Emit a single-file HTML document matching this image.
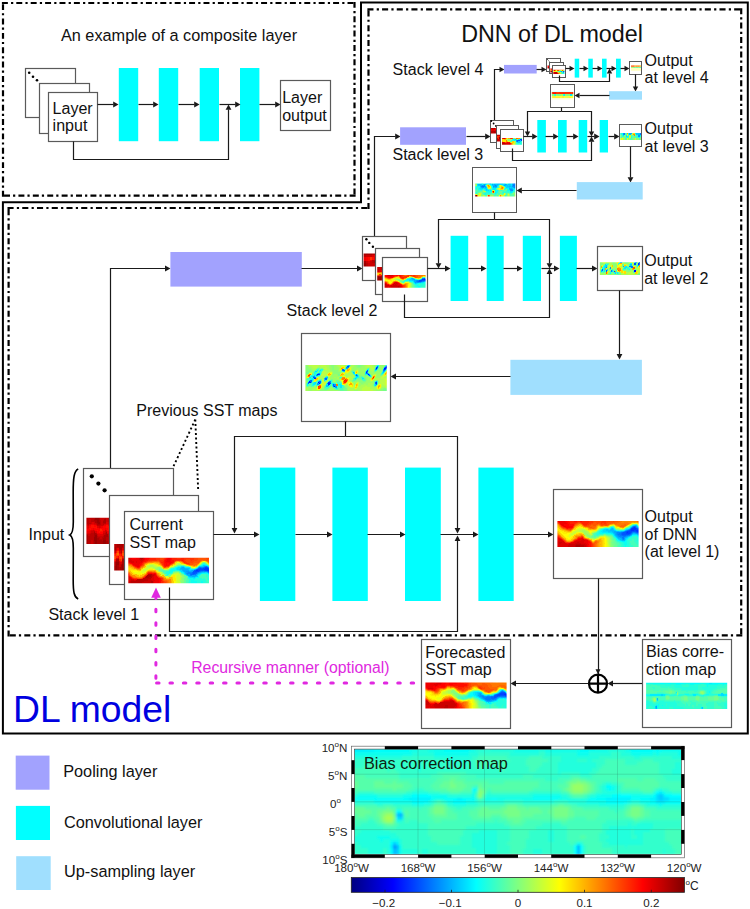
<!DOCTYPE html>
<html><head><meta charset="utf-8"><style>
html,body{margin:0;padding:0;background:#fff;width:750px;height:909px;overflow:hidden}
svg{display:block;font-family:"Liberation Sans",sans-serif}
</style></head><body>
<svg width="750" height="909" viewBox="0 0 750 909">
<defs><clipPath id="c1"><rect x="547.5" y="65.5" width="3.5" height="3"/></clipPath><clipPath id="c2"><rect x="550.3" y="68.5" width="3" height="4"/></clipPath><clipPath id="c3"><rect x="553.3" y="69.8" width="11.2" height="4.2"/></clipPath><clipPath id="c4"><rect x="631" y="65.2" width="10" height="5.5"/></clipPath><clipPath id="c5"><rect x="551.8" y="91.5" width="21.5" height="8"/></clipPath><clipPath id="c6"><rect x="490.9" y="127.9" width="5.5" height="5.7"/></clipPath><clipPath id="c7"><rect x="497" y="134.8" width="3.5" height="6.6"/></clipPath><clipPath id="c8"><rect x="502" y="138.1" width="20" height="6.6"/></clipPath><clipPath id="c9"><rect x="620.2" y="133.1" width="20.8" height="6.8"/></clipPath><clipPath id="c10"><rect x="475.2" y="183.6" width="40.1" height="13"/></clipPath><clipPath id="c11"><rect x="363.6" y="253.4" width="42" height="13.2"/></clipPath><clipPath id="c12"><rect x="377.2" y="267" width="41" height="13.4"/></clipPath><clipPath id="c13"><rect x="384.6" y="275.1" width="41" height="12.6"/></clipPath><clipPath id="c14"><rect x="599.8" y="262.2" width="40.2" height="12.9"/></clipPath><clipPath id="c15"><rect x="305.4" y="364.9" width="81.4" height="26.1"/></clipPath><clipPath id="c16"><rect x="86.4" y="517.7" width="23.5" height="26.2"/></clipPath><clipPath id="c17"><rect x="114.2" y="543.9" width="11" height="26.6"/></clipPath><clipPath id="c18"><rect x="128.3" y="557.7" width="80.7" height="25.6"/></clipPath><clipPath id="c19"><rect x="557.4" y="521" width="81.2" height="26"/></clipPath><clipPath id="c20"><rect x="425.4" y="682.6" width="81.2" height="25.8"/></clipPath><clipPath id="c21"><rect x="646.1" y="682.7" width="81.1" height="26.3"/></clipPath><clipPath id="c22"><rect x="354.6" y="749.2" width="326.6" height="105.4"/></clipPath><linearGradient id="jetg"><stop offset="0%" stop-color="#000080"/><stop offset="3.1%" stop-color="#00009f"/><stop offset="6.2%" stop-color="#0000bf"/><stop offset="9.4%" stop-color="#0000df"/><stop offset="12.5%" stop-color="#0000ff"/><stop offset="15.6%" stop-color="#0020ff"/><stop offset="18.8%" stop-color="#0040ff"/><stop offset="21.9%" stop-color="#0060ff"/><stop offset="25%" stop-color="#0080ff"/><stop offset="28.1%" stop-color="#009fff"/><stop offset="31.2%" stop-color="#00bfff"/><stop offset="34.4%" stop-color="#00dfff"/><stop offset="37.5%" stop-color="#00ffff"/><stop offset="40.6%" stop-color="#20ffdf"/><stop offset="43.8%" stop-color="#40ffbf"/><stop offset="46.9%" stop-color="#60ff9f"/><stop offset="50%" stop-color="#80ff80"/><stop offset="53.1%" stop-color="#9fff60"/><stop offset="56.2%" stop-color="#bfff40"/><stop offset="59.4%" stop-color="#dfff20"/><stop offset="62.5%" stop-color="#ffff00"/><stop offset="65.6%" stop-color="#ffdf00"/><stop offset="68.8%" stop-color="#ffbf00"/><stop offset="71.9%" stop-color="#ff9f00"/><stop offset="75%" stop-color="#ff8000"/><stop offset="78.1%" stop-color="#ff6000"/><stop offset="81.2%" stop-color="#ff4000"/><stop offset="84.4%" stop-color="#ff2000"/><stop offset="87.5%" stop-color="#ff0000"/><stop offset="90.6%" stop-color="#df0000"/><stop offset="93.8%" stop-color="#bf0000"/><stop offset="96.9%" stop-color="#9f0000"/><stop offset="100%" stop-color="#800000"/></linearGradient><filter id="bl0_3" x="-5%" y="-20%" width="110%" height="140%"><feGaussianBlur stdDeviation="0.3"/></filter><filter id="bl0_6" x="-5%" y="-20%" width="110%" height="140%"><feGaussianBlur stdDeviation="0.6"/></filter><filter id="bl0_55" x="-5%" y="-20%" width="110%" height="140%"><feGaussianBlur stdDeviation="0.55"/></filter><filter id="bl1_0" x="-5%" y="-20%" width="110%" height="140%"><feGaussianBlur stdDeviation="1.0"/></filter><filter id="bl0_4" x="-5%" y="-20%" width="110%" height="140%"><feGaussianBlur stdDeviation="0.4"/></filter><filter id="bl0_45" x="-5%" y="-20%" width="110%" height="140%"><feGaussianBlur stdDeviation="0.45"/></filter><filter id="bl0_35" x="-5%" y="-20%" width="110%" height="140%"><feGaussianBlur stdDeviation="0.35"/></filter><filter id="bl0_5" x="-5%" y="-20%" width="110%" height="140%"><feGaussianBlur stdDeviation="0.5"/></filter></defs>
<rect width="750" height="909" fill="#fff"/>
<path d="M3 3 L354.5 3" stroke="#000" stroke-width="2.2" stroke-dasharray="3.76 5.38 0.01 5.25" stroke-linecap="square" fill="none"/><path d="M354.5 3 L354.5 195.7" stroke="#000" stroke-width="2.2" stroke-dasharray="3.74 5.37 0.01 5.24" stroke-linecap="square" fill="none"/><path d="M354.5 195.7 L3 195.7" stroke="#000" stroke-width="2.2" stroke-dasharray="3.76 5.38 0.01 5.25" stroke-linecap="square" fill="none"/><path d="M3 195.7 L3 3" stroke="#000" stroke-width="2.2" stroke-dasharray="3.74 5.37 0.01 5.24" stroke-linecap="square" fill="none"/><path d="M2.9 202.2 H361 V2.6 H747.8 V733.6 H2.9 Z" fill="none" stroke="#000" stroke-width="2"/><path d="M8.6 208 L368.5 208" stroke="#000" stroke-width="2.2" stroke-dasharray="3.90 5.45 0.01 5.38" stroke-linecap="square" fill="none"/><path d="M368.5 208 L368.5 9.3" stroke="#000" stroke-width="2.2" stroke-dasharray="3.93 5.47 0.01 5.41" stroke-linecap="square" fill="none"/><path d="M368.5 9.3 L741.2 9.3" stroke="#000" stroke-width="2.2" stroke-dasharray="3.87 5.44 0.01 5.35" stroke-linecap="square" fill="none"/><path d="M741.2 9.3 L741.2 635.4" stroke="#000" stroke-width="2.2" stroke-dasharray="3.77 5.38 0.01 5.26" stroke-linecap="square" fill="none"/><path d="M741.2 635.4 L8.6 635.4" stroke="#000" stroke-width="2.2" stroke-dasharray="3.81 5.41 0.01 5.30" stroke-linecap="square" fill="none"/><path d="M8.6 635.4 L8.6 208" stroke="#000" stroke-width="2.2" stroke-dasharray="3.81 5.41 0.01 5.30" stroke-linecap="square" fill="none"/><rect x="25.5" y="68.5" width="50" height="49" fill="#fff" stroke="#5a5a5a" stroke-width="1.2"/><rect x="39.5" y="83.5" width="50" height="50" fill="#fff" stroke="#5a5a5a" stroke-width="1.2"/><rect x="48.5" y="92.5" width="49" height="49" fill="#fff" stroke="#5a5a5a" stroke-width="1.2"/><circle cx="29.2" cy="72.7" r="1.3" fill="#000"/><circle cx="33" cy="76.8" r="1.3" fill="#000"/><circle cx="37" cy="80.2" r="1.3" fill="#000"/><rect x="118.8" y="68" width="19.4" height="73.2" fill="#00ffff"/><rect x="158.8" y="68" width="19.4" height="73.2" fill="#00ffff"/><rect x="199.7" y="68" width="19.3" height="73.2" fill="#00ffff"/><rect x="240" y="68" width="19.4" height="73.2" fill="#00ffff"/><path d="M97.5 104.5 L113.5 104.5" fill="none" stroke="#1a1a1a" stroke-width="1.2"/><path d="M118.5 104.5 L113.2 101.6 L113.2 107.4 Z" fill="#1a1a1a"/><path d="M138.5 104.5 L153.5 104.5" fill="none" stroke="#1a1a1a" stroke-width="1.2"/><path d="M158.5 104.5 L153.2 101.6 L153.2 107.4 Z" fill="#1a1a1a"/><path d="M178.5 104.5 L194.5 104.5" fill="none" stroke="#1a1a1a" stroke-width="1.2"/><path d="M199.5 104.5 L194.2 101.6 L194.2 107.4 Z" fill="#1a1a1a"/><path d="M219.5 104.5 L235.5 104.5" fill="none" stroke="#1a1a1a" stroke-width="1.2"/><path d="M240.5 104.5 L235.2 101.6 L235.2 107.4 Z" fill="#1a1a1a"/><path d="M259.5 104.5 L275.5 104.5" fill="none" stroke="#1a1a1a" stroke-width="1.2"/><path d="M280.5 104.5 L275.2 101.6 L275.2 107.4 Z" fill="#1a1a1a"/><rect x="280.5" y="80.5" width="50" height="50" fill="#fff" stroke="#5a5a5a" stroke-width="1.2"/><path d="M73.5 141.5 L73.5 159.5 L228.5 159.5 L228.5 109.5" fill="none" stroke="#1a1a1a" stroke-width="1.2"/><path d="M228.5 104.5 L225.6 109.8 L231.4 109.8 Z" fill="#1a1a1a"/><path d="M494.5 120.5 L494.5 69.5 L500.5 69.5" fill="none" stroke="#1a1a1a" stroke-width="1.2"/><path d="M504.5 69.5 L499.5 66.8 L499.5 72.2 Z" fill="#1a1a1a"/><rect x="504" y="64.9" width="32.7" height="8.6" fill="#a2a2fe"/><path d="M536.5 69.5 L542.5 69.5" fill="none" stroke="#1a1a1a" stroke-width="1.2"/><path d="M546.5 69.5 L541.5 66.8 L541.5 72.2 Z" fill="#1a1a1a"/><rect x="546.5" y="58.5" width="14" height="13" fill="#fff" stroke="#5a5a5a" stroke-width="1"/><g clip-path="url(#c1)"><g filter="url(#bl0_3)"><g shape-rendering="crispEdges"><path fill="#a00" d="M546.6 63.5h2.1v1.4h-2.1zM550.1 63.5h2.1v1.4h-2.1zM546.6 64.5h2.1v1.4h-2.1zM550.1 64.5h2.1v1.4h-2.1z"/><path fill="#900" d="M548.4 63.5h1.3v1.4h-1.3zM548.4 64.5h1.3v1.4h-1.3zM546.6 66.5h2.1v1.4h-2.1zM549.2 66.5h1.3v1.4h-1.3zM546.6 67.5h2.1v1.4h-2.1zM549.2 67.5h1.3v1.4h-1.3z"/><path fill="#b00" d="M549.2 63.5h1.3v1.4h-1.3zM549.2 64.5h1.3v1.4h-1.3zM548.4 66.5h1.3v1.4h-1.3zM548.4 67.5h1.3v1.4h-1.3z"/><path fill="#f10" d="M546.6 65.5h2.1v1.4h-2.1zM549.2 65.5h3v1.4h-3z"/><path fill="#f00" d="M548.4 65.5h1.3v1.4h-1.3z"/><path fill="#c00" d="M550.1 66.5h2.1v1.4h-2.1zM550.1 67.5h2.1v1.4h-2.1z"/></g></g></g><path d="M547.3 59.3 L550 62.2" stroke="#000" stroke-width="1" stroke-dasharray="1 0.8"/><rect x="549.5" y="62.5" width="14" height="11" fill="#fff" stroke="#5a5a5a" stroke-width="1"/><g clip-path="url(#c2)"><g filter="url(#bl0_3)"><g shape-rendering="crispEdges"><path fill="#b00" d="M549.3 66.5h2.4v1.4h-2.4zM552.3 66.5h2.4v1.4h-2.4zM549.3 67.5h2.4v1.4h-2.4zM552.3 67.5h2.4v1.4h-2.4zM552.3 70.5h2.4v1.4h-2.4zM552.3 71.5h2.4v1.4h-2.4z"/><path fill="#c00" d="M551.3 66.5h1.4v1.4h-1.4zM551.3 67.5h1.4v1.4h-1.4z"/><path fill="#f50" d="M549.3 68.5h2.4v1.4h-2.4z"/><path fill="#f20" d="M551.3 68.5h1.4v1.4h-1.4z"/><path fill="#f90" d="M552.3 68.5h2.4v1.4h-2.4z"/><path fill="#f60" d="M549.3 69.5h2.4v1.4h-2.4z"/><path fill="#f70" d="M551.3 69.5h1.4v1.4h-1.4z"/><path fill="#e00" d="M552.3 69.5h2.4v1.4h-2.4z"/><path fill="#a00" d="M549.3 70.5h2.4v1.4h-2.4zM549.3 71.5h2.4v1.4h-2.4z"/><path fill="#900" d="M551.3 70.5h1.4v1.4h-1.4zM551.3 71.5h1.4v1.4h-1.4z"/></g></g></g><rect x="552.5" y="65.5" width="13" height="12" fill="#fff" stroke="#5a5a5a" stroke-width="1"/><g clip-path="url(#c3)"><g filter="url(#bl0_35)"><g shape-rendering="crispEdges"><path fill="#e00" d="M552.4 68.1h2.3v1.2h-2.3zM552.4 69h2.3v1.2h-2.3zM557 72.3h1.3v1.2h-1.3zM557 73.2h1.3v1.2h-1.3z"/><path fill="#f20" d="M554.2 68.1h2.3v1.2h-2.3zM554.2 69h2.3v1.2h-2.3z"/><path fill="#f30" d="M556.1 68.1h1.3v1.2h-1.3zM556.1 69h1.3v1.2h-1.3zM552.4 71.5h2.3v1.2h-2.3z"/><path fill="#f40" d="M557 68.1h2.3v1.2h-2.3zM557 69h2.3v1.2h-2.3zM558 69.8h1.3v1.2h-1.3zM554.2 71.5h1.3v1.2h-1.3z"/><path fill="#f50" d="M558.9 68.1h1.3v1.2h-1.3zM560.8 68.1h1.3v1.2h-1.3zM562.6 68.1h1.3v1.2h-1.3zM558.9 69h1.3v1.2h-1.3zM560.8 69h1.3v1.2h-1.3zM562.6 69h1.3v1.2h-1.3zM557 69.8h1.3v1.2h-1.3zM561.7 69.8h1.3v1.2h-1.3zM558 72.3h1.3v1.2h-1.3zM558 73.2h1.3v1.2h-1.3z"/><path fill="#f60" d="M559.8 68.1h1.3v1.2h-1.3zM561.7 68.1h1.3v1.2h-1.3zM563.6 68.1h2.3v1.2h-2.3zM559.8 69h1.3v1.2h-1.3zM561.7 69h1.3v1.2h-1.3zM563.6 69h2.3v1.2h-2.3zM552.4 69.8h2.3v1.2h-2.3zM555.2 71.5h1.3v1.2h-1.3zM557 71.5h1.3v1.2h-1.3z"/><path fill="#f00" d="M554.2 69.8h1.3v1.2h-1.3z"/><path fill="#f80" d="M555.2 69.8h1.3v1.2h-1.3z"/><path fill="#ff0" d="M556.1 69.8h1.3v1.2h-1.3zM560.8 69.8h1.3v1.2h-1.3z"/><path fill="#fd0" d="M558.9 69.8h1.3v1.2h-1.3zM554.2 70.6h1.3v1.2h-1.3z"/><path fill="#8f7" d="M559.8 69.8h1.3v1.2h-1.3zM563.6 69.8h2.3v1.2h-2.3zM557 70.6h1.3v1.2h-1.3z"/><path fill="#df2" d="M562.6 69.8h1.3v1.2h-1.3z"/><path fill="#fe0" d="M552.4 70.6h2.3v1.2h-2.3zM558.9 71.5h1.3v1.2h-1.3z"/><path fill="#ef1" d="M555.2 70.6h1.3v1.2h-1.3z"/><path fill="#cf3" d="M556.1 70.6h1.3v1.2h-1.3zM559.8 72.3h1.3v1.2h-1.3zM559.8 73.2h1.3v1.2h-1.3z"/><path fill="#7f8" d="M558 70.6h1.3v1.2h-1.3z"/><path fill="#0ff" d="M558.9 70.6h1.3v1.2h-1.3z"/><path fill="#0df" d="M559.8 70.6h1.3v1.2h-1.3z"/><path fill="#09f" d="M560.8 70.6h1.3v1.2h-1.3zM561.7 71.5h1.3v1.2h-1.3z"/><path fill="#4fb" d="M561.7 70.6h1.3v1.2h-1.3z"/><path fill="#05f" d="M562.6 70.6h1.3v1.2h-1.3z"/><path fill="#04f" d="M563.6 70.6h2.3v1.2h-2.3z"/><path fill="#d00" d="M556.1 71.5h1.3v1.2h-1.3zM552.4 72.3h2.3v1.2h-2.3zM552.4 73.2h2.3v1.2h-2.3z"/><path fill="#af5" d="M558 71.5h1.3v1.2h-1.3z"/><path fill="#bf4" d="M559.8 71.5h1.3v1.2h-1.3z"/><path fill="#2fd" d="M560.8 71.5h1.3v1.2h-1.3zM563.6 71.5h2.3v1.2h-2.3zM562.6 72.3h3.2v1.2h-3.2zM562.6 73.2h3.2v1.2h-3.2z"/><path fill="#0bf" d="M562.6 71.5h1.3v1.2h-1.3z"/><path fill="#c00" d="M554.2 72.3h1.3v1.2h-1.3zM556.1 72.3h1.3v1.2h-1.3zM554.2 73.2h1.3v1.2h-1.3zM556.1 73.2h1.3v1.2h-1.3z"/><path fill="#b00" d="M555.2 72.3h1.3v1.2h-1.3zM555.2 73.2h1.3v1.2h-1.3z"/><path fill="#fc0" d="M558.9 72.3h1.3v1.2h-1.3zM558.9 73.2h1.3v1.2h-1.3z"/><path fill="#6f9" d="M560.8 72.3h1.3v1.2h-1.3zM560.8 73.2h1.3v1.2h-1.3z"/><path fill="#3fc" d="M561.7 72.3h1.3v1.2h-1.3zM561.7 73.2h1.3v1.2h-1.3z"/></g></g></g><rect x="574.7" y="58.7" width="4.5" height="18.9" fill="#00ffff"/><rect x="588.3" y="58.7" width="4.5" height="18.9" fill="#00ffff"/><rect x="602" y="58.7" width="4.6" height="18.9" fill="#00ffff"/><rect x="616" y="58.7" width="4.8" height="18.9" fill="#00ffff"/><path d="M565.5 68.5 L570.5 68.5" fill="none" stroke="#1a1a1a" stroke-width="1.2"/><path d="M574.5 68.5 L569.5 65.8 L569.5 71.2 Z" fill="#1a1a1a"/><path d="M579.5 68.5 L584.5 68.5" fill="none" stroke="#1a1a1a" stroke-width="1.2"/><path d="M588.5 68.5 L583.5 65.8 L583.5 71.2 Z" fill="#1a1a1a"/><path d="M592.5 68.5 L598.5 68.5" fill="none" stroke="#1a1a1a" stroke-width="1.2"/><path d="M602.5 68.5 L597.5 65.8 L597.5 71.2 Z" fill="#1a1a1a"/><path d="M606.5 68.5 L612.5 68.5" fill="none" stroke="#1a1a1a" stroke-width="1.2"/><path d="M616.5 68.5 L611.5 65.8 L611.5 71.2 Z" fill="#1a1a1a"/><path d="M620.5 68.5 L625.5 68.5" fill="none" stroke="#1a1a1a" stroke-width="1.2"/><path d="M629.5 68.5 L624.5 65.8 L624.5 71.2 Z" fill="#1a1a1a"/><rect x="629.5" y="61.5" width="12" height="13" fill="#fff" stroke="#5a5a5a" stroke-width="1"/><g clip-path="url(#c4)"><g filter="url(#bl0_35)"><g shape-rendering="crispEdges"><path fill="#ffb" d="M630 63.4h12.4v1.3h-12.4zM630 64.3h12.4v1.3h-12.4zM630 68h12.4v1.3h-12.4zM630 68.9h12.4v1.3h-12.4zM630 69.8h12.4v1.3h-12.4z"/><path fill="#f84" d="M630 65.2h3.4v1.3h-3.4z"/><path fill="#f74" d="M633 65.2h1.4v1.3h-1.4zM630 66.1h4.4v1.3h-4.4z"/><path fill="#fa4" d="M634 65.2h1.4v1.3h-1.4zM636 65.2h3.4v1.3h-3.4zM634 66.1h2.4v1.3h-2.4zM637 66.1h1.4v1.3h-1.4zM639 66.1h1.4v1.3h-1.4z"/><path fill="#fb4" d="M635 65.2h1.4v1.3h-1.4zM639 65.2h1.4v1.3h-1.4z"/><path fill="#fc4" d="M640 65.2h2.4v1.3h-2.4zM640 66.1h2.4v1.3h-2.4z"/><path fill="#f94" d="M636 66.1h1.4v1.3h-1.4zM638 66.1h1.4v1.3h-1.4z"/><path fill="#af8" d="M630 67h2.4v1.3h-2.4z"/><path fill="#af7" d="M632 67h2.4v1.3h-2.4z"/><path fill="#7fa" d="M634 67h1.4v1.3h-1.4zM639 67h1.4v1.3h-1.4z"/><path fill="#8fa" d="M635 67h1.4v1.3h-1.4z"/><path fill="#8f9" d="M636 67h1.4v1.3h-1.4z"/><path fill="#6fb" d="M637 67h1.4v1.3h-1.4z"/><path fill="#9f9" d="M638 67h1.4v1.3h-1.4z"/><path fill="#5fc" d="M640 67h2.4v1.3h-2.4z"/></g></g></g><path d="M559.5 75.5 L559.5 81.5 L609.5 81.5 L609.5 73.5" fill="none" stroke="#1a1a1a" stroke-width="1.2"/><path d="M609.5 68.5 L606.8 73.5 L612.2 73.5 Z" fill="#1a1a1a"/><path d="M635.5 74.5 L635.5 87.5" fill="none" stroke="#1a1a1a" stroke-width="1.2"/><path d="M635.5 91.5 L632.8 86.5 L638.2 86.5 Z" fill="#1a1a1a"/><rect x="609" y="91.2" width="33" height="8.5" fill="#a0dffe"/><path d="M609.5 95.5 L579.5 95.5" fill="none" stroke="#1a1a1a" stroke-width="1.2"/><path d="M574.5 95.5 L579.5 92.8 L579.5 98.2 Z" fill="#1a1a1a"/><rect x="550.5" y="84.5" width="24" height="23" fill="#fff" stroke="#5a5a5a" stroke-width="1"/><g clip-path="url(#c5)"><g filter="url(#bl0_35)"><g shape-rendering="crispEdges"><path fill="#cff" d="M550.8 89.5h23.9v1.4h-23.9zM550.8 90.5h23.9v1.4h-23.9z"/><path fill="#f40" d="M550.8 91.5h2.4v1.4h-2.4zM556.7 91.5h2.4v1.4h-2.4zM570.4 91.5h2.4v1.4h-2.4zM550.8 92.5h2.4v1.4h-2.4zM571.3 92.5h1.4v1.4h-1.4z"/><path fill="#f20" d="M552.8 91.5h3.3v1.4h-3.3zM559.6 92.5h5.3v1.4h-5.3zM572.3 92.5h2.4v1.4h-2.4z"/><path fill="#f30" d="M555.7 91.5h1.4v1.4h-1.4zM558.6 91.5h12.1v1.4h-12.1zM572.3 91.5h2.4v1.4h-2.4zM555.7 92.5h4.3v1.4h-4.3zM564.5 92.5h7.2v1.4h-7.2z"/><path fill="#f10" d="M552.8 92.5h3.3v1.4h-3.3z"/><path fill="#7f8" d="M550.8 93.5h2.4v1.4h-2.4zM556.7 93.5h2.4v1.4h-2.4zM567.4 93.5h1.4v1.4h-1.4zM571.3 93.5h1.4v1.4h-1.4zM550.8 94.5h2.4v1.4h-2.4zM557.7 94.5h1.4v1.4h-1.4zM566.5 94.5h2.4v1.4h-2.4z"/><path fill="#af5" d="M552.8 93.5h1.4v1.4h-1.4zM560.6 93.5h2.4v1.4h-2.4zM552.8 94.5h1.4v1.4h-1.4zM560.6 94.5h2.4v1.4h-2.4z"/><path fill="#3fc" d="M553.8 93.5h1.4v1.4h-1.4zM553.8 94.5h1.4v1.4h-1.4z"/><path fill="#2fd" d="M554.7 93.5h1.4v1.4h-1.4zM554.7 94.5h1.4v1.4h-1.4z"/><path fill="#9f6" d="M555.7 93.5h1.4v1.4h-1.4zM564.5 93.5h1.4v1.4h-1.4zM555.7 94.5h1.4v1.4h-1.4zM564.5 94.5h1.4v1.4h-1.4z"/><path fill="#8f7" d="M558.6 93.5h2.4v1.4h-2.4zM565.5 93.5h2.4v1.4h-2.4zM568.4 93.5h2.4v1.4h-2.4zM572.3 93.5h2.4v1.4h-2.4zM556.7 94.5h1.4v1.4h-1.4zM558.6 94.5h2.4v1.4h-2.4zM565.5 94.5h1.4v1.4h-1.4zM568.4 94.5h2.4v1.4h-2.4zM571.3 94.5h3.3v1.4h-3.3z"/><path fill="#1fe" d="M562.5 93.5h1.4v1.4h-1.4zM562.5 94.5h1.4v1.4h-1.4z"/><path fill="#0ef" d="M563.5 93.5h1.4v1.4h-1.4zM563.5 94.5h1.4v1.4h-1.4zM570.4 94.5h1.4v1.4h-1.4z"/><path fill="#0df" d="M570.4 93.5h1.4v1.4h-1.4z"/><path fill="#ef4" d="M550.8 95.5h2.4v1.4h-2.4zM564.5 95.5h4.3v1.4h-4.3zM571.3 95.5h3.3v1.4h-3.3zM564.5 96.5h2.4v1.4h-2.4zM568.4 96.5h1.4v1.4h-1.4z"/><path fill="#fe3" d="M552.8 95.5h3.3v1.4h-3.3zM561.6 95.5h2.4v1.4h-2.4zM552.8 96.5h7.2v1.4h-7.2zM561.6 96.5h2.4v1.4h-2.4zM569.4 96.5h2.4v1.4h-2.4z"/><path fill="#ff3" d="M555.7 95.5h6.3v1.4h-6.3zM563.5 95.5h1.4v1.4h-1.4zM568.4 95.5h3.3v1.4h-3.3zM550.8 96.5h2.4v1.4h-2.4zM559.6 96.5h2.4v1.4h-2.4zM563.5 96.5h1.4v1.4h-1.4zM571.3 96.5h3.3v1.4h-3.3z"/><path fill="#df5" d="M566.5 96.5h2.4v1.4h-2.4z"/><path fill="#ffc" d="M550.8 97.5h23.9v1.4h-23.9zM550.8 98.5h23.9v1.4h-23.9z"/></g></g></g><path d="M561.5 107.5 L561.5 111.5" fill="none" stroke="#1a1a1a" stroke-width="1.2"/><path d="M561.5 111.5 L527.5 111.5 L527.5 132.5" fill="none" stroke="#1a1a1a" stroke-width="1.2"/><path d="M527.5 136.5 L524.8 131.5 L530.2 131.5 Z" fill="#1a1a1a"/><path d="M561.5 111.5 L591.5 111.5 L591.5 132.5" fill="none" stroke="#1a1a1a" stroke-width="1.2"/><path d="M591.5 136.5 L588.8 131.5 L594.2 131.5 Z" fill="#1a1a1a"/><path d="M374.5 236.5 L374.5 136.5 L395.5 136.5" fill="none" stroke="#1a1a1a" stroke-width="1.2"/><path d="M400.5 136.5 L395.2 133.6 L395.2 139.4 Z" fill="#1a1a1a"/><rect x="400.1" y="127.3" width="65.9" height="17.5" fill="#a2a2fe"/><path d="M466.5 136.5 L485.5 136.5" fill="none" stroke="#1a1a1a" stroke-width="1.2"/><path d="M490.5 136.5 L485.2 133.6 L485.2 139.4 Z" fill="#1a1a1a"/><rect x="490.5" y="120.5" width="23" height="22" fill="#fff" stroke="#5a5a5a" stroke-width="1"/><g clip-path="url(#c6)"><g filter="url(#bl0_3)"><g shape-rendering="crispEdges"><path fill="#c00" d="M489.5 125.1h4.5v1.8h-4.5zM489.5 126.5h4.5v1.8h-4.5zM489.5 127.9h3.1v1.8h-3.1zM495 129.3h3.1v1.8h-3.1z"/><path fill="#a00" d="M493.6 125.1h1.8v1.8h-1.8zM493.6 126.5h1.8v1.8h-1.8zM493.6 127.9h1.8v1.8h-1.8zM493.6 130.8h1.8v1.8h-1.8zM493.6 132.2h1.8v1.8h-1.8z"/><path fill="#b00" d="M495 125.1h3.1v1.8h-3.1zM495 126.5h3.1v1.8h-3.1zM492.3 127.9h1.8v1.8h-1.8zM489.5 130.8h4.5v1.8h-4.5zM495 130.8h3.1v1.8h-3.1zM489.5 132.2h4.5v1.8h-4.5zM495 132.2h3.1v1.8h-3.1z"/><path fill="#f00" d="M495 127.9h3.1v1.8h-3.1z"/><path fill="#e00" d="M489.5 129.3h3.1v1.8h-3.1zM493.6 129.3h1.8v1.8h-1.8z"/><path fill="#d00" d="M492.3 129.3h1.8v1.8h-1.8z"/></g></g></g><circle cx="491.3" cy="121" r="0.9" fill="#000"/><circle cx="493.6" cy="123.5" r="0.9" fill="#000"/><circle cx="495.9" cy="125.9" r="0.9" fill="#000"/><rect x="496.5" y="125.5" width="22" height="23" fill="#fff" stroke="#5a5a5a" stroke-width="1"/><g clip-path="url(#c7)"><g filter="url(#bl0_3)"><g shape-rendering="crispEdges"><path fill="#b00" d="M495.8 132.2h3.9v1.7h-3.9zM495.8 133.5h3.9v1.7h-3.9zM498.2 134.8h1.6v1.7h-1.6zM495.8 138.8h2.7v1.7h-2.7zM499.3 138.8h2.7v1.7h-2.7zM495.8 140.1h2.7v1.7h-2.7zM499.3 140.1h2.7v1.7h-2.7z"/><path fill="#a00" d="M499.3 132.2h2.7v1.7h-2.7zM499.3 133.5h2.7v1.7h-2.7z"/><path fill="#c00" d="M495.8 134.8h2.7v1.7h-2.7zM499.3 134.8h2.7v1.7h-2.7zM495.8 137.4h2.7v1.7h-2.7zM498.2 138.8h1.6v1.7h-1.6zM498.2 140.1h1.6v1.7h-1.6z"/><path fill="#f30" d="M495.8 136.1h3.9v1.7h-3.9z"/><path fill="#f10" d="M499.3 136.1h2.7v1.7h-2.7z"/><path fill="#f20" d="M498.2 137.4h1.6v1.7h-1.6z"/><path fill="#900" d="M499.3 137.4h2.7v1.7h-2.7z"/></g></g></g><rect x="500.5" y="129.5" width="23" height="22" fill="#fff" stroke="#5a5a5a" stroke-width="1"/><g clip-path="url(#c8)"><g filter="url(#bl0_3)"><g shape-rendering="crispEdges"><path fill="#c00" d="M500.8 135.9h2.9v1.5h-2.9zM500.8 137h2.9v1.5h-2.9zM504.5 142.5h1.6v1.5h-1.6zM508.2 142.5h1.6v1.5h-1.6zM504.5 143.6h1.6v1.5h-1.6zM508.2 143.6h1.6v1.5h-1.6z"/><path fill="#e00" d="M503.2 135.9h1.6v1.5h-1.6zM503.2 137h1.6v1.5h-1.6zM507 141.4h1.6v1.5h-1.6z"/><path fill="#f00" d="M504.5 135.9h4.2v1.5h-4.2zM504.5 137h4.2v1.5h-4.2zM503.2 141.4h1.6v1.5h-1.6zM508.2 141.4h1.6v1.5h-1.6z"/><path fill="#f10" d="M508.2 135.9h2.9v1.5h-2.9zM508.2 137h2.9v1.5h-2.9zM509.5 142.5h1.6v1.5h-1.6zM509.5 143.6h1.6v1.5h-1.6z"/><path fill="#f20" d="M510.8 135.9h5.4v1.5h-5.4zM510.8 137h5.4v1.5h-5.4zM500.8 138.1h2.9v1.5h-2.9zM510.8 138.1h1.6v1.5h-1.6zM505.8 141.4h1.6v1.5h-1.6z"/><path fill="#f40" d="M515.8 135.9h2.9v1.5h-2.9zM515.8 137h2.9v1.5h-2.9zM509.5 138.1h1.6v1.5h-1.6zM512 138.1h1.6v1.5h-1.6z"/><path fill="#f50" d="M518.2 135.9h1.6v1.5h-1.6zM520.8 135.9h2.9v1.5h-2.9zM518.2 137h1.6v1.5h-1.6zM520.8 137h2.9v1.5h-2.9zM504.5 141.4h1.6v1.5h-1.6z"/><path fill="#f60" d="M519.5 135.9h1.6v1.5h-1.6zM519.5 137h1.6v1.5h-1.6zM515.8 138.1h1.6v1.5h-1.6zM510.8 142.5h1.6v1.5h-1.6zM510.8 143.6h1.6v1.5h-1.6z"/><path fill="#d00" d="M503.2 138.1h1.6v1.5h-1.6zM500.8 141.4h2.9v1.5h-2.9zM505.8 142.5h2.9v1.5h-2.9zM505.8 143.6h2.9v1.5h-2.9z"/><path fill="#f30" d="M504.5 138.1h1.6v1.5h-1.6z"/><path fill="#fb0" d="M505.8 138.1h1.6v1.5h-1.6zM503.2 139.2h2.9v1.5h-2.9zM500.8 140.3h2.9v1.5h-2.9zM507 140.3h1.6v1.5h-1.6zM509.5 141.4h1.6v1.5h-1.6zM512 142.5h1.6v1.5h-1.6zM512 143.6h1.6v1.5h-1.6z"/><path fill="#ef1" d="M507 138.1h1.6v1.5h-1.6zM510.8 141.4h1.6v1.5h-1.6z"/><path fill="#fa0" d="M508.2 138.1h1.6v1.5h-1.6z"/><path fill="#7f8" d="M513.2 138.1h1.6v1.5h-1.6z"/><path fill="#df2" d="M514.5 138.1h1.6v1.5h-1.6zM508.2 140.3h1.6v1.5h-1.6zM513.2 141.4h1.6v1.5h-1.6zM513.2 142.5h1.6v1.5h-1.6zM513.2 143.6h1.6v1.5h-1.6z"/><path fill="#f70" d="M517 138.1h1.6v1.5h-1.6z"/><path fill="#f90" d="M518.2 138.1h1.6v1.5h-1.6z"/><path fill="#5fa" d="M519.5 138.1h1.6v1.5h-1.6zM509.5 140.3h1.6v1.5h-1.6z"/><path fill="#4fb" d="M520.8 138.1h2.9v1.5h-2.9zM515.8 142.5h1.6v1.5h-1.6zM515.8 143.6h1.6v1.5h-1.6z"/><path fill="#fd0" d="M500.8 139.2h2.9v1.5h-2.9z"/><path fill="#cf3" d="M505.8 139.2h1.6v1.5h-1.6zM510.8 139.2h1.6v1.5h-1.6z"/><path fill="#af5" d="M507 139.2h1.6v1.5h-1.6zM513.2 140.3h1.6v1.5h-1.6z"/><path fill="#8f7" d="M508.2 139.2h2.9v1.5h-2.9zM514.5 142.5h1.6v1.5h-1.6zM514.5 143.6h1.6v1.5h-1.6z"/><path fill="#1fe" d="M512 139.2h1.6v1.5h-1.6zM519.5 142.5h1.6v1.5h-1.6zM519.5 143.6h1.6v1.5h-1.6z"/><path fill="#0ef" d="M513.2 139.2h1.6v1.5h-1.6zM515.8 139.2h1.6v1.5h-1.6z"/><path fill="#0bf" d="M514.5 139.2h1.6v1.5h-1.6zM520.8 140.3h2.9v1.5h-2.9z"/><path fill="#bf4" d="M517 139.2h1.6v1.5h-1.6z"/><path fill="#0df" d="M518.2 139.2h1.6v1.5h-1.6zM517 141.4h1.6v1.5h-1.6z"/><path fill="#04f" d="M519.5 139.2h1.6v1.5h-1.6z"/><path fill="#03f" d="M520.8 139.2h2.9v1.5h-2.9z"/><path fill="#fe0" d="M503.2 140.3h2.9v1.5h-2.9z"/><path fill="#f80" d="M505.8 140.3h1.6v1.5h-1.6z"/><path fill="#3fc" d="M510.8 140.3h1.6v1.5h-1.6zM520.8 141.4h2.9v1.5h-2.9zM518.2 142.5h1.6v1.5h-1.6zM520.8 142.5h2.9v1.5h-2.9zM518.2 143.6h1.6v1.5h-1.6zM520.8 143.6h2.9v1.5h-2.9z"/><path fill="#2fd" d="M512 140.3h1.6v1.5h-1.6zM514.5 140.3h1.6v1.5h-1.6zM515.8 141.4h1.6v1.5h-1.6zM519.5 141.4h1.6v1.5h-1.6zM517 142.5h1.6v1.5h-1.6zM517 143.6h1.6v1.5h-1.6z"/><path fill="#09f" d="M515.8 140.3h1.6v1.5h-1.6z"/><path fill="#06f" d="M517 140.3h1.6v1.5h-1.6z"/><path fill="#05f" d="M518.2 140.3h1.6v1.5h-1.6z"/><path fill="#0cf" d="M519.5 140.3h1.6v1.5h-1.6zM518.2 141.4h1.6v1.5h-1.6z"/><path fill="#fc0" d="M512 141.4h1.6v1.5h-1.6z"/><path fill="#9f6" d="M514.5 141.4h1.6v1.5h-1.6z"/><path fill="#b00" d="M500.8 142.5h4.2v1.5h-4.2zM500.8 143.6h4.2v1.5h-4.2z"/></g></g></g><rect x="537.3" y="120" width="8.6" height="32.5" fill="#00ffff"/><rect x="558" y="120" width="8.7" height="32.5" fill="#00ffff"/><rect x="578.7" y="120" width="8.5" height="32.5" fill="#00ffff"/><rect x="599.7" y="120" width="8.3" height="32.5" fill="#00ffff"/><path d="M523.5 136.5 L532.5 136.5" fill="none" stroke="#1a1a1a" stroke-width="1.2"/><path d="M537.5 136.5 L532.2 133.6 L532.2 139.4 Z" fill="#1a1a1a"/><path d="M545.5 136.5 L553.5 136.5" fill="none" stroke="#1a1a1a" stroke-width="1.2"/><path d="M558.5 136.5 L553.2 133.6 L553.2 139.4 Z" fill="#1a1a1a"/><path d="M566.5 136.5 L573.5 136.5" fill="none" stroke="#1a1a1a" stroke-width="1.2"/><path d="M578.5 136.5 L573.2 133.6 L573.2 139.4 Z" fill="#1a1a1a"/><path d="M587.5 136.5 L594.5 136.5" fill="none" stroke="#1a1a1a" stroke-width="1.2"/><path d="M599.5 136.5 L594.2 133.6 L594.2 139.4 Z" fill="#1a1a1a"/><path d="M608.5 136.5 L614.5 136.5" fill="none" stroke="#1a1a1a" stroke-width="1.2"/><path d="M619.5 136.5 L614.2 133.6 L614.2 139.4 Z" fill="#1a1a1a"/><rect x="619.5" y="124.5" width="22" height="22" fill="#fff" stroke="#5a5a5a" stroke-width="1"/><g clip-path="url(#c9)"><g filter="url(#bl0_3)"><g shape-rendering="crispEdges"><path fill="#2fd" d="M618.9 130.8h3v1.5h-3zM618.9 132h3v1.5h-3zM618.9 133.1h3v1.5h-3zM622.8 135.4h1.7v1.5h-1.7zM630.6 135.4h1.7v1.5h-1.7zM637.1 135.4h1.7v1.5h-1.7zM639.7 135.4h3v1.5h-3z"/><path fill="#0df" d="M621.5 130.8h1.7v1.5h-1.7zM633.2 130.8h4.3v1.5h-4.3zM621.5 132h1.7v1.5h-1.7zM633.2 132h4.3v1.5h-4.3zM622.8 134.2h4.3v1.5h-4.3zM625.4 135.4h1.7v1.5h-1.7z"/><path fill="#0ff" d="M622.8 130.8h3v1.5h-3zM628 130.8h1.7v1.5h-1.7zM638.4 130.8h1.7v1.5h-1.7zM622.8 132h3v1.5h-3zM628 132h1.7v1.5h-1.7zM638.4 132h1.7v1.5h-1.7zM621.5 133.1h1.7v1.5h-1.7zM621.5 134.2h1.7v1.5h-1.7zM635.8 134.2h1.7v1.5h-1.7z"/><path fill="#0ef" d="M625.4 130.8h1.7v1.5h-1.7zM625.4 132h1.7v1.5h-1.7zM634.5 133.1h1.7v1.5h-1.7zM629.3 134.2h1.7v1.5h-1.7zM639.7 134.2h3v1.5h-3zM626.7 135.4h1.7v1.5h-1.7z"/><path fill="#0cf" d="M626.7 130.8h1.7v1.5h-1.7zM629.3 130.8h1.7v1.5h-1.7zM631.9 130.8h1.7v1.5h-1.7zM637.1 130.8h1.7v1.5h-1.7zM626.7 132h1.7v1.5h-1.7zM629.3 132h1.7v1.5h-1.7zM631.9 132h1.7v1.5h-1.7zM637.1 132h1.7v1.5h-1.7zM635.8 133.1h4.3v1.5h-4.3zM637.1 134.2h1.7v1.5h-1.7z"/><path fill="#0bf" d="M630.6 130.8h1.7v1.5h-1.7zM630.6 132h1.7v1.5h-1.7zM638.4 134.2h1.7v1.5h-1.7z"/><path fill="#08f" d="M639.7 130.8h3v1.5h-3zM639.7 132h3v1.5h-3z"/><path fill="#09f" d="M622.8 133.1h1.7v1.5h-1.7zM638.4 135.4h1.7v1.5h-1.7z"/><path fill="#07f" d="M624.1 133.1h1.7v1.5h-1.7zM639.7 133.1h3v1.5h-3z"/><path fill="#4fb" d="M625.4 133.1h1.7v1.5h-1.7zM628 134.2h1.7v1.5h-1.7zM633.2 135.4h1.7v1.5h-1.7zM618.9 136.5h3v1.5h-3zM635.8 136.5h3v1.5h-3zM625.4 137.6h1.7v1.5h-1.7zM625.4 138.8h1.7v1.5h-1.7z"/><path fill="#f90" d="M626.7 133.1h1.7v1.5h-1.7z"/><path fill="#1fe" d="M628 133.1h1.7v1.5h-1.7zM628 135.4h1.7v1.5h-1.7zM626.7 136.5h1.7v1.5h-1.7zM630.6 136.5h1.7v1.5h-1.7zM638.4 136.5h1.7v1.5h-1.7z"/><path fill="#0af" d="M629.3 133.1h3v1.5h-3z"/><path fill="#bf4" d="M631.9 133.1h1.7v1.5h-1.7z"/><path fill="#fd0" d="M633.2 133.1h1.7v1.5h-1.7z"/><path fill="#3fc" d="M618.9 134.2h3v1.5h-3zM621.5 135.4h1.7v1.5h-1.7zM635.8 135.4h1.7v1.5h-1.7zM625.4 136.5h1.7v1.5h-1.7zM628 136.5h1.7v1.5h-1.7z"/><path fill="#ef1" d="M626.7 134.2h1.7v1.5h-1.7zM631.9 134.2h1.7v1.5h-1.7zM621.5 137.6h1.7v1.5h-1.7zM621.5 138.8h1.7v1.5h-1.7z"/><path fill="#5fa" d="M630.6 134.2h1.7v1.5h-1.7zM634.5 135.4h1.7v1.5h-1.7zM624.1 136.5h1.7v1.5h-1.7zM633.2 136.5h3v1.5h-3zM624.1 137.6h1.7v1.5h-1.7zM629.3 137.6h3v1.5h-3zM638.4 137.6h1.7v1.5h-1.7zM624.1 138.8h1.7v1.5h-1.7zM629.3 138.8h3v1.5h-3zM638.4 138.8h1.7v1.5h-1.7z"/><path fill="#f80" d="M633.2 134.2h1.7v1.5h-1.7z"/><path fill="#7f8" d="M634.5 134.2h1.7v1.5h-1.7zM624.1 135.4h1.7v1.5h-1.7zM622.8 136.5h1.7v1.5h-1.7zM635.8 137.6h1.7v1.5h-1.7zM635.8 138.8h1.7v1.5h-1.7z"/><path fill="#6f9" d="M618.9 135.4h3v1.5h-3zM631.9 135.4h1.7v1.5h-1.7zM631.9 136.5h1.7v1.5h-1.7zM639.7 136.5h3v1.5h-3zM631.9 137.6h1.7v1.5h-1.7zM631.9 138.8h1.7v1.5h-1.7z"/><path fill="#cf3" d="M629.3 135.4h1.7v1.5h-1.7zM618.9 137.6h3v1.5h-3zM618.9 138.8h3v1.5h-3z"/><path fill="#9f6" d="M621.5 136.5h1.7v1.5h-1.7zM622.8 137.6h1.7v1.5h-1.7zM622.8 138.8h1.7v1.5h-1.7z"/><path fill="#df2" d="M629.3 136.5h1.7v1.5h-1.7zM634.5 137.6h1.7v1.5h-1.7zM634.5 138.8h1.7v1.5h-1.7z"/><path fill="#ff0" d="M626.7 137.6h1.7v1.5h-1.7zM626.7 138.8h1.7v1.5h-1.7z"/><path fill="#8f7" d="M628 137.6h1.7v1.5h-1.7zM633.2 137.6h1.7v1.5h-1.7zM637.1 137.6h1.7v1.5h-1.7zM639.7 137.6h3v1.5h-3zM628 138.8h1.7v1.5h-1.7zM633.2 138.8h1.7v1.5h-1.7zM637.1 138.8h1.7v1.5h-1.7zM639.7 138.8h3v1.5h-3z"/></g></g></g><path d="M512.5 148.5 L512.5 160.5 L591.5 160.5 L591.5 141.5" fill="none" stroke="#1a1a1a" stroke-width="1.2"/><path d="M591.5 136.5 L588.6 141.8 L594.4 141.8 Z" fill="#1a1a1a"/><path d="M630.5 146.5 L630.5 177.5" fill="none" stroke="#1a1a1a" stroke-width="1.2"/><path d="M630.5 182.5 L627.6 177.2 L633.4 177.2 Z" fill="#1a1a1a"/><rect x="576.8" y="182.1" width="65.9" height="17.4" fill="#a0dffe"/><path d="M576.5 190.5 L521.5 190.5" fill="none" stroke="#1a1a1a" stroke-width="1.2"/><path d="M516.5 190.5 L521.8 187.6 L521.8 193.4 Z" fill="#1a1a1a"/><rect x="472.5" y="167.5" width="44" height="45" fill="#fff" stroke="#5a5a5a" stroke-width="1"/><g clip-path="url(#c10)"><g filter="url(#bl0_4)"><g shape-rendering="crispEdges"><path fill="#7f8" d="M474.2 181.6h2.4v1.4h-2.4zM505.5 181.6h1.4v1.4h-1.4zM474.2 182.6h2.4v1.4h-2.4zM505.5 182.6h1.4v1.4h-1.4zM487.9 183.6h1.4v1.4h-1.4zM498.7 189.6h1.4v1.4h-1.4zM482 190.6h1.4v1.4h-1.4zM478.1 191.6h2.4v1.4h-2.4zM481.1 191.6h1.4v1.4h-1.4zM498.7 191.6h2.4v1.4h-2.4zM481.1 192.6h1.4v1.4h-1.4zM514.3 192.6h2.4v1.4h-2.4zM490.8 193.6h1.4v1.4h-1.4zM500.6 193.6h1.4v1.4h-1.4zM506.5 193.6h1.4v1.4h-1.4zM497.7 194.6h1.4v1.4h-1.4zM513.3 194.6h1.4v1.4h-1.4zM497.7 195.6h1.4v1.4h-1.4zM513.3 195.6h1.4v1.4h-1.4z"/><path fill="#4fb" d="M476.2 181.6h1.4v1.4h-1.4zM476.2 182.6h1.4v1.4h-1.4zM490.8 186.6h1.4v1.4h-1.4zM476.2 187.6h2.4v1.4h-2.4zM486.9 187.6h1.4v1.4h-1.4zM495.7 187.6h1.4v1.4h-1.4zM476.2 188.6h2.4v1.4h-2.4zM482 188.6h2.4v1.4h-2.4zM488.9 188.6h1.4v1.4h-1.4zM477.2 189.6h1.4v1.4h-1.4zM499.7 189.6h1.4v1.4h-1.4zM501.6 189.6h1.4v1.4h-1.4zM476.2 190.6h4.3v1.4h-4.3zM503.6 190.6h2.4v1.4h-2.4zM513.3 190.6h1.4v1.4h-1.4zM476.2 191.6h1.4v1.4h-1.4zM485 191.6h1.4v1.4h-1.4zM497.7 191.6h1.4v1.4h-1.4zM512.4 191.6h1.4v1.4h-1.4zM476.2 192.6h1.4v1.4h-1.4zM483 192.6h1.4v1.4h-1.4zM489.9 192.6h3.3v1.4h-3.3zM497.7 192.6h1.4v1.4h-1.4zM499.7 192.6h1.4v1.4h-1.4zM501.6 192.6h1.4v1.4h-1.4zM505.5 192.6h1.4v1.4h-1.4zM476.2 193.6h1.4v1.4h-1.4zM483 193.6h1.4v1.4h-1.4zM486.9 193.6h3.3v1.4h-3.3zM493.8 193.6h1.4v1.4h-1.4zM505.5 193.6h1.4v1.4h-1.4zM509.4 193.6h2.4v1.4h-2.4zM486 194.6h1.4v1.4h-1.4zM496.7 194.6h1.4v1.4h-1.4zM486 195.6h1.4v1.4h-1.4zM496.7 195.6h1.4v1.4h-1.4z"/><path fill="#2fd" d="M477.2 181.6h1.4v1.4h-1.4zM490.8 181.6h1.4v1.4h-1.4zM477.2 182.6h1.4v1.4h-1.4zM490.8 182.6h1.4v1.4h-1.4zM488.9 183.6h1.4v1.4h-1.4zM476.2 185.6h1.4v1.4h-1.4zM474.2 186.6h5.3v1.4h-5.3zM504.5 186.6h1.4v1.4h-1.4zM484 188.6h1.4v1.4h-1.4zM489.9 188.6h1.4v1.4h-1.4zM503.6 188.6h1.4v1.4h-1.4zM480.1 189.6h2.4v1.4h-2.4zM495.7 189.6h1.4v1.4h-1.4zM508.5 189.6h1.4v1.4h-1.4zM513.3 189.6h1.4v1.4h-1.4zM506.5 190.6h2.4v1.4h-2.4zM512.4 190.6h1.4v1.4h-1.4zM486 191.6h2.4v1.4h-2.4zM489.9 191.6h1.4v1.4h-1.4zM496.7 191.6h1.4v1.4h-1.4zM502.6 191.6h1.4v1.4h-1.4zM484 192.6h1.4v1.4h-1.4zM487.9 192.6h1.4v1.4h-1.4zM493.8 192.6h1.4v1.4h-1.4zM495.7 192.6h1.4v1.4h-1.4zM484 193.6h2.4v1.4h-2.4z"/><path fill="#1fe" d="M478.1 181.6h1.4v1.4h-1.4zM478.1 182.6h1.4v1.4h-1.4zM481.1 183.6h2.4v1.4h-2.4zM486 183.6h1.4v1.4h-1.4zM476.2 184.6h1.4v1.4h-1.4zM479.1 185.6h1.4v1.4h-1.4zM486 185.6h1.4v1.4h-1.4zM479.1 186.6h1.4v1.4h-1.4zM496.7 186.6h1.4v1.4h-1.4zM474.2 187.6h2.4v1.4h-2.4zM478.1 187.6h1.4v1.4h-1.4zM504.5 187.6h1.4v1.4h-1.4zM506.5 187.6h1.4v1.4h-1.4zM478.1 188.6h2.4v1.4h-2.4zM491.8 188.6h1.4v1.4h-1.4zM494.8 188.6h1.4v1.4h-1.4zM506.5 188.6h2.4v1.4h-2.4zM506.5 189.6h2.4v1.4h-2.4zM486 190.6h2.4v1.4h-2.4zM488.9 190.6h2.4v1.4h-2.4zM494.8 190.6h1.4v1.4h-1.4zM496.7 190.6h1.4v1.4h-1.4zM487.9 191.6h2.4v1.4h-2.4zM495.7 191.6h1.4v1.4h-1.4zM509.4 191.6h1.4v1.4h-1.4zM485 192.6h1.4v1.4h-1.4zM494.8 192.6h1.4v1.4h-1.4z"/><path fill="#0ff" d="M479.1 181.6h2.4v1.4h-2.4zM492.8 181.6h1.4v1.4h-1.4zM504.5 181.6h1.4v1.4h-1.4zM510.4 181.6h1.4v1.4h-1.4zM479.1 182.6h2.4v1.4h-2.4zM492.8 182.6h1.4v1.4h-1.4zM504.5 182.6h1.4v1.4h-1.4zM510.4 182.6h1.4v1.4h-1.4zM510.4 183.6h1.4v1.4h-1.4zM490.8 184.6h1.4v1.4h-1.4zM477.2 185.6h2.4v1.4h-2.4zM491.8 185.6h1.4v1.4h-1.4zM491.8 186.6h1.4v1.4h-1.4zM491.8 187.6h1.4v1.4h-1.4zM505.5 187.6h1.4v1.4h-1.4zM507.5 187.6h1.4v1.4h-1.4zM512.4 187.6h1.4v1.4h-1.4zM481.1 188.6h1.4v1.4h-1.4zM513.3 188.6h3.3v1.4h-3.3zM485 189.6h1.4v1.4h-1.4zM488.9 189.6h1.4v1.4h-1.4zM490.8 189.6h1.4v1.4h-1.4zM496.7 189.6h1.4v1.4h-1.4zM509.4 189.6h1.4v1.4h-1.4zM487.9 190.6h1.4v1.4h-1.4zM490.8 190.6h1.4v1.4h-1.4zM495.7 190.6h1.4v1.4h-1.4zM509.4 190.6h1.4v1.4h-1.4zM511.4 191.6h1.4v1.4h-1.4z"/><path fill="#0ef" d="M481.1 181.6h1.4v1.4h-1.4zM485 181.6h4.3v1.4h-4.3zM502.6 181.6h1.4v1.4h-1.4zM507.5 181.6h1.4v1.4h-1.4zM511.4 181.6h1.4v1.4h-1.4zM481.1 182.6h1.4v1.4h-1.4zM485 182.6h4.3v1.4h-4.3zM502.6 182.6h1.4v1.4h-1.4zM507.5 182.6h1.4v1.4h-1.4zM511.4 182.6h1.4v1.4h-1.4zM476.2 183.6h1.4v1.4h-1.4zM489.9 183.6h2.4v1.4h-2.4zM506.5 183.6h1.4v1.4h-1.4zM511.4 183.6h1.4v1.4h-1.4zM477.2 184.6h1.4v1.4h-1.4zM485 184.6h1.4v1.4h-1.4zM497.7 184.6h1.4v1.4h-1.4zM496.7 185.6h1.4v1.4h-1.4zM479.1 187.6h1.4v1.4h-1.4zM483 187.6h1.4v1.4h-1.4zM492.8 187.6h3.3v1.4h-3.3zM513.3 187.6h1.4v1.4h-1.4zM480.1 188.6h1.4v1.4h-1.4zM485 188.6h1.4v1.4h-1.4zM486.9 188.6h1.4v1.4h-1.4zM492.8 188.6h2.4v1.4h-2.4zM508.5 188.6h1.4v1.4h-1.4zM486.9 189.6h1.4v1.4h-1.4zM494.8 189.6h1.4v1.4h-1.4zM512.4 189.6h1.4v1.4h-1.4zM511.4 190.6h1.4v1.4h-1.4zM494.8 191.6h1.4v1.4h-1.4zM510.4 191.6h1.4v1.4h-1.4z"/><path fill="#0df" d="M482 181.6h1.4v1.4h-1.4zM491.8 181.6h1.4v1.4h-1.4zM493.8 181.6h2.4v1.4h-2.4zM503.6 181.6h1.4v1.4h-1.4zM509.4 181.6h1.4v1.4h-1.4zM482 182.6h1.4v1.4h-1.4zM491.8 182.6h1.4v1.4h-1.4zM493.8 182.6h2.4v1.4h-2.4zM503.6 182.6h1.4v1.4h-1.4zM509.4 182.6h1.4v1.4h-1.4zM477.2 183.6h1.4v1.4h-1.4zM498.7 183.6h5.3v1.4h-5.3zM502.6 184.6h1.4v1.4h-1.4zM507.5 184.6h1.4v1.4h-1.4zM510.4 184.6h2.4v1.4h-2.4zM504.5 185.6h2.4v1.4h-2.4zM480.1 186.6h1.4v1.4h-1.4zM505.5 186.6h3.3v1.4h-3.3zM509.4 186.6h2.4v1.4h-2.4zM480.1 187.6h2.4v1.4h-2.4zM484 187.6h1.4v1.4h-1.4zM486 187.6h1.4v1.4h-1.4zM512.4 188.6h1.4v1.4h-1.4zM486 189.6h1.4v1.4h-1.4zM487.9 189.6h1.4v1.4h-1.4zM489.9 189.6h1.4v1.4h-1.4zM510.4 190.6h1.4v1.4h-1.4z"/><path fill="#3fc" d="M483 181.6h1.4v1.4h-1.4zM483 182.6h1.4v1.4h-1.4zM474.2 185.6h2.4v1.4h-2.4zM490.8 185.6h1.4v1.4h-1.4zM497.7 185.6h1.4v1.4h-1.4zM503.6 185.6h1.4v1.4h-1.4zM497.7 186.6h1.4v1.4h-1.4zM474.2 188.6h2.4v1.4h-2.4zM487.9 188.6h1.4v1.4h-1.4zM495.7 188.6h1.4v1.4h-1.4zM504.5 188.6h1.4v1.4h-1.4zM478.1 189.6h2.4v1.4h-2.4zM497.7 189.6h1.4v1.4h-1.4zM500.6 189.6h1.4v1.4h-1.4zM514.3 189.6h2.4v1.4h-2.4zM502.6 190.6h1.4v1.4h-1.4zM505.5 190.6h1.4v1.4h-1.4zM508.5 190.6h1.4v1.4h-1.4zM514.3 190.6h2.4v1.4h-2.4zM474.2 191.6h2.4v1.4h-2.4zM490.8 191.6h1.4v1.4h-1.4zM501.6 191.6h1.4v1.4h-1.4zM503.6 191.6h6.3v1.4h-6.3zM474.2 192.6h2.4v1.4h-2.4zM486 192.6h2.4v1.4h-2.4zM488.9 192.6h1.4v1.4h-1.4zM502.6 192.6h1.4v1.4h-1.4zM509.4 192.6h3.3v1.4h-3.3zM486 193.6h1.4v1.4h-1.4zM494.8 193.6h1.4v1.4h-1.4zM504.5 194.6h1.4v1.4h-1.4zM504.5 195.6h1.4v1.4h-1.4z"/><path fill="#5fa" d="M484 181.6h1.4v1.4h-1.4zM506.5 181.6h1.4v1.4h-1.4zM484 182.6h1.4v1.4h-1.4zM506.5 182.6h1.4v1.4h-1.4zM489.9 184.6h1.4v1.4h-1.4zM501.6 184.6h1.4v1.4h-1.4zM474.2 189.6h3.3v1.4h-3.3zM484 189.6h1.4v1.4h-1.4zM502.6 189.6h2.4v1.4h-2.4zM505.5 189.6h1.4v1.4h-1.4zM474.2 190.6h2.4v1.4h-2.4zM480.1 190.6h1.4v1.4h-1.4zM497.7 190.6h2.4v1.4h-2.4zM501.6 190.6h1.4v1.4h-1.4zM477.2 191.6h1.4v1.4h-1.4zM484 191.6h1.4v1.4h-1.4zM482 192.6h1.4v1.4h-1.4zM496.7 192.6h1.4v1.4h-1.4zM498.7 192.6h1.4v1.4h-1.4zM508.5 192.6h1.4v1.4h-1.4zM482 193.6h1.4v1.4h-1.4zM492.8 193.6h1.4v1.4h-1.4zM495.7 193.6h1.4v1.4h-1.4zM497.7 193.6h2.4v1.4h-2.4zM501.6 193.6h1.4v1.4h-1.4zM511.4 193.6h1.4v1.4h-1.4zM485 194.6h1.4v1.4h-1.4zM493.8 194.6h2.4v1.4h-2.4zM505.5 194.6h1.4v1.4h-1.4zM509.4 194.6h4.3v1.4h-4.3zM485 195.6h1.4v1.4h-1.4zM493.8 195.6h2.4v1.4h-2.4zM505.5 195.6h1.4v1.4h-1.4zM509.4 195.6h4.3v1.4h-4.3z"/><path fill="#0cf" d="M488.9 181.6h1.4v1.4h-1.4zM495.7 181.6h2.4v1.4h-2.4zM499.7 181.6h3.3v1.4h-3.3zM508.5 181.6h1.4v1.4h-1.4zM488.9 182.6h1.4v1.4h-1.4zM495.7 182.6h2.4v1.4h-2.4zM499.7 182.6h3.3v1.4h-3.3zM508.5 182.6h1.4v1.4h-1.4zM480.1 183.6h1.4v1.4h-1.4zM483 183.6h1.4v1.4h-1.4zM485 183.6h1.4v1.4h-1.4zM492.8 183.6h1.4v1.4h-1.4zM495.7 183.6h1.4v1.4h-1.4zM497.7 183.6h1.4v1.4h-1.4zM503.6 183.6h1.4v1.4h-1.4zM507.5 183.6h3.3v1.4h-3.3zM478.1 184.6h2.4v1.4h-2.4zM491.8 184.6h1.4v1.4h-1.4zM496.7 184.6h1.4v1.4h-1.4zM505.5 184.6h2.4v1.4h-2.4zM508.5 184.6h2.4v1.4h-2.4zM506.5 185.6h3.3v1.4h-3.3zM510.4 185.6h2.4v1.4h-2.4zM484 186.6h1.4v1.4h-1.4zM486 186.6h1.4v1.4h-1.4zM493.8 186.6h1.4v1.4h-1.4zM495.7 186.6h1.4v1.4h-1.4zM508.5 186.6h1.4v1.4h-1.4zM511.4 186.6h2.4v1.4h-2.4zM482 187.6h1.4v1.4h-1.4zM485 187.6h1.4v1.4h-1.4zM508.5 187.6h1.4v1.4h-1.4zM511.4 187.6h1.4v1.4h-1.4zM514.3 187.6h2.4v1.4h-2.4zM486 188.6h1.4v1.4h-1.4zM509.4 188.6h1.4v1.4h-1.4z"/><path fill="#0af" d="M489.9 181.6h1.4v1.4h-1.4zM489.9 182.6h1.4v1.4h-1.4zM484 183.6h1.4v1.4h-1.4zM491.8 183.6h1.4v1.4h-1.4zM493.8 183.6h1.4v1.4h-1.4zM504.5 183.6h1.4v1.4h-1.4zM512.4 183.6h1.4v1.4h-1.4zM481.1 184.6h1.4v1.4h-1.4zM483 184.6h1.4v1.4h-1.4zM493.8 184.6h1.4v1.4h-1.4zM495.7 184.6h1.4v1.4h-1.4zM503.6 184.6h1.4v1.4h-1.4zM512.4 184.6h1.4v1.4h-1.4zM485 185.6h1.4v1.4h-1.4zM493.8 185.6h1.4v1.4h-1.4zM481.1 186.6h1.4v1.4h-1.4zM485 186.6h1.4v1.4h-1.4zM513.3 186.6h1.4v1.4h-1.4zM511.4 188.6h1.4v1.4h-1.4zM510.4 189.6h1.4v1.4h-1.4z"/><path fill="#0bf" d="M497.7 181.6h2.4v1.4h-2.4zM512.4 181.6h1.4v1.4h-1.4zM497.7 182.6h2.4v1.4h-2.4zM512.4 182.6h1.4v1.4h-1.4zM478.1 183.6h2.4v1.4h-2.4zM494.8 183.6h1.4v1.4h-1.4zM496.7 183.6h1.4v1.4h-1.4zM505.5 183.6h1.4v1.4h-1.4zM480.1 184.6h1.4v1.4h-1.4zM492.8 184.6h1.4v1.4h-1.4zM504.5 184.6h1.4v1.4h-1.4zM480.1 185.6h1.4v1.4h-1.4zM509.4 185.6h1.4v1.4h-1.4zM492.8 186.6h1.4v1.4h-1.4zM494.8 186.6h1.4v1.4h-1.4zM509.4 187.6h2.4v1.4h-2.4z"/><path fill="#08f" d="M513.3 181.6h1.4v1.4h-1.4zM513.3 182.6h1.4v1.4h-1.4zM513.3 183.6h3.3v1.4h-3.3zM484 184.6h1.4v1.4h-1.4zM494.8 184.6h1.4v1.4h-1.4zM514.3 184.6h2.4v1.4h-2.4zM481.1 185.6h1.4v1.4h-1.4zM484 185.6h1.4v1.4h-1.4zM513.3 185.6h3.3v1.4h-3.3zM514.3 186.6h2.4v1.4h-2.4z"/><path fill="#05f" d="M514.3 181.6h2.4v1.4h-2.4zM514.3 182.6h2.4v1.4h-2.4z"/><path fill="#9f6" d="M474.2 183.6h2.4v1.4h-2.4zM496.7 187.6h1.4v1.4h-1.4zM504.5 192.6h1.4v1.4h-1.4zM502.6 193.6h1.4v1.4h-1.4zM504.5 193.6h1.4v1.4h-1.4zM513.3 193.6h1.4v1.4h-1.4zM482 194.6h1.4v1.4h-1.4zM489.9 194.6h2.4v1.4h-2.4zM503.6 194.6h1.4v1.4h-1.4zM482 195.6h1.4v1.4h-1.4zM489.9 195.6h2.4v1.4h-2.4zM503.6 195.6h1.4v1.4h-1.4z"/><path fill="#6f9" d="M486.9 183.6h1.4v1.4h-1.4zM490.8 187.6h1.4v1.4h-1.4zM503.6 187.6h1.4v1.4h-1.4zM490.8 188.6h1.4v1.4h-1.4zM482 189.6h1.4v1.4h-1.4zM504.5 189.6h1.4v1.4h-1.4zM481.1 190.6h1.4v1.4h-1.4zM499.7 190.6h2.4v1.4h-2.4zM482 191.6h2.4v1.4h-2.4zM500.6 191.6h1.4v1.4h-1.4zM513.3 191.6h3.3v1.4h-3.3zM477.2 192.6h1.4v1.4h-1.4zM500.6 192.6h1.4v1.4h-1.4zM506.5 192.6h1.4v1.4h-1.4zM512.4 192.6h1.4v1.4h-1.4zM489.9 193.6h1.4v1.4h-1.4zM491.8 193.6h1.4v1.4h-1.4zM496.7 193.6h1.4v1.4h-1.4zM512.4 193.6h1.4v1.4h-1.4zM495.7 194.6h1.4v1.4h-1.4zM495.7 195.6h1.4v1.4h-1.4z"/><path fill="#af5" d="M474.2 184.6h2.4v1.4h-2.4zM486 184.6h1.4v1.4h-1.4zM500.6 184.6h1.4v1.4h-1.4zM498.7 185.6h1.4v1.4h-1.4zM502.6 185.6h1.4v1.4h-1.4zM486.9 186.6h1.4v1.4h-1.4zM489.9 187.6h1.4v1.4h-1.4zM483 190.6h1.4v1.4h-1.4zM485 190.6h1.4v1.4h-1.4zM493.8 191.6h1.4v1.4h-1.4zM480.1 192.6h1.4v1.4h-1.4zM484 194.6h1.4v1.4h-1.4zM491.8 194.6h1.4v1.4h-1.4zM507.5 194.6h1.4v1.4h-1.4zM514.3 194.6h2.4v1.4h-2.4zM484 195.6h1.4v1.4h-1.4zM491.8 195.6h1.4v1.4h-1.4zM507.5 195.6h1.4v1.4h-1.4zM514.3 195.6h2.4v1.4h-2.4z"/><path fill="#09f" d="M482 184.6h1.4v1.4h-1.4zM492.8 185.6h1.4v1.4h-1.4zM494.8 185.6h2.4v1.4h-2.4zM512.4 185.6h1.4v1.4h-1.4zM482 186.6h2.4v1.4h-2.4zM510.4 188.6h1.4v1.4h-1.4zM511.4 189.6h1.4v1.4h-1.4z"/><path fill="#fc0" d="M486.9 184.6h1.4v1.4h-1.4zM500.6 185.6h1.4v1.4h-1.4zM502.6 186.6h1.4v1.4h-1.4zM491.8 191.6h1.4v1.4h-1.4z"/><path fill="#f80" d="M487.9 184.6h1.4v1.4h-1.4zM501.6 187.6h1.4v1.4h-1.4zM499.7 194.6h1.4v1.4h-1.4zM499.7 195.6h1.4v1.4h-1.4z"/><path fill="#fe0" d="M488.9 184.6h1.4v1.4h-1.4zM500.6 194.6h1.4v1.4h-1.4zM500.6 195.6h1.4v1.4h-1.4z"/><path fill="#bf4" d="M498.7 184.6h1.4v1.4h-1.4zM503.6 186.6h1.4v1.4h-1.4zM497.7 188.6h1.4v1.4h-1.4zM502.6 188.6h1.4v1.4h-1.4zM484 190.6h1.4v1.4h-1.4zM478.1 192.6h1.4v1.4h-1.4zM480.1 193.6h1.4v1.4h-1.4zM499.7 193.6h1.4v1.4h-1.4zM477.2 194.6h1.4v1.4h-1.4zM480.1 194.6h1.4v1.4h-1.4zM483 194.6h1.4v1.4h-1.4zM477.2 195.6h1.4v1.4h-1.4zM480.1 195.6h1.4v1.4h-1.4zM483 195.6h1.4v1.4h-1.4z"/><path fill="#ff0" d="M499.7 184.6h1.4v1.4h-1.4zM489.9 186.6h1.4v1.4h-1.4zM498.7 187.6h1.4v1.4h-1.4zM492.8 189.6h1.4v1.4h-1.4zM503.6 193.6h1.4v1.4h-1.4z"/><path fill="#07f" d="M513.3 184.6h1.4v1.4h-1.4zM482 185.6h2.4v1.4h-2.4z"/><path fill="#df2" d="M486.9 185.6h1.4v1.4h-1.4zM499.7 186.6h1.4v1.4h-1.4zM488.9 187.6h1.4v1.4h-1.4zM503.6 192.6h1.4v1.4h-1.4zM478.1 193.6h1.4v1.4h-1.4zM507.5 193.6h1.4v1.4h-1.4z"/><path fill="#fa0" d="M487.9 185.6h2.4v1.4h-2.4zM500.6 186.6h1.4v1.4h-1.4z"/><path fill="#ef1" d="M489.9 185.6h1.4v1.4h-1.4zM499.7 185.6h1.4v1.4h-1.4zM487.9 187.6h1.4v1.4h-1.4zM498.7 188.6h1.4v1.4h-1.4zM474.2 193.6h2.4v1.4h-2.4zM479.1 193.6h1.4v1.4h-1.4zM478.1 194.6h2.4v1.4h-2.4zM498.7 194.6h1.4v1.4h-1.4zM478.1 195.6h2.4v1.4h-2.4zM498.7 195.6h1.4v1.4h-1.4z"/><path fill="#fd0" d="M501.6 185.6h1.4v1.4h-1.4zM487.9 186.6h2.4v1.4h-2.4zM499.7 187.6h1.4v1.4h-1.4zM502.6 187.6h1.4v1.4h-1.4zM499.7 188.6h3.3v1.4h-3.3z"/><path fill="#8f7" d="M498.7 186.6h1.4v1.4h-1.4zM496.7 188.6h1.4v1.4h-1.4zM505.5 188.6h1.4v1.4h-1.4zM483 189.6h1.4v1.4h-1.4zM493.8 189.6h1.4v1.4h-1.4zM480.1 191.6h1.4v1.4h-1.4zM492.8 192.6h1.4v1.4h-1.4zM507.5 192.6h1.4v1.4h-1.4zM513.3 192.6h1.4v1.4h-1.4zM477.2 193.6h1.4v1.4h-1.4zM481.1 193.6h1.4v1.4h-1.4zM508.5 193.6h1.4v1.4h-1.4zM514.3 193.6h2.4v1.4h-2.4zM481.1 194.6h1.4v1.4h-1.4zM492.8 194.6h1.4v1.4h-1.4zM506.5 194.6h1.4v1.4h-1.4zM508.5 194.6h1.4v1.4h-1.4zM481.1 195.6h1.4v1.4h-1.4zM492.8 195.6h1.4v1.4h-1.4zM506.5 195.6h1.4v1.4h-1.4zM508.5 195.6h1.4v1.4h-1.4z"/><path fill="#f70" d="M501.6 186.6h1.4v1.4h-1.4zM491.8 190.6h1.4v1.4h-1.4zM476.2 194.6h1.4v1.4h-1.4zM488.9 194.6h1.4v1.4h-1.4zM476.2 195.6h1.4v1.4h-1.4zM488.9 195.6h1.4v1.4h-1.4z"/><path fill="#cf3" d="M497.7 187.6h1.4v1.4h-1.4zM491.8 189.6h1.4v1.4h-1.4zM493.8 190.6h1.4v1.4h-1.4zM479.1 192.6h1.4v1.4h-1.4zM486.9 194.6h1.4v1.4h-1.4zM501.6 194.6h2.4v1.4h-2.4zM486.9 195.6h1.4v1.4h-1.4zM501.6 195.6h2.4v1.4h-2.4z"/><path fill="#f90" d="M500.6 187.6h1.4v1.4h-1.4z"/><path fill="#c00" d="M492.8 190.6h1.4v1.4h-1.4z"/><path fill="#f30" d="M492.8 191.6h1.4v1.4h-1.4zM487.9 194.6h1.4v1.4h-1.4zM487.9 195.6h1.4v1.4h-1.4z"/><path fill="#800" d="M474.2 194.6h2.4v1.4h-2.4zM474.2 195.6h2.4v1.4h-2.4z"/></g></g></g><path d="M494.5 212.5 L494.5 219.5" fill="none" stroke="#1a1a1a" stroke-width="1.2"/><path d="M494.5 219.5 L438.5 219.5 L438.5 263.5" fill="none" stroke="#1a1a1a" stroke-width="1.2"/><path d="M438.5 268.5 L435.6 263.2 L441.4 263.2 Z" fill="#1a1a1a"/><path d="M494.5 219.5 L549.5 219.5 L549.5 263.5" fill="none" stroke="#1a1a1a" stroke-width="1.2"/><path d="M549.5 268.5 L546.6 263.2 L552.4 263.2 Z" fill="#1a1a1a"/><path d="M110.5 468.5 L110.5 268.5 L165.5 268.5" fill="none" stroke="#1a1a1a" stroke-width="1.2"/><path d="M170.5 268.5 L165 265.6 L165 271.4 Z" fill="#1a1a1a"/><rect x="170.4" y="252" width="131.4" height="34.6" fill="#a2a2fe"/><path d="M301.5 268.5 L357.5 268.5" fill="none" stroke="#1a1a1a" stroke-width="1.2"/><path d="M362.5 268.5 L357 265.6 L357 271.4 Z" fill="#1a1a1a"/><rect x="362.5" y="236.5" width="44" height="44" fill="#fff" stroke="#5a5a5a" stroke-width="1.2"/><g clip-path="url(#c11)"><g filter="url(#bl0_5)"><g shape-rendering="crispEdges"><path fill="#a00" d="M361.6 249.6h4.4v2.3h-4.4zM367.6 249.6h8.4v2.3h-8.4zM397.6 249.6h4.4v2.3h-4.4zM361.6 251.5h4.4v2.3h-4.4zM367.6 251.5h8.4v2.3h-8.4zM397.6 251.5h4.4v2.3h-4.4zM361.6 253.4h10.4v2.3h-10.4zM393.6 253.4h4.4v2.3h-4.4zM401.6 253.4h6.4v2.3h-6.4zM361.6 260.9h4.4v2.3h-4.4zM373.6 260.9h2.4v2.3h-2.4zM383.6 260.9h10.4v2.3h-10.4zM399.6 260.9h8.4v2.3h-8.4zM381.6 262.8h6.4v2.3h-6.4zM389.6 262.8h4.4v2.3h-4.4zM395.6 262.8h6.4v2.3h-6.4zM381.6 264.7h6.4v2.3h-6.4zM389.6 264.7h4.4v2.3h-4.4zM395.6 264.7h6.4v2.3h-6.4z"/><path fill="#900" d="M365.6 249.6h2.4v2.3h-2.4zM365.6 251.5h2.4v2.3h-2.4zM361.6 262.8h4.4v2.3h-4.4zM387.6 262.8h2.4v2.3h-2.4zM361.6 264.7h4.4v2.3h-4.4zM387.6 264.7h2.4v2.3h-2.4z"/><path fill="#b00" d="M375.6 249.6h12.4v2.3h-12.4zM391.6 249.6h6.4v2.3h-6.4zM401.6 249.6h6.4v2.3h-6.4zM375.6 251.5h12.4v2.3h-12.4zM391.6 251.5h6.4v2.3h-6.4zM401.6 251.5h6.4v2.3h-6.4zM371.6 253.4h4.4v2.3h-4.4zM381.6 253.4h4.4v2.3h-4.4zM387.6 253.4h6.4v2.3h-6.4zM397.6 253.4h4.4v2.3h-4.4zM361.6 255.3h4.4v2.3h-4.4zM403.6 255.3h4.4v2.3h-4.4zM371.6 259.1h8.4v2.3h-8.4zM371.6 260.9h2.4v2.3h-2.4zM375.6 260.9h8.4v2.3h-8.4zM397.6 260.9h2.4v2.3h-2.4zM365.6 262.8h2.4v2.3h-2.4zM393.6 262.8h2.4v2.3h-2.4zM401.6 262.8h2.4v2.3h-2.4zM365.6 264.7h2.4v2.3h-2.4zM393.6 264.7h2.4v2.3h-2.4zM401.6 264.7h2.4v2.3h-2.4z"/><path fill="#c00" d="M387.6 249.6h4.4v2.3h-4.4zM387.6 251.5h4.4v2.3h-4.4zM375.6 253.4h6.4v2.3h-6.4zM385.6 253.4h2.4v2.3h-2.4zM365.6 255.3h6.4v2.3h-6.4zM385.6 255.3h2.4v2.3h-2.4zM401.6 255.3h2.4v2.3h-2.4zM389.6 259.1h8.4v2.3h-8.4zM401.6 259.1h2.4v2.3h-2.4zM365.6 260.9h2.4v2.3h-2.4zM369.6 260.9h2.4v2.3h-2.4zM393.6 260.9h4.4v2.3h-4.4zM367.6 262.8h8.4v2.3h-8.4zM377.6 262.8h4.4v2.3h-4.4zM403.6 262.8h4.4v2.3h-4.4zM367.6 264.7h8.4v2.3h-8.4zM377.6 264.7h4.4v2.3h-4.4zM403.6 264.7h4.4v2.3h-4.4z"/><path fill="#d00" d="M371.6 255.3h2.4v2.3h-2.4zM381.6 255.3h4.4v2.3h-4.4zM387.6 255.3h2.4v2.3h-2.4zM399.6 255.3h2.4v2.3h-2.4zM379.6 259.1h2.4v2.3h-2.4zM397.6 259.1h4.4v2.3h-4.4zM367.6 260.9h2.4v2.3h-2.4zM375.6 262.8h2.4v2.3h-2.4zM375.6 264.7h2.4v2.3h-2.4z"/><path fill="#e00" d="M373.6 255.3h2.4v2.3h-2.4zM379.6 255.3h2.4v2.3h-2.4zM389.6 255.3h8.4v2.3h-8.4zM361.6 257.2h4.4v2.3h-4.4zM373.6 257.2h2.4v2.3h-2.4zM403.6 257.2h4.4v2.3h-4.4zM361.6 259.1h4.4v2.3h-4.4zM369.6 259.1h2.4v2.3h-2.4zM381.6 259.1h8.4v2.3h-8.4zM403.6 259.1h4.4v2.3h-4.4z"/><path fill="#f10" d="M375.6 255.3h4.4v2.3h-4.4zM367.6 257.2h2.4v2.3h-2.4zM371.6 257.2h2.4v2.3h-2.4zM377.6 257.2h2.4v2.3h-2.4zM391.6 257.2h2.4v2.3h-2.4zM397.6 257.2h6.4v2.3h-6.4zM367.6 259.1h2.4v2.3h-2.4z"/><path fill="#f00" d="M397.6 255.3h2.4v2.3h-2.4zM365.6 257.2h2.4v2.3h-2.4zM375.6 257.2h2.4v2.3h-2.4zM381.6 257.2h6.4v2.3h-6.4zM393.6 257.2h4.4v2.3h-4.4zM365.6 259.1h2.4v2.3h-2.4z"/><path fill="#f30" d="M369.6 257.2h2.4v2.3h-2.4z"/><path fill="#f20" d="M379.6 257.2h2.4v2.3h-2.4zM387.6 257.2h4.4v2.3h-4.4z"/></g></g></g><rect x="375.5" y="248.5" width="44" height="46" fill="#fff" stroke="#5a5a5a" stroke-width="1.2"/><g clip-path="url(#c12)"><g filter="url(#bl0_5)"><g shape-rendering="crispEdges"><path fill="#b00" d="M375.7 264h6.3v1.9h-6.3zM386 264h3.3v1.9h-3.3zM394.8 264h4.8v1.9h-4.8zM405 264h6.3v1.9h-6.3zM375.7 265.5h6.3v1.9h-6.3zM386 265.5h3.3v1.9h-3.3zM394.8 265.5h4.8v1.9h-4.8zM405 265.5h6.3v1.9h-6.3zM380.1 267h1.9v1.9h-1.9zM384.5 267h1.9v1.9h-1.9zM390.4 267h1.9v1.9h-1.9zM393.3 267h1.9v1.9h-1.9zM396.2 267h3.3v1.9h-3.3zM403.6 267h1.9v1.9h-1.9zM410.9 267h1.9v1.9h-1.9zM375.7 268.5h3.3v1.9h-3.3zM380.1 268.5h1.9v1.9h-1.9zM397.7 268.5h1.9v1.9h-1.9zM402.1 268.5h1.9v1.9h-1.9zM415.3 268.5h1.9v1.9h-1.9zM386 274.4h3.3v1.9h-3.3zM390.4 274.4h1.9v1.9h-1.9zM409.4 274.4h1.9v1.9h-1.9zM415.3 274.4h1.9v1.9h-1.9zM378.7 275.9h12.1v1.9h-12.1zM391.8 275.9h4.8v1.9h-4.8zM403.6 275.9h3.3v1.9h-3.3zM410.9 275.9h1.9v1.9h-1.9zM381.6 277.4h1.9v1.9h-1.9zM394.8 277.4h3.3v1.9h-3.3zM402.1 277.4h4.8v1.9h-4.8zM409.4 277.4h1.9v1.9h-1.9zM381.6 278.9h1.9v1.9h-1.9zM394.8 278.9h3.3v1.9h-3.3zM402.1 278.9h4.8v1.9h-4.8zM409.4 278.9h1.9v1.9h-1.9z"/><path fill="#a00" d="M381.6 264h4.8v1.9h-4.8zM388.9 264h1.9v1.9h-1.9zM393.3 264h1.9v1.9h-1.9zM399.2 264h3.3v1.9h-3.3zM403.6 264h1.9v1.9h-1.9zM410.9 264h4.8v1.9h-4.8zM381.6 265.5h4.8v1.9h-4.8zM388.9 265.5h1.9v1.9h-1.9zM393.3 265.5h1.9v1.9h-1.9zM399.2 265.5h3.3v1.9h-3.3zM403.6 265.5h1.9v1.9h-1.9zM410.9 265.5h4.8v1.9h-4.8zM381.6 267h3.3v1.9h-3.3zM391.8 267h1.9v1.9h-1.9zM399.2 267h4.8v1.9h-4.8zM412.3 267h3.3v1.9h-3.3zM381.6 268.5h1.9v1.9h-1.9zM416.7 268.5h3.3v1.9h-3.3zM410.9 274.4h1.9v1.9h-1.9zM413.8 274.4h1.9v1.9h-1.9zM375.7 275.9h3.3v1.9h-3.3zM390.4 275.9h1.9v1.9h-1.9zM412.3 275.9h3.3v1.9h-3.3zM380.1 277.4h1.9v1.9h-1.9zM383.1 277.4h12.1v1.9h-12.1zM410.9 277.4h4.8v1.9h-4.8zM380.1 278.9h1.9v1.9h-1.9zM383.1 278.9h12.1v1.9h-12.1zM410.9 278.9h4.8v1.9h-4.8z"/><path fill="#900" d="M390.4 264h3.3v1.9h-3.3zM402.1 264h1.9v1.9h-1.9zM415.3 264h4.8v1.9h-4.8zM390.4 265.5h3.3v1.9h-3.3zM402.1 265.5h1.9v1.9h-1.9zM415.3 265.5h4.8v1.9h-4.8zM415.3 267h1.9v1.9h-1.9zM412.3 274.4h1.9v1.9h-1.9zM415.3 275.9h4.8v1.9h-4.8zM375.7 277.4h4.8v1.9h-4.8zM415.3 277.4h4.8v1.9h-4.8zM375.7 278.9h4.8v1.9h-4.8zM415.3 278.9h4.8v1.9h-4.8z"/><path fill="#c00" d="M375.7 267h4.8v1.9h-4.8zM386 267h4.8v1.9h-4.8zM394.8 267h1.9v1.9h-1.9zM405 267h6.3v1.9h-6.3zM378.7 268.5h1.9v1.9h-1.9zM383.1 268.5h1.9v1.9h-1.9zM394.8 268.5h3.3v1.9h-3.3zM399.2 268.5h3.3v1.9h-3.3zM375.7 270h3.3v1.9h-3.3zM416.7 270h3.3v1.9h-3.3zM409.4 273h4.8v1.9h-4.8zM383.1 274.4h3.3v1.9h-3.3zM388.9 274.4h1.9v1.9h-1.9zM391.8 274.4h1.9v1.9h-1.9zM405 274.4h4.8v1.9h-4.8zM400.6 275.9h3.3v1.9h-3.3zM406.5 275.9h4.8v1.9h-4.8zM397.7 277.4h4.8v1.9h-4.8zM406.5 277.4h3.3v1.9h-3.3zM397.7 278.9h4.8v1.9h-4.8zM406.5 278.9h3.3v1.9h-3.3z"/><path fill="#800" d="M416.7 267h3.3v1.9h-3.3z"/><path fill="#f00" d="M384.5 268.5h1.9v1.9h-1.9zM390.4 268.5h1.9v1.9h-1.9zM405 268.5h1.9v1.9h-1.9zM412.3 268.5h1.9v1.9h-1.9zM400.6 270h1.9v1.9h-1.9zM413.8 273h1.9v1.9h-1.9z"/><path fill="#f40" d="M386 268.5h1.9v1.9h-1.9zM407.9 268.5h1.9v1.9h-1.9zM394.8 270h1.9v1.9h-1.9zM403.6 270h1.9v1.9h-1.9zM407.9 271.5h3.3v1.9h-3.3zM393.3 273h1.9v1.9h-1.9zM375.7 274.4h3.3v1.9h-3.3z"/><path fill="#f50" d="M387.4 268.5h1.9v1.9h-1.9zM409.4 268.5h1.9v1.9h-1.9zM383.1 270h1.9v1.9h-1.9zM375.7 271.5h4.8v1.9h-4.8zM416.7 271.5h3.3v1.9h-3.3zM415.3 273h1.9v1.9h-1.9z"/><path fill="#f20" d="M388.9 268.5h1.9v1.9h-1.9zM406.5 268.5h1.9v1.9h-1.9zM410.9 268.5h1.9v1.9h-1.9zM396.2 270h1.9v1.9h-1.9zM405 273h1.9v1.9h-1.9zM397.7 274.4h1.9v1.9h-1.9z"/><path fill="#e00" d="M391.8 268.5h1.9v1.9h-1.9zM380.1 270h1.9v1.9h-1.9zM386 273h6.3v1.9h-6.3zM406.5 273h1.9v1.9h-1.9zM381.6 274.4h1.9v1.9h-1.9zM394.8 274.4h1.9v1.9h-1.9zM402.1 274.4h1.9v1.9h-1.9zM416.7 274.4h3.3v1.9h-3.3z"/><path fill="#d00" d="M393.3 268.5h1.9v1.9h-1.9zM403.6 268.5h1.9v1.9h-1.9zM413.8 268.5h1.9v1.9h-1.9zM378.7 270h1.9v1.9h-1.9zM407.9 273h1.9v1.9h-1.9zM393.3 274.4h1.9v1.9h-1.9zM403.6 274.4h1.9v1.9h-1.9zM396.2 275.9h4.8v1.9h-4.8z"/><path fill="#f10" d="M381.6 270h1.9v1.9h-1.9zM397.7 270h3.3v1.9h-3.3zM402.1 270h1.9v1.9h-1.9zM415.3 270h1.9v1.9h-1.9zM384.5 273h1.9v1.9h-1.9zM391.8 273h1.9v1.9h-1.9zM380.1 274.4h1.9v1.9h-1.9zM396.2 274.4h1.9v1.9h-1.9zM400.6 274.4h1.9v1.9h-1.9z"/><path fill="#f80" d="M384.5 270h1.9v1.9h-1.9zM391.8 270h1.9v1.9h-1.9zM405 270h1.9v1.9h-1.9zM412.3 270h1.9v1.9h-1.9zM386 271.5h1.9v1.9h-1.9zM388.9 271.5h1.9v1.9h-1.9zM406.5 271.5h1.9v1.9h-1.9zM412.3 271.5h1.9v1.9h-1.9zM396.2 273h1.9v1.9h-1.9zM400.6 273h1.9v1.9h-1.9z"/><path fill="#fa0" d="M386 270h1.9v1.9h-1.9zM388.9 270h1.9v1.9h-1.9zM409.4 270h1.9v1.9h-1.9zM381.6 271.5h3.3v1.9h-3.3zM391.8 271.5h1.9v1.9h-1.9zM403.6 271.5h3.3v1.9h-3.3zM413.8 271.5h1.9v1.9h-1.9zM399.2 273h1.9v1.9h-1.9z"/><path fill="#fb0" d="M387.4 270h1.9v1.9h-1.9zM406.5 270h1.9v1.9h-1.9zM393.3 271.5h3.3v1.9h-3.3zM397.7 271.5h1.9v1.9h-1.9zM380.1 273h1.9v1.9h-1.9z"/><path fill="#f90" d="M390.4 270h1.9v1.9h-1.9zM410.9 270h1.9v1.9h-1.9zM384.5 271.5h1.9v1.9h-1.9zM390.4 271.5h1.9v1.9h-1.9zM399.2 271.5h4.8v1.9h-4.8zM415.3 271.5h1.9v1.9h-1.9zM397.7 273h1.9v1.9h-1.9zM416.7 273h3.3v1.9h-3.3z"/><path fill="#f60" d="M393.3 270h1.9v1.9h-1.9zM413.8 270h1.9v1.9h-1.9zM410.9 271.5h1.9v1.9h-1.9zM394.8 273h1.9v1.9h-1.9zM403.6 273h1.9v1.9h-1.9z"/><path fill="#fc0" d="M407.9 270h1.9v1.9h-1.9zM396.2 271.5h1.9v1.9h-1.9zM375.7 273h4.8v1.9h-4.8z"/><path fill="#f70" d="M380.1 271.5h1.9v1.9h-1.9zM387.4 271.5h1.9v1.9h-1.9zM381.6 273h1.9v1.9h-1.9zM402.1 273h1.9v1.9h-1.9z"/><path fill="#f30" d="M383.1 273h1.9v1.9h-1.9zM378.7 274.4h1.9v1.9h-1.9zM399.2 274.4h1.9v1.9h-1.9z"/></g></g></g><rect x="382.5" y="257.5" width="45" height="44" fill="#fff" stroke="#5a5a5a" stroke-width="1.2"/><g clip-path="url(#c13)"><g filter="url(#bl0_45)"><g shape-rendering="crispEdges"><path fill="#f10" d="M383.6 273.2h2.4v1.4h-2.4zM393.6 273.2h2.4v1.4h-2.4zM399.6 273.2h1.4v1.4h-1.4zM408.6 273.2h1.4v1.4h-1.4zM383.6 274.1h2.4v1.4h-2.4zM393.6 274.1h2.4v1.4h-2.4zM399.6 274.1h1.4v1.4h-1.4zM408.6 274.1h1.4v1.4h-1.4zM383.6 275.1h2.4v1.4h-2.4zM393.6 275.1h4.4v1.4h-4.4zM398.6 275.1h2.4v1.4h-2.4zM383.6 276.1h3.4v1.4h-3.4zM399.6 276.1h1.4v1.4h-1.4zM387.6 277h2.4v1.4h-2.4zM391.6 277h1.4v1.4h-1.4zM398.6 282.9h1.4v1.4h-1.4zM401.6 285.8h1.4v1.4h-1.4zM401.6 286.7h1.4v1.4h-1.4z"/><path fill="#e00" d="M385.6 273.2h1.4v1.4h-1.4zM392.6 273.2h1.4v1.4h-1.4zM385.6 274.1h1.4v1.4h-1.4zM392.6 274.1h1.4v1.4h-1.4zM386.6 275.1h1.4v1.4h-1.4zM388.6 275.1h3.4v1.4h-3.4zM389.6 276.1h2.4v1.4h-2.4zM397.6 282.9h1.4v1.4h-1.4zM391.6 283.8h1.4v1.4h-1.4zM397.6 283.8h2.4v1.4h-2.4zM388.6 284.8h1.4v1.4h-1.4zM399.6 284.8h1.4v1.4h-1.4zM387.6 285.8h1.4v1.4h-1.4zM400.6 285.8h1.4v1.4h-1.4zM387.6 286.7h1.4v1.4h-1.4zM400.6 286.7h1.4v1.4h-1.4z"/><path fill="#d00" d="M386.6 273.2h1.4v1.4h-1.4zM389.6 273.2h3.4v1.4h-3.4zM386.6 274.1h1.4v1.4h-1.4zM389.6 274.1h3.4v1.4h-3.4zM387.6 275.1h1.4v1.4h-1.4zM391.6 275.1h1.4v1.4h-1.4zM394.6 281.9h2.4v1.4h-2.4zM383.6 282.9h2.4v1.4h-2.4zM394.6 282.9h1.4v1.4h-1.4zM396.6 282.9h1.4v1.4h-1.4zM385.6 283.8h1.4v1.4h-1.4zM393.6 283.8h1.4v1.4h-1.4zM395.6 283.8h2.4v1.4h-2.4zM389.6 284.8h1.4v1.4h-1.4zM391.6 284.8h1.4v1.4h-1.4zM396.6 284.8h3.4v1.4h-3.4zM386.6 285.8h1.4v1.4h-1.4zM388.6 285.8h2.4v1.4h-2.4zM399.6 285.8h1.4v1.4h-1.4zM386.6 286.7h1.4v1.4h-1.4zM388.6 286.7h2.4v1.4h-2.4zM399.6 286.7h1.4v1.4h-1.4z"/><path fill="#c00" d="M387.6 273.2h2.4v1.4h-2.4zM387.6 274.1h2.4v1.4h-2.4zM393.6 282.9h1.4v1.4h-1.4zM395.6 282.9h1.4v1.4h-1.4zM392.6 283.8h1.4v1.4h-1.4zM394.6 283.8h1.4v1.4h-1.4zM383.6 284.8h5.4v1.4h-5.4zM390.6 284.8h1.4v1.4h-1.4zM392.6 284.8h4.4v1.4h-4.4zM383.6 285.8h3.4v1.4h-3.4zM390.6 285.8h7.4v1.4h-7.4zM398.6 285.8h1.4v1.4h-1.4zM383.6 286.7h3.4v1.4h-3.4zM390.6 286.7h7.4v1.4h-7.4zM398.6 286.7h1.4v1.4h-1.4z"/><path fill="#f00" d="M395.6 273.2h4.4v1.4h-4.4zM395.6 274.1h4.4v1.4h-4.4zM385.6 275.1h1.4v1.4h-1.4zM392.6 275.1h1.4v1.4h-1.4zM386.6 276.1h3.4v1.4h-3.4zM391.6 276.1h2.4v1.4h-2.4zM389.6 277h2.4v1.4h-2.4zM393.6 281.9h1.4v1.4h-1.4zM396.6 281.9h1.4v1.4h-1.4zM385.6 282.9h1.4v1.4h-1.4zM392.6 282.9h1.4v1.4h-1.4zM386.6 283.8h2.4v1.4h-2.4zM399.6 283.8h1.4v1.4h-1.4zM400.6 284.8h1.4v1.4h-1.4z"/><path fill="#f20" d="M400.6 273.2h2.4v1.4h-2.4zM407.6 273.2h1.4v1.4h-1.4zM409.6 273.2h3.4v1.4h-3.4zM400.6 274.1h2.4v1.4h-2.4zM407.6 274.1h1.4v1.4h-1.4zM409.6 274.1h3.4v1.4h-3.4zM397.6 275.1h1.4v1.4h-1.4zM400.6 275.1h1.4v1.4h-1.4zM393.6 276.1h1.4v1.4h-1.4zM400.6 276.1h3.4v1.4h-3.4zM386.6 277h1.4v1.4h-1.4zM400.6 277h3.4v1.4h-3.4zM401.6 278h1.4v1.4h-1.4zM383.6 281.9h2.4v1.4h-2.4zM400.6 283.8h1.4v1.4h-1.4zM401.6 284.8h1.4v1.4h-1.4z"/><path fill="#f40" d="M402.6 273.2h1.4v1.4h-1.4zM406.6 273.2h1.4v1.4h-1.4zM414.6 273.2h1.4v1.4h-1.4zM402.6 274.1h1.4v1.4h-1.4zM406.6 274.1h1.4v1.4h-1.4zM414.6 274.1h1.4v1.4h-1.4zM402.6 275.1h5.4v1.4h-5.4zM408.6 275.1h1.4v1.4h-1.4zM411.6 275.1h1.4v1.4h-1.4zM414.6 275.1h1.4v1.4h-1.4zM394.6 276.1h1.4v1.4h-1.4zM398.6 276.1h1.4v1.4h-1.4zM412.6 276.1h3.4v1.4h-3.4zM385.6 277h1.4v1.4h-1.4zM388.6 278h1.4v1.4h-1.4zM400.6 278h1.4v1.4h-1.4zM385.6 281.9h1.4v1.4h-1.4zM392.6 281.9h1.4v1.4h-1.4zM403.6 284.8h1.4v1.4h-1.4zM403.6 285.8h1.4v1.4h-1.4zM403.6 286.7h1.4v1.4h-1.4z"/><path fill="#f60" d="M403.6 273.2h1.4v1.4h-1.4zM405.6 273.2h1.4v1.4h-1.4zM415.6 273.2h4.4v1.4h-4.4zM403.6 274.1h1.4v1.4h-1.4zM405.6 274.1h1.4v1.4h-1.4zM415.6 274.1h4.4v1.4h-4.4zM417.6 275.1h2.4v1.4h-2.4zM420.6 275.1h2.4v1.4h-2.4zM411.6 276.1h1.4v1.4h-1.4zM416.6 276.1h1.4v1.4h-1.4zM383.6 277h2.4v1.4h-2.4zM416.6 277h2.4v1.4h-2.4zM394.6 280.9h1.4v1.4h-1.4zM386.6 282.9h1.4v1.4h-1.4zM399.6 282.9h1.4v1.4h-1.4zM404.6 284.8h1.4v1.4h-1.4zM404.6 285.8h1.4v1.4h-1.4zM404.6 286.7h1.4v1.4h-1.4z"/><path fill="#f70" d="M404.6 273.2h1.4v1.4h-1.4zM419.6 273.2h5.4v1.4h-5.4zM404.6 274.1h1.4v1.4h-1.4zM419.6 274.1h5.4v1.4h-5.4zM419.6 275.1h1.4v1.4h-1.4zM396.6 276.1h1.4v1.4h-1.4zM407.6 276.1h1.4v1.4h-1.4zM417.6 276.1h3.4v1.4h-3.4zM405.6 277h1.4v1.4h-1.4zM418.6 277h1.4v1.4h-1.4zM386.6 278h1.4v1.4h-1.4zM403.6 278h1.4v1.4h-1.4zM393.6 280.9h1.4v1.4h-1.4zM395.6 280.9h1.4v1.4h-1.4zM389.6 283.8h1.4v1.4h-1.4zM403.6 283.8h2.4v1.4h-2.4z"/><path fill="#f30" d="M412.6 273.2h2.4v1.4h-2.4zM412.6 274.1h2.4v1.4h-2.4zM401.6 275.1h1.4v1.4h-1.4zM407.6 275.1h1.4v1.4h-1.4zM409.6 275.1h2.4v1.4h-2.4zM412.6 275.1h2.4v1.4h-2.4zM403.6 276.1h4.4v1.4h-4.4zM399.6 277h1.4v1.4h-1.4zM403.6 277h2.4v1.4h-2.4zM402.6 278h1.4v1.4h-1.4zM397.6 281.9h1.4v1.4h-1.4zM390.6 283.8h1.4v1.4h-1.4zM402.6 284.8h1.4v1.4h-1.4zM402.6 285.8h1.4v1.4h-1.4zM402.6 286.7h1.4v1.4h-1.4z"/><path fill="#f80" d="M424.6 273.2h2.4v1.4h-2.4zM424.6 274.1h2.4v1.4h-2.4zM422.6 275.1h4.4v1.4h-4.4zM420.6 276.1h1.4v1.4h-1.4zM419.6 277h1.4v1.4h-1.4zM390.6 278h1.4v1.4h-1.4zM383.6 280.9h2.4v1.4h-2.4zM386.6 281.9h1.4v1.4h-1.4zM401.6 283.8h1.4v1.4h-1.4zM405.6 285.8h1.4v1.4h-1.4zM405.6 286.7h1.4v1.4h-1.4z"/><path fill="#f50" d="M415.6 275.1h2.4v1.4h-2.4zM395.6 276.1h1.4v1.4h-1.4zM415.6 276.1h1.4v1.4h-1.4zM392.6 277h1.4v1.4h-1.4zM414.6 277h2.4v1.4h-2.4zM387.6 278h1.4v1.4h-1.4zM389.6 278h1.4v1.4h-1.4zM391.6 282.9h1.4v1.4h-1.4zM388.6 283.8h1.4v1.4h-1.4z"/><path fill="#fa0" d="M397.6 276.1h1.4v1.4h-1.4zM398.6 277h1.4v1.4h-1.4zM413.6 277h1.4v1.4h-1.4zM385.6 278h1.4v1.4h-1.4zM401.6 279h2.4v1.4h-2.4zM385.6 280.9h1.4v1.4h-1.4zM392.6 280.9h1.4v1.4h-1.4zM396.6 280.9h1.4v1.4h-1.4zM391.6 281.9h1.4v1.4h-1.4zM390.6 282.9h1.4v1.4h-1.4zM404.6 282.9h2.4v1.4h-2.4z"/><path fill="#fd0" d="M408.6 276.1h1.4v1.4h-1.4zM397.6 277h1.4v1.4h-1.4zM406.6 277h1.4v1.4h-1.4zM386.6 279h1.4v1.4h-1.4zM400.6 279h1.4v1.4h-1.4zM394.6 279.9h1.4v1.4h-1.4zM388.6 282.9h1.4v1.4h-1.4zM403.6 282.9h1.4v1.4h-1.4zM407.6 282.9h1.4v1.4h-1.4z"/><path fill="#fc0" d="M409.6 276.1h1.4v1.4h-1.4zM394.6 277h1.4v1.4h-1.4zM383.6 278h2.4v1.4h-2.4zM417.6 278h1.4v1.4h-1.4zM389.6 279h1.4v1.4h-1.4zM386.6 280.9h1.4v1.4h-1.4zM387.6 281.9h1.4v1.4h-1.4zM400.6 282.9h1.4v1.4h-1.4z"/><path fill="#f90" d="M410.6 276.1h1.4v1.4h-1.4zM393.6 277h1.4v1.4h-1.4zM399.6 278h1.4v1.4h-1.4zM404.6 278h1.4v1.4h-1.4zM398.6 281.9h1.4v1.4h-1.4zM387.6 282.9h1.4v1.4h-1.4zM402.6 283.8h1.4v1.4h-1.4zM405.6 283.8h1.4v1.4h-1.4zM405.6 284.8h1.4v1.4h-1.4z"/><path fill="#fb0" d="M421.6 276.1h1.4v1.4h-1.4zM424.6 276.1h2.4v1.4h-2.4zM391.6 278h1.4v1.4h-1.4zM387.6 279h2.4v1.4h-2.4zM406.6 282.9h1.4v1.4h-1.4zM406.6 283.8h1.4v1.4h-1.4zM406.6 284.8h1.4v1.4h-1.4zM406.6 285.8h1.4v1.4h-1.4zM406.6 286.7h1.4v1.4h-1.4z"/><path fill="#ff0" d="M422.6 276.1h2.4v1.4h-2.4zM412.6 277h1.4v1.4h-1.4zM383.6 279h2.4v1.4h-2.4zM385.6 279.9h1.4v1.4h-1.4zM387.6 279.9h2.4v1.4h-2.4zM391.6 279.9h1.4v1.4h-1.4zM393.6 279.9h1.4v1.4h-1.4zM388.6 280.9h2.4v1.4h-2.4zM397.6 280.9h1.4v1.4h-1.4zM388.6 281.9h1.4v1.4h-1.4zM390.6 281.9h1.4v1.4h-1.4zM405.6 281.9h1.4v1.4h-1.4zM407.6 285.8h1.4v1.4h-1.4zM407.6 286.7h1.4v1.4h-1.4z"/><path fill="#fe0" d="M395.6 277h2.4v1.4h-2.4zM420.6 277h1.4v1.4h-1.4zM392.6 278h1.4v1.4h-1.4zM416.6 278h1.4v1.4h-1.4zM418.6 278h1.4v1.4h-1.4zM385.6 279h1.4v1.4h-1.4zM390.6 279h1.4v1.4h-1.4zM383.6 279.9h2.4v1.4h-2.4zM389.6 279.9h2.4v1.4h-2.4zM387.6 280.9h1.4v1.4h-1.4zM390.6 280.9h2.4v1.4h-2.4zM389.6 282.9h1.4v1.4h-1.4zM407.6 283.8h1.4v1.4h-1.4zM407.6 284.8h1.4v1.4h-1.4z"/><path fill="#ef1" d="M407.6 277h1.4v1.4h-1.4zM398.6 278h1.4v1.4h-1.4zM391.6 279h1.4v1.4h-1.4zM386.6 279.9h1.4v1.4h-1.4zM392.6 279.9h1.4v1.4h-1.4zM389.6 281.9h1.4v1.4h-1.4zM404.6 281.9h1.4v1.4h-1.4zM406.6 281.9h1.4v1.4h-1.4zM408.6 282.9h1.4v1.4h-1.4zM408.6 283.8h1.4v1.4h-1.4zM408.6 284.8h1.4v1.4h-1.4z"/><path fill="#af5" d="M408.6 277h1.4v1.4h-1.4zM424.6 277h2.4v1.4h-2.4zM414.6 278h1.4v1.4h-1.4zM395.6 279h1.4v1.4h-1.4z"/><path fill="#8f7" d="M409.6 277h1.4v1.4h-1.4zM397.6 279h1.4v1.4h-1.4zM398.6 279.9h1.4v1.4h-1.4zM402.6 279.9h1.4v1.4h-1.4zM400.6 281.9h1.4v1.4h-1.4zM403.6 281.9h1.4v1.4h-1.4z"/><path fill="#6f9" d="M410.6 277h1.4v1.4h-1.4zM420.6 278h1.4v1.4h-1.4zM417.6 279h1.4v1.4h-1.4zM400.6 280.9h1.4v1.4h-1.4zM404.6 280.9h1.4v1.4h-1.4zM406.6 280.9h1.4v1.4h-1.4zM411.6 282.9h1.4v1.4h-1.4zM412.6 284.8h1.4v1.4h-1.4zM412.6 285.8h1.4v1.4h-1.4zM412.6 286.7h1.4v1.4h-1.4z"/><path fill="#7f8" d="M411.6 277h1.4v1.4h-1.4zM399.6 279.9h2.4v1.4h-2.4zM399.6 280.9h1.4v1.4h-1.4zM407.6 280.9h1.4v1.4h-1.4zM409.6 281.9h1.4v1.4h-1.4zM411.6 283.8h1.4v1.4h-1.4zM411.6 284.8h1.4v1.4h-1.4zM411.6 285.8h1.4v1.4h-1.4zM411.6 286.7h1.4v1.4h-1.4z"/><path fill="#3fc" d="M421.6 277h1.4v1.4h-1.4zM406.6 278h1.4v1.4h-1.4zM413.6 278h1.4v1.4h-1.4zM403.6 279.9h1.4v1.4h-1.4zM402.6 280.9h1.4v1.4h-1.4zM408.6 280.9h1.4v1.4h-1.4zM402.6 281.9h1.4v1.4h-1.4zM412.6 282.9h1.4v1.4h-1.4zM413.6 283.8h1.4v1.4h-1.4zM419.6 283.8h1.4v1.4h-1.4zM414.6 284.8h1.4v1.4h-1.4zM418.6 284.8h1.4v1.4h-1.4zM422.6 284.8h4.4v1.4h-4.4zM414.6 285.8h1.4v1.4h-1.4zM420.6 285.8h4.4v1.4h-4.4zM414.6 286.7h1.4v1.4h-1.4zM420.6 286.7h4.4v1.4h-4.4z"/><path fill="#4fb" d="M422.6 277h1.4v1.4h-1.4zM416.6 279h1.4v1.4h-1.4zM418.6 279h1.4v1.4h-1.4zM410.6 281.9h2.4v1.4h-2.4zM418.6 283.8h1.4v1.4h-1.4zM413.6 284.8h1.4v1.4h-1.4zM413.6 285.8h1.4v1.4h-1.4zM424.6 285.8h2.4v1.4h-2.4zM413.6 286.7h1.4v1.4h-1.4zM424.6 286.7h2.4v1.4h-2.4z"/><path fill="#1fe" d="M423.6 277h1.4v1.4h-1.4zM408.6 278h1.4v1.4h-1.4zM404.6 279.9h1.4v1.4h-1.4zM411.6 280.9h1.4v1.4h-1.4zM412.6 281.9h1.4v1.4h-1.4zM423.6 281.9h3.4v1.4h-3.4zM418.6 282.9h2.4v1.4h-2.4zM421.6 282.9h1.4v1.4h-1.4zM414.6 283.8h2.4v1.4h-2.4zM416.6 284.8h1.4v1.4h-1.4zM417.6 285.8h2.4v1.4h-2.4zM417.6 286.7h2.4v1.4h-2.4z"/><path fill="#df2" d="M393.6 278h1.4v1.4h-1.4zM397.6 278h1.4v1.4h-1.4zM419.6 278h1.4v1.4h-1.4zM392.6 279h1.4v1.4h-1.4zM399.6 279h1.4v1.4h-1.4zM403.6 279h1.4v1.4h-1.4zM395.6 279.9h1.4v1.4h-1.4zM407.6 281.9h1.4v1.4h-1.4zM401.6 282.9h1.4v1.4h-1.4zM408.6 285.8h1.4v1.4h-1.4zM408.6 286.7h1.4v1.4h-1.4z"/><path fill="#cf3" d="M394.6 278h1.4v1.4h-1.4zM396.6 278h1.4v1.4h-1.4zM415.6 278h1.4v1.4h-1.4zM393.6 279h1.4v1.4h-1.4zM396.6 279.9h1.4v1.4h-1.4zM399.6 281.9h1.4v1.4h-1.4zM409.6 282.9h1.4v1.4h-1.4zM409.6 283.8h1.4v1.4h-1.4z"/><path fill="#bf4" d="M395.6 278h1.4v1.4h-1.4zM405.6 278h1.4v1.4h-1.4zM394.6 279h1.4v1.4h-1.4zM398.6 280.9h1.4v1.4h-1.4zM402.6 282.9h1.4v1.4h-1.4zM409.6 284.8h1.4v1.4h-1.4zM409.6 285.8h1.4v1.4h-1.4zM409.6 286.7h1.4v1.4h-1.4z"/><path fill="#2fd" d="M407.6 278h1.4v1.4h-1.4zM405.6 279h1.4v1.4h-1.4zM403.6 280.9h1.4v1.4h-1.4zM420.6 282.9h1.4v1.4h-1.4zM422.6 282.9h4.4v1.4h-4.4zM416.6 283.8h2.4v1.4h-2.4zM420.6 283.8h6.4v1.4h-6.4zM415.6 284.8h1.4v1.4h-1.4zM417.6 284.8h1.4v1.4h-1.4zM419.6 284.8h3.4v1.4h-3.4zM415.6 285.8h2.4v1.4h-2.4zM419.6 285.8h1.4v1.4h-1.4zM415.6 286.7h2.4v1.4h-2.4zM419.6 286.7h1.4v1.4h-1.4z"/><path fill="#0ef" d="M409.6 278h1.4v1.4h-1.4zM406.6 279h2.4v1.4h-2.4zM414.6 279h1.4v1.4h-1.4zM422.6 281.9h1.4v1.4h-1.4zM416.6 282.9h1.4v1.4h-1.4z"/><path fill="#0bf" d="M410.6 278h1.4v1.4h-1.4zM411.6 279h1.4v1.4h-1.4z"/><path fill="#0af" d="M411.6 278h1.4v1.4h-1.4zM412.6 279h2.4v1.4h-2.4zM413.6 279.9h2.4v1.4h-2.4zM413.6 280.9h2.4v1.4h-2.4zM423.6 280.9h3.4v1.4h-3.4zM415.6 281.9h1.4v1.4h-1.4zM418.6 281.9h2.4v1.4h-2.4z"/><path fill="#0cf" d="M412.6 278h1.4v1.4h-1.4zM424.6 278h2.4v1.4h-2.4zM409.6 279h2.4v1.4h-2.4zM411.6 279.9h2.4v1.4h-2.4zM413.6 281.9h1.4v1.4h-1.4zM420.6 281.9h1.4v1.4h-1.4zM414.6 282.9h1.4v1.4h-1.4z"/><path fill="#08f" d="M421.6 278h1.4v1.4h-1.4zM420.6 279h1.4v1.4h-1.4zM416.6 279.9h2.4v1.4h-2.4zM415.6 280.9h1.4v1.4h-1.4zM421.6 280.9h2.4v1.4h-2.4z"/><path fill="#07f" d="M422.6 278h1.4v1.4h-1.4zM416.6 280.9h1.4v1.4h-1.4z"/><path fill="#05f" d="M423.6 278h1.4v1.4h-1.4zM418.6 279.9h1.4v1.4h-1.4zM421.6 279.9h3.4v1.4h-3.4zM418.6 280.9h2.4v1.4h-2.4z"/><path fill="#9f6" d="M396.6 279h1.4v1.4h-1.4zM398.6 279h1.4v1.4h-1.4zM404.6 279h1.4v1.4h-1.4zM397.6 279.9h1.4v1.4h-1.4zM401.6 279.9h1.4v1.4h-1.4zM408.6 281.9h1.4v1.4h-1.4zM410.6 282.9h1.4v1.4h-1.4zM410.6 283.8h1.4v1.4h-1.4zM410.6 284.8h1.4v1.4h-1.4zM410.6 285.8h1.4v1.4h-1.4zM410.6 286.7h1.4v1.4h-1.4z"/><path fill="#0df" d="M408.6 279h1.4v1.4h-1.4zM419.6 279h1.4v1.4h-1.4zM408.6 279.9h3.4v1.4h-3.4zM412.6 280.9h1.4v1.4h-1.4zM421.6 281.9h1.4v1.4h-1.4zM415.6 282.9h1.4v1.4h-1.4z"/><path fill="#0ff" d="M415.6 279h1.4v1.4h-1.4zM405.6 279.9h3.4v1.4h-3.4zM409.6 280.9h2.4v1.4h-2.4zM413.6 282.9h1.4v1.4h-1.4zM417.6 282.9h1.4v1.4h-1.4z"/><path fill="#03f" d="M421.6 279h2.4v1.4h-2.4zM424.6 279h2.4v1.4h-2.4z"/><path fill="#02f" d="M423.6 279h1.4v1.4h-1.4z"/><path fill="#09f" d="M415.6 279.9h1.4v1.4h-1.4zM414.6 281.9h1.4v1.4h-1.4zM416.6 281.9h2.4v1.4h-2.4z"/><path fill="#04f" d="M419.6 279.9h2.4v1.4h-2.4zM424.6 279.9h2.4v1.4h-2.4z"/><path fill="#5fa" d="M401.6 280.9h1.4v1.4h-1.4zM405.6 280.9h1.4v1.4h-1.4zM401.6 281.9h1.4v1.4h-1.4zM412.6 283.8h1.4v1.4h-1.4z"/><path fill="#06f" d="M417.6 280.9h1.4v1.4h-1.4zM420.6 280.9h1.4v1.4h-1.4z"/><path fill="#b00" d="M383.6 283.8h2.4v1.4h-2.4zM397.6 285.8h1.4v1.4h-1.4zM397.6 286.7h1.4v1.4h-1.4z"/></g></g></g><circle cx="366.4" cy="239.3" r="1.2" fill="#000"/><circle cx="369.3" cy="242.9" r="1.2" fill="#000"/><circle cx="372.9" cy="246.7" r="1.2" fill="#000"/><rect x="450.6" y="235.8" width="17.6" height="65.2" fill="#00ffff"/><rect x="486.7" y="235.8" width="17" height="65.2" fill="#00ffff"/><rect x="522.8" y="235.8" width="18.2" height="65.2" fill="#00ffff"/><rect x="559.9" y="235.8" width="17" height="65.2" fill="#00ffff"/><path d="M427.5 268.5 L445.5 268.5" fill="none" stroke="#1a1a1a" stroke-width="1.2"/><path d="M450.5 268.5 L445 265.6 L445 271.4 Z" fill="#1a1a1a"/><path d="M468.5 268.5 L481.5 268.5" fill="none" stroke="#1a1a1a" stroke-width="1.2"/><path d="M486.5 268.5 L481 265.6 L481 271.4 Z" fill="#1a1a1a"/><path d="M503.5 268.5 L517.5 268.5" fill="none" stroke="#1a1a1a" stroke-width="1.2"/><path d="M522.5 268.5 L517 265.6 L517 271.4 Z" fill="#1a1a1a"/><path d="M541.5 268.5 L554.5 268.5" fill="none" stroke="#1a1a1a" stroke-width="1.2"/><path d="M559.5 268.5 L554 265.6 L554 271.4 Z" fill="#1a1a1a"/><path d="M576.5 268.5 L592.5 268.5" fill="none" stroke="#1a1a1a" stroke-width="1.2"/><path d="M597.5 268.5 L592 265.6 L592 271.4 Z" fill="#1a1a1a"/><rect x="597.5" y="246.5" width="45" height="44" fill="#fff" stroke="#5a5a5a" stroke-width="1.2"/><g clip-path="url(#c14)"><g filter="url(#bl0_4)"><g shape-rendering="crispEdges"><path fill="#9f6" d="M598.8 260.2h2.4v1.4h-2.4zM623.3 260.2h1.4v1.4h-1.4zM628.2 260.2h1.4v1.4h-1.4zM633.1 260.2h2.4v1.4h-2.4zM638 260.2h1.4v1.4h-1.4zM598.8 261.2h2.4v1.4h-2.4zM623.3 261.2h1.4v1.4h-1.4zM628.2 261.2h1.4v1.4h-1.4zM633.1 261.2h2.4v1.4h-2.4zM638 261.2h1.4v1.4h-1.4zM605.7 262.2h1.4v1.4h-1.4zM611.6 262.2h1.4v1.4h-1.4zM614.5 262.2h1.4v1.4h-1.4zM623.3 262.2h2.4v1.4h-2.4zM627.3 262.2h2.4v1.4h-2.4zM636.1 262.2h2.4v1.4h-2.4zM602.7 263.2h1.4v1.4h-1.4zM611.6 263.2h1.4v1.4h-1.4zM613.5 263.2h3.3v1.4h-3.3zM622.4 263.2h8.2v1.4h-8.2zM636.1 263.2h2.4v1.4h-2.4zM602.7 264.2h1.4v1.4h-1.4zM607.6 264.2h1.4v1.4h-1.4zM611.6 264.2h1.4v1.4h-1.4zM616.5 264.2h1.4v1.4h-1.4zM621.4 264.2h1.4v1.4h-1.4zM626.3 264.2h3.3v1.4h-3.3zM631.2 264.2h1.4v1.4h-1.4zM639 264.2h2.4v1.4h-2.4zM612.5 265.2h1.4v1.4h-1.4zM625.3 265.2h4.3v1.4h-4.3zM631.2 265.2h6.3v1.4h-6.3zM606.7 266.2h1.4v1.4h-1.4zM612.5 266.2h3.3v1.4h-3.3zM619.4 266.2h1.4v1.4h-1.4zM627.3 266.2h1.4v1.4h-1.4zM632.2 266.2h1.4v1.4h-1.4zM635.1 266.2h1.4v1.4h-1.4zM598.8 267.2h2.4v1.4h-2.4zM611.6 267.2h4.3v1.4h-4.3zM619.4 267.2h1.4v1.4h-1.4zM629.2 267.2h2.4v1.4h-2.4zM634.1 267.2h2.4v1.4h-2.4zM598.8 268.2h2.4v1.4h-2.4zM605.7 268.2h2.4v1.4h-2.4zM611.6 268.2h6.3v1.4h-6.3zM622.4 268.2h1.4v1.4h-1.4zM630.2 268.2h2.4v1.4h-2.4zM613.5 269.1h1.4v1.4h-1.4zM616.5 269.1h1.4v1.4h-1.4zM621.4 269.1h1.4v1.4h-1.4zM630.2 269.1h4.3v1.4h-4.3zM598.8 270.1h2.4v1.4h-2.4zM614.5 270.1h1.4v1.4h-1.4zM624.3 270.1h1.4v1.4h-1.4zM629.2 270.1h4.3v1.4h-4.3zM619.4 271.1h1.4v1.4h-1.4zM626.3 271.1h2.4v1.4h-2.4zM630.2 271.1h1.4v1.4h-1.4zM598.8 272.1h3.3v1.4h-3.3zM602.7 272.1h2.4v1.4h-2.4zM607.6 272.1h1.4v1.4h-1.4zM611.6 272.1h2.4v1.4h-2.4zM620.4 272.1h1.4v1.4h-1.4zM633.1 272.1h1.4v1.4h-1.4zM637.1 272.1h4.3v1.4h-4.3zM600.8 273.1h3.3v1.4h-3.3zM606.7 273.1h1.4v1.4h-1.4zM610.6 273.1h2.4v1.4h-2.4zM613.5 273.1h1.4v1.4h-1.4zM620.4 273.1h1.4v1.4h-1.4zM636.1 273.1h1.4v1.4h-1.4zM600.8 274.1h3.3v1.4h-3.3zM606.7 274.1h1.4v1.4h-1.4zM610.6 274.1h2.4v1.4h-2.4zM613.5 274.1h1.4v1.4h-1.4zM620.4 274.1h1.4v1.4h-1.4zM636.1 274.1h1.4v1.4h-1.4z"/><path fill="#af5" d="M600.8 260.2h1.4v1.4h-1.4zM605.7 260.2h1.4v1.4h-1.4zM609.6 260.2h2.4v1.4h-2.4zM614.5 260.2h1.4v1.4h-1.4zM618.4 260.2h2.4v1.4h-2.4zM622.4 260.2h1.4v1.4h-1.4zM629.2 260.2h1.4v1.4h-1.4zM632.2 260.2h1.4v1.4h-1.4zM600.8 261.2h1.4v1.4h-1.4zM605.7 261.2h1.4v1.4h-1.4zM609.6 261.2h2.4v1.4h-2.4zM614.5 261.2h1.4v1.4h-1.4zM618.4 261.2h2.4v1.4h-2.4zM622.4 261.2h1.4v1.4h-1.4zM629.2 261.2h1.4v1.4h-1.4zM632.2 261.2h1.4v1.4h-1.4zM601.8 262.2h2.4v1.4h-2.4zM606.7 262.2h5.3v1.4h-5.3zM615.5 262.2h2.4v1.4h-2.4zM622.4 262.2h1.4v1.4h-1.4zM629.2 262.2h3.3v1.4h-3.3zM633.1 262.2h1.4v1.4h-1.4zM603.7 263.2h1.4v1.4h-1.4zM608.6 263.2h1.4v1.4h-1.4zM610.6 263.2h1.4v1.4h-1.4zM631.2 263.2h1.4v1.4h-1.4zM633.1 263.2h1.4v1.4h-1.4zM609.6 264.2h2.4v1.4h-2.4zM632.2 264.2h1.4v1.4h-1.4zM620.4 265.2h2.4v1.4h-2.4zM609.6 266.2h1.4v1.4h-1.4zM618.4 266.2h1.4v1.4h-1.4zM620.4 266.2h3.3v1.4h-3.3zM606.7 267.2h3.3v1.4h-3.3zM610.6 267.2h1.4v1.4h-1.4zM615.5 267.2h1.4v1.4h-1.4zM622.4 267.2h1.4v1.4h-1.4zM636.1 267.2h1.4v1.4h-1.4zM639 267.2h2.4v1.4h-2.4zM607.6 268.2h1.4v1.4h-1.4zM610.6 268.2h1.4v1.4h-1.4zM621.4 268.2h1.4v1.4h-1.4zM633.1 268.2h5.3v1.4h-5.3zM610.6 269.1h1.4v1.4h-1.4zM617.4 269.1h1.4v1.4h-1.4zM620.4 269.1h1.4v1.4h-1.4zM609.6 270.1h1.4v1.4h-1.4zM619.4 270.1h1.4v1.4h-1.4zM622.4 270.1h1.4v1.4h-1.4zM637.1 270.1h1.4v1.4h-1.4zM618.4 271.1h1.4v1.4h-1.4zM620.4 271.1h1.4v1.4h-1.4zM628.2 271.1h2.4v1.4h-2.4zM631.2 271.1h2.4v1.4h-2.4zM637.1 271.1h2.4v1.4h-2.4zM621.4 272.1h1.4v1.4h-1.4zM623.3 272.1h1.4v1.4h-1.4zM625.3 272.1h4.3v1.4h-4.3zM631.2 272.1h2.4v1.4h-2.4zM634.1 272.1h1.4v1.4h-1.4zM598.8 273.1h2.4v1.4h-2.4zM603.7 273.1h2.4v1.4h-2.4zM621.4 273.1h7.3v1.4h-7.3zM632.2 273.1h4.3v1.4h-4.3zM598.8 274.1h2.4v1.4h-2.4zM603.7 274.1h2.4v1.4h-2.4zM621.4 274.1h7.3v1.4h-7.3zM632.2 274.1h4.3v1.4h-4.3z"/><path fill="#bf4" d="M601.8 260.2h2.4v1.4h-2.4zM604.7 260.2h1.4v1.4h-1.4zM606.7 260.2h3.3v1.4h-3.3zM615.5 260.2h3.3v1.4h-3.3zM630.2 260.2h2.4v1.4h-2.4zM601.8 261.2h2.4v1.4h-2.4zM604.7 261.2h1.4v1.4h-1.4zM606.7 261.2h3.3v1.4h-3.3zM615.5 261.2h3.3v1.4h-3.3zM630.2 261.2h2.4v1.4h-2.4zM603.7 262.2h2.4v1.4h-2.4zM618.4 262.2h1.4v1.4h-1.4zM621.4 262.2h1.4v1.4h-1.4zM632.2 262.2h1.4v1.4h-1.4zM609.6 263.2h1.4v1.4h-1.4zM621.4 263.2h1.4v1.4h-1.4zM632.2 263.2h1.4v1.4h-1.4zM608.6 264.2h1.4v1.4h-1.4zM607.6 265.2h3.3v1.4h-3.3zM607.6 266.2h2.4v1.4h-2.4zM611.6 266.2h1.4v1.4h-1.4zM634.1 266.2h1.4v1.4h-1.4zM639 266.2h2.4v1.4h-2.4zM605.7 267.2h1.4v1.4h-1.4zM621.4 267.2h1.4v1.4h-1.4zM632.2 267.2h1.4v1.4h-1.4zM637.1 267.2h2.4v1.4h-2.4zM638 268.2h3.3v1.4h-3.3zM607.6 269.1h1.4v1.4h-1.4zM609.6 269.1h1.4v1.4h-1.4zM636.1 269.1h3.3v1.4h-3.3zM607.6 270.1h1.4v1.4h-1.4zM636.1 270.1h1.4v1.4h-1.4zM638 270.1h1.4v1.4h-1.4zM607.6 271.1h2.4v1.4h-2.4zM639 271.1h2.4v1.4h-2.4zM622.4 272.1h1.4v1.4h-1.4zM629.2 272.1h2.4v1.4h-2.4zM628.2 273.1h4.3v1.4h-4.3zM628.2 274.1h4.3v1.4h-4.3z"/><path fill="#cf3" d="M603.7 260.2h1.4v1.4h-1.4zM603.7 261.2h1.4v1.4h-1.4zM618.4 263.2h1.4v1.4h-1.4zM625.3 264.2h1.4v1.4h-1.4zM619.4 265.2h1.4v1.4h-1.4zM601.8 266.2h1.4v1.4h-1.4zM620.4 267.2h1.4v1.4h-1.4zM603.7 269.1h1.4v1.4h-1.4zM639 269.1h2.4v1.4h-2.4zM608.6 270.1h1.4v1.4h-1.4zM625.3 270.1h1.4v1.4h-1.4zM639 270.1h2.4v1.4h-2.4zM625.3 271.1h1.4v1.4h-1.4zM635.1 271.1h1.4v1.4h-1.4zM605.7 273.1h1.4v1.4h-1.4zM605.7 274.1h1.4v1.4h-1.4z"/><path fill="#8f7" d="M611.6 260.2h1.4v1.4h-1.4zM613.5 260.2h1.4v1.4h-1.4zM621.4 260.2h1.4v1.4h-1.4zM624.3 260.2h1.4v1.4h-1.4zM627.3 260.2h1.4v1.4h-1.4zM636.1 260.2h2.4v1.4h-2.4zM611.6 261.2h1.4v1.4h-1.4zM613.5 261.2h1.4v1.4h-1.4zM621.4 261.2h1.4v1.4h-1.4zM624.3 261.2h1.4v1.4h-1.4zM627.3 261.2h1.4v1.4h-1.4zM636.1 261.2h2.4v1.4h-2.4zM598.8 262.2h3.3v1.4h-3.3zM612.5 262.2h2.4v1.4h-2.4zM625.3 262.2h2.4v1.4h-2.4zM598.8 263.2h4.3v1.4h-4.3zM604.7 263.2h1.4v1.4h-1.4zM612.5 263.2h1.4v1.4h-1.4zM598.8 264.2h4.3v1.4h-4.3zM603.7 264.2h1.4v1.4h-1.4zM605.7 264.2h1.4v1.4h-1.4zM612.5 264.2h4.3v1.4h-4.3zM633.1 264.2h1.4v1.4h-1.4zM635.1 264.2h2.4v1.4h-2.4zM598.8 265.2h3.3v1.4h-3.3zM613.5 265.2h4.3v1.4h-4.3zM622.4 265.2h1.4v1.4h-1.4zM598.8 266.2h2.4v1.4h-2.4zM615.5 266.2h1.4v1.4h-1.4zM623.3 266.2h1.4v1.4h-1.4zM626.3 266.2h1.4v1.4h-1.4zM628.2 266.2h1.4v1.4h-1.4zM636.1 266.2h2.4v1.4h-2.4zM604.7 267.2h1.4v1.4h-1.4zM623.3 267.2h1.4v1.4h-1.4zM631.2 267.2h1.4v1.4h-1.4zM625.3 268.2h1.4v1.4h-1.4zM598.8 269.1h3.3v1.4h-3.3zM608.6 269.1h1.4v1.4h-1.4zM612.5 269.1h1.4v1.4h-1.4zM622.4 269.1h1.4v1.4h-1.4zM624.3 269.1h4.3v1.4h-4.3zM629.2 269.1h1.4v1.4h-1.4zM635.1 269.1h1.4v1.4h-1.4zM602.7 270.1h1.4v1.4h-1.4zM623.3 270.1h1.4v1.4h-1.4zM626.3 270.1h3.3v1.4h-3.3zM598.8 271.1h2.4v1.4h-2.4zM601.8 271.1h1.4v1.4h-1.4zM603.7 271.1h1.4v1.4h-1.4zM623.3 271.1h1.4v1.4h-1.4zM601.8 272.1h1.4v1.4h-1.4zM604.7 272.1h1.4v1.4h-1.4zM608.6 272.1h1.4v1.4h-1.4zM619.4 272.1h1.4v1.4h-1.4zM607.6 273.1h1.4v1.4h-1.4zM609.6 273.1h1.4v1.4h-1.4zM612.5 273.1h1.4v1.4h-1.4zM615.5 273.1h1.4v1.4h-1.4zM637.1 273.1h1.4v1.4h-1.4zM607.6 274.1h1.4v1.4h-1.4zM609.6 274.1h1.4v1.4h-1.4zM612.5 274.1h1.4v1.4h-1.4zM615.5 274.1h1.4v1.4h-1.4zM637.1 274.1h1.4v1.4h-1.4z"/><path fill="#7f8" d="M612.5 260.2h1.4v1.4h-1.4zM625.3 260.2h2.4v1.4h-2.4zM612.5 261.2h1.4v1.4h-1.4zM625.3 261.2h2.4v1.4h-2.4zM606.7 263.2h1.4v1.4h-1.4zM637.1 264.2h1.4v1.4h-1.4zM602.7 265.2h1.4v1.4h-1.4zM604.7 265.2h1.4v1.4h-1.4zM638 265.2h1.4v1.4h-1.4zM629.2 266.2h1.4v1.4h-1.4zM601.8 268.2h1.4v1.4h-1.4zM626.3 268.2h1.4v1.4h-1.4zM629.2 268.2h1.4v1.4h-1.4zM605.7 269.1h1.4v1.4h-1.4zM614.5 269.1h2.4v1.4h-2.4zM623.3 269.1h1.4v1.4h-1.4zM628.2 269.1h1.4v1.4h-1.4zM604.7 270.1h1.4v1.4h-1.4zM633.1 270.1h1.4v1.4h-1.4zM635.1 270.1h1.4v1.4h-1.4zM604.7 271.1h1.4v1.4h-1.4zM611.6 271.1h1.4v1.4h-1.4zM615.5 272.1h1.4v1.4h-1.4zM618.4 272.1h1.4v1.4h-1.4zM608.6 273.1h1.4v1.4h-1.4zM614.5 273.1h1.4v1.4h-1.4zM618.4 273.1h2.4v1.4h-2.4zM638 273.1h3.3v1.4h-3.3zM608.6 274.1h1.4v1.4h-1.4zM614.5 274.1h1.4v1.4h-1.4zM618.4 274.1h2.4v1.4h-2.4zM638 274.1h3.3v1.4h-3.3z"/><path fill="#0ff" d="M620.4 260.2h1.4v1.4h-1.4zM620.4 261.2h1.4v1.4h-1.4zM630.2 263.2h1.4v1.4h-1.4zM606.7 264.2h1.4v1.4h-1.4zM618.4 264.2h1.4v1.4h-1.4zM637.1 265.2h1.4v1.4h-1.4zM601.8 267.2h2.4v1.4h-2.4zM628.2 268.2h1.4v1.4h-1.4z"/><path fill="#3fc" d="M635.1 260.2h1.4v1.4h-1.4zM635.1 261.2h1.4v1.4h-1.4zM602.7 266.2h1.4v1.4h-1.4zM630.2 266.2h1.4v1.4h-1.4zM600.8 268.2h1.4v1.4h-1.4zM623.3 268.2h1.4v1.4h-1.4zM602.7 271.1h1.4v1.4h-1.4zM605.7 271.1h1.4v1.4h-1.4z"/><path fill="#5fa" d="M639 260.2h2.4v1.4h-2.4zM639 261.2h2.4v1.4h-2.4zM605.7 263.2h1.4v1.4h-1.4zM607.6 263.2h1.4v1.4h-1.4zM617.4 264.2h1.4v1.4h-1.4zM623.3 264.2h1.4v1.4h-1.4zM608.6 268.2h1.4v1.4h-1.4zM604.7 269.1h1.4v1.4h-1.4zM606.7 270.1h1.4v1.4h-1.4zM612.5 270.1h1.4v1.4h-1.4zM615.5 271.1h1.4v1.4h-1.4zM617.4 271.1h1.4v1.4h-1.4zM633.1 271.1h1.4v1.4h-1.4zM617.4 273.1h1.4v1.4h-1.4zM617.4 274.1h1.4v1.4h-1.4z"/><path fill="#fe0" d="M617.4 262.2h1.4v1.4h-1.4zM617.4 265.2h1.4v1.4h-1.4zM610.6 266.2h1.4v1.4h-1.4zM606.7 271.1h1.4v1.4h-1.4zM636.1 271.1h1.4v1.4h-1.4zM636.1 272.1h1.4v1.4h-1.4z"/><path fill="#4fb" d="M619.4 262.2h1.4v1.4h-1.4zM617.4 263.2h1.4v1.4h-1.4zM606.7 265.2h1.4v1.4h-1.4zM616.5 267.2h1.4v1.4h-1.4zM624.3 268.2h1.4v1.4h-1.4zM627.3 268.2h1.4v1.4h-1.4zM616.5 270.1h1.4v1.4h-1.4zM600.8 271.1h1.4v1.4h-1.4zM612.5 271.1h1.4v1.4h-1.4zM617.4 272.1h1.4v1.4h-1.4z"/><path fill="#0af" d="M620.4 262.2h1.4v1.4h-1.4zM623.3 265.2h1.4v1.4h-1.4zM610.6 271.1h1.4v1.4h-1.4z"/><path fill="#1fe" d="M634.1 262.2h1.4v1.4h-1.4zM619.4 263.2h1.4v1.4h-1.4zM625.3 267.2h1.4v1.4h-1.4zM609.6 268.2h1.4v1.4h-1.4zM611.6 269.1h1.4v1.4h-1.4zM601.8 270.1h1.4v1.4h-1.4zM609.6 272.1h1.4v1.4h-1.4z"/><path fill="#09f" d="M635.1 262.2h1.4v1.4h-1.4zM638 264.2h1.4v1.4h-1.4zM630.2 265.2h1.4v1.4h-1.4z"/><path fill="#6f9" d="M638 262.2h1.4v1.4h-1.4zM635.1 263.2h1.4v1.4h-1.4zM622.4 264.2h1.4v1.4h-1.4zM634.1 264.2h1.4v1.4h-1.4zM626.3 267.2h1.4v1.4h-1.4zM628.2 267.2h1.4v1.4h-1.4zM602.7 269.1h1.4v1.4h-1.4zM634.1 269.1h1.4v1.4h-1.4zM613.5 270.1h1.4v1.4h-1.4zM610.6 272.1h1.4v1.4h-1.4zM616.5 273.1h1.4v1.4h-1.4zM616.5 274.1h1.4v1.4h-1.4z"/><path fill="#03f" d="M639 262.2h2.4v1.4h-2.4zM613.5 271.1h1.4v1.4h-1.4z"/><path fill="#df2" d="M616.5 263.2h1.4v1.4h-1.4zM624.3 264.2h1.4v1.4h-1.4zM610.6 265.2h1.4v1.4h-1.4zM618.4 265.2h1.4v1.4h-1.4zM600.8 267.2h1.4v1.4h-1.4zM620.4 268.2h1.4v1.4h-1.4zM620.4 270.1h1.4v1.4h-1.4z"/><path fill="#fa0" d="M620.4 263.2h1.4v1.4h-1.4zM600.8 266.2h1.4v1.4h-1.4zM604.7 268.2h1.4v1.4h-1.4zM632.2 268.2h1.4v1.4h-1.4zM618.4 270.1h1.4v1.4h-1.4zM614.5 271.1h1.4v1.4h-1.4z"/><path fill="#04f" d="M634.1 263.2h1.4v1.4h-1.4zM603.7 267.2h1.4v1.4h-1.4z"/><path fill="#02f" d="M638 263.2h1.4v1.4h-1.4z"/><path fill="#07f" d="M639 263.2h2.4v1.4h-2.4zM629.2 265.2h1.4v1.4h-1.4zM605.7 266.2h1.4v1.4h-1.4zM624.3 266.2h1.4v1.4h-1.4zM631.2 266.2h1.4v1.4h-1.4zM610.6 270.1h1.4v1.4h-1.4z"/><path fill="#0df" d="M604.7 264.2h1.4v1.4h-1.4zM604.7 266.2h1.4v1.4h-1.4zM606.7 269.1h1.4v1.4h-1.4zM611.6 270.1h1.4v1.4h-1.4zM616.5 271.1h1.4v1.4h-1.4zM614.5 272.1h1.4v1.4h-1.4z"/><path fill="#ff0" d="M619.4 264.2h2.4v1.4h-2.4zM617.4 266.2h1.4v1.4h-1.4zM633.1 266.2h1.4v1.4h-1.4zM617.4 267.2h1.4v1.4h-1.4zM622.4 271.1h1.4v1.4h-1.4z"/><path fill="#2fd" d="M629.2 264.2h1.4v1.4h-1.4zM603.7 265.2h1.4v1.4h-1.4zM627.3 267.2h1.4v1.4h-1.4zM602.7 268.2h1.4v1.4h-1.4zM615.5 270.1h1.4v1.4h-1.4zM609.6 271.1h1.4v1.4h-1.4zM634.1 271.1h1.4v1.4h-1.4zM613.5 272.1h1.4v1.4h-1.4z"/><path fill="#0cf" d="M630.2 264.2h1.4v1.4h-1.4zM605.7 265.2h1.4v1.4h-1.4z"/><path fill="#ef1" d="M601.8 265.2h1.4v1.4h-1.4zM616.5 266.2h1.4v1.4h-1.4zM638 266.2h1.4v1.4h-1.4zM618.4 268.2h1.4v1.4h-1.4zM617.4 270.1h1.4v1.4h-1.4z"/><path fill="#fc0" d="M611.6 265.2h1.4v1.4h-1.4zM624.3 265.2h1.4v1.4h-1.4zM618.4 267.2h1.4v1.4h-1.4zM635.1 272.1h1.4v1.4h-1.4z"/><path fill="#f90" d="M639 265.2h2.4v1.4h-2.4zM619.4 268.2h1.4v1.4h-1.4z"/><path fill="#0ef" d="M603.7 266.2h1.4v1.4h-1.4zM625.3 266.2h1.4v1.4h-1.4zM624.3 267.2h1.4v1.4h-1.4zM603.7 268.2h1.4v1.4h-1.4zM603.7 270.1h1.4v1.4h-1.4zM616.5 272.1h1.4v1.4h-1.4z"/><path fill="#08f" d="M609.6 267.2h1.4v1.4h-1.4z"/><path fill="#f50" d="M633.1 267.2h1.4v1.4h-1.4zM618.4 269.1h1.4v1.4h-1.4z"/><path fill="#f80" d="M617.4 268.2h1.4v1.4h-1.4zM619.4 269.1h1.4v1.4h-1.4z"/><path fill="#05f" d="M601.8 269.1h1.4v1.4h-1.4zM605.7 270.1h1.4v1.4h-1.4z"/><path fill="#0bf" d="M600.8 270.1h1.4v1.4h-1.4z"/><path fill="#fd0" d="M621.4 270.1h1.4v1.4h-1.4zM621.4 271.1h1.4v1.4h-1.4zM624.3 271.1h1.4v1.4h-1.4zM606.7 272.1h1.4v1.4h-1.4zM624.3 272.1h1.4v1.4h-1.4z"/><path fill="#00f" d="M634.1 270.1h1.4v1.4h-1.4z"/><path fill="#f60" d="M605.7 272.1h1.4v1.4h-1.4z"/></g></g></g><path d="M404.5 294.5 L404.5 317.5 L549.5 317.5 L549.5 273.5" fill="none" stroke="#1a1a1a" stroke-width="1.2"/><path d="M549.5 268.5 L546.6 274 L552.4 274 Z" fill="#1a1a1a"/><path d="M619.5 290.5 L619.5 354.5" fill="none" stroke="#1a1a1a" stroke-width="1.2"/><path d="M619.5 359.5 L616.6 354 L622.4 354 Z" fill="#1a1a1a"/><rect x="510.4" y="359.8" width="131.5" height="35.1" fill="#a0dffe"/><path d="M510.5 376.5 L395.5 376.5" fill="none" stroke="#1a1a1a" stroke-width="1.2"/><path d="M390.5 376.5 L396 373.6 L396 379.4 Z" fill="#1a1a1a"/><rect x="301.5" y="333.5" width="89" height="88" fill="#fff" stroke="#5a5a5a" stroke-width="1.2"/><g clip-path="url(#c15)"><g filter="url(#bl0_5)"><g shape-rendering="crispEdges"><path fill="#8f7" d="M304.4 363h2.4v1.4h-2.4zM330.2 363h1.4v1.4h-1.4zM333.2 363h1.4v1.4h-1.4zM355 363h3.4v1.4h-3.4zM362 363h1.4v1.4h-1.4zM375.9 363h1.4v1.4h-1.4zM379.9 363h3.4v1.4h-3.4zM304.4 363.9h2.4v1.4h-2.4zM330.2 363.9h1.4v1.4h-1.4zM333.2 363.9h1.4v1.4h-1.4zM355 363.9h3.4v1.4h-3.4zM362 363.9h1.4v1.4h-1.4zM375.9 363.9h1.4v1.4h-1.4zM379.9 363.9h3.4v1.4h-3.4zM304.4 364.9h2.4v1.4h-2.4zM330.2 364.9h4.4v1.4h-4.4zM346.1 364.9h1.4v1.4h-1.4zM356 364.9h2.4v1.4h-2.4zM361 364.9h2.4v1.4h-2.4zM381.8 364.9h1.4v1.4h-1.4zM304.4 365.9h4.4v1.4h-4.4zM330.2 365.9h4.4v1.4h-4.4zM356 365.9h2.4v1.4h-2.4zM360 365.9h2.4v1.4h-2.4zM374.9 365.9h1.4v1.4h-1.4zM304.4 366.8h4.4v1.4h-4.4zM318.3 366.8h1.4v1.4h-1.4zM331.2 366.8h3.4v1.4h-3.4zM348.1 366.8h1.4v1.4h-1.4zM356 366.8h5.4v1.4h-5.4zM378.9 366.8h1.4v1.4h-1.4zM304.4 367.8h5.4v1.4h-5.4zM322.3 367.8h1.4v1.4h-1.4zM331.2 367.8h3.4v1.4h-3.4zM368.9 367.8h1.4v1.4h-1.4zM378.9 367.8h1.4v1.4h-1.4zM304.4 368.8h7.3v1.4h-7.3zM318.3 368.8h2.4v1.4h-2.4zM331.2 368.8h3.4v1.4h-3.4zM346.1 368.8h1.4v1.4h-1.4zM366 368.8h1.4v1.4h-1.4zM377.9 368.8h2.4v1.4h-2.4zM381.8 368.8h1.4v1.4h-1.4zM304.4 369.7h5.4v1.4h-5.4zM310.4 369.7h2.4v1.4h-2.4zM314.3 369.7h1.4v1.4h-1.4zM318.3 369.7h1.4v1.4h-1.4zM322.3 369.7h1.4v1.4h-1.4zM331.2 369.7h7.3v1.4h-7.3zM351.1 369.7h1.4v1.4h-1.4zM353 369.7h1.4v1.4h-1.4zM376.9 369.7h4.4v1.4h-4.4zM385.8 369.7h2.4v1.4h-2.4zM304.4 370.7h4.4v1.4h-4.4zM309.4 370.7h5.4v1.4h-5.4zM317.3 370.7h1.4v1.4h-1.4zM321.3 370.7h1.4v1.4h-1.4zM332.2 370.7h6.4v1.4h-6.4zM340.1 370.7h1.4v1.4h-1.4zM375.9 370.7h1.4v1.4h-1.4zM378.9 370.7h3.4v1.4h-3.4zM304.4 371.7h2.4v1.4h-2.4zM308.4 371.7h1.4v1.4h-1.4zM312.3 371.7h1.4v1.4h-1.4zM332.2 371.7h9.3v1.4h-9.3zM351.1 371.7h1.4v1.4h-1.4zM373.9 371.7h2.4v1.4h-2.4zM304.4 372.6h2.4v1.4h-2.4zM311.4 372.6h1.4v1.4h-1.4zM332.2 372.6h8.3v1.4h-8.3zM364 372.6h1.4v1.4h-1.4zM379.9 372.6h1.4v1.4h-1.4zM304.4 373.6h3.4v1.4h-3.4zM332.2 373.6h2.4v1.4h-2.4zM336.2 373.6h2.4v1.4h-2.4zM339.2 373.6h1.4v1.4h-1.4zM359 373.6h1.4v1.4h-1.4zM304.4 374.6h2.4v1.4h-2.4zM337.2 374.6h1.4v1.4h-1.4zM360 374.6h2.4v1.4h-2.4zM366 374.6h1.4v1.4h-1.4zM318.3 375.5h1.4v1.4h-1.4zM325.3 375.5h1.4v1.4h-1.4zM341.1 375.5h1.4v1.4h-1.4zM354 375.5h1.4v1.4h-1.4zM363 375.5h3.4v1.4h-3.4zM367.9 375.5h1.4v1.4h-1.4zM341.1 376.5h1.4v1.4h-1.4zM365 376.5h1.4v1.4h-1.4zM307.4 377.5h1.4v1.4h-1.4zM315.3 377.5h1.4v1.4h-1.4zM353 377.5h1.4v1.4h-1.4zM365 377.5h2.4v1.4h-2.4zM306.4 378.4h1.4v1.4h-1.4zM352.1 378.4h1.4v1.4h-1.4zM357 378.4h1.4v1.4h-1.4zM366 378.4h2.4v1.4h-2.4zM313.3 379.4h1.4v1.4h-1.4zM317.3 379.4h1.4v1.4h-1.4zM323.3 379.4h1.4v1.4h-1.4zM330.2 379.4h1.4v1.4h-1.4zM336.2 379.4h2.4v1.4h-2.4zM352.1 379.4h1.4v1.4h-1.4zM356 379.4h6.4v1.4h-6.4zM366 379.4h1.4v1.4h-1.4zM304.4 380.4h4.4v1.4h-4.4zM312.3 380.4h1.4v1.4h-1.4zM315.3 380.4h1.4v1.4h-1.4zM335.2 380.4h1.4v1.4h-1.4zM338.2 380.4h1.4v1.4h-1.4zM350.1 380.4h2.4v1.4h-2.4zM354 380.4h9.3v1.4h-9.3zM366 380.4h1.4v1.4h-1.4zM374.9 380.4h1.4v1.4h-1.4zM306.4 381.3h2.4v1.4h-2.4zM332.2 381.3h1.4v1.4h-1.4zM335.2 381.3h1.4v1.4h-1.4zM351.1 381.3h3.4v1.4h-3.4zM356 381.3h1.4v1.4h-1.4zM359 381.3h7.3v1.4h-7.3zM306.4 382.3h1.4v1.4h-1.4zM311.4 382.3h2.4v1.4h-2.4zM320.3 382.3h1.4v1.4h-1.4zM334.2 382.3h1.4v1.4h-1.4zM353 382.3h3.4v1.4h-3.4zM360 382.3h5.4v1.4h-5.4zM310.4 383.3h2.4v1.4h-2.4zM315.3 383.3h1.4v1.4h-1.4zM353 383.3h2.4v1.4h-2.4zM361 383.3h2.4v1.4h-2.4zM372.9 383.3h1.4v1.4h-1.4zM309.4 384.2h2.4v1.4h-2.4zM314.3 384.2h2.4v1.4h-2.4zM325.3 384.2h1.4v1.4h-1.4zM354 384.2h1.4v1.4h-1.4zM372.9 384.2h1.4v1.4h-1.4zM308.4 385.2h1.4v1.4h-1.4zM313.3 385.2h1.4v1.4h-1.4zM315.3 385.2h1.4v1.4h-1.4zM330.2 385.2h2.4v1.4h-2.4zM343.1 385.2h1.4v1.4h-1.4zM372.9 385.2h1.4v1.4h-1.4zM306.4 386.2h1.4v1.4h-1.4zM310.4 386.2h2.4v1.4h-2.4zM315.3 386.2h2.4v1.4h-2.4zM329.2 386.2h1.4v1.4h-1.4zM344.1 386.2h1.4v1.4h-1.4zM323.3 387.1h1.4v1.4h-1.4zM328.2 387.1h1.4v1.4h-1.4zM333.2 387.1h1.4v1.4h-1.4zM345.1 387.1h2.4v1.4h-2.4zM382.8 387.1h5.4v1.4h-5.4zM321.3 388.1h3.4v1.4h-3.4zM327.2 388.1h1.4v1.4h-1.4zM334.2 388.1h1.4v1.4h-1.4zM338.2 388.1h1.4v1.4h-1.4zM346.1 388.1h1.4v1.4h-1.4zM380.8 388.1h3.4v1.4h-3.4zM384.8 388.1h3.4v1.4h-3.4zM319.3 389.1h8.3v1.4h-8.3zM332.2 389.1h1.4v1.4h-1.4zM337.2 389.1h3.4v1.4h-3.4zM346.1 389.1h1.4v1.4h-1.4zM379.9 389.1h3.4v1.4h-3.4zM319.3 390h8.3v1.4h-8.3zM332.2 390h1.4v1.4h-1.4zM337.2 390h3.4v1.4h-3.4zM346.1 390h1.4v1.4h-1.4zM379.9 390h3.4v1.4h-3.4z"/><path fill="#9f6" d="M306.4 363h1.4v1.4h-1.4zM328.2 363h2.4v1.4h-2.4zM334.2 363h1.4v1.4h-1.4zM350.1 363h1.4v1.4h-1.4zM353 363h2.4v1.4h-2.4zM363 363h1.4v1.4h-1.4zM373.9 363h2.4v1.4h-2.4zM382.8 363h3.4v1.4h-3.4zM306.4 363.9h1.4v1.4h-1.4zM328.2 363.9h2.4v1.4h-2.4zM334.2 363.9h1.4v1.4h-1.4zM350.1 363.9h1.4v1.4h-1.4zM353 363.9h2.4v1.4h-2.4zM363 363.9h1.4v1.4h-1.4zM373.9 363.9h2.4v1.4h-2.4zM382.8 363.9h3.4v1.4h-3.4zM306.4 364.9h2.4v1.4h-2.4zM328.2 364.9h2.4v1.4h-2.4zM334.2 364.9h2.4v1.4h-2.4zM353 364.9h3.4v1.4h-3.4zM363 364.9h1.4v1.4h-1.4zM373.9 364.9h2.4v1.4h-2.4zM379.9 364.9h2.4v1.4h-2.4zM382.8 364.9h2.4v1.4h-2.4zM308.4 365.9h1.4v1.4h-1.4zM328.2 365.9h2.4v1.4h-2.4zM334.2 365.9h3.4v1.4h-3.4zM345.1 365.9h1.4v1.4h-1.4zM349.1 365.9h1.4v1.4h-1.4zM353 365.9h3.4v1.4h-3.4zM362 365.9h3.4v1.4h-3.4zM373.9 365.9h1.4v1.4h-1.4zM379.9 365.9h4.4v1.4h-4.4zM308.4 366.8h3.4v1.4h-3.4zM317.3 366.8h1.4v1.4h-1.4zM319.3 366.8h1.4v1.4h-1.4zM328.2 366.8h3.4v1.4h-3.4zM334.2 366.8h4.4v1.4h-4.4zM352.1 366.8h4.4v1.4h-4.4zM361 366.8h4.4v1.4h-4.4zM367.9 366.8h2.4v1.4h-2.4zM379.9 366.8h3.4v1.4h-3.4zM309.4 367.8h3.4v1.4h-3.4zM316.3 367.8h1.4v1.4h-1.4zM319.3 367.8h2.4v1.4h-2.4zM328.2 367.8h3.4v1.4h-3.4zM334.2 367.8h5.4v1.4h-5.4zM342.1 367.8h1.4v1.4h-1.4zM347.1 367.8h1.4v1.4h-1.4zM351.1 367.8h16.3v1.4h-16.3zM373.9 367.8h1.4v1.4h-1.4zM379.9 367.8h3.4v1.4h-3.4zM311.4 368.8h2.4v1.4h-2.4zM315.3 368.8h1.4v1.4h-1.4zM329.2 368.8h2.4v1.4h-2.4zM334.2 368.8h5.4v1.4h-5.4zM351.1 368.8h6.4v1.4h-6.4zM358 368.8h7.3v1.4h-7.3zM368.9 368.8h1.4v1.4h-1.4zM379.9 368.8h2.4v1.4h-2.4zM312.3 369.7h2.4v1.4h-2.4zM329.2 369.7h2.4v1.4h-2.4zM338.2 369.7h1.4v1.4h-1.4zM344.1 369.7h1.4v1.4h-1.4zM350.1 369.7h1.4v1.4h-1.4zM354 369.7h2.4v1.4h-2.4zM359 369.7h7.3v1.4h-7.3zM368.9 369.7h1.4v1.4h-1.4zM380.8 369.7h1.4v1.4h-1.4zM331.2 370.7h1.4v1.4h-1.4zM338.2 370.7h2.4v1.4h-2.4zM350.1 370.7h1.4v1.4h-1.4zM359 370.7h6.4v1.4h-6.4zM368.9 370.7h3.4v1.4h-3.4zM372.9 370.7h1.4v1.4h-1.4zM376.9 370.7h2.4v1.4h-2.4zM309.4 371.7h1.4v1.4h-1.4zM311.4 371.7h1.4v1.4h-1.4zM341.1 371.7h1.4v1.4h-1.4zM350.1 371.7h1.4v1.4h-1.4zM359 371.7h6.4v1.4h-6.4zM368.9 371.7h5.4v1.4h-5.4zM375.9 371.7h5.4v1.4h-5.4zM340.1 372.6h1.4v1.4h-1.4zM349.1 372.6h1.4v1.4h-1.4zM351.1 372.6h1.4v1.4h-1.4zM357 372.6h7.3v1.4h-7.3zM369.9 372.6h10.3v1.4h-10.3zM307.4 373.6h1.4v1.4h-1.4zM320.3 373.6h1.4v1.4h-1.4zM331.2 373.6h1.4v1.4h-1.4zM334.2 373.6h2.4v1.4h-2.4zM352.1 373.6h1.4v1.4h-1.4zM360 373.6h4.4v1.4h-4.4zM370.9 373.6h2.4v1.4h-2.4zM376.9 373.6h3.4v1.4h-3.4zM382.8 373.6h1.4v1.4h-1.4zM306.4 374.6h1.4v1.4h-1.4zM330.2 374.6h7.3v1.4h-7.3zM345.1 374.6h3.4v1.4h-3.4zM353 374.6h1.4v1.4h-1.4zM362 374.6h2.4v1.4h-2.4zM375.9 374.6h4.4v1.4h-4.4zM381.8 374.6h1.4v1.4h-1.4zM304.4 375.5h2.4v1.4h-2.4zM330.2 375.5h9.3v1.4h-9.3zM345.1 375.5h2.4v1.4h-2.4zM353 375.5h1.4v1.4h-1.4zM366 375.5h2.4v1.4h-2.4zM375.9 375.5h5.4v1.4h-5.4zM304.4 376.5h2.4v1.4h-2.4zM324.3 376.5h1.4v1.4h-1.4zM327.2 376.5h1.4v1.4h-1.4zM329.2 376.5h5.4v1.4h-5.4zM335.2 376.5h2.4v1.4h-2.4zM345.1 376.5h1.4v1.4h-1.4zM353 376.5h1.4v1.4h-1.4zM366 376.5h4.4v1.4h-4.4zM375.9 376.5h4.4v1.4h-4.4zM304.4 377.5h2.4v1.4h-2.4zM327.2 377.5h1.4v1.4h-1.4zM329.2 377.5h8.3v1.4h-8.3zM352.1 377.5h1.4v1.4h-1.4zM366.9 377.5h3.4v1.4h-3.4zM374.9 377.5h4.4v1.4h-4.4zM304.4 378.4h2.4v1.4h-2.4zM318.3 378.4h4.4v1.4h-4.4zM323.3 378.4h1.4v1.4h-1.4zM328.2 378.4h12.3v1.4h-12.3zM367.9 378.4h2.4v1.4h-2.4zM378.9 378.4h1.4v1.4h-1.4zM304.4 379.4h2.4v1.4h-2.4zM316.3 379.4h1.4v1.4h-1.4zM318.3 379.4h1.4v1.4h-1.4zM321.3 379.4h1.4v1.4h-1.4zM329.2 379.4h1.4v1.4h-1.4zM332.2 379.4h4.4v1.4h-4.4zM338.2 379.4h2.4v1.4h-2.4zM349.1 379.4h3.4v1.4h-3.4zM366.9 379.4h3.4v1.4h-3.4zM372.9 379.4h5.4v1.4h-5.4zM323.3 380.4h1.4v1.4h-1.4zM328.2 380.4h1.4v1.4h-1.4zM332.2 380.4h3.4v1.4h-3.4zM339.2 380.4h2.4v1.4h-2.4zM349.1 380.4h1.4v1.4h-1.4zM366.9 380.4h3.4v1.4h-3.4zM371.9 380.4h3.4v1.4h-3.4zM377.9 380.4h1.4v1.4h-1.4zM304.4 381.3h2.4v1.4h-2.4zM312.3 381.3h1.4v1.4h-1.4zM333.2 381.3h2.4v1.4h-2.4zM340.1 381.3h1.4v1.4h-1.4zM354 381.3h2.4v1.4h-2.4zM357 381.3h2.4v1.4h-2.4zM366 381.3h8.3v1.4h-8.3zM377.9 381.3h1.4v1.4h-1.4zM304.4 382.3h2.4v1.4h-2.4zM335.2 382.3h1.4v1.4h-1.4zM352.1 382.3h1.4v1.4h-1.4zM359 382.3h1.4v1.4h-1.4zM365 382.3h9.3v1.4h-9.3zM377.9 382.3h1.4v1.4h-1.4zM304.4 383.3h2.4v1.4h-2.4zM341.1 383.3h1.4v1.4h-1.4zM355 383.3h1.4v1.4h-1.4zM359 383.3h2.4v1.4h-2.4zM363 383.3h5.4v1.4h-5.4zM371.9 383.3h1.4v1.4h-1.4zM304.4 384.2h2.4v1.4h-2.4zM342.1 384.2h1.4v1.4h-1.4zM345.1 384.2h2.4v1.4h-2.4zM353 384.2h1.4v1.4h-1.4zM359 384.2h5.4v1.4h-5.4zM366 384.2h2.4v1.4h-2.4zM371.9 384.2h1.4v1.4h-1.4zM304.4 385.2h2.4v1.4h-2.4zM309.4 385.2h1.4v1.4h-1.4zM314.3 385.2h1.4v1.4h-1.4zM324.3 385.2h1.4v1.4h-1.4zM344.1 385.2h3.4v1.4h-3.4zM353 385.2h2.4v1.4h-2.4zM358 385.2h3.4v1.4h-3.4zM371.9 385.2h1.4v1.4h-1.4zM375.9 385.2h1.4v1.4h-1.4zM304.4 386.2h2.4v1.4h-2.4zM307.4 386.2h3.4v1.4h-3.4zM312.3 386.2h3.4v1.4h-3.4zM323.3 386.2h1.4v1.4h-1.4zM330.2 386.2h2.4v1.4h-2.4zM345.1 386.2h3.4v1.4h-3.4zM359 386.2h1.4v1.4h-1.4zM372.9 386.2h3.4v1.4h-3.4zM381.8 386.2h3.4v1.4h-3.4zM304.4 387.1h12.3v1.4h-12.3zM321.3 387.1h2.4v1.4h-2.4zM329.2 387.1h4.4v1.4h-4.4zM347.1 387.1h1.4v1.4h-1.4zM353 387.1h1.4v1.4h-1.4zM373.9 387.1h1.4v1.4h-1.4zM380.8 387.1h2.4v1.4h-2.4zM307.4 388.1h6.4v1.4h-6.4zM320.3 388.1h1.4v1.4h-1.4zM328.2 388.1h6.4v1.4h-6.4zM347.1 388.1h1.4v1.4h-1.4zM353 388.1h1.4v1.4h-1.4zM379.9 388.1h1.4v1.4h-1.4zM307.4 389.1h5.4v1.4h-5.4zM318.3 389.1h1.4v1.4h-1.4zM327.2 389.1h5.4v1.4h-5.4zM333.2 389.1h4.4v1.4h-4.4zM347.1 389.1h2.4v1.4h-2.4zM353 389.1h5.4v1.4h-5.4zM375.9 389.1h4.4v1.4h-4.4zM307.4 390h5.4v1.4h-5.4zM318.3 390h1.4v1.4h-1.4zM327.2 390h5.4v1.4h-5.4zM333.2 390h4.4v1.4h-4.4zM347.1 390h2.4v1.4h-2.4zM353 390h5.4v1.4h-5.4zM375.9 390h4.4v1.4h-4.4z"/><path fill="#af5" d="M307.4 363h1.4v1.4h-1.4zM317.3 363h3.4v1.4h-3.4zM326.2 363h2.4v1.4h-2.4zM335.2 363h2.4v1.4h-2.4zM343.1 363h4.4v1.4h-4.4zM351.1 363h2.4v1.4h-2.4zM364 363h2.4v1.4h-2.4zM371.9 363h2.4v1.4h-2.4zM307.4 363.9h1.4v1.4h-1.4zM317.3 363.9h3.4v1.4h-3.4zM326.2 363.9h2.4v1.4h-2.4zM335.2 363.9h2.4v1.4h-2.4zM343.1 363.9h4.4v1.4h-4.4zM351.1 363.9h2.4v1.4h-2.4zM364 363.9h2.4v1.4h-2.4zM371.9 363.9h2.4v1.4h-2.4zM308.4 364.9h1.4v1.4h-1.4zM318.3 364.9h2.4v1.4h-2.4zM325.3 364.9h3.4v1.4h-3.4zM336.2 364.9h2.4v1.4h-2.4zM344.1 364.9h2.4v1.4h-2.4zM350.1 364.9h3.4v1.4h-3.4zM364 364.9h2.4v1.4h-2.4zM371.9 364.9h2.4v1.4h-2.4zM309.4 365.9h3.4v1.4h-3.4zM317.3 365.9h4.4v1.4h-4.4zM325.3 365.9h3.4v1.4h-3.4zM337.2 365.9h2.4v1.4h-2.4zM340.1 365.9h1.4v1.4h-1.4zM344.1 365.9h1.4v1.4h-1.4zM350.1 365.9h3.4v1.4h-3.4zM365 365.9h2.4v1.4h-2.4zM371.9 365.9h2.4v1.4h-2.4zM311.4 366.8h2.4v1.4h-2.4zM316.3 366.8h1.4v1.4h-1.4zM320.3 366.8h5.4v1.4h-5.4zM326.2 366.8h2.4v1.4h-2.4zM338.2 366.8h3.4v1.4h-3.4zM344.1 366.8h1.4v1.4h-1.4zM351.1 366.8h1.4v1.4h-1.4zM365 366.8h3.4v1.4h-3.4zM372.9 366.8h2.4v1.4h-2.4zM312.3 367.8h4.4v1.4h-4.4zM323.3 367.8h1.4v1.4h-1.4zM326.2 367.8h2.4v1.4h-2.4zM339.2 367.8h1.4v1.4h-1.4zM350.1 367.8h1.4v1.4h-1.4zM369.9 367.8h1.4v1.4h-1.4zM313.3 368.8h2.4v1.4h-2.4zM323.3 368.8h2.4v1.4h-2.4zM326.2 368.8h3.4v1.4h-3.4zM341.1 368.8h1.4v1.4h-1.4zM350.1 368.8h1.4v1.4h-1.4zM357 368.8h1.4v1.4h-1.4zM365 368.8h1.4v1.4h-1.4zM369.9 368.8h2.4v1.4h-2.4zM372.9 368.8h1.4v1.4h-1.4zM323.3 369.7h6.4v1.4h-6.4zM339.2 369.7h1.4v1.4h-1.4zM345.1 369.7h1.4v1.4h-1.4zM358 369.7h1.4v1.4h-1.4zM369.9 369.7h4.4v1.4h-4.4zM322.3 370.7h1.4v1.4h-1.4zM325.3 370.7h6.4v1.4h-6.4zM349.1 370.7h1.4v1.4h-1.4zM358 370.7h1.4v1.4h-1.4zM371.9 370.7h1.4v1.4h-1.4zM310.4 371.7h1.4v1.4h-1.4zM321.3 371.7h1.4v1.4h-1.4zM326.2 371.7h2.4v1.4h-2.4zM331.2 371.7h1.4v1.4h-1.4zM343.1 371.7h2.4v1.4h-2.4zM348.1 371.7h2.4v1.4h-2.4zM358 371.7h1.4v1.4h-1.4zM308.4 372.6h1.4v1.4h-1.4zM321.3 372.6h1.4v1.4h-1.4zM326.2 372.6h1.4v1.4h-1.4zM331.2 372.6h1.4v1.4h-1.4zM347.1 372.6h2.4v1.4h-2.4zM350.1 372.6h1.4v1.4h-1.4zM344.1 373.6h8.3v1.4h-8.3zM372.9 373.6h1.4v1.4h-1.4zM375.9 373.6h1.4v1.4h-1.4zM320.3 374.6h1.4v1.4h-1.4zM325.3 374.6h2.4v1.4h-2.4zM339.2 374.6h1.4v1.4h-1.4zM343.1 374.6h2.4v1.4h-2.4zM348.1 374.6h5.4v1.4h-5.4zM371.9 374.6h1.4v1.4h-1.4zM385.8 374.6h2.4v1.4h-2.4zM306.4 375.5h1.4v1.4h-1.4zM319.3 375.5h6.4v1.4h-6.4zM327.2 375.5h1.4v1.4h-1.4zM329.2 375.5h1.4v1.4h-1.4zM339.2 375.5h2.4v1.4h-2.4zM347.1 375.5h2.4v1.4h-2.4zM350.1 375.5h3.4v1.4h-3.4zM380.8 375.5h1.4v1.4h-1.4zM384.8 375.5h3.4v1.4h-3.4zM318.3 376.5h6.4v1.4h-6.4zM328.2 376.5h1.4v1.4h-1.4zM334.2 376.5h1.4v1.4h-1.4zM337.2 376.5h2.4v1.4h-2.4zM346.1 376.5h1.4v1.4h-1.4zM351.1 376.5h2.4v1.4h-2.4zM374.9 376.5h1.4v1.4h-1.4zM379.9 376.5h1.4v1.4h-1.4zM383.8 376.5h4.4v1.4h-4.4zM306.4 377.5h1.4v1.4h-1.4zM318.3 377.5h6.4v1.4h-6.4zM328.2 377.5h1.4v1.4h-1.4zM337.2 377.5h2.4v1.4h-2.4zM350.1 377.5h2.4v1.4h-2.4zM369.9 377.5h1.4v1.4h-1.4zM378.9 377.5h2.4v1.4h-2.4zM383.8 377.5h2.4v1.4h-2.4zM317.3 378.4h1.4v1.4h-1.4zM322.3 378.4h1.4v1.4h-1.4zM327.2 378.4h1.4v1.4h-1.4zM349.1 378.4h3.4v1.4h-3.4zM369.9 378.4h1.4v1.4h-1.4zM373.9 378.4h5.4v1.4h-5.4zM379.9 378.4h3.4v1.4h-3.4zM326.2 379.4h3.4v1.4h-3.4zM348.1 379.4h1.4v1.4h-1.4zM377.9 379.4h5.4v1.4h-5.4zM321.3 380.4h1.4v1.4h-1.4zM325.3 380.4h1.4v1.4h-1.4zM341.1 380.4h1.4v1.4h-1.4zM348.1 380.4h1.4v1.4h-1.4zM369.9 380.4h2.4v1.4h-2.4zM378.9 380.4h1.4v1.4h-1.4zM313.3 381.3h1.4v1.4h-1.4zM327.2 381.3h1.4v1.4h-1.4zM341.1 381.3h1.4v1.4h-1.4zM350.1 381.3h1.4v1.4h-1.4zM378.9 381.3h1.4v1.4h-1.4zM326.2 382.3h1.4v1.4h-1.4zM346.1 382.3h1.4v1.4h-1.4zM351.1 382.3h1.4v1.4h-1.4zM356 382.3h1.4v1.4h-1.4zM378.9 382.3h1.4v1.4h-1.4zM325.3 383.3h1.4v1.4h-1.4zM345.1 383.3h2.4v1.4h-2.4zM352.1 383.3h1.4v1.4h-1.4zM367.9 383.3h4.4v1.4h-4.4zM377.9 383.3h1.4v1.4h-1.4zM381.8 383.3h1.4v1.4h-1.4zM324.3 384.2h1.4v1.4h-1.4zM344.1 384.2h1.4v1.4h-1.4zM347.1 384.2h1.4v1.4h-1.4zM358 384.2h1.4v1.4h-1.4zM364 384.2h2.4v1.4h-2.4zM367.9 384.2h4.4v1.4h-4.4zM376.9 384.2h1.4v1.4h-1.4zM381.8 384.2h2.4v1.4h-2.4zM322.3 385.2h2.4v1.4h-2.4zM347.1 385.2h2.4v1.4h-2.4zM361 385.2h11.3v1.4h-11.3zM381.8 385.2h3.4v1.4h-3.4zM385.8 385.2h2.4v1.4h-2.4zM321.3 386.2h2.4v1.4h-2.4zM348.1 386.2h2.4v1.4h-2.4zM353 386.2h2.4v1.4h-2.4zM358 386.2h1.4v1.4h-1.4zM360 386.2h5.4v1.4h-5.4zM366.9 386.2h6.4v1.4h-6.4zM380.8 386.2h1.4v1.4h-1.4zM384.8 386.2h3.4v1.4h-3.4zM316.3 387.1h1.4v1.4h-1.4zM320.3 387.1h1.4v1.4h-1.4zM348.1 387.1h5.4v1.4h-5.4zM357 387.1h6.4v1.4h-6.4zM369.9 387.1h4.4v1.4h-4.4zM374.9 387.1h1.4v1.4h-1.4zM304.4 388.1h3.4v1.4h-3.4zM313.3 388.1h3.4v1.4h-3.4zM319.3 388.1h1.4v1.4h-1.4zM348.1 388.1h5.4v1.4h-5.4zM354 388.1h1.4v1.4h-1.4zM356 388.1h6.4v1.4h-6.4zM369.9 388.1h7.3v1.4h-7.3zM378.9 388.1h1.4v1.4h-1.4zM304.4 389.1h3.4v1.4h-3.4zM312.3 389.1h6.4v1.4h-6.4zM349.1 389.1h4.4v1.4h-4.4zM358 389.1h4.4v1.4h-4.4zM372.9 389.1h3.4v1.4h-3.4zM304.4 390h3.4v1.4h-3.4zM312.3 390h6.4v1.4h-6.4zM349.1 390h4.4v1.4h-4.4zM358 390h4.4v1.4h-4.4zM372.9 390h3.4v1.4h-3.4z"/><path fill="#bf4" d="M308.4 363h5.4v1.4h-5.4zM316.3 363h1.4v1.4h-1.4zM320.3 363h6.4v1.4h-6.4zM337.2 363h6.4v1.4h-6.4zM366 363h2.4v1.4h-2.4zM368.9 363h3.4v1.4h-3.4zM308.4 363.9h5.4v1.4h-5.4zM316.3 363.9h1.4v1.4h-1.4zM320.3 363.9h6.4v1.4h-6.4zM337.2 363.9h6.4v1.4h-6.4zM366 363.9h2.4v1.4h-2.4zM368.9 363.9h3.4v1.4h-3.4zM309.4 364.9h9.3v1.4h-9.3zM320.3 364.9h5.4v1.4h-5.4zM338.2 364.9h6.4v1.4h-6.4zM366 364.9h2.4v1.4h-2.4zM368.9 364.9h3.4v1.4h-3.4zM312.3 365.9h5.4v1.4h-5.4zM321.3 365.9h4.4v1.4h-4.4zM339.2 365.9h1.4v1.4h-1.4zM366.9 365.9h5.4v1.4h-5.4zM313.3 366.8h3.4v1.4h-3.4zM325.3 366.8h1.4v1.4h-1.4zM350.1 366.8h1.4v1.4h-1.4zM369.9 366.8h3.4v1.4h-3.4zM324.3 367.8h2.4v1.4h-2.4zM344.1 367.8h1.4v1.4h-1.4zM370.9 367.8h3.4v1.4h-3.4zM325.3 368.8h1.4v1.4h-1.4zM339.2 368.8h1.4v1.4h-1.4zM371.9 368.8h1.4v1.4h-1.4zM340.1 369.7h1.4v1.4h-1.4zM349.1 369.7h1.4v1.4h-1.4zM356 369.7h1.4v1.4h-1.4zM323.3 370.7h2.4v1.4h-2.4zM355 370.7h1.4v1.4h-1.4zM322.3 371.7h4.4v1.4h-4.4zM328.2 371.7h1.4v1.4h-1.4zM342.1 371.7h1.4v1.4h-1.4zM322.3 372.6h4.4v1.4h-4.4zM327.2 372.6h1.4v1.4h-1.4zM344.1 372.6h3.4v1.4h-3.4zM383.8 372.6h1.4v1.4h-1.4zM321.3 373.6h6.4v1.4h-6.4zM373.9 373.6h1.4v1.4h-1.4zM321.3 374.6h4.4v1.4h-4.4zM349.1 375.5h1.4v1.4h-1.4zM381.8 375.5h1.4v1.4h-1.4zM306.4 376.5h1.4v1.4h-1.4zM316.3 376.5h1.4v1.4h-1.4zM347.1 376.5h1.4v1.4h-1.4zM349.1 376.5h2.4v1.4h-2.4zM380.8 376.5h3.4v1.4h-3.4zM345.1 377.5h1.4v1.4h-1.4zM349.1 377.5h1.4v1.4h-1.4zM380.8 377.5h3.4v1.4h-3.4zM385.8 377.5h2.4v1.4h-2.4zM340.1 378.4h1.4v1.4h-1.4zM348.1 378.4h1.4v1.4h-1.4zM382.8 378.4h5.4v1.4h-5.4zM322.3 379.4h1.4v1.4h-1.4zM340.1 379.4h1.4v1.4h-1.4zM369.9 379.4h1.4v1.4h-1.4zM382.8 379.4h2.4v1.4h-2.4zM313.3 380.4h1.4v1.4h-1.4zM326.2 380.4h2.4v1.4h-2.4zM379.9 380.4h6.4v1.4h-6.4zM321.3 381.3h1.4v1.4h-1.4zM323.3 381.3h4.4v1.4h-4.4zM347.1 381.3h1.4v1.4h-1.4zM349.1 381.3h1.4v1.4h-1.4zM379.9 381.3h5.4v1.4h-5.4zM321.3 382.3h1.4v1.4h-1.4zM324.3 382.3h2.4v1.4h-2.4zM341.1 382.3h1.4v1.4h-1.4zM347.1 382.3h1.4v1.4h-1.4zM358 382.3h1.4v1.4h-1.4zM379.9 382.3h5.4v1.4h-5.4zM320.3 383.3h3.4v1.4h-3.4zM324.3 383.3h1.4v1.4h-1.4zM335.2 383.3h1.4v1.4h-1.4zM347.1 383.3h1.4v1.4h-1.4zM358 383.3h1.4v1.4h-1.4zM378.9 383.3h3.4v1.4h-3.4zM382.8 383.3h2.4v1.4h-2.4zM321.3 384.2h3.4v1.4h-3.4zM337.2 384.2h1.4v1.4h-1.4zM343.1 384.2h1.4v1.4h-1.4zM355 384.2h1.4v1.4h-1.4zM380.8 384.2h1.4v1.4h-1.4zM383.8 384.2h4.4v1.4h-4.4zM321.3 385.2h1.4v1.4h-1.4zM337.2 385.2h1.4v1.4h-1.4zM380.8 385.2h1.4v1.4h-1.4zM384.8 385.2h1.4v1.4h-1.4zM350.1 386.2h1.4v1.4h-1.4zM352.1 386.2h1.4v1.4h-1.4zM357 386.2h1.4v1.4h-1.4zM365 386.2h2.4v1.4h-2.4zM375.9 386.2h1.4v1.4h-1.4zM354 387.1h1.4v1.4h-1.4zM363 387.1h7.3v1.4h-7.3zM375.9 387.1h1.4v1.4h-1.4zM379.9 387.1h1.4v1.4h-1.4zM316.3 388.1h1.4v1.4h-1.4zM355 388.1h1.4v1.4h-1.4zM362 388.1h8.3v1.4h-8.3zM376.9 388.1h1.4v1.4h-1.4zM362 389.1h11.3v1.4h-11.3zM362 390h11.3v1.4h-11.3z"/><path fill="#cf3" d="M313.3 363h3.4v1.4h-3.4zM367.9 363h1.4v1.4h-1.4zM313.3 363.9h3.4v1.4h-3.4zM367.9 363.9h1.4v1.4h-1.4zM367.9 364.9h1.4v1.4h-1.4zM341.1 365.9h1.4v1.4h-1.4zM349.1 366.8h1.4v1.4h-1.4zM343.1 367.8h1.4v1.4h-1.4zM344.1 368.8h1.4v1.4h-1.4zM357 369.7h1.4v1.4h-1.4zM348.1 370.7h1.4v1.4h-1.4zM347.1 371.7h1.4v1.4h-1.4zM330.2 373.6h1.4v1.4h-1.4zM343.1 373.6h1.4v1.4h-1.4zM374.9 373.6h1.4v1.4h-1.4zM385.8 373.6h2.4v1.4h-2.4zM342.1 374.6h1.4v1.4h-1.4zM382.8 374.6h1.4v1.4h-1.4zM328.2 375.5h1.4v1.4h-1.4zM342.1 375.5h1.4v1.4h-1.4zM344.1 375.5h1.4v1.4h-1.4zM371.9 375.5h1.4v1.4h-1.4zM374.9 375.5h1.4v1.4h-1.4zM382.8 375.5h2.4v1.4h-2.4zM348.1 376.5h1.4v1.4h-1.4zM348.1 377.5h1.4v1.4h-1.4zM373.9 377.5h1.4v1.4h-1.4zM372.9 378.4h1.4v1.4h-1.4zM371.9 379.4h1.4v1.4h-1.4zM384.8 379.4h3.4v1.4h-3.4zM322.3 380.4h1.4v1.4h-1.4zM342.1 380.4h1.4v1.4h-1.4zM347.1 380.4h1.4v1.4h-1.4zM385.8 380.4h2.4v1.4h-2.4zM322.3 381.3h1.4v1.4h-1.4zM346.1 381.3h1.4v1.4h-1.4zM348.1 381.3h1.4v1.4h-1.4zM384.8 381.3h3.4v1.4h-3.4zM322.3 382.3h2.4v1.4h-2.4zM357 382.3h1.4v1.4h-1.4zM384.8 382.3h3.4v1.4h-3.4zM323.3 383.3h1.4v1.4h-1.4zM344.1 383.3h1.4v1.4h-1.4zM384.8 383.3h3.4v1.4h-3.4zM335.2 384.2h1.4v1.4h-1.4zM348.1 384.2h1.4v1.4h-1.4zM352.1 384.2h1.4v1.4h-1.4zM349.1 385.2h1.4v1.4h-1.4zM352.1 385.2h1.4v1.4h-1.4zM351.1 386.2h1.4v1.4h-1.4zM356 387.1h1.4v1.4h-1.4zM377.9 388.1h1.4v1.4h-1.4z"/><path fill="#7f8" d="M331.2 363h2.4v1.4h-2.4zM347.1 363h1.4v1.4h-1.4zM358 363h4.4v1.4h-4.4zM376.9 363h1.4v1.4h-1.4zM378.9 363h1.4v1.4h-1.4zM331.2 363.9h2.4v1.4h-2.4zM347.1 363.9h1.4v1.4h-1.4zM358 363.9h4.4v1.4h-4.4zM376.9 363.9h1.4v1.4h-1.4zM378.9 363.9h1.4v1.4h-1.4zM358 364.9h3.4v1.4h-3.4zM375.9 364.9h1.4v1.4h-1.4zM378.9 364.9h1.4v1.4h-1.4zM358 365.9h2.4v1.4h-2.4zM378.9 365.9h1.4v1.4h-1.4zM345.1 366.8h1.4v1.4h-1.4zM382.8 366.8h1.4v1.4h-1.4zM321.3 367.8h1.4v1.4h-1.4zM366.9 367.8h1.4v1.4h-1.4zM322.3 368.8h1.4v1.4h-1.4zM373.9 368.8h1.4v1.4h-1.4zM309.4 369.7h1.4v1.4h-1.4zM352.1 369.7h1.4v1.4h-1.4zM308.4 370.7h1.4v1.4h-1.4zM341.1 370.7h1.4v1.4h-1.4zM344.1 370.7h1.4v1.4h-1.4zM351.1 370.7h1.4v1.4h-1.4zM384.8 370.7h1.4v1.4h-1.4zM306.4 371.7h2.4v1.4h-2.4zM316.3 371.7h1.4v1.4h-1.4zM367.9 371.7h1.4v1.4h-1.4zM380.8 371.7h1.4v1.4h-1.4zM306.4 372.6h2.4v1.4h-2.4zM320.3 372.6h1.4v1.4h-1.4zM352.1 372.6h1.4v1.4h-1.4zM338.2 373.6h1.4v1.4h-1.4zM358 373.6h1.4v1.4h-1.4zM364 373.6h1.4v1.4h-1.4zM379.9 373.6h1.4v1.4h-1.4zM319.3 374.6h1.4v1.4h-1.4zM338.2 374.6h1.4v1.4h-1.4zM354 374.6h1.4v1.4h-1.4zM359 374.6h1.4v1.4h-1.4zM364 374.6h1.4v1.4h-1.4zM366.9 374.6h1.4v1.4h-1.4zM370.9 374.6h1.4v1.4h-1.4zM379.9 374.6h2.4v1.4h-2.4zM360 375.5h1.4v1.4h-1.4zM308.4 376.5h1.4v1.4h-1.4zM339.2 376.5h1.4v1.4h-1.4zM354 376.5h1.4v1.4h-1.4zM364 376.5h1.4v1.4h-1.4zM369.9 376.5h2.4v1.4h-2.4zM339.2 377.5h1.4v1.4h-1.4zM309.4 378.4h1.4v1.4h-1.4zM326.2 378.4h1.4v1.4h-1.4zM358 378.4h3.4v1.4h-3.4zM365 378.4h1.4v1.4h-1.4zM306.4 379.4h1.4v1.4h-1.4zM308.4 379.4h1.4v1.4h-1.4zM319.3 379.4h1.4v1.4h-1.4zM331.2 379.4h1.4v1.4h-1.4zM308.4 380.4h1.4v1.4h-1.4zM317.3 380.4h1.4v1.4h-1.4zM324.3 380.4h1.4v1.4h-1.4zM336.2 380.4h2.4v1.4h-2.4zM352.1 380.4h2.4v1.4h-2.4zM363 380.4h3.4v1.4h-3.4zM376.9 380.4h1.4v1.4h-1.4zM339.2 381.3h1.4v1.4h-1.4zM373.9 381.3h1.4v1.4h-1.4zM316.3 382.3h1.4v1.4h-1.4zM336.2 382.3h1.4v1.4h-1.4zM340.1 382.3h1.4v1.4h-1.4zM306.4 383.3h1.4v1.4h-1.4zM337.2 383.3h1.4v1.4h-1.4zM330.2 384.2h1.4v1.4h-1.4zM310.4 385.2h1.4v1.4h-1.4zM324.3 386.2h1.4v1.4h-1.4zM332.2 386.2h1.4v1.4h-1.4zM337.2 386.2h1.4v1.4h-1.4zM344.1 387.1h1.4v1.4h-1.4zM324.3 388.1h1.4v1.4h-1.4zM326.2 388.1h1.4v1.4h-1.4zM337.2 388.1h1.4v1.4h-1.4zM343.1 388.1h3.4v1.4h-3.4zM383.8 388.1h1.4v1.4h-1.4zM343.1 389.1h3.4v1.4h-3.4zM382.8 389.1h5.4v1.4h-5.4zM343.1 390h3.4v1.4h-3.4zM382.8 390h5.4v1.4h-5.4z"/><path fill="#3fc" d="M348.1 363h1.4v1.4h-1.4zM348.1 363.9h1.4v1.4h-1.4zM377.9 366.8h1.4v1.4h-1.4zM345.1 367.8h1.4v1.4h-1.4zM320.3 368.8h1.4v1.4h-1.4zM319.3 369.7h1.4v1.4h-1.4zM375.9 369.7h1.4v1.4h-1.4zM316.3 370.7h1.4v1.4h-1.4zM353 370.7h1.4v1.4h-1.4zM381.8 370.7h1.4v1.4h-1.4zM318.3 371.7h1.4v1.4h-1.4zM313.3 372.6h1.4v1.4h-1.4zM380.8 372.6h1.4v1.4h-1.4zM366 373.6h1.4v1.4h-1.4zM380.8 373.6h1.4v1.4h-1.4zM314.3 374.6h1.4v1.4h-1.4zM311.4 375.5h1.4v1.4h-1.4zM326.2 375.5h1.4v1.4h-1.4zM310.4 376.5h1.4v1.4h-1.4zM315.3 376.5h1.4v1.4h-1.4zM361 376.5h1.4v1.4h-1.4zM311.4 377.5h1.4v1.4h-1.4zM324.3 377.5h1.4v1.4h-1.4zM354 377.5h1.4v1.4h-1.4zM361 377.5h1.4v1.4h-1.4zM308.4 378.4h1.4v1.4h-1.4zM312.3 378.4h1.4v1.4h-1.4zM364 378.4h1.4v1.4h-1.4zM320.3 380.4h1.4v1.4h-1.4zM313.3 382.3h1.4v1.4h-1.4zM315.3 382.3h1.4v1.4h-1.4zM327.2 382.3h1.4v1.4h-1.4zM312.3 383.3h1.4v1.4h-1.4zM314.3 383.3h1.4v1.4h-1.4zM341.1 384.2h1.4v1.4h-1.4zM375.9 384.2h1.4v1.4h-1.4zM332.2 385.2h1.4v1.4h-1.4zM325.3 387.1h1.4v1.4h-1.4zM339.2 387.1h1.4v1.4h-1.4zM341.1 387.1h1.4v1.4h-1.4z"/><path fill="#5fa" d="M349.1 363h1.4v1.4h-1.4zM377.9 363h1.4v1.4h-1.4zM349.1 363.9h1.4v1.4h-1.4zM377.9 363.9h1.4v1.4h-1.4zM384.8 364.9h1.4v1.4h-1.4zM383.8 365.9h1.4v1.4h-1.4zM374.9 366.8h1.4v1.4h-1.4zM317.3 369.7h1.4v1.4h-1.4zM373.9 369.7h1.4v1.4h-1.4zM314.3 370.7h1.4v1.4h-1.4zM365 370.7h1.4v1.4h-1.4zM374.9 370.7h1.4v1.4h-1.4zM383.8 371.7h1.4v1.4h-1.4zM311.4 373.6h1.4v1.4h-1.4zM315.3 373.6h1.4v1.4h-1.4zM381.8 373.6h1.4v1.4h-1.4zM359 376.5h1.4v1.4h-1.4zM363 376.5h1.4v1.4h-1.4zM357 377.5h1.4v1.4h-1.4zM364 377.5h1.4v1.4h-1.4zM353 378.4h1.4v1.4h-1.4zM353 379.4h1.4v1.4h-1.4zM316.3 380.4h1.4v1.4h-1.4zM329.2 380.4h1.4v1.4h-1.4zM337.2 381.3h1.4v1.4h-1.4zM307.4 382.3h1.4v1.4h-1.4zM310.4 382.3h1.4v1.4h-1.4zM332.2 382.3h1.4v1.4h-1.4zM319.3 383.3h1.4v1.4h-1.4zM326.2 383.3h1.4v1.4h-1.4zM331.2 383.3h1.4v1.4h-1.4zM376.9 383.3h1.4v1.4h-1.4zM311.4 384.2h1.4v1.4h-1.4zM313.3 384.2h1.4v1.4h-1.4zM311.4 385.2h1.4v1.4h-1.4zM342.1 385.2h1.4v1.4h-1.4zM342.1 387.1h1.4v1.4h-1.4zM335.2 388.1h2.4v1.4h-2.4zM341.1 389.1h1.4v1.4h-1.4zM341.1 390h1.4v1.4h-1.4z"/><path fill="#6f9" d="M385.8 363h2.4v1.4h-2.4zM385.8 363.9h2.4v1.4h-2.4zM349.1 364.9h1.4v1.4h-1.4zM317.3 367.8h2.4v1.4h-2.4zM377.9 367.8h1.4v1.4h-1.4zM341.1 369.7h1.4v1.4h-1.4zM381.8 369.7h1.4v1.4h-1.4zM318.3 370.7h1.4v1.4h-1.4zM354 370.7h1.4v1.4h-1.4zM367.9 370.7h1.4v1.4h-1.4zM373.9 370.7h1.4v1.4h-1.4zM313.3 371.7h1.4v1.4h-1.4zM317.3 371.7h1.4v1.4h-1.4zM320.3 371.7h1.4v1.4h-1.4zM312.3 372.6h1.4v1.4h-1.4zM315.3 372.6h2.4v1.4h-2.4zM368.9 372.6h1.4v1.4h-1.4zM353 373.6h1.4v1.4h-1.4zM369.9 373.6h1.4v1.4h-1.4zM365 374.6h1.4v1.4h-1.4zM359 375.5h1.4v1.4h-1.4zM361 375.5h2.4v1.4h-2.4zM360 376.5h1.4v1.4h-1.4zM310.4 377.5h1.4v1.4h-1.4zM340.1 377.5h1.4v1.4h-1.4zM358 377.5h3.4v1.4h-3.4zM310.4 378.4h1.4v1.4h-1.4zM356 378.4h1.4v1.4h-1.4zM361 378.4h1.4v1.4h-1.4zM307.4 379.4h1.4v1.4h-1.4zM309.4 379.4h1.4v1.4h-1.4zM312.3 379.4h1.4v1.4h-1.4zM320.3 379.4h1.4v1.4h-1.4zM355 379.4h1.4v1.4h-1.4zM362 379.4h1.4v1.4h-1.4zM365 379.4h1.4v1.4h-1.4zM318.3 380.4h1.4v1.4h-1.4zM331.2 380.4h1.4v1.4h-1.4zM375.9 380.4h1.4v1.4h-1.4zM311.4 381.3h1.4v1.4h-1.4zM314.3 381.3h1.4v1.4h-1.4zM317.3 381.3h1.4v1.4h-1.4zM331.2 381.3h1.4v1.4h-1.4zM336.2 381.3h1.4v1.4h-1.4zM338.2 381.3h1.4v1.4h-1.4zM331.2 382.3h1.4v1.4h-1.4zM333.2 382.3h1.4v1.4h-1.4zM316.3 383.3h1.4v1.4h-1.4zM330.2 383.3h1.4v1.4h-1.4zM306.4 384.2h1.4v1.4h-1.4zM331.2 384.2h1.4v1.4h-1.4zM306.4 385.2h2.4v1.4h-2.4zM312.3 385.2h1.4v1.4h-1.4zM317.3 385.2h1.4v1.4h-1.4zM329.2 385.2h1.4v1.4h-1.4zM373.9 385.2h2.4v1.4h-2.4zM328.2 386.2h1.4v1.4h-1.4zM343.1 386.2h1.4v1.4h-1.4zM324.3 387.1h1.4v1.4h-1.4zM327.2 387.1h1.4v1.4h-1.4zM337.2 387.1h2.4v1.4h-2.4zM343.1 387.1h1.4v1.4h-1.4zM325.3 388.1h1.4v1.4h-1.4zM339.2 388.1h1.4v1.4h-1.4zM342.1 388.1h1.4v1.4h-1.4zM340.1 389.1h1.4v1.4h-1.4zM342.1 389.1h1.4v1.4h-1.4zM340.1 390h1.4v1.4h-1.4zM342.1 390h1.4v1.4h-1.4z"/><path fill="#0ff" d="M347.1 364.9h1.4v1.4h-1.4zM375.9 365.9h1.4v1.4h-1.4zM343.1 368.8h1.4v1.4h-1.4zM366.9 368.8h2.4v1.4h-2.4zM365 371.7h1.4v1.4h-1.4zM319.3 372.6h1.4v1.4h-1.4zM355 373.6h1.4v1.4h-1.4zM314.3 375.5h1.4v1.4h-1.4zM316.3 375.5h1.4v1.4h-1.4zM358 375.5h1.4v1.4h-1.4zM363 377.5h1.4v1.4h-1.4zM310.4 379.4h1.4v1.4h-1.4zM308.4 381.3h1.4v1.4h-1.4zM332.2 383.3h1.4v1.4h-1.4zM338.2 383.3h1.4v1.4h-1.4zM373.9 383.3h1.4v1.4h-1.4zM307.4 384.2h1.4v1.4h-1.4zM340.1 387.1h1.4v1.4h-1.4z"/><path fill="#0bf" d="M348.1 364.9h1.4v1.4h-1.4zM384.8 365.9h1.4v1.4h-1.4zM376.9 367.8h1.4v1.4h-1.4zM312.3 376.5h1.4v1.4h-1.4zM326.2 376.5h1.4v1.4h-1.4zM324.3 378.4h1.4v1.4h-1.4zM318.3 381.3h1.4v1.4h-1.4zM375.9 381.3h1.4v1.4h-1.4zM317.3 384.2h1.4v1.4h-1.4zM328.2 384.2h1.4v1.4h-1.4zM327.2 385.2h1.4v1.4h-1.4z"/><path fill="#1fe" d="M376.9 364.9h2.4v1.4h-2.4zM367.9 369.7h1.4v1.4h-1.4zM319.3 370.7h1.4v1.4h-1.4zM314.3 371.7h1.4v1.4h-1.4zM314.3 372.6h1.4v1.4h-1.4zM313.3 373.6h1.4v1.4h-1.4zM357 373.6h1.4v1.4h-1.4zM365 373.6h1.4v1.4h-1.4zM357 376.5h1.4v1.4h-1.4zM308.4 377.5h1.4v1.4h-1.4zM356 377.5h1.4v1.4h-1.4zM311.4 378.4h1.4v1.4h-1.4zM313.3 378.4h2.4v1.4h-2.4zM354 378.4h2.4v1.4h-2.4zM315.3 381.3h1.4v1.4h-1.4zM374.9 381.3h1.4v1.4h-1.4zM317.3 382.3h1.4v1.4h-1.4zM376.9 382.3h1.4v1.4h-1.4zM338.2 384.2h1.4v1.4h-1.4zM373.9 384.2h1.4v1.4h-1.4zM335.2 385.2h1.4v1.4h-1.4zM341.1 385.2h1.4v1.4h-1.4zM336.2 387.1h1.4v1.4h-1.4z"/><path fill="#0df" d="M385.8 364.9h2.4v1.4h-2.4zM348.1 365.9h1.4v1.4h-1.4zM374.9 367.8h1.4v1.4h-1.4zM320.3 369.7h1.4v1.4h-1.4zM315.3 370.7h1.4v1.4h-1.4zM354 372.6h1.4v1.4h-1.4zM365 372.6h1.4v1.4h-1.4zM316.3 373.6h1.4v1.4h-1.4zM313.3 374.6h1.4v1.4h-1.4zM355 374.6h1.4v1.4h-1.4zM367.9 374.6h1.4v1.4h-1.4zM369.9 374.6h1.4v1.4h-1.4zM312.3 375.5h1.4v1.4h-1.4zM356 375.5h1.4v1.4h-1.4zM369.9 375.5h1.4v1.4h-1.4zM309.4 376.5h1.4v1.4h-1.4zM355 377.5h1.4v1.4h-1.4zM324.3 379.4h1.4v1.4h-1.4zM309.4 380.4h1.4v1.4h-1.4zM330.2 381.3h1.4v1.4h-1.4zM314.3 382.3h1.4v1.4h-1.4zM329.2 383.3h1.4v1.4h-1.4zM339.2 384.2h2.4v1.4h-2.4zM339.2 385.2h1.4v1.4h-1.4z"/><path fill="#ef1" d="M342.1 365.9h1.4v1.4h-1.4zM343.1 366.8h1.4v1.4h-1.4zM340.1 367.8h1.4v1.4h-1.4zM349.1 367.8h1.4v1.4h-1.4zM345.1 370.7h1.4v1.4h-1.4zM357 370.7h1.4v1.4h-1.4zM346.1 371.7h1.4v1.4h-1.4zM310.4 372.6h1.4v1.4h-1.4zM341.1 372.6h1.4v1.4h-1.4zM327.2 373.6h1.4v1.4h-1.4zM340.1 373.6h1.4v1.4h-1.4zM307.4 374.6h1.4v1.4h-1.4zM343.1 375.5h1.4v1.4h-1.4zM344.1 376.5h1.4v1.4h-1.4zM346.1 377.5h1.4v1.4h-1.4zM370.9 377.5h1.4v1.4h-1.4zM341.1 379.4h1.4v1.4h-1.4zM347.1 379.4h1.4v1.4h-1.4zM370.9 379.4h1.4v1.4h-1.4zM350.1 382.3h1.4v1.4h-1.4zM336.2 383.3h1.4v1.4h-1.4zM348.1 383.3h1.4v1.4h-1.4zM351.1 383.3h1.4v1.4h-1.4zM320.3 384.2h1.4v1.4h-1.4zM378.9 384.2h2.4v1.4h-2.4zM357 385.2h1.4v1.4h-1.4zM320.3 386.2h1.4v1.4h-1.4zM379.9 386.2h1.4v1.4h-1.4zM355 387.1h1.4v1.4h-1.4z"/><path fill="#df2" d="M343.1 365.9h1.4v1.4h-1.4zM349.1 368.8h1.4v1.4h-1.4zM385.8 370.7h2.4v1.4h-2.4zM329.2 371.7h2.4v1.4h-2.4zM345.1 371.7h1.4v1.4h-1.4zM357 371.7h1.4v1.4h-1.4zM384.8 371.7h1.4v1.4h-1.4zM356 372.6h1.4v1.4h-1.4zM310.4 373.6h1.4v1.4h-1.4zM327.2 374.6h1.4v1.4h-1.4zM329.2 374.6h1.4v1.4h-1.4zM372.9 374.6h1.4v1.4h-1.4zM374.9 374.6h1.4v1.4h-1.4zM384.8 374.6h1.4v1.4h-1.4zM317.3 376.5h1.4v1.4h-1.4zM317.3 377.5h1.4v1.4h-1.4zM344.1 377.5h1.4v1.4h-1.4zM344.1 378.4h1.4v1.4h-1.4zM314.3 379.4h1.4v1.4h-1.4zM342.1 379.4h2.4v1.4h-2.4zM314.3 380.4h1.4v1.4h-1.4zM345.1 382.3h1.4v1.4h-1.4zM356 383.3h1.4v1.4h-1.4zM319.3 384.2h1.4v1.4h-1.4zM377.9 384.2h1.4v1.4h-1.4zM376.9 385.2h1.4v1.4h-1.4z"/><path fill="#2fd" d="M346.1 365.9h1.4v1.4h-1.4zM382.8 367.8h1.4v1.4h-1.4zM317.3 368.8h1.4v1.4h-1.4zM321.3 368.8h1.4v1.4h-1.4zM385.8 368.8h2.4v1.4h-2.4zM321.3 369.7h1.4v1.4h-1.4zM366 369.7h1.4v1.4h-1.4zM320.3 370.7h1.4v1.4h-1.4zM342.1 370.7h1.4v1.4h-1.4zM315.3 371.7h1.4v1.4h-1.4zM319.3 371.7h1.4v1.4h-1.4zM314.3 373.6h1.4v1.4h-1.4zM319.3 373.6h1.4v1.4h-1.4zM354 373.6h1.4v1.4h-1.4zM311.4 374.6h2.4v1.4h-2.4zM315.3 374.6h1.4v1.4h-1.4zM358 374.6h1.4v1.4h-1.4zM315.3 375.5h1.4v1.4h-1.4zM368.9 375.5h1.4v1.4h-1.4zM340.1 376.5h1.4v1.4h-1.4zM355 376.5h1.4v1.4h-1.4zM358 376.5h1.4v1.4h-1.4zM362 376.5h1.4v1.4h-1.4zM309.4 377.5h1.4v1.4h-1.4zM362 378.4h1.4v1.4h-1.4zM311.4 380.4h1.4v1.4h-1.4zM330.2 380.4h1.4v1.4h-1.4zM328.2 381.3h1.4v1.4h-1.4zM376.9 381.3h1.4v1.4h-1.4zM330.2 382.3h1.4v1.4h-1.4zM338.2 382.3h1.4v1.4h-1.4zM340.1 383.3h1.4v1.4h-1.4zM312.3 384.2h1.4v1.4h-1.4zM328.2 385.2h1.4v1.4h-1.4zM338.2 385.2h1.4v1.4h-1.4zM325.3 386.2h1.4v1.4h-1.4zM327.2 386.2h1.4v1.4h-1.4zM333.2 386.2h1.4v1.4h-1.4zM341.1 386.2h1.4v1.4h-1.4z"/><path fill="#04f" d="M347.1 365.9h1.4v1.4h-1.4zM385.8 365.9h2.4v1.4h-2.4zM376.9 366.8h1.4v1.4h-1.4zM366.9 370.7h1.4v1.4h-1.4zM318.3 373.6h1.4v1.4h-1.4zM317.3 374.6h1.4v1.4h-1.4zM368.9 374.6h1.4v1.4h-1.4zM329.2 382.3h1.4v1.4h-1.4z"/><path fill="#07f" d="M376.9 365.9h1.4v1.4h-1.4zM347.1 366.8h1.4v1.4h-1.4zM385.8 367.8h2.4v1.4h-2.4zM342.1 369.7h1.4v1.4h-1.4zM383.8 369.7h1.4v1.4h-1.4zM366 372.6h1.4v1.4h-1.4zM314.3 376.5h1.4v1.4h-1.4zM313.3 377.5h1.4v1.4h-1.4zM327.2 383.3h1.4v1.4h-1.4zM375.9 383.3h1.4v1.4h-1.4zM327.2 384.2h1.4v1.4h-1.4zM333.2 385.2h1.4v1.4h-1.4z"/><path fill="#0ef" d="M377.9 365.9h1.4v1.4h-1.4zM316.3 369.7h1.4v1.4h-1.4zM374.9 369.7h1.4v1.4h-1.4zM384.8 369.7h1.4v1.4h-1.4zM354 371.7h1.4v1.4h-1.4zM381.8 371.7h1.4v1.4h-1.4zM317.3 372.6h1.4v1.4h-1.4zM353 372.6h1.4v1.4h-1.4zM381.8 372.6h1.4v1.4h-1.4zM318.3 374.6h1.4v1.4h-1.4zM310.4 375.5h1.4v1.4h-1.4zM356 376.5h1.4v1.4h-1.4zM312.3 377.5h1.4v1.4h-1.4zM326.2 377.5h1.4v1.4h-1.4zM362 377.5h1.4v1.4h-1.4zM363 378.4h1.4v1.4h-1.4zM311.4 379.4h1.4v1.4h-1.4zM319.3 380.4h1.4v1.4h-1.4zM307.4 383.3h1.4v1.4h-1.4zM313.3 383.3h1.4v1.4h-1.4zM333.2 383.3h1.4v1.4h-1.4zM339.2 383.3h1.4v1.4h-1.4zM326.2 384.2h1.4v1.4h-1.4zM332.2 384.2h1.4v1.4h-1.4zM340.1 385.2h1.4v1.4h-1.4zM326.2 386.2h1.4v1.4h-1.4zM339.2 386.2h2.4v1.4h-2.4zM335.2 387.1h1.4v1.4h-1.4z"/><path fill="#fe0" d="M341.1 366.8h1.4v1.4h-1.4zM340.1 368.8h1.4v1.4h-1.4zM346.1 369.7h1.4v1.4h-1.4zM348.1 369.7h1.4v1.4h-1.4zM346.1 370.7h2.4v1.4h-2.4zM328.2 372.6h1.4v1.4h-1.4zM383.8 373.6h1.4v1.4h-1.4zM383.8 374.6h1.4v1.4h-1.4zM343.1 378.4h1.4v1.4h-1.4zM347.1 378.4h1.4v1.4h-1.4zM315.3 379.4h1.4v1.4h-1.4zM343.1 383.3h1.4v1.4h-1.4zM357 383.3h1.4v1.4h-1.4zM320.3 385.2h1.4v1.4h-1.4zM351.1 385.2h1.4v1.4h-1.4zM379.9 385.2h1.4v1.4h-1.4z"/><path fill="#fc0" d="M342.1 366.8h1.4v1.4h-1.4zM385.8 372.6h2.4v1.4h-2.4zM340.1 374.6h1.4v1.4h-1.4zM307.4 375.5h1.4v1.4h-1.4zM371.9 376.5h1.4v1.4h-1.4zM345.1 378.4h1.4v1.4h-1.4zM343.1 380.4h1.4v1.4h-1.4zM346.1 380.4h1.4v1.4h-1.4zM318.3 385.2h1.4v1.4h-1.4zM319.3 387.1h1.4v1.4h-1.4z"/><path fill="#08f" d="M346.1 366.8h1.4v1.4h-1.4zM375.9 368.8h1.4v1.4h-1.4zM382.8 369.7h1.4v1.4h-1.4zM316.3 374.6h1.4v1.4h-1.4zM329.2 381.3h1.4v1.4h-1.4zM308.4 383.3h1.4v1.4h-1.4zM334.2 386.2h1.4v1.4h-1.4z"/><path fill="#05f" d="M375.9 366.8h1.4v1.4h-1.4zM384.8 368.8h1.4v1.4h-1.4zM343.1 369.7h1.4v1.4h-1.4zM366.9 369.7h1.4v1.4h-1.4zM356 374.6h1.4v1.4h-1.4zM313.3 376.5h1.4v1.4h-1.4zM308.4 382.3h2.4v1.4h-2.4zM318.3 383.3h1.4v1.4h-1.4zM333.2 384.2h1.4v1.4h-1.4z"/><path fill="#0af" d="M383.8 366.8h1.4v1.4h-1.4zM346.1 367.8h1.4v1.4h-1.4zM374.9 368.8h1.4v1.4h-1.4zM382.8 370.7h1.4v1.4h-1.4zM366.9 371.7h1.4v1.4h-1.4zM357 374.6h1.4v1.4h-1.4zM310.4 381.3h1.4v1.4h-1.4zM319.3 382.3h1.4v1.4h-1.4z"/><path fill="#03f" d="M384.8 366.8h1.4v1.4h-1.4zM328.2 382.3h1.4v1.4h-1.4zM375.9 382.3h1.4v1.4h-1.4zM374.9 383.3h1.4v1.4h-1.4z"/><path fill="#00f" d="M385.8 366.8h2.4v1.4h-2.4zM375.9 367.8h1.4v1.4h-1.4zM383.8 367.8h1.4v1.4h-1.4zM367.9 373.6h1.4v1.4h-1.4zM325.3 377.5h1.4v1.4h-1.4zM318.3 382.3h1.4v1.4h-1.4zM334.2 385.2h1.4v1.4h-1.4z"/><path fill="#f90" d="M341.1 367.8h1.4v1.4h-1.4zM341.1 373.6h1.4v1.4h-1.4zM309.4 374.6h1.4v1.4h-1.4zM342.1 376.5h1.4v1.4h-1.4zM346.1 378.4h1.4v1.4h-1.4zM356 385.2h1.4v1.4h-1.4z"/><path fill="#fd0" d="M348.1 367.8h1.4v1.4h-1.4zM356 370.7h1.4v1.4h-1.4zM308.4 373.6h1.4v1.4h-1.4zM328.2 374.6h1.4v1.4h-1.4zM341.1 374.6h1.4v1.4h-1.4zM373.9 374.6h1.4v1.4h-1.4zM373.9 376.5h1.4v1.4h-1.4zM341.1 377.5h1.4v1.4h-1.4zM316.3 378.4h1.4v1.4h-1.4zM370.9 378.4h1.4v1.4h-1.4zM342.1 382.3h1.4v1.4h-1.4zM349.1 382.3h1.4v1.4h-1.4zM349.1 384.2h1.4v1.4h-1.4zM351.1 384.2h1.4v1.4h-1.4zM357 384.2h1.4v1.4h-1.4zM336.2 385.2h1.4v1.4h-1.4zM377.9 385.2h1.4v1.4h-1.4zM355 386.2h2.4v1.4h-2.4zM377.9 387.1h1.4v1.4h-1.4z"/><path fill="#4fb" d="M367.9 367.8h1.4v1.4h-1.4zM316.3 368.8h1.4v1.4h-1.4zM345.1 368.8h1.4v1.4h-1.4zM376.9 368.8h1.4v1.4h-1.4zM315.3 369.7h1.4v1.4h-1.4zM352.1 370.7h1.4v1.4h-1.4zM352.1 371.7h1.4v1.4h-1.4zM382.8 372.6h1.4v1.4h-1.4zM312.3 373.6h1.4v1.4h-1.4zM310.4 374.6h1.4v1.4h-1.4zM309.4 375.5h1.4v1.4h-1.4zM317.3 375.5h1.4v1.4h-1.4zM355 375.5h1.4v1.4h-1.4zM370.9 375.5h1.4v1.4h-1.4zM311.4 376.5h1.4v1.4h-1.4zM307.4 378.4h1.4v1.4h-1.4zM325.3 379.4h1.4v1.4h-1.4zM354 379.4h1.4v1.4h-1.4zM363 379.4h2.4v1.4h-2.4zM316.3 381.3h1.4v1.4h-1.4zM320.3 381.3h1.4v1.4h-1.4zM337.2 382.3h1.4v1.4h-1.4zM339.2 382.3h1.4v1.4h-1.4zM373.9 382.3h1.4v1.4h-1.4zM309.4 383.3h1.4v1.4h-1.4zM334.2 383.3h1.4v1.4h-1.4zM308.4 384.2h1.4v1.4h-1.4zM316.3 384.2h1.4v1.4h-1.4zM318.3 384.2h1.4v1.4h-1.4zM329.2 384.2h1.4v1.4h-1.4zM316.3 385.2h1.4v1.4h-1.4zM325.3 385.2h1.4v1.4h-1.4zM336.2 386.2h1.4v1.4h-1.4zM338.2 386.2h1.4v1.4h-1.4zM342.1 386.2h1.4v1.4h-1.4zM326.2 387.1h1.4v1.4h-1.4zM334.2 387.1h1.4v1.4h-1.4zM340.1 388.1h2.4v1.4h-2.4z"/><path fill="#01f" d="M384.8 367.8h1.4v1.4h-1.4zM366 371.7h1.4v1.4h-1.4zM309.4 381.3h1.4v1.4h-1.4z"/><path fill="#06f" d="M342.1 368.8h1.4v1.4h-1.4zM366 370.7h1.4v1.4h-1.4zM366.9 372.6h1.4v1.4h-1.4zM325.3 378.4h1.4v1.4h-1.4zM310.4 380.4h1.4v1.4h-1.4zM319.3 381.3h1.4v1.4h-1.4zM374.9 382.3h1.4v1.4h-1.4z"/><path fill="#fa0" d="M347.1 368.8h1.4v1.4h-1.4zM347.1 369.7h1.4v1.4h-1.4zM356 371.7h1.4v1.4h-1.4zM384.8 372.6h1.4v1.4h-1.4zM328.2 373.6h1.4v1.4h-1.4zM371.9 378.4h1.4v1.4h-1.4zM344.1 379.4h1.4v1.4h-1.4zM345.1 381.3h1.4v1.4h-1.4zM349.1 383.3h2.4v1.4h-2.4zM350.1 384.2h1.4v1.4h-1.4zM377.9 386.2h2.4v1.4h-2.4z"/><path fill="#fb0" d="M348.1 368.8h1.4v1.4h-1.4zM385.8 371.7h2.4v1.4h-2.4zM329.2 372.6h1.4v1.4h-1.4zM342.1 372.6h1.4v1.4h-1.4zM329.2 373.6h1.4v1.4h-1.4zM342.1 373.6h1.4v1.4h-1.4zM384.8 373.6h1.4v1.4h-1.4zM316.3 377.5h1.4v1.4h-1.4zM315.3 378.4h1.4v1.4h-1.4zM341.1 378.4h1.4v1.4h-1.4zM344.1 382.3h1.4v1.4h-1.4zM356 384.2h1.4v1.4h-1.4zM378.9 385.2h1.4v1.4h-1.4zM317.3 387.1h1.4v1.4h-1.4z"/><path fill="#09f" d="M382.8 368.8h1.4v1.4h-1.4zM318.3 372.6h1.4v1.4h-1.4zM356 373.6h1.4v1.4h-1.4zM368.9 373.6h1.4v1.4h-1.4zM313.3 375.5h1.4v1.4h-1.4zM317.3 383.3h1.4v1.4h-1.4zM334.2 384.2h1.4v1.4h-1.4zM335.2 386.2h1.4v1.4h-1.4z"/><path fill="#02f" d="M383.8 368.8h1.4v1.4h-1.4zM317.3 373.6h1.4v1.4h-1.4zM314.3 377.5h1.4v1.4h-1.4zM328.2 383.3h1.4v1.4h-1.4z"/><path fill="#0cf" d="M343.1 370.7h1.4v1.4h-1.4zM383.8 370.7h1.4v1.4h-1.4zM353 371.7h1.4v1.4h-1.4zM382.8 371.7h1.4v1.4h-1.4zM367.9 372.6h1.4v1.4h-1.4zM366.9 373.6h1.4v1.4h-1.4zM357 375.5h1.4v1.4h-1.4zM325.3 376.5h1.4v1.4h-1.4zM374.9 384.2h1.4v1.4h-1.4zM326.2 385.2h1.4v1.4h-1.4z"/><path fill="#ff0" d="M355 371.7h1.4v1.4h-1.4zM309.4 372.6h1.4v1.4h-1.4zM330.2 372.6h1.4v1.4h-1.4zM343.1 372.6h1.4v1.4h-1.4zM355 372.6h1.4v1.4h-1.4zM307.4 376.5h1.4v1.4h-1.4zM347.1 377.5h1.4v1.4h-1.4zM342.1 381.3h1.4v1.4h-1.4zM348.1 382.3h1.4v1.4h-1.4zM342.1 383.3h1.4v1.4h-1.4zM350.1 385.2h1.4v1.4h-1.4zM355 385.2h1.4v1.4h-1.4zM317.3 386.2h1.4v1.4h-1.4zM376.9 386.2h1.4v1.4h-1.4zM376.9 387.1h1.4v1.4h-1.4zM378.9 387.1h1.4v1.4h-1.4zM317.3 388.1h2.4v1.4h-2.4z"/><path fill="#f60" d="M309.4 373.6h1.4v1.4h-1.4zM343.1 377.5h1.4v1.4h-1.4zM343.1 381.3h1.4v1.4h-1.4z"/><path fill="#f30" d="M308.4 374.6h1.4v1.4h-1.4zM345.1 379.4h1.4v1.4h-1.4z"/><path fill="#f80" d="M308.4 375.5h1.4v1.4h-1.4zM372.9 375.5h2.4v1.4h-2.4zM343.1 376.5h1.4v1.4h-1.4zM372.9 377.5h1.4v1.4h-1.4zM343.1 382.3h1.4v1.4h-1.4z"/><path fill="#f00" d="M372.9 376.5h1.4v1.4h-1.4zM342.1 377.5h1.4v1.4h-1.4z"/><path fill="#f50" d="M371.9 377.5h1.4v1.4h-1.4z"/><path fill="#f70" d="M342.1 378.4h1.4v1.4h-1.4zM346.1 379.4h1.4v1.4h-1.4zM336.2 384.2h1.4v1.4h-1.4zM319.3 385.2h1.4v1.4h-1.4z"/><path fill="#f10" d="M344.1 380.4h1.4v1.4h-1.4z"/><path fill="#f20" d="M345.1 380.4h1.4v1.4h-1.4zM344.1 381.3h1.4v1.4h-1.4zM318.3 386.2h1.4v1.4h-1.4z"/><path fill="#f40" d="M319.3 386.2h1.4v1.4h-1.4zM318.3 387.1h1.4v1.4h-1.4z"/></g></g></g><path d="M345.5 421.5 L345.5 436.5" fill="none" stroke="#1a1a1a" stroke-width="1.2"/><path d="M345.5 436.5 L234.5 436.5 L234.5 528.5" fill="none" stroke="#1a1a1a" stroke-width="1.2"/><path d="M234.5 533.5 L231.6 528 L237.4 528 Z" fill="#1a1a1a"/><path d="M345.5 436.5 L457.5 436.5 L457.5 528.5" fill="none" stroke="#1a1a1a" stroke-width="1.2"/><path d="M457.5 533.5 L454.6 528 L460.4 528 Z" fill="#1a1a1a"/><rect x="83.5" y="468.5" width="90" height="88" fill="#fff" stroke="#5a5a5a" stroke-width="1.2"/><g clip-path="url(#c16)"><g filter="url(#bl0_6)"><g shape-rendering="crispEdges"><path fill="#b00" d="M84.9 514.8h3.4v1.9h-3.4zM84.9 516.2h3.4v1.9h-3.4zM84.9 517.7h10.9v1.9h-10.9zM104.4 517.7h1.9v1.9h-1.9zM107.4 517.7h1.9v1.9h-1.9zM84.9 519.2h4.9v1.9h-4.9zM90.9 519.2h3.4v1.9h-3.4zM99.9 519.2h1.9v1.9h-1.9zM102.9 519.2h1.9v1.9h-1.9zM107.4 519.2h1.9v1.9h-1.9zM84.9 520.6h4.9v1.9h-4.9zM90.9 520.6h4.9v1.9h-4.9zM99.9 520.6h1.9v1.9h-1.9zM107.4 520.6h1.9v1.9h-1.9zM84.9 522.1h6.4v1.9h-6.4zM95.4 522.1h1.9v1.9h-1.9zM99.9 522.1h1.9v1.9h-1.9zM102.9 522.1h3.4v1.9h-3.4zM87.9 523.5h1.9v1.9h-1.9zM99.9 523.5h1.9v1.9h-1.9zM102.9 523.5h1.9v1.9h-1.9zM96.9 525h3.4v1.9h-3.4zM93.9 530.8h1.9v1.9h-1.9zM90.9 532.3h3.4v1.9h-3.4zM95.4 532.3h1.9v1.9h-1.9zM104.4 532.3h1.9v1.9h-1.9zM84.9 533.7h3.4v1.9h-3.4zM89.4 533.7h4.9v1.9h-4.9zM104.4 533.7h1.9v1.9h-1.9zM87.9 535.2h6.4v1.9h-6.4zM96.9 535.2h1.9v1.9h-1.9zM102.9 535.2h1.9v1.9h-1.9zM107.4 535.2h1.9v1.9h-1.9zM87.9 536.6h6.4v1.9h-6.4zM96.9 536.6h3.4v1.9h-3.4zM101.4 536.6h3.4v1.9h-3.4zM105.9 536.6h3.4v1.9h-3.4zM87.9 538.1h6.4v1.9h-6.4zM98.4 538.1h4.9v1.9h-4.9zM105.9 538.1h6.4v1.9h-6.4zM87.9 539.5h3.4v1.9h-3.4zM92.4 539.5h1.9v1.9h-1.9zM101.4 539.5h1.9v1.9h-1.9zM105.9 539.5h3.4v1.9h-3.4zM87.9 541h3.4v1.9h-3.4zM92.4 541h1.9v1.9h-1.9zM107.4 541h1.9v1.9h-1.9zM87.9 542.4h3.4v1.9h-3.4zM92.4 542.4h1.9v1.9h-1.9zM107.4 542.4h1.9v1.9h-1.9z"/><path fill="#c00" d="M87.9 514.8h3.4v1.9h-3.4zM99.9 514.8h1.9v1.9h-1.9zM102.9 514.8h3.4v1.9h-3.4zM107.4 514.8h1.9v1.9h-1.9zM87.9 516.2h3.4v1.9h-3.4zM99.9 516.2h1.9v1.9h-1.9zM102.9 516.2h3.4v1.9h-3.4zM107.4 516.2h1.9v1.9h-1.9zM99.9 517.7h4.9v1.9h-4.9zM105.9 517.7h1.9v1.9h-1.9zM89.4 519.2h1.9v1.9h-1.9zM101.4 519.2h1.9v1.9h-1.9zM105.9 519.2h1.9v1.9h-1.9zM89.4 520.6h1.9v1.9h-1.9zM101.4 520.6h1.9v1.9h-1.9zM105.9 520.6h1.9v1.9h-1.9zM90.9 522.1h1.9v1.9h-1.9zM93.9 522.1h1.9v1.9h-1.9zM101.4 522.1h1.9v1.9h-1.9zM107.4 522.1h4.9v1.9h-4.9zM84.9 523.5h3.4v1.9h-3.4zM95.4 523.5h1.9v1.9h-1.9zM101.4 523.5h1.9v1.9h-1.9zM108.9 523.5h3.4v1.9h-3.4zM87.9 525h1.9v1.9h-1.9zM99.9 525h3.4v1.9h-3.4zM108.9 525h3.4v1.9h-3.4zM98.4 526.4h1.9v1.9h-1.9zM92.4 529.3h1.9v1.9h-1.9zM104.4 529.3h1.9v1.9h-1.9zM90.9 530.8h3.4v1.9h-3.4zM104.4 530.8h3.4v1.9h-3.4zM89.4 532.3h1.9v1.9h-1.9zM102.9 532.3h1.9v1.9h-1.9zM87.9 533.7h1.9v1.9h-1.9zM96.9 533.7h1.9v1.9h-1.9zM102.9 533.7h1.9v1.9h-1.9zM107.4 533.7h1.9v1.9h-1.9zM98.4 535.2h4.9v1.9h-4.9zM108.9 535.2h3.4v1.9h-3.4zM99.9 536.6h1.9v1.9h-1.9zM108.9 536.6h3.4v1.9h-3.4zM90.9 539.5h1.9v1.9h-1.9zM108.9 539.5h3.4v1.9h-3.4zM90.9 541h1.9v1.9h-1.9zM108.9 541h3.4v1.9h-3.4zM90.9 542.4h1.9v1.9h-1.9zM108.9 542.4h3.4v1.9h-3.4z"/><path fill="#a00" d="M90.9 514.8h4.9v1.9h-4.9zM108.9 514.8h3.4v1.9h-3.4zM90.9 516.2h4.9v1.9h-4.9zM108.9 516.2h3.4v1.9h-3.4zM98.4 517.7h1.9v1.9h-1.9zM108.9 517.7h3.4v1.9h-3.4zM93.9 519.2h3.4v1.9h-3.4zM98.4 519.2h1.9v1.9h-1.9zM104.4 519.2h1.9v1.9h-1.9zM108.9 519.2h3.4v1.9h-3.4zM95.4 520.6h1.9v1.9h-1.9zM98.4 520.6h1.9v1.9h-1.9zM102.9 520.6h3.4v1.9h-3.4zM108.9 520.6h3.4v1.9h-3.4zM96.9 522.1h1.9v1.9h-1.9zM96.9 523.5h3.4v1.9h-3.4zM93.9 532.3h1.9v1.9h-1.9zM105.9 532.3h1.9v1.9h-1.9zM93.9 533.7h3.4v1.9h-3.4zM105.9 533.7h1.9v1.9h-1.9zM84.9 535.2h3.4v1.9h-3.4zM93.9 535.2h1.9v1.9h-1.9zM104.4 535.2h3.4v1.9h-3.4zM84.9 536.6h3.4v1.9h-3.4zM104.4 536.6h1.9v1.9h-1.9zM84.9 538.1h3.4v1.9h-3.4zM96.9 538.1h1.9v1.9h-1.9zM102.9 538.1h3.4v1.9h-3.4zM84.9 539.5h3.4v1.9h-3.4zM96.9 539.5h4.9v1.9h-4.9zM84.9 541h3.4v1.9h-3.4zM93.9 541h1.9v1.9h-1.9zM96.9 541h6.4v1.9h-6.4zM105.9 541h1.9v1.9h-1.9zM84.9 542.4h3.4v1.9h-3.4zM93.9 542.4h1.9v1.9h-1.9zM96.9 542.4h6.4v1.9h-6.4zM105.9 542.4h1.9v1.9h-1.9z"/><path fill="#900" d="M95.4 514.8h4.9v1.9h-4.9zM95.4 516.2h4.9v1.9h-4.9zM95.4 517.7h3.4v1.9h-3.4zM96.9 519.2h1.9v1.9h-1.9zM96.9 520.6h1.9v1.9h-1.9zM98.4 522.1h1.9v1.9h-1.9zM95.4 535.2h1.9v1.9h-1.9zM93.9 536.6h3.4v1.9h-3.4zM93.9 538.1h3.4v1.9h-3.4zM93.9 539.5h3.4v1.9h-3.4zM102.9 539.5h3.4v1.9h-3.4zM95.4 541h1.9v1.9h-1.9zM102.9 541h3.4v1.9h-3.4zM95.4 542.4h1.9v1.9h-1.9zM102.9 542.4h3.4v1.9h-3.4z"/><path fill="#d00" d="M101.4 514.8h1.9v1.9h-1.9zM105.9 514.8h1.9v1.9h-1.9zM101.4 516.2h1.9v1.9h-1.9zM105.9 516.2h1.9v1.9h-1.9zM92.4 522.1h1.9v1.9h-1.9zM105.9 522.1h1.9v1.9h-1.9zM89.4 523.5h1.9v1.9h-1.9zM93.9 523.5h1.9v1.9h-1.9zM104.4 523.5h1.9v1.9h-1.9zM107.4 523.5h1.9v1.9h-1.9zM84.9 525h3.4v1.9h-3.4zM102.9 525h1.9v1.9h-1.9zM87.9 526.4h1.9v1.9h-1.9zM96.9 526.4h1.9v1.9h-1.9zM99.9 526.4h1.9v1.9h-1.9zM108.9 526.4h3.4v1.9h-3.4zM90.9 529.3h1.9v1.9h-1.9zM93.9 529.3h1.9v1.9h-1.9zM105.9 529.3h1.9v1.9h-1.9zM89.4 530.8h1.9v1.9h-1.9zM95.4 530.8h1.9v1.9h-1.9zM102.9 530.8h1.9v1.9h-1.9zM84.9 532.3h4.9v1.9h-4.9zM107.4 532.3h1.9v1.9h-1.9zM98.4 533.7h4.9v1.9h-4.9z"/><path fill="#e00" d="M90.9 523.5h3.4v1.9h-3.4zM105.9 523.5h1.9v1.9h-1.9zM89.4 525h1.9v1.9h-1.9zM95.4 525h1.9v1.9h-1.9zM104.4 525h1.9v1.9h-1.9zM107.4 525h1.9v1.9h-1.9zM84.9 526.4h3.4v1.9h-3.4zM101.4 526.4h1.9v1.9h-1.9zM84.9 527.9h4.9v1.9h-4.9zM92.4 527.9h1.9v1.9h-1.9zM98.4 527.9h1.9v1.9h-1.9zM104.4 527.9h1.9v1.9h-1.9zM108.9 527.9h3.4v1.9h-3.4zM89.4 529.3h1.9v1.9h-1.9zM84.9 530.8h4.9v1.9h-4.9zM107.4 530.8h1.9v1.9h-1.9zM96.9 532.3h3.4v1.9h-3.4zM108.9 533.7h3.4v1.9h-3.4z"/><path fill="#f10" d="M90.9 525h3.4v1.9h-3.4zM105.9 525h1.9v1.9h-1.9zM90.9 526.4h6.4v1.9h-6.4zM105.9 526.4h3.4v1.9h-3.4zM89.4 527.9h1.9v1.9h-1.9zM95.4 527.9h1.9v1.9h-1.9zM99.9 527.9h1.9v1.9h-1.9zM107.4 527.9h1.9v1.9h-1.9zM96.9 529.3h1.9v1.9h-1.9zM101.4 529.3h1.9v1.9h-1.9zM107.4 529.3h4.9v1.9h-4.9zM98.4 530.8h4.9v1.9h-4.9zM108.9 530.8h3.4v1.9h-3.4z"/><path fill="#f00" d="M93.9 525h1.9v1.9h-1.9zM89.4 526.4h1.9v1.9h-1.9zM102.9 526.4h3.4v1.9h-3.4zM90.9 527.9h1.9v1.9h-1.9zM93.9 527.9h1.9v1.9h-1.9zM96.9 527.9h1.9v1.9h-1.9zM101.4 527.9h3.4v1.9h-3.4zM105.9 527.9h1.9v1.9h-1.9zM84.9 529.3h4.9v1.9h-4.9zM95.4 529.3h1.9v1.9h-1.9zM98.4 529.3h1.9v1.9h-1.9zM102.9 529.3h1.9v1.9h-1.9zM96.9 530.8h1.9v1.9h-1.9zM99.9 532.3h3.4v1.9h-3.4zM108.9 532.3h3.4v1.9h-3.4z"/><path fill="#f20" d="M99.9 529.3h1.9v1.9h-1.9z"/></g></g></g><rect x="109.5" y="495.5" width="89" height="89" fill="#fff" stroke="#5a5a5a" stroke-width="1.2"/><g clip-path="url(#c17)"><g filter="url(#bl0_6)"><g shape-rendering="crispEdges"><path fill="#b00" d="M112.7 540.9h4.9v1.9h-4.9zM124.7 540.9h3.4v1.9h-3.4zM112.7 542.4h4.9v1.9h-4.9zM124.7 542.4h3.4v1.9h-3.4zM112.7 543.9h4.9v1.9h-4.9zM124.7 543.9h3.4v1.9h-3.4zM112.7 545.4h4.9v1.9h-4.9zM124.7 545.4h3.4v1.9h-3.4zM115.7 546.9h3.4v1.9h-3.4zM121.7 546.9h1.9v1.9h-1.9zM124.7 546.9h3.4v1.9h-3.4zM118.7 548.3h1.9v1.9h-1.9zM124.7 548.3h3.4v1.9h-3.4zM112.7 549.8h3.4v1.9h-3.4zM120.2 549.8h1.9v1.9h-1.9zM120.2 551.3h1.9v1.9h-1.9zM115.7 558.7h1.9v1.9h-1.9zM121.7 558.7h1.9v1.9h-1.9zM112.7 561.6h3.4v1.9h-3.4zM124.7 561.6h3.4v1.9h-3.4zM112.7 563.1h3.4v1.9h-3.4zM120.2 563.1h1.9v1.9h-1.9zM112.7 564.6h3.4v1.9h-3.4zM118.7 566.1h1.9v1.9h-1.9zM124.7 566.1h3.4v1.9h-3.4zM118.7 567.5h1.9v1.9h-1.9zM123.2 567.5h4.9v1.9h-4.9zM118.7 569h1.9v1.9h-1.9zM123.2 569h4.9v1.9h-4.9z"/><path fill="#900" d="M117.2 540.9h3.4v1.9h-3.4zM117.2 542.4h3.4v1.9h-3.4zM118.7 543.9h1.9v1.9h-1.9zM123.2 560.2h1.9v1.9h-1.9zM115.7 561.6h3.4v1.9h-3.4zM115.7 563.1h3.4v1.9h-3.4zM121.7 563.1h1.9v1.9h-1.9zM115.7 564.6h1.9v1.9h-1.9zM121.7 564.6h1.9v1.9h-1.9zM115.7 566.1h1.9v1.9h-1.9zM121.7 566.1h1.9v1.9h-1.9zM115.7 567.5h1.9v1.9h-1.9zM121.7 567.5h1.9v1.9h-1.9zM115.7 569h1.9v1.9h-1.9zM121.7 569h1.9v1.9h-1.9z"/><path fill="#a00" d="M120.2 540.9h3.4v1.9h-3.4zM120.2 542.4h3.4v1.9h-3.4zM117.2 543.9h1.9v1.9h-1.9zM120.2 543.9h3.4v1.9h-3.4zM117.2 545.4h6.4v1.9h-6.4zM112.7 546.9h3.4v1.9h-3.4zM118.7 546.9h3.4v1.9h-3.4zM112.7 548.3h3.4v1.9h-3.4zM120.2 548.3h1.9v1.9h-1.9zM117.2 558.7h1.9v1.9h-1.9zM123.2 558.7h1.9v1.9h-1.9zM115.7 560.2h3.4v1.9h-3.4zM121.7 560.2h1.9v1.9h-1.9zM121.7 561.6h3.4v1.9h-3.4zM123.2 563.1h4.9v1.9h-4.9zM117.2 564.6h1.9v1.9h-1.9zM120.2 564.6h1.9v1.9h-1.9zM123.2 564.6h4.9v1.9h-4.9zM112.7 566.1h3.4v1.9h-3.4zM117.2 566.1h1.9v1.9h-1.9zM120.2 566.1h1.9v1.9h-1.9zM123.2 566.1h1.9v1.9h-1.9zM112.7 567.5h3.4v1.9h-3.4zM117.2 567.5h1.9v1.9h-1.9zM120.2 567.5h1.9v1.9h-1.9zM112.7 569h3.4v1.9h-3.4zM117.2 569h1.9v1.9h-1.9zM120.2 569h1.9v1.9h-1.9z"/><path fill="#c00" d="M123.2 540.9h1.9v1.9h-1.9zM123.2 542.4h1.9v1.9h-1.9zM123.2 543.9h1.9v1.9h-1.9zM123.2 545.4h1.9v1.9h-1.9zM123.2 546.9h1.9v1.9h-1.9zM115.7 548.3h1.9v1.9h-1.9zM118.7 549.8h1.9v1.9h-1.9zM124.7 549.8h3.4v1.9h-3.4zM112.7 551.3h3.4v1.9h-3.4zM117.2 557.2h1.9v1.9h-1.9zM118.7 561.6h1.9v1.9h-1.9zM118.7 563.1h1.9v1.9h-1.9zM118.7 564.6h1.9v1.9h-1.9z"/><path fill="#e00" d="M117.2 548.3h1.9v1.9h-1.9z"/><path fill="#d00" d="M121.7 548.3h3.4v1.9h-3.4zM115.7 549.8h1.9v1.9h-1.9zM118.7 551.3h1.9v1.9h-1.9zM124.7 551.3h3.4v1.9h-3.4zM120.2 552.8h1.9v1.9h-1.9zM115.7 557.2h1.9v1.9h-1.9zM121.7 557.2h3.4v1.9h-3.4zM112.7 560.2h3.4v1.9h-3.4zM118.7 560.2h1.9v1.9h-1.9zM124.7 560.2h3.4v1.9h-3.4zM120.2 561.6h1.9v1.9h-1.9z"/><path fill="#f10" d="M117.2 549.8h1.9v1.9h-1.9zM121.7 549.8h3.4v1.9h-3.4zM115.7 551.3h1.9v1.9h-1.9zM121.7 555.7h1.9v1.9h-1.9zM112.7 558.7h3.4v1.9h-3.4zM124.7 558.7h3.4v1.9h-3.4zM120.2 560.2h1.9v1.9h-1.9z"/><path fill="#f40" d="M117.2 551.3h1.9v1.9h-1.9zM115.7 552.8h1.9v1.9h-1.9zM115.7 554.2h3.4v1.9h-3.4zM121.7 554.2h1.9v1.9h-1.9zM124.7 554.2h3.4v1.9h-3.4zM112.7 555.7h3.4v1.9h-3.4zM118.7 555.7h1.9v1.9h-1.9zM112.7 557.2h3.4v1.9h-3.4zM118.7 557.2h1.9v1.9h-1.9zM124.7 557.2h3.4v1.9h-3.4zM120.2 558.7h1.9v1.9h-1.9z"/><path fill="#f30" d="M121.7 551.3h3.4v1.9h-3.4zM120.2 555.7h1.9v1.9h-1.9z"/><path fill="#f00" d="M112.7 552.8h3.4v1.9h-3.4zM118.7 552.8h1.9v1.9h-1.9zM124.7 552.8h3.4v1.9h-3.4zM120.2 554.2h1.9v1.9h-1.9zM117.2 555.7h1.9v1.9h-1.9z"/><path fill="#f60" d="M117.2 552.8h1.9v1.9h-1.9zM124.7 555.7h3.4v1.9h-3.4z"/><path fill="#f50" d="M121.7 552.8h3.4v1.9h-3.4zM123.2 554.2h1.9v1.9h-1.9zM120.2 557.2h1.9v1.9h-1.9z"/><path fill="#f20" d="M112.7 554.2h3.4v1.9h-3.4zM118.7 554.2h1.9v1.9h-1.9zM115.7 555.7h1.9v1.9h-1.9zM123.2 555.7h1.9v1.9h-1.9zM118.7 558.7h1.9v1.9h-1.9z"/></g></g></g><rect x="124.5" y="511.5" width="89" height="88" fill="#fff" stroke="#5a5a5a" stroke-width="1.2"/><g clip-path="url(#c18)"><g filter="url(#bl0_55)"><g shape-rendering="crispEdges"><path fill="#c00" d="M127.3 555.7h2.4v1.4h-2.4zM139.3 555.7h1.4v1.4h-1.4zM143.2 555.7h1.4v1.4h-1.4zM127.3 556.7h2.4v1.4h-2.4zM139.3 556.7h1.4v1.4h-1.4zM143.2 556.7h1.4v1.4h-1.4zM127.3 557.7h2.4v1.4h-2.4zM139.3 557.7h1.4v1.4h-1.4zM142.2 557.7h1.4v1.4h-1.4zM127.3 558.7h2.4v1.4h-2.4zM140.3 558.7h2.4v1.4h-2.4zM127.3 559.7h2.4v1.4h-2.4zM149.2 573.5h3.4v1.4h-3.4zM147.2 574.4h1.4v1.4h-1.4zM151.2 574.4h3.4v1.4h-3.4zM146.2 575.4h1.4v1.4h-1.4zM151.2 575.4h3.4v1.4h-3.4zM129.3 576.4h1.4v1.4h-1.4zM151.2 576.4h2.4v1.4h-2.4zM150.2 577.4h2.4v1.4h-2.4zM130.3 578.4h2.4v1.4h-2.4zM141.3 578.4h1.4v1.4h-1.4zM147.2 578.4h4.4v1.4h-4.4zM130.3 579.4h4.4v1.4h-4.4zM136.3 579.4h1.4v1.4h-1.4zM147.2 579.4h5.4v1.4h-5.4zM127.3 580.3h9.4v1.4h-9.4zM143.2 580.3h10.4v1.4h-10.4zM127.3 581.3h4.4v1.4h-4.4zM141.3 581.3h10.4v1.4h-10.4zM152.2 581.3h1.4v1.4h-1.4zM127.3 582.3h4.4v1.4h-4.4zM141.3 582.3h10.4v1.4h-10.4zM152.2 582.3h1.4v1.4h-1.4z"/><path fill="#d00" d="M129.3 555.7h1.4v1.4h-1.4zM138.3 555.7h1.4v1.4h-1.4zM129.3 556.7h1.4v1.4h-1.4zM138.3 556.7h1.4v1.4h-1.4zM129.3 557.7h1.4v1.4h-1.4zM138.3 557.7h1.4v1.4h-1.4zM143.2 557.7h1.4v1.4h-1.4zM129.3 558.7h2.4v1.4h-2.4zM138.3 558.7h2.4v1.4h-2.4zM142.2 558.7h2.4v1.4h-2.4zM129.3 559.7h3.4v1.4h-3.4zM135.3 559.7h1.4v1.4h-1.4zM139.3 559.7h4.4v1.4h-4.4zM127.3 560.7h7.4v1.4h-7.4zM135.3 560.7h2.4v1.4h-2.4zM140.3 560.7h2.4v1.4h-2.4zM130.3 561.6h4.4v1.4h-4.4zM135.3 561.6h2.4v1.4h-2.4zM137.3 562.6h1.4v1.4h-1.4zM148.2 573.5h1.4v1.4h-1.4zM152.2 573.5h3.4v1.4h-3.4zM154.2 574.4h1.4v1.4h-1.4zM127.3 575.4h2.4v1.4h-2.4zM154.2 575.4h1.4v1.4h-1.4zM127.3 576.4h2.4v1.4h-2.4zM153.2 576.4h1.4v1.4h-1.4zM127.3 577.4h4.4v1.4h-4.4zM143.2 577.4h1.4v1.4h-1.4zM152.2 577.4h2.4v1.4h-2.4zM127.3 578.4h3.4v1.4h-3.4zM132.3 578.4h2.4v1.4h-2.4zM140.3 578.4h1.4v1.4h-1.4zM151.2 578.4h3.4v1.4h-3.4zM127.3 579.4h3.4v1.4h-3.4zM134.3 579.4h2.4v1.4h-2.4zM152.2 579.4h3.4v1.4h-3.4zM153.2 580.3h2.4v1.4h-2.4zM153.2 581.3h1.4v1.4h-1.4zM153.2 582.3h1.4v1.4h-1.4z"/><path fill="#e00" d="M130.3 555.7h1.4v1.4h-1.4zM134.3 555.7h2.4v1.4h-2.4zM137.3 555.7h1.4v1.4h-1.4zM144.2 555.7h1.4v1.4h-1.4zM168.2 555.7h1.4v1.4h-1.4zM130.3 556.7h1.4v1.4h-1.4zM134.3 556.7h2.4v1.4h-2.4zM137.3 556.7h1.4v1.4h-1.4zM144.2 556.7h1.4v1.4h-1.4zM168.2 556.7h1.4v1.4h-1.4zM130.3 557.7h2.4v1.4h-2.4zM135.3 557.7h3.4v1.4h-3.4zM144.2 557.7h1.4v1.4h-1.4zM167.2 557.7h3.4v1.4h-3.4zM131.3 558.7h7.4v1.4h-7.4zM144.2 558.7h1.4v1.4h-1.4zM166.2 558.7h4.4v1.4h-4.4zM132.3 559.7h3.4v1.4h-3.4zM136.3 559.7h3.4v1.4h-3.4zM143.2 559.7h1.4v1.4h-1.4zM166.2 559.7h4.4v1.4h-4.4zM134.3 560.7h1.4v1.4h-1.4zM137.3 560.7h3.4v1.4h-3.4zM142.2 560.7h1.4v1.4h-1.4zM165.2 560.7h5.4v1.4h-5.4zM129.3 561.6h1.4v1.4h-1.4zM134.3 561.6h1.4v1.4h-1.4zM137.3 561.6h5.4v1.4h-5.4zM131.3 562.6h6.4v1.4h-6.4zM138.3 562.6h2.4v1.4h-2.4zM132.3 563.6h7.4v1.4h-7.4zM134.3 564.6h5.4v1.4h-5.4zM136.3 565.6h3.4v1.4h-3.4zM150.2 572.5h1.4v1.4h-1.4zM147.2 573.5h1.4v1.4h-1.4zM155.2 573.5h1.4v1.4h-1.4zM155.2 574.4h1.4v1.4h-1.4zM145.2 575.4h1.4v1.4h-1.4zM155.2 575.4h2.4v1.4h-2.4zM130.3 576.4h1.4v1.4h-1.4zM144.2 576.4h1.4v1.4h-1.4zM154.2 576.4h4.4v1.4h-4.4zM131.3 577.4h1.4v1.4h-1.4zM154.2 577.4h5.4v1.4h-5.4zM137.3 578.4h3.4v1.4h-3.4zM154.2 578.4h6.4v1.4h-6.4zM155.2 579.4h4.4v1.4h-4.4zM155.2 580.3h4.4v1.4h-4.4zM154.2 581.3h5.4v1.4h-5.4zM154.2 582.3h5.4v1.4h-5.4z"/><path fill="#f00" d="M131.3 555.7h3.4v1.4h-3.4zM136.3 555.7h1.4v1.4h-1.4zM145.2 555.7h4.4v1.4h-4.4zM166.2 555.7h2.4v1.4h-2.4zM169.1 555.7h1.4v1.4h-1.4zM131.3 556.7h3.4v1.4h-3.4zM136.3 556.7h1.4v1.4h-1.4zM145.2 556.7h4.4v1.4h-4.4zM166.2 556.7h2.4v1.4h-2.4zM169.1 556.7h1.4v1.4h-1.4zM132.3 557.7h3.4v1.4h-3.4zM145.2 557.7h4.4v1.4h-4.4zM166.2 557.7h1.4v1.4h-1.4zM170.1 557.7h1.4v1.4h-1.4zM145.2 558.7h2.4v1.4h-2.4zM165.2 558.7h1.4v1.4h-1.4zM170.1 558.7h1.4v1.4h-1.4zM144.2 559.7h1.4v1.4h-1.4zM164.2 559.7h2.4v1.4h-2.4zM170.1 559.7h1.4v1.4h-1.4zM143.2 560.7h1.4v1.4h-1.4zM164.2 560.7h1.4v1.4h-1.4zM170.1 560.7h1.4v1.4h-1.4zM127.3 561.6h2.4v1.4h-2.4zM142.2 561.6h1.4v1.4h-1.4zM164.2 561.6h8.4v1.4h-8.4zM130.3 562.6h1.4v1.4h-1.4zM140.3 562.6h2.4v1.4h-2.4zM165.2 562.6h2.4v1.4h-2.4zM168.2 562.6h3.4v1.4h-3.4zM139.3 563.6h2.4v1.4h-2.4zM165.2 563.6h2.4v1.4h-2.4zM133.3 564.6h1.4v1.4h-1.4zM139.3 564.6h1.4v1.4h-1.4zM165.2 564.6h2.4v1.4h-2.4zM135.3 565.6h1.4v1.4h-1.4zM139.3 565.6h1.4v1.4h-1.4zM137.3 566.6h1.4v1.4h-1.4zM148.2 572.5h2.4v1.4h-2.4zM151.2 572.5h1.4v1.4h-1.4zM153.2 572.5h2.4v1.4h-2.4zM127.3 574.4h2.4v1.4h-2.4zM146.2 574.4h1.4v1.4h-1.4zM129.3 575.4h1.4v1.4h-1.4zM142.2 577.4h1.4v1.4h-1.4zM159.2 577.4h1.4v1.4h-1.4zM134.3 578.4h3.4v1.4h-3.4zM160.2 578.4h1.4v1.4h-1.4zM159.2 579.4h2.4v1.4h-2.4zM159.2 580.3h2.4v1.4h-2.4zM159.2 581.3h2.4v1.4h-2.4zM159.2 582.3h2.4v1.4h-2.4z"/><path fill="#b00" d="M140.3 555.7h3.4v1.4h-3.4zM140.3 556.7h3.4v1.4h-3.4zM140.3 557.7h2.4v1.4h-2.4zM148.2 574.4h3.4v1.4h-3.4zM150.2 575.4h1.4v1.4h-1.4zM145.2 576.4h1.4v1.4h-1.4zM148.2 576.4h3.4v1.4h-3.4zM144.2 577.4h6.4v1.4h-6.4zM142.2 578.4h5.4v1.4h-5.4zM137.3 579.4h10.4v1.4h-10.4zM136.3 580.3h7.4v1.4h-7.4zM131.3 581.3h10.4v1.4h-10.4zM151.2 581.3h1.4v1.4h-1.4zM131.3 582.3h10.4v1.4h-10.4zM151.2 582.3h1.4v1.4h-1.4z"/><path fill="#f10" d="M149.2 555.7h2.4v1.4h-2.4zM165.2 555.7h1.4v1.4h-1.4zM170.1 555.7h2.4v1.4h-2.4zM149.2 556.7h2.4v1.4h-2.4zM165.2 556.7h1.4v1.4h-1.4zM170.1 556.7h2.4v1.4h-2.4zM149.2 557.7h1.4v1.4h-1.4zM165.2 557.7h1.4v1.4h-1.4zM171.1 557.7h1.4v1.4h-1.4zM147.2 558.7h2.4v1.4h-2.4zM164.2 558.7h1.4v1.4h-1.4zM171.1 558.7h1.4v1.4h-1.4zM145.2 559.7h3.4v1.4h-3.4zM163.2 559.7h1.4v1.4h-1.4zM171.1 559.7h3.4v1.4h-3.4zM181.1 559.7h2.4v1.4h-2.4zM144.2 560.7h2.4v1.4h-2.4zM163.2 560.7h1.4v1.4h-1.4zM171.1 560.7h3.4v1.4h-3.4zM163.2 561.6h1.4v1.4h-1.4zM172.1 561.6h1.4v1.4h-1.4zM129.3 562.6h1.4v1.4h-1.4zM163.2 562.6h2.4v1.4h-2.4zM167.2 562.6h1.4v1.4h-1.4zM131.3 563.6h1.4v1.4h-1.4zM141.3 563.6h1.4v1.4h-1.4zM163.2 563.6h2.4v1.4h-2.4zM167.2 563.6h3.4v1.4h-3.4zM132.3 564.6h1.4v1.4h-1.4zM140.3 564.6h1.4v1.4h-1.4zM163.2 564.6h2.4v1.4h-2.4zM167.2 564.6h2.4v1.4h-2.4zM134.3 565.6h1.4v1.4h-1.4zM164.2 565.6h2.4v1.4h-2.4zM136.3 566.6h1.4v1.4h-1.4zM138.3 566.6h1.4v1.4h-1.4zM147.2 572.5h1.4v1.4h-1.4zM152.2 572.5h1.4v1.4h-1.4zM155.2 572.5h1.4v1.4h-1.4zM127.3 573.5h2.4v1.4h-2.4zM156.2 574.4h1.4v1.4h-1.4zM144.2 575.4h1.4v1.4h-1.4zM131.3 576.4h1.4v1.4h-1.4zM143.2 576.4h1.4v1.4h-1.4zM132.3 577.4h1.4v1.4h-1.4zM160.2 577.4h1.4v1.4h-1.4zM161.2 579.4h1.4v1.4h-1.4zM161.2 580.3h1.4v1.4h-1.4z"/><path fill="#f20" d="M151.2 555.7h7.4v1.4h-7.4zM164.2 555.7h1.4v1.4h-1.4zM172.1 555.7h3.4v1.4h-3.4zM176.1 555.7h1.4v1.4h-1.4zM181.1 555.7h7.4v1.4h-7.4zM151.2 556.7h7.4v1.4h-7.4zM164.2 556.7h1.4v1.4h-1.4zM172.1 556.7h3.4v1.4h-3.4zM176.1 556.7h1.4v1.4h-1.4zM181.1 556.7h7.4v1.4h-7.4zM150.2 557.7h6.4v1.4h-6.4zM164.2 557.7h1.4v1.4h-1.4zM172.1 557.7h5.4v1.4h-5.4zM180.1 557.7h4.4v1.4h-4.4zM149.2 558.7h7.4v1.4h-7.4zM163.2 558.7h1.4v1.4h-1.4zM172.1 558.7h12.4v1.4h-12.4zM148.2 559.7h2.4v1.4h-2.4zM174.1 559.7h2.4v1.4h-2.4zM180.1 559.7h1.4v1.4h-1.4zM183.1 559.7h1.4v1.4h-1.4zM146.2 560.7h1.4v1.4h-1.4zM160.2 560.7h1.4v1.4h-1.4zM162.2 560.7h1.4v1.4h-1.4zM182.1 560.7h2.4v1.4h-2.4zM143.2 561.6h1.4v1.4h-1.4zM160.2 561.6h3.4v1.4h-3.4zM173.1 561.6h1.4v1.4h-1.4zM183.1 561.6h2.4v1.4h-2.4zM142.2 562.6h1.4v1.4h-1.4zM162.2 562.6h1.4v1.4h-1.4zM171.1 562.6h1.4v1.4h-1.4zM142.2 563.6h1.4v1.4h-1.4zM162.2 563.6h1.4v1.4h-1.4zM141.3 564.6h1.4v1.4h-1.4zM163.2 565.6h1.4v1.4h-1.4zM139.3 566.6h1.4v1.4h-1.4zM150.2 571.5h1.4v1.4h-1.4zM146.2 573.5h1.4v1.4h-1.4zM145.2 574.4h1.4v1.4h-1.4zM130.3 575.4h1.4v1.4h-1.4zM157.2 575.4h1.4v1.4h-1.4zM158.2 576.4h1.4v1.4h-1.4zM133.3 577.4h1.4v1.4h-1.4zM141.3 577.4h1.4v1.4h-1.4zM161.2 577.4h1.4v1.4h-1.4zM161.2 578.4h1.4v1.4h-1.4zM162.2 580.3h1.4v1.4h-1.4zM161.2 581.3h2.4v1.4h-2.4zM161.2 582.3h2.4v1.4h-2.4z"/><path fill="#f30" d="M158.2 555.7h2.4v1.4h-2.4zM163.2 555.7h1.4v1.4h-1.4zM175.1 555.7h1.4v1.4h-1.4zM177.1 555.7h4.4v1.4h-4.4zM188.1 555.7h3.4v1.4h-3.4zM193.1 555.7h2.4v1.4h-2.4zM158.2 556.7h2.4v1.4h-2.4zM163.2 556.7h1.4v1.4h-1.4zM175.1 556.7h1.4v1.4h-1.4zM177.1 556.7h4.4v1.4h-4.4zM188.1 556.7h3.4v1.4h-3.4zM193.1 556.7h2.4v1.4h-2.4zM156.2 557.7h4.4v1.4h-4.4zM163.2 557.7h1.4v1.4h-1.4zM177.1 557.7h3.4v1.4h-3.4zM184.1 557.7h10.4v1.4h-10.4zM156.2 558.7h4.4v1.4h-4.4zM162.2 558.7h1.4v1.4h-1.4zM184.1 558.7h2.4v1.4h-2.4zM189.1 558.7h5.4v1.4h-5.4zM150.2 559.7h7.4v1.4h-7.4zM158.2 559.7h5.4v1.4h-5.4zM176.1 559.7h4.4v1.4h-4.4zM184.1 559.7h1.4v1.4h-1.4zM190.1 559.7h2.4v1.4h-2.4zM147.2 560.7h1.4v1.4h-1.4zM159.2 560.7h1.4v1.4h-1.4zM161.2 560.7h1.4v1.4h-1.4zM174.1 560.7h1.4v1.4h-1.4zM184.1 560.7h2.4v1.4h-2.4zM144.2 561.6h2.4v1.4h-2.4zM185.1 561.6h2.4v1.4h-2.4zM127.3 562.6h2.4v1.4h-2.4zM143.2 562.6h1.4v1.4h-1.4zM161.2 562.6h1.4v1.4h-1.4zM172.1 562.6h1.4v1.4h-1.4zM185.1 562.6h4.4v1.4h-4.4zM161.2 563.6h1.4v1.4h-1.4zM170.1 563.6h1.4v1.4h-1.4zM162.2 564.6h1.4v1.4h-1.4zM169.1 564.6h1.4v1.4h-1.4zM133.3 565.6h1.4v1.4h-1.4zM140.3 565.6h1.4v1.4h-1.4zM166.2 565.6h2.4v1.4h-2.4zM135.3 566.6h1.4v1.4h-1.4zM164.2 566.6h1.4v1.4h-1.4zM147.2 571.5h3.4v1.4h-3.4zM151.2 571.5h1.4v1.4h-1.4zM154.2 571.5h1.4v1.4h-1.4zM127.3 572.5h2.4v1.4h-2.4zM146.2 572.5h1.4v1.4h-1.4zM156.2 573.5h1.4v1.4h-1.4zM129.3 574.4h1.4v1.4h-1.4zM142.2 576.4h1.4v1.4h-1.4zM159.2 576.4h1.4v1.4h-1.4zM134.3 577.4h3.4v1.4h-3.4zM162.2 577.4h1.4v1.4h-1.4zM162.2 578.4h1.4v1.4h-1.4zM162.2 579.4h1.4v1.4h-1.4zM163.2 580.3h1.4v1.4h-1.4zM163.2 581.3h1.4v1.4h-1.4zM163.2 582.3h1.4v1.4h-1.4z"/><path fill="#f40" d="M160.2 555.7h3.4v1.4h-3.4zM191.1 555.7h2.4v1.4h-2.4zM195.1 555.7h8.4v1.4h-8.4zM205 555.7h5.4v1.4h-5.4zM160.2 556.7h3.4v1.4h-3.4zM191.1 556.7h2.4v1.4h-2.4zM195.1 556.7h8.4v1.4h-8.4zM205 556.7h5.4v1.4h-5.4zM160.2 557.7h3.4v1.4h-3.4zM194.1 557.7h4.4v1.4h-4.4zM206 557.7h4.4v1.4h-4.4zM160.2 558.7h2.4v1.4h-2.4zM186.1 558.7h3.4v1.4h-3.4zM194.1 558.7h4.4v1.4h-4.4zM207 558.7h1.4v1.4h-1.4zM157.2 559.7h1.4v1.4h-1.4zM185.1 559.7h5.4v1.4h-5.4zM192.1 559.7h5.4v1.4h-5.4zM148.2 560.7h2.4v1.4h-2.4zM158.2 560.7h1.4v1.4h-1.4zM181.1 560.7h1.4v1.4h-1.4zM186.1 560.7h8.4v1.4h-8.4zM146.2 561.6h1.4v1.4h-1.4zM159.2 561.6h1.4v1.4h-1.4zM187.1 561.6h6.4v1.4h-6.4zM160.2 562.6h1.4v1.4h-1.4zM184.1 562.6h1.4v1.4h-1.4zM189.1 562.6h1.4v1.4h-1.4zM130.3 563.6h1.4v1.4h-1.4zM143.2 563.6h1.4v1.4h-1.4zM188.1 563.6h2.4v1.4h-2.4zM131.3 564.6h1.4v1.4h-1.4zM142.2 564.6h1.4v1.4h-1.4zM162.2 565.6h1.4v1.4h-1.4zM168.2 565.6h1.4v1.4h-1.4zM134.3 566.6h1.4v1.4h-1.4zM163.2 566.6h1.4v1.4h-1.4zM137.3 567.5h2.4v1.4h-2.4zM152.2 571.5h2.4v1.4h-2.4zM144.2 574.4h1.4v1.4h-1.4zM143.2 575.4h1.4v1.4h-1.4zM158.2 575.4h1.4v1.4h-1.4zM132.3 576.4h1.4v1.4h-1.4zM160.2 576.4h1.4v1.4h-1.4zM137.3 577.4h1.4v1.4h-1.4zM140.3 577.4h1.4v1.4h-1.4zM164.2 580.3h1.4v1.4h-1.4zM164.2 581.3h2.4v1.4h-2.4zM164.2 582.3h2.4v1.4h-2.4z"/><path fill="#f50" d="M203 555.7h2.4v1.4h-2.4zM203 556.7h2.4v1.4h-2.4zM198 557.7h8.4v1.4h-8.4zM198 558.7h9.4v1.4h-9.4zM208 558.7h2.4v1.4h-2.4zM197 559.7h4.4v1.4h-4.4zM206 559.7h4.4v1.4h-4.4zM150.2 560.7h2.4v1.4h-2.4zM194.1 560.7h6.4v1.4h-6.4zM182.1 561.6h1.4v1.4h-1.4zM193.1 561.6h6.4v1.4h-6.4zM144.2 562.6h1.4v1.4h-1.4zM190.1 562.6h4.4v1.4h-4.4zM129.3 563.6h1.4v1.4h-1.4zM171.1 563.6h1.4v1.4h-1.4zM187.1 563.6h1.4v1.4h-1.4zM190.1 563.6h3.4v1.4h-3.4zM143.2 564.6h1.4v1.4h-1.4zM161.2 564.6h1.4v1.4h-1.4zM132.3 565.6h1.4v1.4h-1.4zM141.3 565.6h1.4v1.4h-1.4zM140.3 566.6h1.4v1.4h-1.4zM165.2 566.6h1.4v1.4h-1.4zM136.3 567.5h1.4v1.4h-1.4zM139.3 567.5h1.4v1.4h-1.4zM155.2 571.5h1.4v1.4h-1.4zM156.2 572.5h1.4v1.4h-1.4zM129.3 573.5h1.4v1.4h-1.4zM145.2 573.5h1.4v1.4h-1.4zM157.2 574.4h1.4v1.4h-1.4zM131.3 575.4h1.4v1.4h-1.4zM161.2 576.4h1.4v1.4h-1.4zM138.3 577.4h2.4v1.4h-2.4zM163.2 578.4h1.4v1.4h-1.4zM163.2 579.4h1.4v1.4h-1.4zM165.2 580.3h2.4v1.4h-2.4zM166.2 581.3h1.4v1.4h-1.4zM166.2 582.3h1.4v1.4h-1.4z"/><path fill="#f60" d="M201 559.7h1.4v1.4h-1.4zM203 559.7h3.4v1.4h-3.4zM152.2 560.7h6.4v1.4h-6.4zM175.1 560.7h1.4v1.4h-1.4zM180.1 560.7h1.4v1.4h-1.4zM208 560.7h2.4v1.4h-2.4zM147.2 561.6h1.4v1.4h-1.4zM174.1 561.6h1.4v1.4h-1.4zM159.2 562.6h1.4v1.4h-1.4zM173.1 562.6h1.4v1.4h-1.4zM183.1 562.6h1.4v1.4h-1.4zM194.1 562.6h4.4v1.4h-4.4zM127.3 563.6h2.4v1.4h-2.4zM160.2 563.6h1.4v1.4h-1.4zM186.1 563.6h1.4v1.4h-1.4zM193.1 563.6h4.4v1.4h-4.4zM193.1 564.6h2.4v1.4h-2.4zM142.2 565.6h1.4v1.4h-1.4zM133.3 566.6h1.4v1.4h-1.4zM135.3 567.5h1.4v1.4h-1.4zM148.2 570.5h1.4v1.4h-1.4zM150.2 570.5h1.4v1.4h-1.4zM127.3 571.5h2.4v1.4h-2.4zM146.2 571.5h1.4v1.4h-1.4zM129.3 572.5h1.4v1.4h-1.4zM130.3 574.4h1.4v1.4h-1.4zM133.3 576.4h1.4v1.4h-1.4zM141.3 576.4h1.4v1.4h-1.4zM162.2 576.4h1.4v1.4h-1.4zM163.2 577.4h1.4v1.4h-1.4zM164.2 579.4h3.4v1.4h-3.4zM167.2 580.3h1.4v1.4h-1.4zM167.2 581.3h1.4v1.4h-1.4zM167.2 582.3h1.4v1.4h-1.4z"/><path fill="#f70" d="M202 559.7h1.4v1.4h-1.4zM200 560.7h1.4v1.4h-1.4zM207 560.7h1.4v1.4h-1.4zM148.2 561.6h1.4v1.4h-1.4zM150.2 561.6h1.4v1.4h-1.4zM158.2 561.6h1.4v1.4h-1.4zM199 561.6h1.4v1.4h-1.4zM145.2 562.6h1.4v1.4h-1.4zM198 562.6h1.4v1.4h-1.4zM144.2 563.6h1.4v1.4h-1.4zM130.3 564.6h1.4v1.4h-1.4zM192.1 564.6h1.4v1.4h-1.4zM166.2 566.6h1.4v1.4h-1.4zM147.2 570.5h1.4v1.4h-1.4zM149.2 570.5h1.4v1.4h-1.4zM151.2 570.5h1.4v1.4h-1.4zM153.2 570.5h2.4v1.4h-2.4zM157.2 573.5h1.4v1.4h-1.4zM143.2 574.4h1.4v1.4h-1.4zM158.2 574.4h1.4v1.4h-1.4zM132.3 575.4h1.4v1.4h-1.4zM142.2 575.4h1.4v1.4h-1.4zM159.2 575.4h1.4v1.4h-1.4zM134.3 576.4h3.4v1.4h-3.4zM164.2 578.4h1.4v1.4h-1.4zM167.2 579.4h2.4v1.4h-2.4zM168.2 580.3h1.4v1.4h-1.4zM168.2 581.3h1.4v1.4h-1.4zM168.2 582.3h1.4v1.4h-1.4z"/><path fill="#f90" d="M176.1 560.7h1.4v1.4h-1.4zM152.2 561.6h2.4v1.4h-2.4zM155.2 561.6h3.4v1.4h-3.4zM146.2 562.6h1.4v1.4h-1.4zM158.2 562.6h1.4v1.4h-1.4zM174.1 562.6h1.4v1.4h-1.4zM159.2 563.6h1.4v1.4h-1.4zM185.1 563.6h1.4v1.4h-1.4zM160.2 564.6h1.4v1.4h-1.4zM189.1 564.6h2.4v1.4h-2.4zM196 564.6h1.4v1.4h-1.4zM130.3 565.6h1.4v1.4h-1.4zM161.2 565.6h1.4v1.4h-1.4zM193.1 565.6h1.4v1.4h-1.4zM132.3 566.6h1.4v1.4h-1.4zM142.2 566.6h1.4v1.4h-1.4zM168.2 566.6h1.4v1.4h-1.4zM133.3 567.5h1.4v1.4h-1.4zM136.3 568.5h1.4v1.4h-1.4zM127.3 570.5h2.4v1.4h-2.4zM155.2 570.5h1.4v1.4h-1.4zM156.2 571.5h1.4v1.4h-1.4zM130.3 572.5h1.4v1.4h-1.4zM157.2 572.5h1.4v1.4h-1.4zM158.2 573.5h1.4v1.4h-1.4zM134.3 574.4h1.4v1.4h-1.4zM159.2 574.4h1.4v1.4h-1.4zM135.3 575.4h1.4v1.4h-1.4zM141.3 575.4h1.4v1.4h-1.4zM138.3 576.4h2.4v1.4h-2.4zM166.2 578.4h4.4v1.4h-4.4zM170.1 580.3h1.4v1.4h-1.4zM170.1 581.3h1.4v1.4h-1.4zM170.1 582.3h1.4v1.4h-1.4z"/><path fill="#fa0" d="M177.1 560.7h2.4v1.4h-2.4zM201 560.7h1.4v1.4h-1.4zM206 560.7h1.4v1.4h-1.4zM154.2 561.6h1.4v1.4h-1.4zM147.2 562.6h1.4v1.4h-1.4zM182.1 562.6h1.4v1.4h-1.4zM158.2 563.6h1.4v1.4h-1.4zM188.1 564.6h1.4v1.4h-1.4zM129.3 565.6h1.4v1.4h-1.4zM192.1 565.6h1.4v1.4h-1.4zM194.1 565.6h1.4v1.4h-1.4zM131.3 566.6h1.4v1.4h-1.4zM164.2 567.5h1.4v1.4h-1.4zM135.3 568.5h1.4v1.4h-1.4zM140.3 568.5h1.4v1.4h-1.4zM148.2 569.5h1.4v1.4h-1.4zM146.2 570.5h1.4v1.4h-1.4zM145.2 571.5h1.4v1.4h-1.4zM158.2 572.5h1.4v1.4h-1.4zM131.3 573.5h1.4v1.4h-1.4zM132.3 574.4h2.4v1.4h-2.4zM136.3 575.4h1.4v1.4h-1.4zM161.2 575.4h1.4v1.4h-1.4zM165.2 577.4h1.4v1.4h-1.4zM170.1 578.4h1.4v1.4h-1.4zM170.1 579.4h1.4v1.4h-1.4zM171.1 580.3h1.4v1.4h-1.4zM171.1 581.3h1.4v1.4h-1.4zM171.1 582.3h1.4v1.4h-1.4z"/><path fill="#f80" d="M179.1 560.7h1.4v1.4h-1.4zM149.2 561.6h1.4v1.4h-1.4zM151.2 561.6h1.4v1.4h-1.4zM181.1 561.6h1.4v1.4h-1.4zM208 561.6h2.4v1.4h-2.4zM172.1 563.6h1.4v1.4h-1.4zM197 563.6h1.4v1.4h-1.4zM127.3 564.6h3.4v1.4h-3.4zM144.2 564.6h1.4v1.4h-1.4zM170.1 564.6h1.4v1.4h-1.4zM191.1 564.6h1.4v1.4h-1.4zM195.1 564.6h1.4v1.4h-1.4zM131.3 565.6h1.4v1.4h-1.4zM143.2 565.6h1.4v1.4h-1.4zM169.1 565.6h1.4v1.4h-1.4zM141.3 566.6h1.4v1.4h-1.4zM162.2 566.6h1.4v1.4h-1.4zM167.2 566.6h1.4v1.4h-1.4zM134.3 567.5h1.4v1.4h-1.4zM140.3 567.5h1.4v1.4h-1.4zM137.3 568.5h3.4v1.4h-3.4zM152.2 570.5h1.4v1.4h-1.4zM129.3 571.5h1.4v1.4h-1.4zM145.2 572.5h1.4v1.4h-1.4zM130.3 573.5h1.4v1.4h-1.4zM144.2 573.5h1.4v1.4h-1.4zM131.3 574.4h1.4v1.4h-1.4zM133.3 575.4h2.4v1.4h-2.4zM160.2 575.4h1.4v1.4h-1.4zM137.3 576.4h1.4v1.4h-1.4zM140.3 576.4h1.4v1.4h-1.4zM163.2 576.4h1.4v1.4h-1.4zM164.2 577.4h1.4v1.4h-1.4zM165.2 578.4h1.4v1.4h-1.4zM169.1 579.4h1.4v1.4h-1.4zM169.1 580.3h1.4v1.4h-1.4zM169.1 581.3h1.4v1.4h-1.4zM169.1 582.3h1.4v1.4h-1.4z"/><path fill="#fd0" d="M202 560.7h1.4v1.4h-1.4zM205 560.7h1.4v1.4h-1.4zM149.2 562.6h3.4v1.4h-3.4zM153.2 562.6h2.4v1.4h-2.4zM175.1 562.6h1.4v1.4h-1.4zM184.1 563.6h1.4v1.4h-1.4zM145.2 564.6h1.4v1.4h-1.4zM172.1 564.6h1.4v1.4h-1.4zM161.2 566.6h1.4v1.4h-1.4zM127.3 567.5h4.4v1.4h-4.4zM142.2 567.5h1.4v1.4h-1.4zM167.2 567.5h1.4v1.4h-1.4zM127.3 568.5h6.4v1.4h-6.4zM141.3 568.5h1.4v1.4h-1.4zM129.3 569.5h2.4v1.4h-2.4zM136.3 569.5h1.4v1.4h-1.4zM140.3 569.5h1.4v1.4h-1.4zM130.3 570.5h1.4v1.4h-1.4zM156.2 570.5h1.4v1.4h-1.4zM157.2 571.5h1.4v1.4h-1.4zM132.3 572.5h1.4v1.4h-1.4zM136.3 574.4h1.4v1.4h-1.4zM140.3 574.4h2.4v1.4h-2.4zM160.2 574.4h1.4v1.4h-1.4zM170.1 576.4h3.4v1.4h-3.4zM172.1 577.4h1.4v1.4h-1.4zM172.1 578.4h1.4v1.4h-1.4zM173.1 580.3h1.4v1.4h-1.4zM173.1 581.3h1.4v1.4h-1.4zM173.1 582.3h1.4v1.4h-1.4z"/><path fill="#ff0" d="M203 560.7h2.4v1.4h-2.4zM176.1 561.6h1.4v1.4h-1.4zM180.1 562.6h1.4v1.4h-1.4zM147.2 563.6h1.4v1.4h-1.4zM155.2 563.6h1.4v1.4h-1.4zM157.2 564.6h1.4v1.4h-1.4zM196 565.6h1.4v1.4h-1.4zM193.1 566.6h2.4v1.4h-2.4zM143.2 567.5h1.4v1.4h-1.4zM150.2 567.5h1.4v1.4h-1.4zM162.2 567.5h1.4v1.4h-1.4zM148.2 568.5h1.4v1.4h-1.4zM152.2 568.5h2.4v1.4h-2.4zM132.3 570.5h6.4v1.4h-6.4zM139.3 570.5h1.4v1.4h-1.4zM133.3 571.5h1.4v1.4h-1.4zM144.2 571.5h1.4v1.4h-1.4zM159.2 571.5h1.4v1.4h-1.4zM134.3 572.5h1.4v1.4h-1.4zM138.3 572.5h1.4v1.4h-1.4zM140.3 572.5h2.4v1.4h-2.4zM143.2 572.5h1.4v1.4h-1.4zM136.3 573.5h6.4v1.4h-6.4zM160.2 573.5h1.4v1.4h-1.4zM162.2 574.4h2.4v1.4h-2.4zM173.1 574.4h1.4v1.4h-1.4zM164.2 575.4h1.4v1.4h-1.4zM174.1 575.4h1.4v1.4h-1.4zM169.1 576.4h1.4v1.4h-1.4zM174.1 576.4h1.4v1.4h-1.4zM174.1 577.4h2.4v1.4h-2.4zM175.1 578.4h1.4v1.4h-1.4zM175.1 579.4h1.4v1.4h-1.4zM174.1 580.3h1.4v1.4h-1.4zM174.1 581.3h1.4v1.4h-1.4zM174.1 582.3h1.4v1.4h-1.4z"/><path fill="#fc0" d="M175.1 561.6h1.4v1.4h-1.4zM200 561.6h1.4v1.4h-1.4zM207 561.6h1.4v1.4h-1.4zM148.2 562.6h1.4v1.4h-1.4zM155.2 562.6h2.4v1.4h-2.4zM181.1 562.6h1.4v1.4h-1.4zM199 562.6h1.4v1.4h-1.4zM208 562.6h2.4v1.4h-2.4zM157.2 563.6h1.4v1.4h-1.4zM173.1 563.6h2.4v1.4h-2.4zM198 563.6h1.4v1.4h-1.4zM159.2 564.6h1.4v1.4h-1.4zM187.1 564.6h1.4v1.4h-1.4zM197 564.6h1.4v1.4h-1.4zM191.1 565.6h1.4v1.4h-1.4zM195.1 565.6h1.4v1.4h-1.4zM127.3 566.6h3.4v1.4h-3.4zM131.3 567.5h1.4v1.4h-1.4zM166.2 567.5h1.4v1.4h-1.4zM133.3 568.5h2.4v1.4h-2.4zM127.3 569.5h2.4v1.4h-2.4zM137.3 569.5h2.4v1.4h-2.4zM147.2 569.5h1.4v1.4h-1.4zM131.3 571.5h1.4v1.4h-1.4zM144.2 572.5h1.4v1.4h-1.4zM159.2 572.5h1.4v1.4h-1.4zM132.3 573.5h3.4v1.4h-3.4zM138.3 575.4h2.4v1.4h-2.4zM163.2 575.4h1.4v1.4h-1.4zM166.2 577.4h3.4v1.4h-3.4zM171.1 577.4h1.4v1.4h-1.4zM171.1 578.4h1.4v1.4h-1.4zM172.1 579.4h1.4v1.4h-1.4zM172.1 580.3h1.4v1.4h-1.4zM172.1 581.3h1.4v1.4h-1.4zM172.1 582.3h1.4v1.4h-1.4z"/><path fill="#ef1" d="M177.1 561.6h2.4v1.4h-2.4zM201 561.6h1.4v1.4h-1.4zM200 562.6h1.4v1.4h-1.4zM148.2 563.6h1.4v1.4h-1.4zM154.2 563.6h1.4v1.4h-1.4zM183.1 563.6h1.4v1.4h-1.4zM146.2 564.6h1.4v1.4h-1.4zM156.2 564.6h1.4v1.4h-1.4zM185.1 564.6h1.4v1.4h-1.4zM171.1 565.6h1.4v1.4h-1.4zM145.2 566.6h1.4v1.4h-1.4zM192.1 566.6h1.4v1.4h-1.4zM151.2 567.5h1.4v1.4h-1.4zM168.2 567.5h1.4v1.4h-1.4zM142.2 568.5h1.4v1.4h-1.4zM147.2 568.5h1.4v1.4h-1.4zM154.2 568.5h1.4v1.4h-1.4zM141.3 569.5h1.4v1.4h-1.4zM140.3 570.5h1.4v1.4h-1.4zM134.3 571.5h8.4v1.4h-8.4zM135.3 572.5h3.4v1.4h-3.4zM139.3 572.5h1.4v1.4h-1.4zM142.2 572.5h1.4v1.4h-1.4zM160.2 572.5h1.4v1.4h-1.4zM161.2 574.4h1.4v1.4h-1.4zM172.1 574.4h1.4v1.4h-1.4zM174.1 574.4h2.4v1.4h-2.4zM170.1 575.4h1.4v1.4h-1.4zM175.1 575.4h1.4v1.4h-1.4zM168.2 576.4h1.4v1.4h-1.4zM175.1 576.4h1.4v1.4h-1.4zM175.1 580.3h1.4v1.4h-1.4zM175.1 581.3h1.4v1.4h-1.4zM175.1 582.3h1.4v1.4h-1.4z"/><path fill="#fe0" d="M179.1 561.6h1.4v1.4h-1.4zM152.2 562.6h1.4v1.4h-1.4zM146.2 563.6h1.4v1.4h-1.4zM156.2 563.6h1.4v1.4h-1.4zM175.1 563.6h1.4v1.4h-1.4zM158.2 564.6h1.4v1.4h-1.4zM186.1 564.6h1.4v1.4h-1.4zM145.2 565.6h1.4v1.4h-1.4zM160.2 565.6h1.4v1.4h-1.4zM170.1 565.6h1.4v1.4h-1.4zM190.1 565.6h1.4v1.4h-1.4zM144.2 566.6h1.4v1.4h-1.4zM169.1 566.6h1.4v1.4h-1.4zM149.2 568.5h3.4v1.4h-3.4zM131.3 569.5h5.4v1.4h-5.4zM146.2 569.5h1.4v1.4h-1.4zM155.2 569.5h1.4v1.4h-1.4zM131.3 570.5h1.4v1.4h-1.4zM138.3 570.5h1.4v1.4h-1.4zM145.2 570.5h1.4v1.4h-1.4zM132.3 571.5h1.4v1.4h-1.4zM158.2 571.5h1.4v1.4h-1.4zM133.3 572.5h1.4v1.4h-1.4zM135.3 573.5h1.4v1.4h-1.4zM142.2 573.5h1.4v1.4h-1.4zM137.3 574.4h3.4v1.4h-3.4zM171.1 575.4h3.4v1.4h-3.4zM165.2 576.4h1.4v1.4h-1.4zM173.1 576.4h1.4v1.4h-1.4zM173.1 577.4h1.4v1.4h-1.4zM173.1 578.4h2.4v1.4h-2.4zM173.1 579.4h2.4v1.4h-2.4z"/><path fill="#fb0" d="M180.1 561.6h1.4v1.4h-1.4zM157.2 562.6h1.4v1.4h-1.4zM145.2 563.6h1.4v1.4h-1.4zM171.1 564.6h1.4v1.4h-1.4zM127.3 565.6h2.4v1.4h-2.4zM144.2 565.6h1.4v1.4h-1.4zM130.3 566.6h1.4v1.4h-1.4zM143.2 566.6h1.4v1.4h-1.4zM132.3 567.5h1.4v1.4h-1.4zM141.3 567.5h1.4v1.4h-1.4zM163.2 567.5h1.4v1.4h-1.4zM165.2 567.5h1.4v1.4h-1.4zM139.3 569.5h1.4v1.4h-1.4zM149.2 569.5h6.4v1.4h-6.4zM129.3 570.5h1.4v1.4h-1.4zM130.3 571.5h1.4v1.4h-1.4zM131.3 572.5h1.4v1.4h-1.4zM143.2 573.5h1.4v1.4h-1.4zM159.2 573.5h1.4v1.4h-1.4zM135.3 574.4h1.4v1.4h-1.4zM142.2 574.4h1.4v1.4h-1.4zM137.3 575.4h1.4v1.4h-1.4zM140.3 575.4h1.4v1.4h-1.4zM162.2 575.4h1.4v1.4h-1.4zM164.2 576.4h1.4v1.4h-1.4zM169.1 577.4h2.4v1.4h-2.4zM171.1 579.4h1.4v1.4h-1.4z"/><path fill="#af5" d="M202 561.6h1.4v1.4h-1.4zM205 561.6h1.4v1.4h-1.4zM149.2 564.6h4.4v1.4h-4.4zM184.1 564.6h1.4v1.4h-1.4zM148.2 565.6h6.4v1.4h-6.4zM173.1 565.6h1.4v1.4h-1.4zM197 565.6h1.4v1.4h-1.4zM148.2 566.6h1.4v1.4h-1.4zM152.2 566.6h5.4v1.4h-5.4zM190.1 566.6h1.4v1.4h-1.4zM154.2 567.5h1.4v1.4h-1.4zM169.1 567.5h1.4v1.4h-1.4zM163.2 568.5h1.4v1.4h-1.4zM176.1 571.5h2.4v1.4h-2.4zM179.1 573.5h1.4v1.4h-1.4zM170.1 574.4h1.4v1.4h-1.4zM180.1 574.4h1.4v1.4h-1.4zM165.2 575.4h1.4v1.4h-1.4zM181.1 575.4h1.4v1.4h-1.4zM180.1 576.4h2.4v1.4h-2.4zM180.1 577.4h1.4v1.4h-1.4zM180.1 578.4h1.4v1.4h-1.4zM179.1 579.4h2.4v1.4h-2.4zM179.1 580.3h1.4v1.4h-1.4zM180.1 581.3h1.4v1.4h-1.4zM180.1 582.3h1.4v1.4h-1.4z"/><path fill="#7f8" d="M203 561.6h2.4v1.4h-2.4zM183.1 564.6h1.4v1.4h-1.4zM174.1 565.6h1.4v1.4h-1.4zM188.1 565.6h1.4v1.4h-1.4zM158.2 567.5h2.4v1.4h-2.4zM192.1 567.5h1.4v1.4h-1.4zM194.1 567.5h1.4v1.4h-1.4zM158.2 568.5h1.4v1.4h-1.4zM158.2 569.5h1.4v1.4h-1.4zM160.2 570.5h1.4v1.4h-1.4zM162.2 571.5h1.4v1.4h-1.4zM163.2 572.5h1.4v1.4h-1.4zM180.1 572.5h1.4v1.4h-1.4zM166.2 575.4h2.4v1.4h-2.4zM184.1 576.4h1.4v1.4h-1.4zM183.1 577.4h2.4v1.4h-2.4zM183.1 578.4h1.4v1.4h-1.4zM183.1 579.4h1.4v1.4h-1.4zM183.1 580.3h1.4v1.4h-1.4zM182.1 581.3h2.4v1.4h-2.4zM182.1 582.3h2.4v1.4h-2.4z"/><path fill="#df2" d="M206 561.6h1.4v1.4h-1.4zM176.1 562.6h1.4v1.4h-1.4zM179.1 562.6h1.4v1.4h-1.4zM207 562.6h1.4v1.4h-1.4zM153.2 563.6h1.4v1.4h-1.4zM181.1 563.6h2.4v1.4h-2.4zM155.2 564.6h1.4v1.4h-1.4zM173.1 564.6h1.4v1.4h-1.4zM146.2 565.6h1.4v1.4h-1.4zM172.1 565.6h1.4v1.4h-1.4zM191.1 566.6h1.4v1.4h-1.4zM144.2 567.5h1.4v1.4h-1.4zM149.2 567.5h1.4v1.4h-1.4zM142.2 569.5h1.4v1.4h-1.4zM145.2 569.5h1.4v1.4h-1.4zM141.3 570.5h4.4v1.4h-4.4zM157.2 570.5h1.4v1.4h-1.4zM142.2 571.5h2.4v1.4h-2.4zM173.1 573.5h5.4v1.4h-5.4zM171.1 574.4h1.4v1.4h-1.4zM176.1 574.4h2.4v1.4h-2.4zM176.1 575.4h1.4v1.4h-1.4zM166.2 576.4h2.4v1.4h-2.4zM176.1 576.4h1.4v1.4h-1.4zM176.1 577.4h1.4v1.4h-1.4zM176.1 578.4h1.4v1.4h-1.4zM176.1 579.4h1.4v1.4h-1.4zM176.1 580.3h1.4v1.4h-1.4zM176.1 581.3h2.4v1.4h-2.4zM176.1 582.3h2.4v1.4h-2.4z"/><path fill="#bf4" d="M177.1 562.6h2.4v1.4h-2.4zM180.1 563.6h1.4v1.4h-1.4zM148.2 564.6h1.4v1.4h-1.4zM153.2 564.6h1.4v1.4h-1.4zM198 564.6h1.4v1.4h-1.4zM147.2 565.6h1.4v1.4h-1.4zM154.2 565.6h2.4v1.4h-2.4zM158.2 565.6h1.4v1.4h-1.4zM189.1 565.6h1.4v1.4h-1.4zM147.2 566.6h1.4v1.4h-1.4zM149.2 566.6h1.4v1.4h-1.4zM160.2 566.6h1.4v1.4h-1.4zM170.1 566.6h1.4v1.4h-1.4zM147.2 567.5h1.4v1.4h-1.4zM153.2 567.5h1.4v1.4h-1.4zM155.2 568.5h1.4v1.4h-1.4zM166.2 568.5h2.4v1.4h-2.4zM158.2 570.5h1.4v1.4h-1.4zM161.2 572.5h1.4v1.4h-1.4zM173.1 572.5h3.4v1.4h-3.4zM178.1 572.5h1.4v1.4h-1.4zM163.2 573.5h1.4v1.4h-1.4zM164.2 574.4h1.4v1.4h-1.4zM179.1 574.4h1.4v1.4h-1.4zM169.1 575.4h1.4v1.4h-1.4zM179.1 575.4h2.4v1.4h-2.4zM179.1 576.4h1.4v1.4h-1.4zM179.1 577.4h1.4v1.4h-1.4zM178.1 578.4h2.4v1.4h-2.4zM178.1 579.4h1.4v1.4h-1.4zM178.1 580.3h1.4v1.4h-1.4zM179.1 581.3h1.4v1.4h-1.4zM179.1 582.3h1.4v1.4h-1.4z"/><path fill="#9f6" d="M201 562.6h1.4v1.4h-1.4zM206 562.6h1.4v1.4h-1.4zM177.1 563.6h3.4v1.4h-3.4zM200 563.6h1.4v1.4h-1.4zM157.2 566.6h1.4v1.4h-1.4zM155.2 567.5h2.4v1.4h-2.4zM156.2 568.5h1.4v1.4h-1.4zM168.2 568.5h1.4v1.4h-1.4zM157.2 569.5h1.4v1.4h-1.4zM159.2 570.5h1.4v1.4h-1.4zM161.2 571.5h1.4v1.4h-1.4zM174.1 571.5h2.4v1.4h-2.4zM178.1 571.5h1.4v1.4h-1.4zM162.2 572.5h1.4v1.4h-1.4zM172.1 572.5h1.4v1.4h-1.4zM179.1 572.5h1.4v1.4h-1.4zM171.1 573.5h1.4v1.4h-1.4zM180.1 573.5h1.4v1.4h-1.4zM181.1 574.4h1.4v1.4h-1.4zM182.1 575.4h1.4v1.4h-1.4zM182.1 576.4h1.4v1.4h-1.4zM181.1 577.4h2.4v1.4h-2.4zM181.1 578.4h1.4v1.4h-1.4zM181.1 579.4h1.4v1.4h-1.4zM180.1 580.3h2.4v1.4h-2.4z"/><path fill="#5fa" d="M202 562.6h1.4v1.4h-1.4zM205 562.6h1.4v1.4h-1.4zM201 563.6h1.4v1.4h-1.4zM179.1 564.6h4.4v1.4h-4.4zM199 564.6h1.4v1.4h-1.4zM185.1 565.6h1.4v1.4h-1.4zM170.1 567.5h1.4v1.4h-1.4zM169.1 568.5h1.4v1.4h-1.4zM161.2 569.5h4.4v1.4h-4.4zM168.2 569.5h1.4v1.4h-1.4zM162.2 570.5h1.4v1.4h-1.4zM174.1 570.5h1.4v1.4h-1.4zM163.2 571.5h1.4v1.4h-1.4zM172.1 571.5h1.4v1.4h-1.4zM164.2 572.5h1.4v1.4h-1.4zM171.1 572.5h1.4v1.4h-1.4zM181.1 572.5h1.4v1.4h-1.4zM165.2 574.4h1.4v1.4h-1.4zM183.1 574.4h1.4v1.4h-1.4zM185.1 575.4h1.4v1.4h-1.4zM185.1 579.4h1.4v1.4h-1.4zM185.1 580.3h1.4v1.4h-1.4zM185.1 581.3h1.4v1.4h-1.4zM185.1 582.3h1.4v1.4h-1.4z"/><path fill="#3fc" d="M203 562.6h2.4v1.4h-2.4zM200 564.6h1.4v1.4h-1.4zM174.1 566.6h1.4v1.4h-1.4zM197 566.6h1.4v1.4h-1.4zM171.1 567.5h2.4v1.4h-2.4zM190.1 567.5h1.4v1.4h-1.4zM165.2 570.5h3.4v1.4h-3.4zM165.2 571.5h1.4v1.4h-1.4zM180.1 571.5h1.4v1.4h-1.4zM165.2 572.5h1.4v1.4h-1.4zM170.1 572.5h1.4v1.4h-1.4zM182.1 572.5h1.4v1.4h-1.4zM169.1 573.5h1.4v1.4h-1.4zM183.1 573.5h1.4v1.4h-1.4zM202 573.5h1.4v1.4h-1.4zM204 573.5h3.4v1.4h-3.4zM166.2 574.4h3.4v1.4h-3.4zM184.1 574.4h1.4v1.4h-1.4zM206 574.4h2.4v1.4h-2.4zM199 575.4h1.4v1.4h-1.4zM206 575.4h4.4v1.4h-4.4zM199 576.4h1.4v1.4h-1.4zM206 576.4h4.4v1.4h-4.4zM187.1 577.4h1.4v1.4h-1.4zM198 577.4h4.4v1.4h-4.4zM203 577.4h2.4v1.4h-2.4zM207 577.4h3.4v1.4h-3.4zM187.1 578.4h2.4v1.4h-2.4zM196 578.4h2.4v1.4h-2.4zM203 578.4h3.4v1.4h-3.4zM207 578.4h1.4v1.4h-1.4zM188.1 579.4h1.4v1.4h-1.4zM204 579.4h2.4v1.4h-2.4zM207 579.4h3.4v1.4h-3.4zM188.1 580.3h1.4v1.4h-1.4zM205 580.3h2.4v1.4h-2.4zM208 580.3h2.4v1.4h-2.4zM187.1 581.3h2.4v1.4h-2.4zM205 581.3h3.4v1.4h-3.4zM187.1 582.3h2.4v1.4h-2.4zM205 582.3h3.4v1.4h-3.4z"/><path fill="#cf3" d="M149.2 563.6h4.4v1.4h-4.4zM176.1 563.6h1.4v1.4h-1.4zM199 563.6h1.4v1.4h-1.4zM208 563.6h2.4v1.4h-2.4zM147.2 564.6h1.4v1.4h-1.4zM154.2 564.6h1.4v1.4h-1.4zM174.1 564.6h2.4v1.4h-2.4zM156.2 565.6h2.4v1.4h-2.4zM159.2 565.6h1.4v1.4h-1.4zM146.2 566.6h1.4v1.4h-1.4zM150.2 566.6h2.4v1.4h-2.4zM195.1 566.6h1.4v1.4h-1.4zM145.2 567.5h2.4v1.4h-2.4zM148.2 567.5h1.4v1.4h-1.4zM152.2 567.5h1.4v1.4h-1.4zM161.2 567.5h1.4v1.4h-1.4zM143.2 568.5h4.4v1.4h-4.4zM164.2 568.5h2.4v1.4h-2.4zM143.2 569.5h2.4v1.4h-2.4zM156.2 569.5h1.4v1.4h-1.4zM160.2 571.5h1.4v1.4h-1.4zM176.1 572.5h2.4v1.4h-2.4zM161.2 573.5h2.4v1.4h-2.4zM172.1 573.5h1.4v1.4h-1.4zM178.1 573.5h1.4v1.4h-1.4zM178.1 574.4h1.4v1.4h-1.4zM177.1 575.4h2.4v1.4h-2.4zM177.1 576.4h2.4v1.4h-2.4zM177.1 577.4h2.4v1.4h-2.4zM177.1 578.4h1.4v1.4h-1.4zM177.1 579.4h1.4v1.4h-1.4zM177.1 580.3h1.4v1.4h-1.4zM178.1 581.3h1.4v1.4h-1.4zM178.1 582.3h1.4v1.4h-1.4z"/><path fill="#2fd" d="M202 563.6h1.4v1.4h-1.4zM205 563.6h1.4v1.4h-1.4zM177.1 565.6h1.4v1.4h-1.4zM198 565.6h1.4v1.4h-1.4zM175.1 566.6h1.4v1.4h-1.4zM189.1 566.6h1.4v1.4h-1.4zM170.1 568.5h1.4v1.4h-1.4zM169.1 569.5h1.4v1.4h-1.4zM174.1 569.5h3.4v1.4h-3.4zM168.2 570.5h2.4v1.4h-2.4zM172.1 570.5h1.4v1.4h-1.4zM179.1 570.5h1.4v1.4h-1.4zM166.2 571.5h3.4v1.4h-3.4zM171.1 571.5h1.4v1.4h-1.4zM166.2 572.5h4.4v1.4h-4.4zM166.2 573.5h3.4v1.4h-3.4zM201 573.5h1.4v1.4h-1.4zM207 573.5h1.4v1.4h-1.4zM185.1 574.4h1.4v1.4h-1.4zM200 574.4h1.4v1.4h-1.4zM208 574.4h2.4v1.4h-2.4zM186.1 575.4h1.4v1.4h-1.4zM187.1 576.4h1.4v1.4h-1.4zM198 576.4h1.4v1.4h-1.4zM188.1 577.4h1.4v1.4h-1.4zM195.1 577.4h3.4v1.4h-3.4zM189.1 578.4h1.4v1.4h-1.4zM194.1 578.4h2.4v1.4h-2.4zM198 578.4h5.4v1.4h-5.4zM208 578.4h2.4v1.4h-2.4zM189.1 579.4h2.4v1.4h-2.4zM193.1 579.4h11.4v1.4h-11.4zM189.1 580.3h2.4v1.4h-2.4zM193.1 580.3h12.4v1.4h-12.4zM189.1 581.3h2.4v1.4h-2.4zM196 581.3h5.4v1.4h-5.4zM203 581.3h2.4v1.4h-2.4zM189.1 582.3h2.4v1.4h-2.4zM196 582.3h5.4v1.4h-5.4zM203 582.3h2.4v1.4h-2.4z"/><path fill="#0ff" d="M203 563.6h2.4v1.4h-2.4zM180.1 565.6h1.4v1.4h-1.4zM176.1 566.6h1.4v1.4h-1.4zM174.1 567.5h2.4v1.4h-2.4zM189.1 567.5h1.4v1.4h-1.4zM171.1 568.5h2.4v1.4h-2.4zM174.1 568.5h2.4v1.4h-2.4zM192.1 568.5h1.4v1.4h-1.4zM171.1 569.5h2.4v1.4h-2.4zM178.1 569.5h1.4v1.4h-1.4zM180.1 570.5h1.4v1.4h-1.4zM182.1 571.5h1.4v1.4h-1.4zM202 572.5h1.4v1.4h-1.4zM207 572.5h1.4v1.4h-1.4zM184.1 573.5h1.4v1.4h-1.4zM200 573.5h1.4v1.4h-1.4zM208 573.5h2.4v1.4h-2.4zM198 574.4h1.4v1.4h-1.4zM187.1 575.4h1.4v1.4h-1.4zM188.1 576.4h1.4v1.4h-1.4zM195.1 576.4h3.4v1.4h-3.4zM190.1 577.4h3.4v1.4h-3.4z"/><path fill="#4fb" d="M206 563.6h1.4v1.4h-1.4zM176.1 565.6h1.4v1.4h-1.4zM184.1 565.6h1.4v1.4h-1.4zM195.1 567.5h1.4v1.4h-1.4zM163.2 570.5h2.4v1.4h-2.4zM173.1 570.5h1.4v1.4h-1.4zM178.1 570.5h1.4v1.4h-1.4zM164.2 571.5h1.4v1.4h-1.4zM165.2 573.5h1.4v1.4h-1.4zM203 573.5h1.4v1.4h-1.4zM201 574.4h5.4v1.4h-5.4zM200 575.4h6.4v1.4h-6.4zM186.1 576.4h1.4v1.4h-1.4zM200 576.4h6.4v1.4h-6.4zM186.1 577.4h1.4v1.4h-1.4zM202 577.4h1.4v1.4h-1.4zM205 577.4h2.4v1.4h-2.4zM186.1 578.4h1.4v1.4h-1.4zM206 578.4h1.4v1.4h-1.4zM186.1 579.4h2.4v1.4h-2.4zM206 579.4h1.4v1.4h-1.4zM186.1 580.3h2.4v1.4h-2.4zM207 580.3h1.4v1.4h-1.4zM186.1 581.3h1.4v1.4h-1.4zM208 581.3h2.4v1.4h-2.4zM186.1 582.3h1.4v1.4h-1.4zM208 582.3h2.4v1.4h-2.4z"/><path fill="#8f7" d="M207 563.6h1.4v1.4h-1.4zM176.1 564.6h1.4v1.4h-1.4zM158.2 566.6h2.4v1.4h-2.4zM171.1 566.6h2.4v1.4h-2.4zM196 566.6h1.4v1.4h-1.4zM157.2 567.5h1.4v1.4h-1.4zM160.2 567.5h1.4v1.4h-1.4zM193.1 567.5h1.4v1.4h-1.4zM157.2 568.5h1.4v1.4h-1.4zM162.2 568.5h1.4v1.4h-1.4zM173.1 571.5h1.4v1.4h-1.4zM164.2 573.5h1.4v1.4h-1.4zM181.1 573.5h1.4v1.4h-1.4zM182.1 574.4h1.4v1.4h-1.4zM168.2 575.4h1.4v1.4h-1.4zM183.1 575.4h1.4v1.4h-1.4zM183.1 576.4h1.4v1.4h-1.4zM182.1 578.4h1.4v1.4h-1.4zM182.1 579.4h1.4v1.4h-1.4zM182.1 580.3h1.4v1.4h-1.4zM181.1 581.3h1.4v1.4h-1.4zM181.1 582.3h1.4v1.4h-1.4z"/><path fill="#6f9" d="M177.1 564.6h2.4v1.4h-2.4zM208 564.6h2.4v1.4h-2.4zM175.1 565.6h1.4v1.4h-1.4zM186.1 565.6h2.4v1.4h-2.4zM173.1 566.6h1.4v1.4h-1.4zM191.1 567.5h1.4v1.4h-1.4zM159.2 568.5h3.4v1.4h-3.4zM159.2 569.5h2.4v1.4h-2.4zM165.2 569.5h3.4v1.4h-3.4zM161.2 570.5h1.4v1.4h-1.4zM175.1 570.5h3.4v1.4h-3.4zM179.1 571.5h1.4v1.4h-1.4zM170.1 573.5h1.4v1.4h-1.4zM182.1 573.5h1.4v1.4h-1.4zM169.1 574.4h1.4v1.4h-1.4zM184.1 575.4h1.4v1.4h-1.4zM185.1 576.4h1.4v1.4h-1.4zM185.1 577.4h1.4v1.4h-1.4zM184.1 578.4h2.4v1.4h-2.4zM184.1 579.4h1.4v1.4h-1.4zM184.1 580.3h1.4v1.4h-1.4zM184.1 581.3h1.4v1.4h-1.4zM184.1 582.3h1.4v1.4h-1.4z"/><path fill="#1fe" d="M201 564.6h1.4v1.4h-1.4zM207 564.6h1.4v1.4h-1.4zM178.1 565.6h2.4v1.4h-2.4zM183.1 565.6h1.4v1.4h-1.4zM173.1 567.5h1.4v1.4h-1.4zM173.1 568.5h1.4v1.4h-1.4zM170.1 569.5h1.4v1.4h-1.4zM173.1 569.5h1.4v1.4h-1.4zM177.1 569.5h1.4v1.4h-1.4zM170.1 570.5h2.4v1.4h-2.4zM169.1 571.5h2.4v1.4h-2.4zM181.1 571.5h1.4v1.4h-1.4zM183.1 572.5h1.4v1.4h-1.4zM203 572.5h4.4v1.4h-4.4zM199 574.4h1.4v1.4h-1.4zM198 575.4h1.4v1.4h-1.4zM189.1 577.4h1.4v1.4h-1.4zM194.1 577.4h1.4v1.4h-1.4zM190.1 578.4h4.4v1.4h-4.4zM191.1 579.4h2.4v1.4h-2.4zM191.1 580.3h2.4v1.4h-2.4zM191.1 581.3h5.4v1.4h-5.4zM201 581.3h2.4v1.4h-2.4zM191.1 582.3h5.4v1.4h-5.4zM201 582.3h2.4v1.4h-2.4z"/><path fill="#0ef" d="M202 564.6h1.4v1.4h-1.4zM206 564.6h1.4v1.4h-1.4zM208 565.6h2.4v1.4h-2.4zM177.1 566.6h1.4v1.4h-1.4zM184.1 566.6h5.4v1.4h-5.4zM176.1 567.5h1.4v1.4h-1.4zM196 567.5h1.4v1.4h-1.4zM176.1 568.5h1.4v1.4h-1.4zM189.1 568.5h3.4v1.4h-3.4zM193.1 568.5h1.4v1.4h-1.4zM179.1 569.5h1.4v1.4h-1.4zM183.1 571.5h1.4v1.4h-1.4zM201 572.5h1.4v1.4h-1.4zM199 573.5h1.4v1.4h-1.4zM186.1 574.4h1.4v1.4h-1.4zM197 575.4h1.4v1.4h-1.4zM189.1 576.4h1.4v1.4h-1.4zM194.1 576.4h1.4v1.4h-1.4zM193.1 577.4h1.4v1.4h-1.4z"/><path fill="#0cf" d="M203 564.6h2.4v1.4h-2.4zM199 565.6h4.4v1.4h-4.4zM180.1 566.6h1.4v1.4h-1.4zM183.1 566.6h1.4v1.4h-1.4zM179.1 567.5h1.4v1.4h-1.4zM188.1 567.5h1.4v1.4h-1.4zM178.1 568.5h2.4v1.4h-2.4zM194.1 568.5h1.4v1.4h-1.4zM181.1 569.5h1.4v1.4h-1.4zM188.1 569.5h3.4v1.4h-3.4zM182.1 570.5h1.4v1.4h-1.4zM184.1 571.5h1.4v1.4h-1.4zM202 571.5h3.4v1.4h-3.4zM199 572.5h1.4v1.4h-1.4zM208 572.5h2.4v1.4h-2.4zM187.1 574.4h1.4v1.4h-1.4zM195.1 575.4h2.4v1.4h-2.4zM193.1 576.4h1.4v1.4h-1.4z"/><path fill="#0df" d="M205 564.6h1.4v1.4h-1.4zM181.1 565.6h2.4v1.4h-2.4zM178.1 566.6h2.4v1.4h-2.4zM177.1 567.5h2.4v1.4h-2.4zM177.1 568.5h1.4v1.4h-1.4zM188.1 568.5h1.4v1.4h-1.4zM180.1 569.5h1.4v1.4h-1.4zM181.1 570.5h1.4v1.4h-1.4zM205 571.5h2.4v1.4h-2.4zM184.1 572.5h1.4v1.4h-1.4zM200 572.5h1.4v1.4h-1.4zM185.1 573.5h1.4v1.4h-1.4zM198 573.5h1.4v1.4h-1.4zM197 574.4h1.4v1.4h-1.4zM188.1 575.4h1.4v1.4h-1.4zM190.1 576.4h3.4v1.4h-3.4z"/><path fill="#0bf" d="M203 565.6h1.4v1.4h-1.4zM181.1 566.6h1.4v1.4h-1.4zM180.1 567.5h1.4v1.4h-1.4zM184.1 567.5h4.4v1.4h-4.4zM180.1 568.5h2.4v1.4h-2.4zM187.1 568.5h1.4v1.4h-1.4zM182.1 569.5h1.4v1.4h-1.4zM191.1 569.5h1.4v1.4h-1.4zM183.1 570.5h1.4v1.4h-1.4zM190.1 570.5h1.4v1.4h-1.4zM201 571.5h1.4v1.4h-1.4zM207 571.5h1.4v1.4h-1.4zM185.1 572.5h1.4v1.4h-1.4zM198 572.5h1.4v1.4h-1.4zM186.1 573.5h1.4v1.4h-1.4zM197 573.5h1.4v1.4h-1.4zM189.1 575.4h3.4v1.4h-3.4zM194.1 575.4h1.4v1.4h-1.4z"/><path fill="#09f" d="M204 565.6h1.4v1.4h-1.4zM186.1 569.5h1.4v1.4h-1.4zM185.1 570.5h4.4v1.4h-4.4zM203 570.5h1.4v1.4h-1.4zM186.1 571.5h2.4v1.4h-2.4zM190.1 571.5h1.4v1.4h-1.4zM199 571.5h1.4v1.4h-1.4zM186.1 572.5h1.4v1.4h-1.4zM197 572.5h1.4v1.4h-1.4zM187.1 573.5h1.4v1.4h-1.4zM189.1 574.4h1.4v1.4h-1.4zM193.1 574.4h3.4v1.4h-3.4z"/><path fill="#08f" d="M205 565.6h1.4v1.4h-1.4zM201 566.6h2.4v1.4h-2.4zM208 566.6h2.4v1.4h-2.4zM193.1 569.5h1.4v1.4h-1.4zM201 570.5h2.4v1.4h-2.4zM204 570.5h3.4v1.4h-3.4zM188.1 571.5h2.4v1.4h-2.4zM191.1 571.5h1.4v1.4h-1.4zM198 571.5h1.4v1.4h-1.4zM208 571.5h2.4v1.4h-2.4zM187.1 572.5h3.4v1.4h-3.4zM188.1 573.5h2.4v1.4h-2.4zM196 573.5h1.4v1.4h-1.4zM190.1 574.4h3.4v1.4h-3.4z"/><path fill="#07f" d="M206 565.6h1.4v1.4h-1.4zM199 566.6h2.4v1.4h-2.4zM203 566.6h1.4v1.4h-1.4zM192.1 570.5h1.4v1.4h-1.4zM200 570.5h1.4v1.4h-1.4zM207 570.5h1.4v1.4h-1.4zM197 571.5h1.4v1.4h-1.4zM190.1 572.5h2.4v1.4h-2.4zM196 572.5h1.4v1.4h-1.4zM190.1 573.5h1.4v1.4h-1.4zM193.1 573.5h3.4v1.4h-3.4z"/><path fill="#0af" d="M207 565.6h1.4v1.4h-1.4zM182.1 566.6h1.4v1.4h-1.4zM198 566.6h1.4v1.4h-1.4zM181.1 567.5h3.4v1.4h-3.4zM197 567.5h1.4v1.4h-1.4zM182.1 568.5h5.4v1.4h-5.4zM195.1 568.5h1.4v1.4h-1.4zM183.1 569.5h3.4v1.4h-3.4zM187.1 569.5h1.4v1.4h-1.4zM192.1 569.5h1.4v1.4h-1.4zM184.1 570.5h1.4v1.4h-1.4zM189.1 570.5h1.4v1.4h-1.4zM191.1 570.5h1.4v1.4h-1.4zM185.1 571.5h1.4v1.4h-1.4zM200 571.5h1.4v1.4h-1.4zM188.1 574.4h1.4v1.4h-1.4zM196 574.4h1.4v1.4h-1.4zM192.1 575.4h2.4v1.4h-2.4z"/><path fill="#06f" d="M204 566.6h1.4v1.4h-1.4zM198 567.5h1.4v1.4h-1.4zM196 568.5h1.4v1.4h-1.4zM198 570.5h2.4v1.4h-2.4zM192.1 571.5h1.4v1.4h-1.4zM196 571.5h1.4v1.4h-1.4zM192.1 572.5h1.4v1.4h-1.4zM194.1 572.5h2.4v1.4h-2.4zM191.1 573.5h2.4v1.4h-2.4z"/><path fill="#04f" d="M205 566.6h2.4v1.4h-2.4zM200 567.5h1.4v1.4h-1.4zM203 567.5h2.4v1.4h-2.4zM208 567.5h2.4v1.4h-2.4zM197 568.5h7.4v1.4h-7.4zM195.1 569.5h1.4v1.4h-1.4zM198 569.5h2.4v1.4h-2.4zM205 569.5h2.4v1.4h-2.4zM194.1 570.5h4.4v1.4h-4.4z"/><path fill="#05f" d="M207 566.6h1.4v1.4h-1.4zM199 567.5h1.4v1.4h-1.4zM201 567.5h2.4v1.4h-2.4zM194.1 569.5h1.4v1.4h-1.4zM200 569.5h5.4v1.4h-5.4zM193.1 570.5h1.4v1.4h-1.4zM208 570.5h2.4v1.4h-2.4zM193.1 571.5h3.4v1.4h-3.4zM193.1 572.5h1.4v1.4h-1.4z"/><path fill="#03f" d="M205 567.5h3.4v1.4h-3.4zM204 568.5h6.4v1.4h-6.4zM196 569.5h2.4v1.4h-2.4zM207 569.5h3.4v1.4h-3.4z"/><path fill="#a00" d="M147.2 575.4h3.4v1.4h-3.4zM146.2 576.4h2.4v1.4h-2.4z"/></g></g></g><circle cx="91.8" cy="476.3" r="2.1" fill="#000"/><circle cx="98.4" cy="483.6" r="2.1" fill="#000"/><circle cx="104.6" cy="490.3" r="2.1" fill="#000"/><path d="M195.3 419.5 L173 467.4 M195.3 419.5 L198.2 490.8" stroke="#000" stroke-width="1.9" stroke-dasharray="2 2.5" fill="none"/><path d="M78.2 469 C74 471 73.2 478 73.2 492 L73.3 522 C73.3 530 72 534 69.8 535 C72 536 73.3 540 73.3 548 L73.2 580 C73.2 592 74 597 78.2 599" fill="none" stroke="#000" stroke-width="1.6"/><rect x="259.9" y="467.6" width="35.4" height="133.4" fill="#00ffff"/><rect x="332.4" y="467.6" width="35.4" height="133.4" fill="#00ffff"/><rect x="405" y="467.6" width="35.8" height="133.4" fill="#00ffff"/><rect x="478.4" y="467.6" width="35.3" height="133.4" fill="#00ffff"/><path d="M213.5 534.5 L254.5 534.5" fill="none" stroke="#1a1a1a" stroke-width="1.2"/><path d="M259.5 534.5 L254 531.6 L254 537.4 Z" fill="#1a1a1a"/><path d="M295.5 534.5 L327.5 534.5" fill="none" stroke="#1a1a1a" stroke-width="1.2"/><path d="M332.5 534.5 L327 531.6 L327 537.4 Z" fill="#1a1a1a"/><path d="M367.5 534.5 L400.5 534.5" fill="none" stroke="#1a1a1a" stroke-width="1.2"/><path d="M405.5 534.5 L400 531.6 L400 537.4 Z" fill="#1a1a1a"/><path d="M440.5 534.5 L473.5 534.5" fill="none" stroke="#1a1a1a" stroke-width="1.2"/><path d="M478.5 534.5 L473 531.6 L473 537.4 Z" fill="#1a1a1a"/><path d="M513.5 534.5 L548.5 534.5" fill="none" stroke="#1a1a1a" stroke-width="1.2"/><path d="M553.5 534.5 L548 531.6 L548 537.4 Z" fill="#1a1a1a"/><rect x="553.5" y="489.5" width="89" height="89" fill="#fff" stroke="#5a5a5a" stroke-width="1.2"/><g clip-path="url(#c19)"><g filter="url(#bl0_55)"><g shape-rendering="crispEdges"><path fill="#f00" d="M556.4 519h4.4v1.4h-4.4zM564.3 519h3.4v1.4h-3.4zM556.4 520h4.4v1.4h-4.4zM564.3 520h3.4v1.4h-3.4zM556.4 521h2.4v1.4h-2.4zM564.3 521h3.4v1.4h-3.4zM558.4 522h1.4v1.4h-1.4zM565.3 522h3.4v1.4h-3.4zM559.4 523h1.4v1.4h-1.4zM566.3 523h2.4v1.4h-2.4zM560.4 524h1.4v1.4h-1.4zM563.3 524h6.3v1.4h-6.3zM561.4 525h1.4v1.4h-1.4zM563.3 525h6.3v1.4h-6.3zM562.4 526h2.4v1.4h-2.4zM565.3 526h8.3v1.4h-8.3zM565.3 527h7.3v1.4h-7.3zM556.4 537h2.4v1.4h-2.4zM559.4 538h1.4v1.4h-1.4zM578.2 538h3.4v1.4h-3.4zM561.4 539h1.4v1.4h-1.4zM577.2 539h1.4v1.4h-1.4zM562.4 540h1.4v1.4h-1.4zM575.2 540h1.4v1.4h-1.4zM587.1 540h1.4v1.4h-1.4zM573.2 541h1.4v1.4h-1.4zM587.1 541h2.4v1.4h-2.4zM564.3 542h1.4v1.4h-1.4zM570.3 542h1.4v1.4h-1.4zM587.1 542h3.4v1.4h-3.4zM566.3 543h2.4v1.4h-2.4zM587.1 543h2.4v1.4h-2.4zM588.1 544h1.4v1.4h-1.4zM587.1 545h2.4v1.4h-2.4zM587.1 546h2.4v1.4h-2.4z"/><path fill="#e00" d="M560.4 519h4.4v1.4h-4.4zM560.4 520h4.4v1.4h-4.4zM558.4 521h6.3v1.4h-6.3zM559.4 522h6.3v1.4h-6.3zM560.4 523h6.3v1.4h-6.3zM561.4 524h2.4v1.4h-2.4zM562.4 525h1.4v1.4h-1.4zM564.3 526h1.4v1.4h-1.4zM556.4 538h3.4v1.4h-3.4zM581.2 538h2.4v1.4h-2.4zM556.4 539h3.4v1.4h-3.4zM560.4 539h1.4v1.4h-1.4zM578.2 539h4.4v1.4h-4.4zM583.1 539h1.4v1.4h-1.4zM556.4 540h3.4v1.4h-3.4zM561.4 540h1.4v1.4h-1.4zM576.2 540h5.4v1.4h-5.4zM584.1 540h3.4v1.4h-3.4zM563.3 541h1.4v1.4h-1.4zM574.2 541h1.4v1.4h-1.4zM583.1 541h4.4v1.4h-4.4zM571.3 542h2.4v1.4h-2.4zM583.1 542h4.4v1.4h-4.4zM565.3 543h1.4v1.4h-1.4zM568.3 543h1.4v1.4h-1.4zM585.1 543h2.4v1.4h-2.4zM586.1 544h2.4v1.4h-2.4zM586.1 545h1.4v1.4h-1.4zM586.1 546h1.4v1.4h-1.4z"/><path fill="#f10" d="M567.3 519h3.4v1.4h-3.4zM573.2 519h10.3v1.4h-10.3zM567.3 520h3.4v1.4h-3.4zM573.2 520h10.3v1.4h-10.3zM567.3 521h2.4v1.4h-2.4zM573.2 521h4.4v1.4h-4.4zM579.2 521h3.4v1.4h-3.4zM568.3 522h2.4v1.4h-2.4zM581.2 522h1.4v1.4h-1.4zM568.3 523h2.4v1.4h-2.4zM559.4 524h1.4v1.4h-1.4zM569.3 524h5.4v1.4h-5.4zM560.4 525h1.4v1.4h-1.4zM569.3 525h5.4v1.4h-5.4zM564.3 527h1.4v1.4h-1.4zM572.3 527h1.4v1.4h-1.4zM566.3 528h2.4v1.4h-2.4zM570.3 528h1.4v1.4h-1.4zM558.4 537h1.4v1.4h-1.4zM581.2 537h2.4v1.4h-2.4zM560.4 538h1.4v1.4h-1.4zM577.2 538h1.4v1.4h-1.4zM576.2 539h1.4v1.4h-1.4zM584.1 539h2.4v1.4h-2.4zM574.2 540h1.4v1.4h-1.4zM589.1 541h1.4v1.4h-1.4zM590.1 542h1.4v1.4h-1.4zM589.1 543h2.4v1.4h-2.4zM589.1 544h2.4v1.4h-2.4zM589.1 545h2.4v1.4h-2.4zM589.1 546h2.4v1.4h-2.4z"/><path fill="#f20" d="M570.3 519h3.4v1.4h-3.4zM583.1 519h7.3v1.4h-7.3zM570.3 520h3.4v1.4h-3.4zM583.1 520h7.3v1.4h-7.3zM569.3 521h4.4v1.4h-4.4zM577.2 521h2.4v1.4h-2.4zM582.2 521h7.3v1.4h-7.3zM556.4 522h2.4v1.4h-2.4zM570.3 522h7.3v1.4h-7.3zM580.2 522h1.4v1.4h-1.4zM582.2 522h7.3v1.4h-7.3zM558.4 523h1.4v1.4h-1.4zM570.3 523h5.4v1.4h-5.4zM581.2 523h7.3v1.4h-7.3zM582.2 524h5.4v1.4h-5.4zM584.1 525h1.4v1.4h-1.4zM561.4 526h1.4v1.4h-1.4zM563.3 527h1.4v1.4h-1.4zM565.3 528h1.4v1.4h-1.4zM568.3 528h2.4v1.4h-2.4zM571.3 528h1.4v1.4h-1.4zM556.4 536h2.4v1.4h-2.4zM559.4 537h1.4v1.4h-1.4zM580.2 537h1.4v1.4h-1.4zM583.1 538h1.4v1.4h-1.4zM562.4 539h1.4v1.4h-1.4zM586.1 539h1.4v1.4h-1.4zM563.3 540h1.4v1.4h-1.4zM573.2 540h1.4v1.4h-1.4zM588.1 540h1.4v1.4h-1.4zM564.3 541h1.4v1.4h-1.4zM572.3 541h1.4v1.4h-1.4zM565.3 542h1.4v1.4h-1.4zM569.3 542h1.4v1.4h-1.4zM591.1 543h1.4v1.4h-1.4zM591.1 544h1.4v1.4h-1.4zM591.1 545h1.4v1.4h-1.4zM591.1 546h1.4v1.4h-1.4z"/><path fill="#f30" d="M590.1 519h3.4v1.4h-3.4zM603 519h6.3v1.4h-6.3zM590.1 520h3.4v1.4h-3.4zM603 520h6.3v1.4h-6.3zM589.1 521h4.4v1.4h-4.4zM602 521h4.4v1.4h-4.4zM577.2 522h1.4v1.4h-1.4zM579.2 522h1.4v1.4h-1.4zM589.1 522h4.4v1.4h-4.4zM601 522h5.4v1.4h-5.4zM575.2 523h1.4v1.4h-1.4zM588.1 523h3.4v1.4h-3.4zM601 523h1.4v1.4h-1.4zM603.9 523h2.4v1.4h-2.4zM574.2 524h1.4v1.4h-1.4zM587.1 524h2.4v1.4h-2.4zM583.1 525h1.4v1.4h-1.4zM585.1 525h2.4v1.4h-2.4zM560.4 526h1.4v1.4h-1.4zM573.2 526h1.4v1.4h-1.4zM562.4 527h1.4v1.4h-1.4zM569.3 529h2.4v1.4h-2.4zM558.4 536h1.4v1.4h-1.4zM581.2 536h1.4v1.4h-1.4zM577.2 537h3.4v1.4h-3.4zM561.4 538h1.4v1.4h-1.4zM576.2 538h1.4v1.4h-1.4zM575.2 539h1.4v1.4h-1.4zM590.1 541h1.4v1.4h-1.4zM566.3 542h2.4v1.4h-2.4zM591.1 542h1.4v1.4h-1.4zM592.1 544h1.4v1.4h-1.4zM592.1 545h1.4v1.4h-1.4zM592.1 546h1.4v1.4h-1.4z"/><path fill="#f40" d="M593 519h10.3v1.4h-10.3zM608.9 519h2.4v1.4h-2.4zM613.8 519h4.4v1.4h-4.4zM593 520h10.3v1.4h-10.3zM608.9 520h2.4v1.4h-2.4zM613.8 520h4.4v1.4h-4.4zM593 521h9.3v1.4h-9.3zM605.9 521h4.4v1.4h-4.4zM612.9 521h1.4v1.4h-1.4zM578.2 522h1.4v1.4h-1.4zM593 522h1.4v1.4h-1.4zM596 522h5.4v1.4h-5.4zM605.9 522h2.4v1.4h-2.4zM556.4 523h2.4v1.4h-2.4zM576.2 523h1.4v1.4h-1.4zM580.2 523h1.4v1.4h-1.4zM591.1 523h2.4v1.4h-2.4zM597 523h1.4v1.4h-1.4zM600 523h1.4v1.4h-1.4zM602 523h2.4v1.4h-2.4zM605.9 523h1.4v1.4h-1.4zM558.4 524h1.4v1.4h-1.4zM589.1 524h2.4v1.4h-2.4zM601 524h6.3v1.4h-6.3zM559.4 525h1.4v1.4h-1.4zM574.2 525h1.4v1.4h-1.4zM587.1 525h2.4v1.4h-2.4zM561.4 527h1.4v1.4h-1.4zM573.2 527h1.4v1.4h-1.4zM564.3 528h1.4v1.4h-1.4zM572.3 528h1.4v1.4h-1.4zM566.3 529h3.4v1.4h-3.4zM559.4 536h1.4v1.4h-1.4zM580.2 536h1.4v1.4h-1.4zM582.2 536h1.4v1.4h-1.4zM560.4 537h1.4v1.4h-1.4zM574.2 539h1.4v1.4h-1.4zM587.1 539h1.4v1.4h-1.4zM564.3 540h1.4v1.4h-1.4zM589.1 540h1.4v1.4h-1.4zM565.3 541h1.4v1.4h-1.4zM571.3 541h1.4v1.4h-1.4zM568.3 542h1.4v1.4h-1.4zM592.1 543h1.4v1.4h-1.4zM593 544h1.4v1.4h-1.4zM593 545h1.4v1.4h-1.4zM593 546h1.4v1.4h-1.4z"/><path fill="#f50" d="M610.9 519h3.4v1.4h-3.4zM617.8 519h2.4v1.4h-2.4zM610.9 520h3.4v1.4h-3.4zM617.8 520h2.4v1.4h-2.4zM609.9 521h3.4v1.4h-3.4zM613.8 521h4.4v1.4h-4.4zM594 522h2.4v1.4h-2.4zM607.9 522h7.3v1.4h-7.3zM577.2 523h1.4v1.4h-1.4zM593 523h4.4v1.4h-4.4zM598 523h2.4v1.4h-2.4zM606.9 523h4.4v1.4h-4.4zM575.2 524h1.4v1.4h-1.4zM581.2 524h1.4v1.4h-1.4zM591.1 524h6.3v1.4h-6.3zM600 524h1.4v1.4h-1.4zM606.9 524h2.4v1.4h-2.4zM582.2 525h1.4v1.4h-1.4zM589.1 525h2.4v1.4h-2.4zM592.1 525h4.4v1.4h-4.4zM601 525h2.4v1.4h-2.4zM604.9 525h2.4v1.4h-2.4zM584.1 526h6.3v1.4h-6.3zM594 526h1.4v1.4h-1.4zM589.1 527h3.4v1.4h-3.4zM593 527h1.4v1.4h-1.4zM562.4 528h2.4v1.4h-2.4zM565.3 529h1.4v1.4h-1.4zM571.3 529h1.4v1.4h-1.4zM556.4 535h3.4v1.4h-3.4zM583.1 537h1.4v1.4h-1.4zM584.1 538h1.4v1.4h-1.4zM563.3 539h1.4v1.4h-1.4zM572.3 540h1.4v1.4h-1.4zM595 542h1.4v1.4h-1.4zM593 543h2.4v1.4h-2.4zM594 544h1.4v1.4h-1.4zM594 545h1.4v1.4h-1.4zM594 546h1.4v1.4h-1.4z"/><path fill="#f60" d="M619.8 519h1.4v1.4h-1.4zM619.8 520h1.4v1.4h-1.4zM617.8 521h2.4v1.4h-2.4zM614.8 522h4.4v1.4h-4.4zM578.2 523h2.4v1.4h-2.4zM610.9 523h2.4v1.4h-2.4zM613.8 523h3.4v1.4h-3.4zM576.2 524h1.4v1.4h-1.4zM597 524h1.4v1.4h-1.4zM599 524h1.4v1.4h-1.4zM623.7 524h2.4v1.4h-2.4zM591.1 525h1.4v1.4h-1.4zM603 525h2.4v1.4h-2.4zM606.9 525h1.4v1.4h-1.4zM620.8 525h5.4v1.4h-5.4zM559.4 526h1.4v1.4h-1.4zM583.1 526h1.4v1.4h-1.4zM590.1 526h4.4v1.4h-4.4zM595 526h1.4v1.4h-1.4zM619.8 526h4.4v1.4h-4.4zM560.4 527h1.4v1.4h-1.4zM588.1 527h1.4v1.4h-1.4zM592.1 527h1.4v1.4h-1.4zM594 527h1.4v1.4h-1.4zM591.1 528h3.4v1.4h-3.4zM568.3 530h3.4v1.4h-3.4zM559.4 535h1.4v1.4h-1.4zM581.2 535h1.4v1.4h-1.4zM560.4 536h1.4v1.4h-1.4zM578.2 536h2.4v1.4h-2.4zM561.4 537h1.4v1.4h-1.4zM576.2 537h1.4v1.4h-1.4zM562.4 538h1.4v1.4h-1.4zM573.2 539h1.4v1.4h-1.4zM590.1 540h1.4v1.4h-1.4zM570.3 541h1.4v1.4h-1.4zM591.1 541h1.4v1.4h-1.4zM595 541h2.4v1.4h-2.4zM594 542h1.4v1.4h-1.4zM596 542h1.4v1.4h-1.4zM595 543h2.4v1.4h-2.4zM595 544h1.4v1.4h-1.4zM595 545h1.4v1.4h-1.4zM595 546h1.4v1.4h-1.4z"/><path fill="#f70" d="M620.8 519h1.4v1.4h-1.4zM634.6 519h5.4v1.4h-5.4zM620.8 520h1.4v1.4h-1.4zM634.6 520h5.4v1.4h-5.4zM619.8 521h2.4v1.4h-2.4zM636.6 521h3.4v1.4h-3.4zM618.8 522h2.4v1.4h-2.4zM623.7 522h4.4v1.4h-4.4zM612.9 523h1.4v1.4h-1.4zM616.8 523h12.3v1.4h-12.3zM577.2 524h1.4v1.4h-1.4zM598 524h1.4v1.4h-1.4zM608.9 524h1.4v1.4h-1.4zM614.8 524h9.3v1.4h-9.3zM625.7 524h2.4v1.4h-2.4zM558.4 525h1.4v1.4h-1.4zM575.2 525h1.4v1.4h-1.4zM596 525h1.4v1.4h-1.4zM600 525h1.4v1.4h-1.4zM617.8 525h3.4v1.4h-3.4zM574.2 526h1.4v1.4h-1.4zM623.7 526h1.4v1.4h-1.4zM587.1 527h1.4v1.4h-1.4zM595 527h1.4v1.4h-1.4zM561.4 528h1.4v1.4h-1.4zM589.1 528h2.4v1.4h-2.4zM594 528h1.4v1.4h-1.4zM564.3 529h1.4v1.4h-1.4zM567.3 530h1.4v1.4h-1.4zM556.4 534h2.4v1.4h-2.4zM580.2 535h1.4v1.4h-1.4zM577.2 536h1.4v1.4h-1.4zM575.2 538h1.4v1.4h-1.4zM585.1 538h1.4v1.4h-1.4zM588.1 539h1.4v1.4h-1.4zM565.3 540h1.4v1.4h-1.4zM566.3 541h1.4v1.4h-1.4zM597 541h1.4v1.4h-1.4zM592.1 542h1.4v1.4h-1.4zM597 542h1.4v1.4h-1.4zM596 544h1.4v1.4h-1.4zM596 545h1.4v1.4h-1.4zM596 546h1.4v1.4h-1.4z"/><path fill="#f80" d="M621.8 519h2.4v1.4h-2.4zM628.7 519h6.3v1.4h-6.3zM621.8 520h2.4v1.4h-2.4zM628.7 520h6.3v1.4h-6.3zM621.8 521h15.3v1.4h-15.3zM620.8 522h3.4v1.4h-3.4zM627.7 522h3.4v1.4h-3.4zM637.6 522h2.4v1.4h-2.4zM628.7 523h1.4v1.4h-1.4zM556.4 524h2.4v1.4h-2.4zM578.2 524h1.4v1.4h-1.4zM580.2 524h1.4v1.4h-1.4zM576.2 525h1.4v1.4h-1.4zM581.2 525h1.4v1.4h-1.4zM597 525h1.4v1.4h-1.4zM607.9 525h1.4v1.4h-1.4zM616.8 525h1.4v1.4h-1.4zM625.7 525h1.4v1.4h-1.4zM596 526h1.4v1.4h-1.4zM618.8 526h1.4v1.4h-1.4zM621.8 527h2.4v1.4h-2.4zM573.2 528h1.4v1.4h-1.4zM588.1 528h1.4v1.4h-1.4zM595 528h1.4v1.4h-1.4zM563.3 529h1.4v1.4h-1.4zM572.3 529h1.4v1.4h-1.4zM566.3 530h1.4v1.4h-1.4zM556.4 533h2.4v1.4h-2.4zM558.4 534h1.4v1.4h-1.4zM582.2 535h1.4v1.4h-1.4zM575.2 536h2.4v1.4h-2.4zM583.1 536h1.4v1.4h-1.4zM575.2 537h1.4v1.4h-1.4zM563.3 538h1.4v1.4h-1.4zM574.2 538h1.4v1.4h-1.4zM564.3 539h1.4v1.4h-1.4zM596 540h1.4v1.4h-1.4zM569.3 541h1.4v1.4h-1.4zM598 541h1.4v1.4h-1.4zM593 542h1.4v1.4h-1.4zM598 542h1.4v1.4h-1.4zM597 543h1.4v1.4h-1.4zM597 544h1.4v1.4h-1.4zM597 545h1.4v1.4h-1.4zM597 546h1.4v1.4h-1.4z"/><path fill="#f90" d="M623.7 519h5.4v1.4h-5.4zM623.7 520h5.4v1.4h-5.4zM630.7 522h1.4v1.4h-1.4zM633.6 522h1.4v1.4h-1.4zM636.6 522h1.4v1.4h-1.4zM629.7 523h1.4v1.4h-1.4zM609.9 524h1.4v1.4h-1.4zM627.7 524h1.4v1.4h-1.4zM577.2 525h1.4v1.4h-1.4zM599 525h1.4v1.4h-1.4zM615.8 525h1.4v1.4h-1.4zM558.4 526h1.4v1.4h-1.4zM575.2 526h1.4v1.4h-1.4zM582.2 526h1.4v1.4h-1.4zM559.4 527h1.4v1.4h-1.4zM574.2 527h1.4v1.4h-1.4zM586.1 527h1.4v1.4h-1.4zM596 527h1.4v1.4h-1.4zM620.8 527h1.4v1.4h-1.4zM560.4 528h1.4v1.4h-1.4zM562.4 529h1.4v1.4h-1.4zM565.3 530h1.4v1.4h-1.4zM571.3 530h1.4v1.4h-1.4zM581.2 534h1.4v1.4h-1.4zM560.4 535h1.4v1.4h-1.4zM579.2 535h1.4v1.4h-1.4zM574.2 536h1.4v1.4h-1.4zM562.4 537h1.4v1.4h-1.4zM586.1 538h1.4v1.4h-1.4zM572.3 539h1.4v1.4h-1.4zM571.3 540h1.4v1.4h-1.4zM595 540h1.4v1.4h-1.4zM597 540h3.4v1.4h-3.4zM567.3 541h2.4v1.4h-2.4zM594 541h1.4v1.4h-1.4zM599 541h1.4v1.4h-1.4zM598 543h1.4v1.4h-1.4zM598 544h1.4v1.4h-1.4zM598 545h1.4v1.4h-1.4zM598 546h1.4v1.4h-1.4z"/><path fill="#fa0" d="M631.7 522h2.4v1.4h-2.4zM634.6 522h2.4v1.4h-2.4zM579.2 524h1.4v1.4h-1.4zM610.9 524h1.4v1.4h-1.4zM613.8 524h1.4v1.4h-1.4zM556.4 525h2.4v1.4h-2.4zM598 525h1.4v1.4h-1.4zM601 526h2.4v1.4h-2.4zM617.8 526h1.4v1.4h-1.4zM624.7 526h1.4v1.4h-1.4zM584.1 527h2.4v1.4h-2.4zM619.8 527h1.4v1.4h-1.4zM587.1 528h1.4v1.4h-1.4zM596 528h1.4v1.4h-1.4zM561.4 529h1.4v1.4h-1.4zM589.1 529h2.4v1.4h-2.4zM592.1 529h3.4v1.4h-3.4zM564.3 530h1.4v1.4h-1.4zM567.3 531h4.4v1.4h-4.4zM556.4 532h2.4v1.4h-2.4zM558.4 533h1.4v1.4h-1.4zM559.4 534h1.4v1.4h-1.4zM579.2 534h2.4v1.4h-2.4zM575.2 535h4.4v1.4h-4.4zM561.4 536h1.4v1.4h-1.4zM574.2 537h1.4v1.4h-1.4zM584.1 537h1.4v1.4h-1.4zM573.2 538h1.4v1.4h-1.4zM565.3 539h1.4v1.4h-1.4zM589.1 539h1.4v1.4h-1.4zM599 539h2.4v1.4h-2.4zM566.3 540h1.4v1.4h-1.4zM591.1 540h1.4v1.4h-1.4zM600 540h1.4v1.4h-1.4zM600 541h1.4v1.4h-1.4zM599 542h1.4v1.4h-1.4zM599 543h1.4v1.4h-1.4zM599 544h2.4v1.4h-2.4zM599 545h1.4v1.4h-1.4zM599 546h1.4v1.4h-1.4z"/><path fill="#fd0" d="M630.7 523h1.4v1.4h-1.4zM579.2 525h1.4v1.4h-1.4zM598 526h2.4v1.4h-2.4zM607.9 526h1.4v1.4h-1.4zM582.2 527h1.4v1.4h-1.4zM618.8 527h1.4v1.4h-1.4zM623.7 527h1.4v1.4h-1.4zM558.4 528h1.4v1.4h-1.4zM586.1 528h1.4v1.4h-1.4zM621.8 528h1.4v1.4h-1.4zM559.4 529h1.4v1.4h-1.4zM587.1 529h1.4v1.4h-1.4zM596 529h1.4v1.4h-1.4zM560.4 530h2.4v1.4h-2.4zM572.3 530h1.4v1.4h-1.4zM589.1 530h1.4v1.4h-1.4zM563.3 531h1.4v1.4h-1.4zM571.3 531h1.4v1.4h-1.4zM565.3 532h5.4v1.4h-5.4zM577.2 533h2.4v1.4h-2.4zM581.2 533h1.4v1.4h-1.4zM575.2 534h1.4v1.4h-1.4zM573.2 535h1.4v1.4h-1.4zM584.1 536h1.4v1.4h-1.4zM572.3 537h1.4v1.4h-1.4zM585.1 537h1.4v1.4h-1.4zM565.3 538h1.4v1.4h-1.4zM571.3 538h1.4v1.4h-1.4zM599 538h1.4v1.4h-1.4zM602 538h2.4v1.4h-2.4zM566.3 539h1.4v1.4h-1.4zM570.3 539h1.4v1.4h-1.4zM597 539h1.4v1.4h-1.4zM602 539h2.4v1.4h-2.4zM568.3 540h1.4v1.4h-1.4zM594 540h1.4v1.4h-1.4zM603 540h1.4v1.4h-1.4zM603 541h1.4v1.4h-1.4zM603 542h1.4v1.4h-1.4zM603 543h2.4v1.4h-2.4zM603 544h1.4v1.4h-1.4zM603 545h1.4v1.4h-1.4zM603 546h1.4v1.4h-1.4z"/><path fill="#ef1" d="M631.7 523h2.4v1.4h-2.4zM610.9 525h1.4v1.4h-1.4zM613.8 525h1.4v1.4h-1.4zM578.2 527h3.4v1.4h-3.4zM599 527h3.4v1.4h-3.4zM576.2 528h2.4v1.4h-2.4zM583.1 528h1.4v1.4h-1.4zM619.8 528h1.4v1.4h-1.4zM575.2 529h1.4v1.4h-1.4zM574.2 530h1.4v1.4h-1.4zM587.1 530h1.4v1.4h-1.4zM572.3 531h1.4v1.4h-1.4zM588.1 531h1.4v1.4h-1.4zM591.1 531h1.4v1.4h-1.4zM571.3 532h1.4v1.4h-1.4zM576.2 532h5.4v1.4h-5.4zM589.1 532h1.4v1.4h-1.4zM569.3 533h1.4v1.4h-1.4zM575.2 533h1.4v1.4h-1.4zM568.3 534h1.4v1.4h-1.4zM583.1 534h1.4v1.4h-1.4zM567.3 535h2.4v1.4h-2.4zM566.3 536h3.4v1.4h-3.4zM570.3 536h1.4v1.4h-1.4zM568.3 537h2.4v1.4h-2.4zM586.1 537h1.4v1.4h-1.4zM599 537h1.4v1.4h-1.4zM604.9 537h1.4v1.4h-1.4zM598 538h1.4v1.4h-1.4zM605.9 539h1.4v1.4h-1.4zM593 540h1.4v1.4h-1.4zM605.9 540h1.4v1.4h-1.4zM605.9 541h1.4v1.4h-1.4zM605.9 542h1.4v1.4h-1.4zM605.9 543h1.4v1.4h-1.4zM605.9 544h1.4v1.4h-1.4zM605.9 545h1.4v1.4h-1.4zM605.9 546h1.4v1.4h-1.4z"/><path fill="#ff0" d="M633.6 523h1.4v1.4h-1.4zM629.7 524h1.4v1.4h-1.4zM637.6 524h2.4v1.4h-2.4zM609.9 525h1.4v1.4h-1.4zM627.7 525h1.4v1.4h-1.4zM579.2 526h1.4v1.4h-1.4zM577.2 527h1.4v1.4h-1.4zM581.2 527h1.4v1.4h-1.4zM598 527h1.4v1.4h-1.4zM616.8 527h2.4v1.4h-2.4zM575.2 528h1.4v1.4h-1.4zM584.1 528h1.4v1.4h-1.4zM620.8 528h1.4v1.4h-1.4zM585.1 529h1.4v1.4h-1.4zM573.2 530h1.4v1.4h-1.4zM591.1 530h1.4v1.4h-1.4zM560.4 531h1.4v1.4h-1.4zM589.1 531h2.4v1.4h-2.4zM560.4 532h2.4v1.4h-2.4zM590.1 532h1.4v1.4h-1.4zM561.4 533h2.4v1.4h-2.4zM566.3 533h3.4v1.4h-3.4zM562.4 534h6.3v1.4h-6.3zM563.3 535h4.4v1.4h-4.4zM572.3 535h1.4v1.4h-1.4zM564.3 536h2.4v1.4h-2.4zM571.3 536h1.4v1.4h-1.4zM565.3 537h3.4v1.4h-3.4zM570.3 537h1.4v1.4h-1.4zM603.9 537h1.4v1.4h-1.4zM567.3 538h3.4v1.4h-3.4zM604.9 538h1.4v1.4h-1.4zM568.3 539h1.4v1.4h-1.4zM591.1 539h1.4v1.4h-1.4zM595 539h1.4v1.4h-1.4zM604.9 539h1.4v1.4h-1.4zM592.1 540h1.4v1.4h-1.4zM604.9 540h1.4v1.4h-1.4zM604.9 541h1.4v1.4h-1.4zM604.9 542h1.4v1.4h-1.4zM604.9 543h1.4v1.4h-1.4zM604.9 544h1.4v1.4h-1.4zM604.9 545h1.4v1.4h-1.4zM604.9 546h1.4v1.4h-1.4z"/><path fill="#df2" d="M634.6 523h2.4v1.4h-2.4zM626.7 526h1.4v1.4h-1.4zM602 527h1.4v1.4h-1.4zM578.2 528h5.4v1.4h-5.4zM598 528h1.4v1.4h-1.4zM618.8 528h1.4v1.4h-1.4zM576.2 529h2.4v1.4h-2.4zM584.1 529h1.4v1.4h-1.4zM597 529h1.4v1.4h-1.4zM575.2 530h2.4v1.4h-2.4zM586.1 530h1.4v1.4h-1.4zM596 530h1.4v1.4h-1.4zM573.2 531h1.4v1.4h-1.4zM592.1 531h1.4v1.4h-1.4zM572.3 532h1.4v1.4h-1.4zM575.2 532h1.4v1.4h-1.4zM581.2 532h1.4v1.4h-1.4zM588.1 532h1.4v1.4h-1.4zM591.1 532h1.4v1.4h-1.4zM570.3 533h1.4v1.4h-1.4zM574.2 533h1.4v1.4h-1.4zM589.1 533h2.4v1.4h-2.4zM569.3 534h2.4v1.4h-2.4zM573.2 534h1.4v1.4h-1.4zM569.3 535h3.4v1.4h-3.4zM584.1 535h1.4v1.4h-1.4zM569.3 536h1.4v1.4h-1.4zM585.1 536h1.4v1.4h-1.4zM603.9 536h1.4v1.4h-1.4zM589.1 538h1.4v1.4h-1.4zM597 538h1.4v1.4h-1.4zM605.9 538h1.4v1.4h-1.4zM592.1 539h1.4v1.4h-1.4zM606.9 542h1.4v1.4h-1.4zM606.9 543h1.4v1.4h-1.4zM606.9 544h1.4v1.4h-1.4zM606.9 545h1.4v1.4h-1.4zM606.9 546h1.4v1.4h-1.4z"/><path fill="#fe0" d="M636.6 523h1.4v1.4h-1.4zM578.2 526h1.4v1.4h-1.4zM580.2 526h1.4v1.4h-1.4zM614.8 526h1.4v1.4h-1.4zM625.7 526h1.4v1.4h-1.4zM576.2 527h1.4v1.4h-1.4zM615.8 527h1.4v1.4h-1.4zM556.4 528h2.4v1.4h-2.4zM585.1 528h1.4v1.4h-1.4zM597 528h1.4v1.4h-1.4zM622.8 528h1.4v1.4h-1.4zM556.4 529h3.4v1.4h-3.4zM574.2 529h1.4v1.4h-1.4zM586.1 529h1.4v1.4h-1.4zM556.4 530h4.4v1.4h-4.4zM588.1 530h1.4v1.4h-1.4zM590.1 530h1.4v1.4h-1.4zM592.1 530h4.4v1.4h-4.4zM558.4 531h2.4v1.4h-2.4zM561.4 531h2.4v1.4h-2.4zM559.4 532h1.4v1.4h-1.4zM562.4 532h3.4v1.4h-3.4zM570.3 532h1.4v1.4h-1.4zM560.4 533h1.4v1.4h-1.4zM563.3 533h3.4v1.4h-3.4zM576.2 533h1.4v1.4h-1.4zM582.2 533h1.4v1.4h-1.4zM561.4 534h1.4v1.4h-1.4zM574.2 534h1.4v1.4h-1.4zM562.4 535h1.4v1.4h-1.4zM563.3 536h1.4v1.4h-1.4zM572.3 536h1.4v1.4h-1.4zM564.3 537h1.4v1.4h-1.4zM571.3 537h1.4v1.4h-1.4zM600 537h4.4v1.4h-4.4zM566.3 538h1.4v1.4h-1.4zM570.3 538h1.4v1.4h-1.4zM588.1 538h1.4v1.4h-1.4zM603.9 538h1.4v1.4h-1.4zM567.3 539h1.4v1.4h-1.4zM569.3 539h1.4v1.4h-1.4zM596 539h1.4v1.4h-1.4zM603.9 539h1.4v1.4h-1.4zM603.9 540h1.4v1.4h-1.4zM603.9 541h1.4v1.4h-1.4zM603.9 542h1.4v1.4h-1.4zM603.9 544h1.4v1.4h-1.4zM603.9 545h1.4v1.4h-1.4zM603.9 546h1.4v1.4h-1.4z"/><path fill="#fb0" d="M637.6 523h2.4v1.4h-2.4zM611.9 524h1.4v1.4h-1.4zM578.2 525h1.4v1.4h-1.4zM614.8 525h1.4v1.4h-1.4zM556.4 526h2.4v1.4h-2.4zM576.2 526h1.4v1.4h-1.4zM597 526h1.4v1.4h-1.4zM600 526h1.4v1.4h-1.4zM603 526h1.4v1.4h-1.4zM606.9 526h1.4v1.4h-1.4zM616.8 526h1.4v1.4h-1.4zM558.4 527h1.4v1.4h-1.4zM559.4 528h1.4v1.4h-1.4zM560.4 529h1.4v1.4h-1.4zM588.1 529h1.4v1.4h-1.4zM591.1 529h1.4v1.4h-1.4zM595 529h1.4v1.4h-1.4zM563.3 530h1.4v1.4h-1.4zM566.3 531h1.4v1.4h-1.4zM578.2 534h1.4v1.4h-1.4zM582.2 534h1.4v1.4h-1.4zM574.2 535h1.4v1.4h-1.4zM573.2 537h1.4v1.4h-1.4zM564.3 538h1.4v1.4h-1.4zM587.1 538h1.4v1.4h-1.4zM571.3 539h1.4v1.4h-1.4zM570.3 540h1.4v1.4h-1.4zM601 540h1.4v1.4h-1.4zM592.1 541h1.4v1.4h-1.4zM601 541h1.4v1.4h-1.4zM600 542h2.4v1.4h-2.4zM600 543h2.4v1.4h-2.4zM601 544h1.4v1.4h-1.4zM600 545h2.4v1.4h-2.4zM600 546h2.4v1.4h-2.4z"/><path fill="#fc0" d="M612.9 524h1.4v1.4h-1.4zM628.7 524h1.4v1.4h-1.4zM580.2 525h1.4v1.4h-1.4zM608.9 525h1.4v1.4h-1.4zM626.7 525h1.4v1.4h-1.4zM577.2 526h1.4v1.4h-1.4zM581.2 526h1.4v1.4h-1.4zM603.9 526h3.4v1.4h-3.4zM615.8 526h1.4v1.4h-1.4zM556.4 527h2.4v1.4h-2.4zM575.2 527h1.4v1.4h-1.4zM583.1 527h1.4v1.4h-1.4zM597 527h1.4v1.4h-1.4zM574.2 528h1.4v1.4h-1.4zM573.2 529h1.4v1.4h-1.4zM562.4 530h1.4v1.4h-1.4zM556.4 531h2.4v1.4h-2.4zM564.3 531h2.4v1.4h-2.4zM558.4 532h1.4v1.4h-1.4zM559.4 533h1.4v1.4h-1.4zM579.2 533h2.4v1.4h-2.4zM560.4 534h1.4v1.4h-1.4zM576.2 534h2.4v1.4h-2.4zM561.4 535h1.4v1.4h-1.4zM583.1 535h1.4v1.4h-1.4zM562.4 536h1.4v1.4h-1.4zM573.2 536h1.4v1.4h-1.4zM563.3 537h1.4v1.4h-1.4zM572.3 538h1.4v1.4h-1.4zM600 538h2.4v1.4h-2.4zM590.1 539h1.4v1.4h-1.4zM598 539h1.4v1.4h-1.4zM601 539h1.4v1.4h-1.4zM567.3 540h1.4v1.4h-1.4zM569.3 540h1.4v1.4h-1.4zM602 540h1.4v1.4h-1.4zM593 541h1.4v1.4h-1.4zM602 541h1.4v1.4h-1.4zM602 542h1.4v1.4h-1.4zM602 543h1.4v1.4h-1.4zM602 544h1.4v1.4h-1.4zM602 545h1.4v1.4h-1.4zM602 546h1.4v1.4h-1.4z"/><path fill="#cf3" d="M630.7 524h1.4v1.4h-1.4zM611.9 525h1.4v1.4h-1.4zM608.9 526h1.4v1.4h-1.4zM614.8 527h1.4v1.4h-1.4zM624.7 527h1.4v1.4h-1.4zM615.8 528h1.4v1.4h-1.4zM578.2 529h3.4v1.4h-3.4zM577.2 530h2.4v1.4h-2.4zM585.1 530h1.4v1.4h-1.4zM574.2 531h5.4v1.4h-5.4zM587.1 531h1.4v1.4h-1.4zM593 531h2.4v1.4h-2.4zM573.2 532h2.4v1.4h-2.4zM582.2 532h1.4v1.4h-1.4zM571.3 533h3.4v1.4h-3.4zM583.1 533h1.4v1.4h-1.4zM571.3 534h2.4v1.4h-2.4zM601 536h3.4v1.4h-3.4zM604.9 536h1.4v1.4h-1.4zM605.9 537h1.4v1.4h-1.4zM606.9 538h1.4v1.4h-1.4zM594 539h1.4v1.4h-1.4zM606.9 539h1.4v1.4h-1.4zM606.9 540h1.4v1.4h-1.4zM606.9 541h1.4v1.4h-1.4zM607.9 544h1.4v1.4h-1.4zM607.9 545h1.4v1.4h-1.4zM607.9 546h1.4v1.4h-1.4z"/><path fill="#7f8" d="M631.7 524h1.4v1.4h-1.4zM608.9 527h1.4v1.4h-1.4zM601 528h1.4v1.4h-1.4zM599 529h1.4v1.4h-1.4zM615.8 529h1.4v1.4h-1.4zM595 532h1.4v1.4h-1.4zM592.1 534h1.4v1.4h-1.4zM591.1 535h1.4v1.4h-1.4zM600 535h3.4v1.4h-3.4zM605.9 535h1.4v1.4h-1.4zM590.1 536h2.4v1.4h-2.4zM598 536h1.4v1.4h-1.4zM608.9 536h2.4v1.4h-2.4zM590.1 537h3.4v1.4h-3.4zM610.9 537h1.4v1.4h-1.4zM610.9 538h1.4v1.4h-1.4zM610.9 539h1.4v1.4h-1.4zM611.9 540h1.4v1.4h-1.4zM611.9 541h2.4v1.4h-2.4zM610.9 542h2.4v1.4h-2.4zM611.9 543h2.4v1.4h-2.4zM611.9 544h3.4v1.4h-3.4zM612.9 545h1.4v1.4h-1.4zM612.9 546h1.4v1.4h-1.4z"/><path fill="#5fa" d="M632.7 524h1.4v1.4h-1.4zM630.7 525h1.4v1.4h-1.4zM610.9 526h1.4v1.4h-1.4zM612.9 526h1.4v1.4h-1.4zM627.7 527h1.4v1.4h-1.4zM624.7 528h1.4v1.4h-1.4zM623.7 529h1.4v1.4h-1.4zM597 531h1.4v1.4h-1.4zM596 532h1.4v1.4h-1.4zM594 533h1.4v1.4h-1.4zM593 534h1.4v1.4h-1.4zM603 534h1.4v1.4h-1.4zM604.9 534h1.4v1.4h-1.4zM593 535h1.4v1.4h-1.4zM599 535h1.4v1.4h-1.4zM607.9 535h4.4v1.4h-4.4zM593 536h1.4v1.4h-1.4zM595 536h1.4v1.4h-1.4zM611.9 536h1.4v1.4h-1.4zM612.9 538h1.4v1.4h-1.4zM612.9 539h2.4v1.4h-2.4zM614.8 541h1.4v1.4h-1.4zM615.8 542h1.4v1.4h-1.4zM615.8 543h3.4v1.4h-3.4zM616.8 544h2.4v1.4h-2.4zM616.8 545h1.4v1.4h-1.4zM616.8 546h1.4v1.4h-1.4z"/><path fill="#4fb" d="M633.6 524h1.4v1.4h-1.4zM635.6 524h1.4v1.4h-1.4zM611.9 526h1.4v1.4h-1.4zM603 528h1.4v1.4h-1.4zM600 529h1.4v1.4h-1.4zM595 533h1.4v1.4h-1.4zM594 534h2.4v1.4h-2.4zM605.9 534h1.4v1.4h-1.4zM594 535h3.4v1.4h-3.4zM598 535h1.4v1.4h-1.4zM594 536h1.4v1.4h-1.4zM612.9 537h1.4v1.4h-1.4zM613.8 538h1.4v1.4h-1.4zM614.8 539h1.4v1.4h-1.4zM631.7 539h2.4v1.4h-2.4zM614.8 540h1.4v1.4h-1.4zM631.7 540h2.4v1.4h-2.4zM615.8 541h1.4v1.4h-1.4zM629.7 541h4.4v1.4h-4.4zM616.8 542h2.4v1.4h-2.4zM629.7 542h5.4v1.4h-5.4zM618.8 543h1.4v1.4h-1.4zM630.7 543h5.4v1.4h-5.4zM618.8 544h2.4v1.4h-2.4zM630.7 544h6.3v1.4h-6.3zM617.8 545h3.4v1.4h-3.4zM632.7 545h7.3v1.4h-7.3zM617.8 546h3.4v1.4h-3.4zM632.7 546h7.3v1.4h-7.3z"/><path fill="#3fc" d="M634.6 524h1.4v1.4h-1.4zM629.7 526h1.4v1.4h-1.4zM609.9 527h1.4v1.4h-1.4zM628.7 527h1.4v1.4h-1.4zM614.8 529h1.4v1.4h-1.4zM599 530h1.4v1.4h-1.4zM616.8 530h3.4v1.4h-3.4zM598 531h1.4v1.4h-1.4zM597 532h1.4v1.4h-1.4zM596 533h1.4v1.4h-1.4zM596 534h1.4v1.4h-1.4zM599 534h4.4v1.4h-4.4zM606.9 534h4.4v1.4h-4.4zM597 535h1.4v1.4h-1.4zM611.9 535h1.4v1.4h-1.4zM633.6 536h2.4v1.4h-2.4zM631.7 537h5.4v1.4h-5.4zM614.8 538h1.4v1.4h-1.4zM628.7 538h8.3v1.4h-8.3zM627.7 539h4.4v1.4h-4.4zM633.6 539h3.4v1.4h-3.4zM615.8 540h1.4v1.4h-1.4zM627.7 540h4.4v1.4h-4.4zM633.6 540h2.4v1.4h-2.4zM616.8 541h1.4v1.4h-1.4zM628.7 541h1.4v1.4h-1.4zM633.6 541h3.4v1.4h-3.4zM637.6 541h2.4v1.4h-2.4zM618.8 542h2.4v1.4h-2.4zM628.7 542h1.4v1.4h-1.4zM634.6 542h3.4v1.4h-3.4zM619.8 543h2.4v1.4h-2.4zM628.7 543h2.4v1.4h-2.4zM635.6 543h4.4v1.4h-4.4zM620.8 544h1.4v1.4h-1.4zM628.7 544h2.4v1.4h-2.4zM636.6 544h3.4v1.4h-3.4zM620.8 545h2.4v1.4h-2.4zM628.7 545h4.4v1.4h-4.4zM620.8 546h2.4v1.4h-2.4zM628.7 546h4.4v1.4h-4.4z"/><path fill="#9f6" d="M636.6 524h1.4v1.4h-1.4zM627.7 526h1.4v1.4h-1.4zM603.9 527h1.4v1.4h-1.4zM606.9 527h2.4v1.4h-2.4zM618.8 529h5.4v1.4h-5.4zM597 530h1.4v1.4h-1.4zM583.1 531h2.4v1.4h-2.4zM596 531h1.4v1.4h-1.4zM584.1 532h2.4v1.4h-2.4zM593 532h1.4v1.4h-1.4zM584.1 533h3.4v1.4h-3.4zM585.1 534h2.4v1.4h-2.4zM591.1 534h1.4v1.4h-1.4zM589.1 535h2.4v1.4h-2.4zM604.9 535h1.4v1.4h-1.4zM599 536h1.4v1.4h-1.4zM606.9 536h1.4v1.4h-1.4zM588.1 537h1.4v1.4h-1.4zM597 537h1.4v1.4h-1.4zM608.9 537h1.4v1.4h-1.4zM593 538h1.4v1.4h-1.4zM595 538h1.4v1.4h-1.4zM609.9 539h1.4v1.4h-1.4zM609.9 540h1.4v1.4h-1.4zM609.9 541h1.4v1.4h-1.4zM609.9 542h1.4v1.4h-1.4zM609.9 543h1.4v1.4h-1.4zM609.9 544h1.4v1.4h-1.4zM609.9 545h1.4v1.4h-1.4zM609.9 546h1.4v1.4h-1.4z"/><path fill="#bf4" d="M612.9 525h1.4v1.4h-1.4zM628.7 525h1.4v1.4h-1.4zM603 527h1.4v1.4h-1.4zM616.8 528h2.4v1.4h-2.4zM623.7 528h1.4v1.4h-1.4zM581.2 529h3.4v1.4h-3.4zM579.2 530h3.4v1.4h-3.4zM584.1 530h1.4v1.4h-1.4zM579.2 531h3.4v1.4h-3.4zM586.1 531h1.4v1.4h-1.4zM595 531h1.4v1.4h-1.4zM587.1 532h1.4v1.4h-1.4zM592.1 532h1.4v1.4h-1.4zM588.1 533h1.4v1.4h-1.4zM591.1 533h1.4v1.4h-1.4zM589.1 534h2.4v1.4h-2.4zM600 536h1.4v1.4h-1.4zM587.1 537h1.4v1.4h-1.4zM606.9 537h1.4v1.4h-1.4zM590.1 538h1.4v1.4h-1.4zM596 538h1.4v1.4h-1.4zM607.9 538h1.4v1.4h-1.4zM593 539h1.4v1.4h-1.4zM607.9 539h1.4v1.4h-1.4zM607.9 540h1.4v1.4h-1.4zM607.9 541h1.4v1.4h-1.4zM607.9 542h1.4v1.4h-1.4zM607.9 543h1.4v1.4h-1.4zM608.9 545h1.4v1.4h-1.4zM608.9 546h1.4v1.4h-1.4z"/><path fill="#8f7" d="M629.7 525h1.4v1.4h-1.4zM609.9 526h1.4v1.4h-1.4zM604.9 527h2.4v1.4h-2.4zM625.7 527h1.4v1.4h-1.4zM600 528h1.4v1.4h-1.4zM614.8 528h1.4v1.4h-1.4zM616.8 529h2.4v1.4h-2.4zM594 532h1.4v1.4h-1.4zM592.1 533h1.4v1.4h-1.4zM587.1 534h1.4v1.4h-1.4zM586.1 535h3.4v1.4h-3.4zM603 535h1.4v1.4h-1.4zM587.1 536h3.4v1.4h-3.4zM607.9 536h1.4v1.4h-1.4zM589.1 537h1.4v1.4h-1.4zM596 537h1.4v1.4h-1.4zM609.9 537h1.4v1.4h-1.4zM594 538h1.4v1.4h-1.4zM609.9 538h1.4v1.4h-1.4zM610.9 540h1.4v1.4h-1.4zM610.9 541h1.4v1.4h-1.4zM610.9 543h1.4v1.4h-1.4zM610.9 544h1.4v1.4h-1.4zM610.9 545h2.4v1.4h-2.4zM610.9 546h2.4v1.4h-2.4z"/><path fill="#1fe" d="M631.7 525h1.4v1.4h-1.4zM612.9 527h1.4v1.4h-1.4zM604.9 528h1.4v1.4h-1.4zM606.9 528h1.4v1.4h-1.4zM626.7 528h1.4v1.4h-1.4zM624.7 529h1.4v1.4h-1.4zM600 530h1.4v1.4h-1.4zM615.8 530h1.4v1.4h-1.4zM599 531h1.4v1.4h-1.4zM599 532h1.4v1.4h-1.4zM599 533h5.4v1.4h-5.4zM605.9 533h4.4v1.4h-4.4zM611.9 534h1.4v1.4h-1.4zM612.9 535h1.4v1.4h-1.4zM634.6 535h2.4v1.4h-2.4zM636.6 536h1.4v1.4h-1.4zM614.8 537h1.4v1.4h-1.4zM628.7 537h1.4v1.4h-1.4zM637.6 537h2.4v1.4h-2.4zM627.7 538h1.4v1.4h-1.4zM615.8 539h1.4v1.4h-1.4zM626.7 539h1.4v1.4h-1.4zM616.8 540h1.4v1.4h-1.4zM625.7 540h1.4v1.4h-1.4zM619.8 541h1.4v1.4h-1.4zM625.7 541h1.4v1.4h-1.4zM622.8 542h4.4v1.4h-4.4zM623.7 543h3.4v1.4h-3.4zM623.7 544h3.4v1.4h-3.4zM624.7 545h1.4v1.4h-1.4zM624.7 546h1.4v1.4h-1.4z"/><path fill="#0df" d="M632.7 525h1.4v1.4h-1.4zM636.6 526h1.4v1.4h-1.4zM629.7 527h1.4v1.4h-1.4zM612.9 528h1.4v1.4h-1.4zM628.7 528h1.4v1.4h-1.4zM603.9 529h2.4v1.4h-2.4zM607.9 529h1.4v1.4h-1.4zM625.7 529h1.4v1.4h-1.4zM603 530h3.4v1.4h-3.4zM614.8 530h1.4v1.4h-1.4zM603 531h5.4v1.4h-5.4zM607.9 532h4.4v1.4h-4.4zM632.7 534h4.4v1.4h-4.4zM613.8 535h1.4v1.4h-1.4zM614.8 536h1.4v1.4h-1.4zM615.8 537h1.4v1.4h-1.4zM616.8 538h1.4v1.4h-1.4zM625.7 538h1.4v1.4h-1.4zM617.8 539h1.4v1.4h-1.4zM619.8 540h1.4v1.4h-1.4z"/><path fill="#0cf" d="M633.6 525h1.4v1.4h-1.4zM635.6 525h1.4v1.4h-1.4zM610.9 528h1.4v1.4h-1.4zM605.9 529h2.4v1.4h-2.4zM609.9 529h1.4v1.4h-1.4zM612.9 529h1.4v1.4h-1.4zM626.7 529h1.4v1.4h-1.4zM605.9 530h4.4v1.4h-4.4zM613.8 530h1.4v1.4h-1.4zM607.9 531h4.4v1.4h-4.4zM618.8 531h2.4v1.4h-2.4zM611.9 532h1.4v1.4h-1.4zM612.9 533h1.4v1.4h-1.4zM613.8 534h1.4v1.4h-1.4zM631.7 534h1.4v1.4h-1.4zM630.7 535h1.4v1.4h-1.4zM637.6 535h2.4v1.4h-2.4zM628.7 536h1.4v1.4h-1.4zM626.7 537h1.4v1.4h-1.4zM624.7 538h1.4v1.4h-1.4zM618.8 539h1.4v1.4h-1.4zM624.7 539h1.4v1.4h-1.4zM620.8 540h1.4v1.4h-1.4z"/><path fill="#0bf" d="M634.6 525h1.4v1.4h-1.4zM637.6 527h2.4v1.4h-2.4zM611.9 528h1.4v1.4h-1.4zM610.9 529h2.4v1.4h-2.4zM609.9 530h4.4v1.4h-4.4zM624.7 530h1.4v1.4h-1.4zM611.9 531h2.4v1.4h-2.4zM615.8 531h3.4v1.4h-3.4zM620.8 531h2.4v1.4h-2.4zM612.9 532h1.4v1.4h-1.4zM613.8 533h1.4v1.4h-1.4zM632.7 533h2.4v1.4h-2.4zM636.6 534h1.4v1.4h-1.4zM614.8 535h1.4v1.4h-1.4zM615.8 536h1.4v1.4h-1.4zM627.7 536h1.4v1.4h-1.4zM616.8 537h1.4v1.4h-1.4zM625.7 537h1.4v1.4h-1.4zM617.8 538h3.4v1.4h-3.4zM619.8 539h2.4v1.4h-2.4zM621.8 540h3.4v1.4h-3.4z"/><path fill="#2fd" d="M636.6 525h1.4v1.4h-1.4zM637.6 526h2.4v1.4h-2.4zM603.9 528h1.4v1.4h-1.4zM607.9 528h2.4v1.4h-2.4zM613.8 528h1.4v1.4h-1.4zM625.7 528h1.4v1.4h-1.4zM601 529h1.4v1.4h-1.4zM619.8 530h4.4v1.4h-4.4zM598 532h1.4v1.4h-1.4zM597 533h2.4v1.4h-2.4zM603.9 533h2.4v1.4h-2.4zM597 534h2.4v1.4h-2.4zM610.9 534h1.4v1.4h-1.4zM612.9 536h1.4v1.4h-1.4zM631.7 536h2.4v1.4h-2.4zM635.6 536h1.4v1.4h-1.4zM613.8 537h1.4v1.4h-1.4zM629.7 537h2.4v1.4h-2.4zM636.6 537h1.4v1.4h-1.4zM636.6 538h3.4v1.4h-3.4zM636.6 539h3.4v1.4h-3.4zM626.7 540h1.4v1.4h-1.4zM635.6 540h4.4v1.4h-4.4zM617.8 541h2.4v1.4h-2.4zM626.7 541h2.4v1.4h-2.4zM636.6 541h1.4v1.4h-1.4zM620.8 542h2.4v1.4h-2.4zM626.7 542h2.4v1.4h-2.4zM637.6 542h2.4v1.4h-2.4zM621.8 543h2.4v1.4h-2.4zM626.7 543h2.4v1.4h-2.4zM621.8 544h2.4v1.4h-2.4zM626.7 544h2.4v1.4h-2.4zM622.8 545h2.4v1.4h-2.4zM625.7 545h3.4v1.4h-3.4zM622.8 546h2.4v1.4h-2.4zM625.7 546h3.4v1.4h-3.4z"/><path fill="#af5" d="M637.6 525h2.4v1.4h-2.4zM613.8 526h1.4v1.4h-1.4zM599 528h1.4v1.4h-1.4zM598 529h1.4v1.4h-1.4zM582.2 530h2.4v1.4h-2.4zM582.2 531h1.4v1.4h-1.4zM585.1 531h1.4v1.4h-1.4zM583.1 532h1.4v1.4h-1.4zM586.1 532h1.4v1.4h-1.4zM587.1 533h1.4v1.4h-1.4zM584.1 534h1.4v1.4h-1.4zM588.1 534h1.4v1.4h-1.4zM585.1 535h1.4v1.4h-1.4zM603.9 535h1.4v1.4h-1.4zM586.1 536h1.4v1.4h-1.4zM605.9 536h1.4v1.4h-1.4zM598 537h1.4v1.4h-1.4zM607.9 537h1.4v1.4h-1.4zM591.1 538h2.4v1.4h-2.4zM608.9 538h1.4v1.4h-1.4zM608.9 539h1.4v1.4h-1.4zM608.9 540h1.4v1.4h-1.4zM608.9 541h1.4v1.4h-1.4zM608.9 542h1.4v1.4h-1.4zM608.9 543h1.4v1.4h-1.4zM608.9 544h1.4v1.4h-1.4z"/><path fill="#6f9" d="M628.7 526h1.4v1.4h-1.4zM613.8 527h1.4v1.4h-1.4zM626.7 527h1.4v1.4h-1.4zM602 528h1.4v1.4h-1.4zM598 530h1.4v1.4h-1.4zM593 533h1.4v1.4h-1.4zM603.9 534h1.4v1.4h-1.4zM592.1 535h1.4v1.4h-1.4zM606.9 535h1.4v1.4h-1.4zM592.1 536h1.4v1.4h-1.4zM596 536h2.4v1.4h-2.4zM610.9 536h1.4v1.4h-1.4zM593 537h3.4v1.4h-3.4zM611.9 537h1.4v1.4h-1.4zM611.9 538h1.4v1.4h-1.4zM611.9 539h1.4v1.4h-1.4zM612.9 540h2.4v1.4h-2.4zM613.8 541h1.4v1.4h-1.4zM612.9 542h3.4v1.4h-3.4zM613.8 543h2.4v1.4h-2.4zM614.8 544h2.4v1.4h-2.4zM613.8 545h3.4v1.4h-3.4zM613.8 546h3.4v1.4h-3.4z"/><path fill="#0ef" d="M630.7 526h1.4v1.4h-1.4zM610.9 527h2.4v1.4h-2.4zM609.9 528h1.4v1.4h-1.4zM603 529h1.4v1.4h-1.4zM608.9 529h1.4v1.4h-1.4zM613.8 529h1.4v1.4h-1.4zM602 530h1.4v1.4h-1.4zM623.7 530h1.4v1.4h-1.4zM601 531h2.4v1.4h-2.4zM602 532h6.3v1.4h-6.3zM610.9 533h2.4v1.4h-2.4zM612.9 534h1.4v1.4h-1.4zM636.6 535h1.4v1.4h-1.4zM629.7 536h1.4v1.4h-1.4zM637.6 536h2.4v1.4h-2.4zM627.7 537h1.4v1.4h-1.4zM626.7 538h1.4v1.4h-1.4zM625.7 539h1.4v1.4h-1.4zM618.8 540h1.4v1.4h-1.4zM624.7 540h1.4v1.4h-1.4zM621.8 541h3.4v1.4h-3.4z"/><path fill="#0af" d="M631.7 526h1.4v1.4h-1.4zM635.6 526h1.4v1.4h-1.4zM636.6 527h1.4v1.4h-1.4zM627.7 529h1.4v1.4h-1.4zM613.8 531h2.4v1.4h-2.4zM622.8 531h1.4v1.4h-1.4zM613.8 532h2.4v1.4h-2.4zM614.8 533h1.4v1.4h-1.4zM634.6 533h1.4v1.4h-1.4zM614.8 534h1.4v1.4h-1.4zM615.8 535h1.4v1.4h-1.4zM629.7 535h1.4v1.4h-1.4zM616.8 536h1.4v1.4h-1.4zM626.7 536h1.4v1.4h-1.4zM617.8 537h2.4v1.4h-2.4zM624.7 537h1.4v1.4h-1.4zM620.8 538h1.4v1.4h-1.4zM623.7 539h1.4v1.4h-1.4z"/><path fill="#07f" d="M632.7 526h1.4v1.4h-1.4zM634.6 526h1.4v1.4h-1.4zM626.7 530h1.4v1.4h-1.4zM620.8 532h1.4v1.4h-1.4zM631.7 532h1.4v1.4h-1.4zM634.6 532h1.4v1.4h-1.4zM618.8 533h2.4v1.4h-2.4zM630.7 533h1.4v1.4h-1.4zM637.6 533h2.4v1.4h-2.4zM617.8 534h3.4v1.4h-3.4zM629.7 534h1.4v1.4h-1.4zM619.8 535h2.4v1.4h-2.4zM625.7 535h2.4v1.4h-2.4zM622.8 536h2.4v1.4h-2.4zM621.8 537h2.4v1.4h-2.4zM622.8 538h1.4v1.4h-1.4z"/><path fill="#06f" d="M633.6 526h1.4v1.4h-1.4zM631.7 527h1.4v1.4h-1.4zM636.6 528h3.4v1.4h-3.4zM627.7 530h1.4v1.4h-1.4zM624.7 531h1.4v1.4h-1.4zM621.8 532h1.4v1.4h-1.4zM635.6 532h1.4v1.4h-1.4zM620.8 533h1.4v1.4h-1.4zM620.8 534h1.4v1.4h-1.4zM628.7 534h1.4v1.4h-1.4zM621.8 535h4.4v1.4h-4.4z"/><path fill="#09f" d="M630.7 527h1.4v1.4h-1.4zM629.7 528h1.4v1.4h-1.4zM625.7 530h1.4v1.4h-1.4zM615.8 532h1.4v1.4h-1.4zM615.8 533h1.4v1.4h-1.4zM631.7 533h1.4v1.4h-1.4zM635.6 533h1.4v1.4h-1.4zM615.8 534h1.4v1.4h-1.4zM630.7 534h1.4v1.4h-1.4zM637.6 534h2.4v1.4h-2.4zM616.8 535h1.4v1.4h-1.4zM617.8 536h1.4v1.4h-1.4zM625.7 536h1.4v1.4h-1.4zM619.8 537h2.4v1.4h-2.4zM623.7 537h1.4v1.4h-1.4zM623.7 538h1.4v1.4h-1.4zM621.8 539h1.4v1.4h-1.4z"/><path fill="#04f" d="M632.7 527h1.4v1.4h-1.4zM630.7 528h1.4v1.4h-1.4zM635.6 528h1.4v1.4h-1.4zM635.6 529h4.4v1.4h-4.4zM629.7 530h1.4v1.4h-1.4zM633.6 530h2.4v1.4h-2.4zM626.7 531h5.4v1.4h-5.4zM635.6 531h1.4v1.4h-1.4zM625.7 532h1.4v1.4h-1.4zM627.7 532h3.4v1.4h-3.4zM637.6 532h2.4v1.4h-2.4zM625.7 533h4.4v1.4h-4.4z"/><path fill="#03f" d="M633.6 527h1.4v1.4h-1.4zM631.7 528h4.4v1.4h-4.4zM630.7 529h5.4v1.4h-5.4zM630.7 530h3.4v1.4h-3.4zM635.6 530h4.4v1.4h-4.4zM636.6 531h3.4v1.4h-3.4zM626.7 532h1.4v1.4h-1.4z"/><path fill="#05f" d="M634.6 527h1.4v1.4h-1.4zM629.7 529h1.4v1.4h-1.4zM628.7 530h1.4v1.4h-1.4zM625.7 531h1.4v1.4h-1.4zM631.7 531h4.4v1.4h-4.4zM622.8 532h3.4v1.4h-3.4zM630.7 532h1.4v1.4h-1.4zM636.6 532h1.4v1.4h-1.4zM621.8 533h4.4v1.4h-4.4zM629.7 533h1.4v1.4h-1.4zM621.8 534h7.3v1.4h-7.3z"/><path fill="#08f" d="M635.6 527h1.4v1.4h-1.4zM628.7 529h1.4v1.4h-1.4zM623.7 531h1.4v1.4h-1.4zM616.8 532h4.4v1.4h-4.4zM632.7 532h2.4v1.4h-2.4zM616.8 533h2.4v1.4h-2.4zM636.6 533h1.4v1.4h-1.4zM616.8 534h1.4v1.4h-1.4zM617.8 535h2.4v1.4h-2.4zM627.7 535h2.4v1.4h-2.4zM618.8 536h4.4v1.4h-4.4zM624.7 536h1.4v1.4h-1.4zM621.8 538h1.4v1.4h-1.4zM622.8 539h1.4v1.4h-1.4z"/><path fill="#0ff" d="M605.9 528h1.4v1.4h-1.4zM627.7 528h1.4v1.4h-1.4zM602 529h1.4v1.4h-1.4zM601 530h1.4v1.4h-1.4zM600 531h1.4v1.4h-1.4zM600 532h2.4v1.4h-2.4zM609.9 533h1.4v1.4h-1.4zM631.7 535h3.4v1.4h-3.4zM613.8 536h1.4v1.4h-1.4zM630.7 536h1.4v1.4h-1.4zM615.8 538h1.4v1.4h-1.4zM616.8 539h1.4v1.4h-1.4zM617.8 540h1.4v1.4h-1.4zM620.8 541h1.4v1.4h-1.4zM624.7 541h1.4v1.4h-1.4z"/><path fill="#d00" d="M559.4 539h1.4v1.4h-1.4zM582.2 539h1.4v1.4h-1.4zM559.4 540h2.4v1.4h-2.4zM581.2 540h3.4v1.4h-3.4zM556.4 541h7.3v1.4h-7.3zM575.2 541h8.3v1.4h-8.3zM556.4 542h3.4v1.4h-3.4zM561.4 542h3.4v1.4h-3.4zM573.2 542h4.4v1.4h-4.4zM578.2 542h5.4v1.4h-5.4zM556.4 543h3.4v1.4h-3.4zM560.4 543h5.4v1.4h-5.4zM569.3 543h6.3v1.4h-6.3zM580.2 543h5.4v1.4h-5.4zM556.4 544h13.3v1.4h-13.3zM584.1 544h2.4v1.4h-2.4zM556.4 545h12.3v1.4h-12.3zM585.1 545h1.4v1.4h-1.4zM556.4 546h12.3v1.4h-12.3zM585.1 546h1.4v1.4h-1.4z"/><path fill="#c00" d="M559.4 542h2.4v1.4h-2.4zM577.2 542h1.4v1.4h-1.4zM559.4 543h1.4v1.4h-1.4zM575.2 543h5.4v1.4h-5.4zM569.3 544h7.3v1.4h-7.3zM580.2 544h4.4v1.4h-4.4zM568.3 545h7.3v1.4h-7.3zM583.1 545h2.4v1.4h-2.4zM568.3 546h7.3v1.4h-7.3zM583.1 546h2.4v1.4h-2.4z"/><path fill="#b00" d="M576.2 544h4.4v1.4h-4.4zM575.2 545h1.4v1.4h-1.4zM579.2 545h4.4v1.4h-4.4zM575.2 546h1.4v1.4h-1.4zM579.2 546h4.4v1.4h-4.4z"/><path fill="#a00" d="M576.2 545h3.4v1.4h-3.4zM576.2 546h3.4v1.4h-3.4z"/></g></g></g><path d="M169.5 587.5 L169.5 631.5 L457.5 631.5 L457.5 540.5" fill="none" stroke="#1a1a1a" stroke-width="1.2"/><path d="M457.5 535.5 L454.6 541 L460.4 541 Z" fill="#1a1a1a"/><path d="M598.5 578.5 L598.5 674.5" fill="none" stroke="#1a1a1a" stroke-width="1.2"/><path d="M598 674.3 L595.5 669.3 L600.5 669.3 Z" fill="#1a1a1a"/><circle cx="598" cy="683.7" r="9" fill="#fff" stroke="#000" stroke-width="2.2"/><path d="M589 683.7 H607 M598 674.7 V692.7" stroke="#000" stroke-width="2.2"/><path d="M642.5 683.5 L612.5 683.5" fill="none" stroke="#1a1a1a" stroke-width="1.2"/><path d="M607.5 683.5 L613 680.6 L613 686.4 Z" fill="#1a1a1a"/><path d="M588.5 683.5 L515.5 683.5" fill="none" stroke="#1a1a1a" stroke-width="1.2"/><path d="M510.5 683.5 L516 680.6 L516 686.4 Z" fill="#1a1a1a"/><rect x="421.5" y="639.5" width="89" height="89" fill="#fff" stroke="#5a5a5a" stroke-width="1.2"/><g clip-path="url(#c20)"><g filter="url(#bl0_55)"><g shape-rendering="crispEdges"><path fill="#e00" d="M424.4 680.6h7.3v1.4h-7.3zM434.3 680.6h3.4v1.4h-3.4zM440.3 680.6h3.4v1.4h-3.4zM424.4 681.6h7.3v1.4h-7.3zM434.3 681.6h3.4v1.4h-3.4zM440.3 681.6h3.4v1.4h-3.4zM424.4 682.6h12.3v1.4h-12.3zM440.3 682.6h2.4v1.4h-2.4zM424.4 683.6h10.3v1.4h-10.3zM437.3 683.6h4.4v1.4h-4.4zM424.4 684.6h11.3v1.4h-11.3zM436.3 684.6h2.4v1.4h-2.4zM424.4 685.6h9.3v1.4h-9.3zM434.3 685.6h2.4v1.4h-2.4zM426.4 686.6h7.3v1.4h-7.3zM427.4 687.6h1.4v1.4h-1.4zM432.3 687.6h2.4v1.4h-2.4zM431.3 688.6h2.4v1.4h-2.4zM426.4 699.5h1.4v1.4h-1.4zM448.2 699.5h2.4v1.4h-2.4zM452.1 699.5h1.4v1.4h-1.4zM427.4 700.5h1.4v1.4h-1.4zM443.2 700.5h1.4v1.4h-1.4zM428.4 701.5h1.4v1.4h-1.4zM440.3 701.5h1.4v1.4h-1.4zM429.4 702.4h1.4v1.4h-1.4zM434.3 702.4h2.4v1.4h-2.4zM439.3 702.4h1.4v1.4h-1.4zM456.1 702.4h1.4v1.4h-1.4zM430.4 703.4h4.4v1.4h-4.4zM456.1 703.4h1.4v1.4h-1.4zM430.4 704.4h3.4v1.4h-3.4zM456.1 704.4h1.4v1.4h-1.4zM430.4 705.4h2.4v1.4h-2.4zM456.1 705.4h1.4v1.4h-1.4zM428.4 706.4h2.4v1.4h-2.4zM455.1 706.4h2.4v1.4h-2.4zM428.4 707.4h2.4v1.4h-2.4zM455.1 707.4h2.4v1.4h-2.4z"/><path fill="#d00" d="M431.3 680.6h3.4v1.4h-3.4zM437.3 680.6h3.4v1.4h-3.4zM431.3 681.6h3.4v1.4h-3.4zM437.3 681.6h3.4v1.4h-3.4zM436.3 682.6h4.4v1.4h-4.4zM434.3 683.6h3.4v1.4h-3.4zM435.3 684.6h1.4v1.4h-1.4zM428.4 687.6h4.4v1.4h-4.4zM424.4 699.5h2.4v1.4h-2.4zM450.2 699.5h2.4v1.4h-2.4zM444.2 700.5h6.3v1.4h-6.3zM453.1 700.5h1.4v1.4h-1.4zM441.2 701.5h9.3v1.4h-9.3zM453.1 701.5h2.4v1.4h-2.4zM428.4 702.4h1.4v1.4h-1.4zM453.1 702.4h3.4v1.4h-3.4zM428.4 703.4h2.4v1.4h-2.4zM434.3 703.4h1.4v1.4h-1.4zM436.3 703.4h3.4v1.4h-3.4zM454.1 703.4h2.4v1.4h-2.4zM424.4 704.4h6.3v1.4h-6.3zM433.3 704.4h1.4v1.4h-1.4zM455.1 704.4h1.4v1.4h-1.4zM424.4 705.4h6.3v1.4h-6.3zM432.3 705.4h2.4v1.4h-2.4zM454.1 705.4h2.4v1.4h-2.4zM424.4 706.4h4.4v1.4h-4.4zM430.4 706.4h5.4v1.4h-5.4zM453.1 706.4h2.4v1.4h-2.4zM424.4 707.4h4.4v1.4h-4.4zM430.4 707.4h5.4v1.4h-5.4zM453.1 707.4h2.4v1.4h-2.4z"/><path fill="#f00" d="M443.2 680.6h3.4v1.4h-3.4zM448.2 680.6h8.3v1.4h-8.3zM457.1 680.6h1.4v1.4h-1.4zM443.2 681.6h3.4v1.4h-3.4zM448.2 681.6h8.3v1.4h-8.3zM457.1 681.6h1.4v1.4h-1.4zM442.2 682.6h4.4v1.4h-4.4zM448.2 682.6h9.3v1.4h-9.3zM441.2 683.6h4.4v1.4h-4.4zM448.2 683.6h5.4v1.4h-5.4zM438.3 684.6h7.3v1.4h-7.3zM433.3 685.6h1.4v1.4h-1.4zM436.3 685.6h3.4v1.4h-3.4zM440.3 685.6h5.4v1.4h-5.4zM424.4 686.6h2.4v1.4h-2.4zM433.3 686.6h3.4v1.4h-3.4zM426.4 687.6h1.4v1.4h-1.4zM434.3 687.6h2.4v1.4h-2.4zM430.4 688.6h1.4v1.4h-1.4zM433.3 688.6h2.4v1.4h-2.4zM445.2 699.5h3.4v1.4h-3.4zM442.2 700.5h1.4v1.4h-1.4zM454.1 700.5h1.4v1.4h-1.4zM455.1 701.5h1.4v1.4h-1.4zM433.3 702.4h1.4v1.4h-1.4zM436.3 702.4h1.4v1.4h-1.4zM457.1 703.4h1.4v1.4h-1.4zM457.1 704.4h1.4v1.4h-1.4zM457.1 705.4h1.4v1.4h-1.4zM457.1 706.4h1.4v1.4h-1.4zM457.1 707.4h1.4v1.4h-1.4z"/><path fill="#f10" d="M446.2 680.6h2.4v1.4h-2.4zM456.1 680.6h1.4v1.4h-1.4zM458.1 680.6h3.4v1.4h-3.4zM465 680.6h1.4v1.4h-1.4zM446.2 681.6h2.4v1.4h-2.4zM456.1 681.6h1.4v1.4h-1.4zM458.1 681.6h3.4v1.4h-3.4zM465 681.6h1.4v1.4h-1.4zM446.2 682.6h2.4v1.4h-2.4zM457.1 682.6h7.3v1.4h-7.3zM445.2 683.6h3.4v1.4h-3.4zM453.1 683.6h14.3v1.4h-14.3zM445.2 684.6h2.4v1.4h-2.4zM449.2 684.6h18.2v1.4h-18.2zM439.3 685.6h1.4v1.4h-1.4zM445.2 685.6h1.4v1.4h-1.4zM457.1 685.6h7.3v1.4h-7.3zM436.3 686.6h9.3v1.4h-9.3zM458.1 686.6h1.4v1.4h-1.4zM436.3 687.6h1.4v1.4h-1.4zM427.4 688.6h3.4v1.4h-3.4zM435.3 688.6h1.4v1.4h-1.4zM433.3 689.5h2.4v1.4h-2.4zM424.4 698.5h2.4v1.4h-2.4zM449.2 698.5h3.4v1.4h-3.4zM427.4 699.5h1.4v1.4h-1.4zM443.2 699.5h2.4v1.4h-2.4zM453.1 699.5h1.4v1.4h-1.4zM430.4 702.4h3.4v1.4h-3.4zM437.3 702.4h2.4v1.4h-2.4zM457.1 702.4h1.4v1.4h-1.4zM458.1 703.4h1.4v1.4h-1.4zM458.1 704.4h1.4v1.4h-1.4zM458.1 705.4h1.4v1.4h-1.4zM458.1 706.4h2.4v1.4h-2.4zM458.1 707.4h2.4v1.4h-2.4z"/><path fill="#f20" d="M461 680.6h4.4v1.4h-4.4zM466 680.6h2.4v1.4h-2.4zM461 681.6h4.4v1.4h-4.4zM466 681.6h2.4v1.4h-2.4zM464 682.6h4.4v1.4h-4.4zM467 683.6h1.4v1.4h-1.4zM447.2 684.6h2.4v1.4h-2.4zM467 684.6h1.4v1.4h-1.4zM453.1 685.6h4.4v1.4h-4.4zM464 685.6h3.4v1.4h-3.4zM455.1 686.6h3.4v1.4h-3.4zM459.1 686.6h5.4v1.4h-5.4zM424.4 687.6h2.4v1.4h-2.4zM437.3 687.6h1.4v1.4h-1.4zM457.1 687.6h5.4v1.4h-5.4zM436.3 688.6h1.4v1.4h-1.4zM432.3 689.5h1.4v1.4h-1.4zM435.3 689.5h1.4v1.4h-1.4zM448.2 698.5h1.4v1.4h-1.4zM428.4 700.5h1.4v1.4h-1.4zM441.2 700.5h1.4v1.4h-1.4zM429.4 701.5h1.4v1.4h-1.4zM433.3 701.5h3.4v1.4h-3.4zM439.3 701.5h1.4v1.4h-1.4zM456.1 701.5h1.4v1.4h-1.4zM458.1 702.4h1.4v1.4h-1.4zM459.1 703.4h1.4v1.4h-1.4zM459.1 704.4h1.4v1.4h-1.4zM459.1 705.4h2.4v1.4h-2.4zM460.1 706.4h2.4v1.4h-2.4zM460.1 707.4h2.4v1.4h-2.4z"/><path fill="#f30" d="M468 680.6h1.4v1.4h-1.4zM468 681.6h1.4v1.4h-1.4zM468 682.6h1.4v1.4h-1.4zM468 683.6h1.4v1.4h-1.4zM468 684.6h1.4v1.4h-1.4zM446.2 685.6h1.4v1.4h-1.4zM450.2 685.6h1.4v1.4h-1.4zM452.1 685.6h1.4v1.4h-1.4zM467 685.6h1.4v1.4h-1.4zM445.2 686.6h1.4v1.4h-1.4zM454.1 686.6h1.4v1.4h-1.4zM464 686.6h4.4v1.4h-4.4zM478.9 686.6h2.4v1.4h-2.4zM438.3 687.6h1.4v1.4h-1.4zM462 687.6h3.4v1.4h-3.4zM479.9 687.6h2.4v1.4h-2.4zM426.4 688.6h1.4v1.4h-1.4zM437.3 688.6h1.4v1.4h-1.4zM458.1 688.6h6.3v1.4h-6.3zM431.3 689.5h1.4v1.4h-1.4zM436.3 689.5h1.4v1.4h-1.4zM461 689.5h3.4v1.4h-3.4zM435.3 690.5h1.4v1.4h-1.4zM450.2 697.5h1.4v1.4h-1.4zM426.4 698.5h1.4v1.4h-1.4zM452.1 698.5h1.4v1.4h-1.4zM442.2 699.5h1.4v1.4h-1.4zM454.1 699.5h1.4v1.4h-1.4zM455.1 700.5h1.4v1.4h-1.4zM430.4 701.5h1.4v1.4h-1.4zM459.1 702.4h1.4v1.4h-1.4zM460.1 703.4h1.4v1.4h-1.4zM460.1 704.4h2.4v1.4h-2.4zM461 705.4h1.4v1.4h-1.4zM462 706.4h1.4v1.4h-1.4zM462 707.4h1.4v1.4h-1.4z"/><path fill="#f40" d="M469 680.6h3.4v1.4h-3.4zM469 681.6h3.4v1.4h-3.4zM469 682.6h2.4v1.4h-2.4zM469 683.6h2.4v1.4h-2.4zM469 684.6h2.4v1.4h-2.4zM449.2 685.6h1.4v1.4h-1.4zM451.1 685.6h1.4v1.4h-1.4zM468 685.6h3.4v1.4h-3.4zM477.9 685.6h4.4v1.4h-4.4zM468 686.6h2.4v1.4h-2.4zM480.9 686.6h2.4v1.4h-2.4zM483.8 686.6h1.4v1.4h-1.4zM439.3 687.6h1.4v1.4h-1.4zM442.2 687.6h2.4v1.4h-2.4zM456.1 687.6h1.4v1.4h-1.4zM465 687.6h3.4v1.4h-3.4zM481.8 687.6h3.4v1.4h-3.4zM438.3 688.6h1.4v1.4h-1.4zM457.1 688.6h1.4v1.4h-1.4zM464 688.6h3.4v1.4h-3.4zM430.4 689.5h1.4v1.4h-1.4zM437.3 689.5h1.4v1.4h-1.4zM460.1 689.5h1.4v1.4h-1.4zM464 689.5h2.4v1.4h-2.4zM485.8 689.5h1.4v1.4h-1.4zM434.3 690.5h1.4v1.4h-1.4zM436.3 690.5h1.4v1.4h-1.4zM448.2 697.5h2.4v1.4h-2.4zM451.1 697.5h1.4v1.4h-1.4zM443.2 698.5h5.4v1.4h-5.4zM440.3 700.5h1.4v1.4h-1.4zM431.3 701.5h2.4v1.4h-2.4zM436.3 701.5h1.4v1.4h-1.4zM457.1 701.5h2.4v1.4h-2.4zM460.1 702.4h1.4v1.4h-1.4zM461 703.4h1.4v1.4h-1.4zM462 705.4h1.4v1.4h-1.4zM463 706.4h1.4v1.4h-1.4zM463 707.4h1.4v1.4h-1.4z"/><path fill="#f50" d="M471.9 680.6h3.4v1.4h-3.4zM471.9 681.6h3.4v1.4h-3.4zM471 682.6h6.3v1.4h-6.3zM481.8 682.6h3.4v1.4h-3.4zM471 683.6h7.3v1.4h-7.3zM481.8 683.6h5.4v1.4h-5.4zM471 684.6h3.4v1.4h-3.4zM476.9 684.6h11.3v1.4h-11.3zM471 685.6h1.4v1.4h-1.4zM481.8 685.6h6.3v1.4h-6.3zM477.9 686.6h1.4v1.4h-1.4zM482.8 686.6h1.4v1.4h-1.4zM484.8 686.6h4.4v1.4h-4.4zM505.6 686.6h2.4v1.4h-2.4zM440.3 687.6h2.4v1.4h-2.4zM444.2 687.6h1.4v1.4h-1.4zM455.1 687.6h1.4v1.4h-1.4zM468 687.6h2.4v1.4h-2.4zM478.9 687.6h1.4v1.4h-1.4zM484.8 687.6h5.4v1.4h-5.4zM456.1 688.6h1.4v1.4h-1.4zM467 688.6h1.4v1.4h-1.4zM480.9 688.6h13.3v1.4h-13.3zM438.3 689.5h1.4v1.4h-1.4zM459.1 689.5h1.4v1.4h-1.4zM484.8 689.5h1.4v1.4h-1.4zM486.8 689.5h5.4v1.4h-5.4zM433.3 690.5h1.4v1.4h-1.4zM437.3 690.5h1.4v1.4h-1.4zM461 690.5h3.4v1.4h-3.4zM485.8 690.5h4.4v1.4h-4.4zM436.3 691.5h1.4v1.4h-1.4zM424.4 697.5h2.4v1.4h-2.4zM452.1 697.5h1.4v1.4h-1.4zM427.4 698.5h1.4v1.4h-1.4zM453.1 698.5h1.4v1.4h-1.4zM428.4 699.5h1.4v1.4h-1.4zM429.4 700.5h1.4v1.4h-1.4zM437.3 701.5h2.4v1.4h-2.4zM459.1 701.5h1.4v1.4h-1.4zM461 702.4h2.4v1.4h-2.4zM462 703.4h1.4v1.4h-1.4zM462 704.4h2.4v1.4h-2.4zM463 705.4h1.4v1.4h-1.4zM464 706.4h1.4v1.4h-1.4zM464 707.4h1.4v1.4h-1.4z"/><path fill="#f60" d="M474.9 680.6h18.2v1.4h-18.2zM474.9 681.6h18.2v1.4h-18.2zM476.9 682.6h5.4v1.4h-5.4zM484.8 682.6h5.4v1.4h-5.4zM477.9 683.6h4.4v1.4h-4.4zM486.8 683.6h4.4v1.4h-4.4zM473.9 684.6h3.4v1.4h-3.4zM487.8 684.6h4.4v1.4h-4.4zM498.7 684.6h6.3v1.4h-6.3zM447.2 685.6h2.4v1.4h-2.4zM476.9 685.6h1.4v1.4h-1.4zM487.8 685.6h4.4v1.4h-4.4zM496.7 685.6h2.4v1.4h-2.4zM500.7 685.6h7.3v1.4h-7.3zM446.2 686.6h1.4v1.4h-1.4zM450.2 686.6h1.4v1.4h-1.4zM453.1 686.6h1.4v1.4h-1.4zM470 686.6h1.4v1.4h-1.4zM488.8 686.6h8.3v1.4h-8.3zM503.6 686.6h2.4v1.4h-2.4zM489.8 687.6h7.3v1.4h-7.3zM424.4 688.6h2.4v1.4h-2.4zM439.3 688.6h1.4v1.4h-1.4zM493.7 688.6h3.4v1.4h-3.4zM427.4 689.5h3.4v1.4h-3.4zM458.1 689.5h1.4v1.4h-1.4zM466 689.5h1.4v1.4h-1.4zM483.8 689.5h1.4v1.4h-1.4zM491.7 689.5h1.4v1.4h-1.4zM460.1 690.5h1.4v1.4h-1.4zM464 690.5h1.4v1.4h-1.4zM484.8 690.5h1.4v1.4h-1.4zM489.8 690.5h1.4v1.4h-1.4zM434.3 691.5h2.4v1.4h-2.4zM487.8 691.5h1.4v1.4h-1.4zM449.2 696.5h1.4v1.4h-1.4zM446.2 697.5h2.4v1.4h-2.4zM441.2 699.5h1.4v1.4h-1.4zM455.1 699.5h1.4v1.4h-1.4zM430.4 700.5h1.4v1.4h-1.4zM434.3 700.5h1.4v1.4h-1.4zM456.1 700.5h1.4v1.4h-1.4zM463 701.5h1.4v1.4h-1.4zM463 702.4h2.4v1.4h-2.4zM463 703.4h1.4v1.4h-1.4zM464 704.4h1.4v1.4h-1.4zM464 705.4h1.4v1.4h-1.4z"/><path fill="#f70" d="M492.7 680.6h3.4v1.4h-3.4zM497.7 680.6h6.3v1.4h-6.3zM492.7 681.6h3.4v1.4h-3.4zM497.7 681.6h6.3v1.4h-6.3zM489.8 682.6h18.2v1.4h-18.2zM490.8 683.6h17.2v1.4h-17.2zM491.7 684.6h7.3v1.4h-7.3zM504.6 684.6h3.4v1.4h-3.4zM471.9 685.6h1.4v1.4h-1.4zM491.7 685.6h5.4v1.4h-5.4zM498.7 685.6h2.4v1.4h-2.4zM449.2 686.6h1.4v1.4h-1.4zM471 686.6h1.4v1.4h-1.4zM496.7 686.6h1.4v1.4h-1.4zM501.6 686.6h2.4v1.4h-2.4zM445.2 687.6h1.4v1.4h-1.4zM470 687.6h1.4v1.4h-1.4zM504.6 687.6h3.4v1.4h-3.4zM468 688.6h1.4v1.4h-1.4zM457.1 689.5h1.4v1.4h-1.4zM494.7 689.5h1.4v1.4h-1.4zM432.3 690.5h1.4v1.4h-1.4zM438.3 690.5h1.4v1.4h-1.4zM437.3 691.5h1.4v1.4h-1.4zM488.8 691.5h1.4v1.4h-1.4zM448.2 696.5h1.4v1.4h-1.4zM450.2 696.5h1.4v1.4h-1.4zM426.4 697.5h1.4v1.4h-1.4zM444.2 697.5h2.4v1.4h-2.4zM442.2 698.5h1.4v1.4h-1.4zM454.1 698.5h1.4v1.4h-1.4zM431.3 700.5h3.4v1.4h-3.4zM435.3 700.5h1.4v1.4h-1.4zM439.3 700.5h1.4v1.4h-1.4zM460.1 701.5h1.4v1.4h-1.4zM462 701.5h1.4v1.4h-1.4zM464 701.5h2.4v1.4h-2.4zM465 702.4h1.4v1.4h-1.4zM464 703.4h2.4v1.4h-2.4zM465 704.4h1.4v1.4h-1.4zM465 705.4h1.4v1.4h-1.4zM465 706.4h1.4v1.4h-1.4zM465 707.4h1.4v1.4h-1.4z"/><path fill="#f80" d="M495.7 680.6h2.4v1.4h-2.4zM503.6 680.6h4.4v1.4h-4.4zM495.7 681.6h2.4v1.4h-2.4zM503.6 681.6h4.4v1.4h-4.4zM472.9 685.6h1.4v1.4h-1.4zM475.9 685.6h1.4v1.4h-1.4zM451.1 686.6h2.4v1.4h-2.4zM500.7 686.6h1.4v1.4h-1.4zM454.1 687.6h1.4v1.4h-1.4zM496.7 687.6h1.4v1.4h-1.4zM469 688.6h1.4v1.4h-1.4zM479.9 688.6h1.4v1.4h-1.4zM426.4 689.5h1.4v1.4h-1.4zM439.3 689.5h1.4v1.4h-1.4zM467 689.5h1.4v1.4h-1.4zM482.8 689.5h1.4v1.4h-1.4zM492.7 689.5h2.4v1.4h-2.4zM431.3 690.5h1.4v1.4h-1.4zM459.1 690.5h1.4v1.4h-1.4zM465 690.5h1.4v1.4h-1.4zM483.8 690.5h1.4v1.4h-1.4zM490.8 690.5h1.4v1.4h-1.4zM433.3 691.5h1.4v1.4h-1.4zM461 691.5h2.4v1.4h-2.4zM486.8 691.5h1.4v1.4h-1.4zM447.2 696.5h1.4v1.4h-1.4zM451.1 696.5h1.4v1.4h-1.4zM443.2 697.5h1.4v1.4h-1.4zM453.1 697.5h1.4v1.4h-1.4zM429.4 699.5h1.4v1.4h-1.4zM436.3 700.5h1.4v1.4h-1.4zM457.1 700.5h3.4v1.4h-3.4zM461 701.5h1.4v1.4h-1.4zM466 701.5h1.4v1.4h-1.4zM466 702.4h1.4v1.4h-1.4zM466 703.4h1.4v1.4h-1.4zM466 704.4h1.4v1.4h-1.4zM466 705.4h1.4v1.4h-1.4zM466 706.4h1.4v1.4h-1.4zM466 707.4h1.4v1.4h-1.4z"/><path fill="#f90" d="M473.9 685.6h2.4v1.4h-2.4zM476.9 686.6h1.4v1.4h-1.4zM497.7 686.6h1.4v1.4h-1.4zM471 687.6h1.4v1.4h-1.4zM477.9 687.6h1.4v1.4h-1.4zM503.6 687.6h1.4v1.4h-1.4zM440.3 688.6h1.4v1.4h-1.4zM442.2 688.6h2.4v1.4h-2.4zM455.1 688.6h1.4v1.4h-1.4zM470 688.6h1.4v1.4h-1.4zM456.1 689.5h1.4v1.4h-1.4zM481.8 689.5h1.4v1.4h-1.4zM495.7 689.5h1.4v1.4h-1.4zM439.3 690.5h1.4v1.4h-1.4zM458.1 690.5h1.4v1.4h-1.4zM438.3 691.5h1.4v1.4h-1.4zM460.1 691.5h1.4v1.4h-1.4zM463 691.5h1.4v1.4h-1.4zM489.8 691.5h1.4v1.4h-1.4zM434.3 692.5h4.4v1.4h-4.4zM448.2 695.5h1.4v1.4h-1.4zM424.4 696.5h2.4v1.4h-2.4zM445.2 696.5h2.4v1.4h-2.4zM452.1 696.5h1.4v1.4h-1.4zM428.4 698.5h1.4v1.4h-1.4zM440.3 699.5h1.4v1.4h-1.4zM456.1 699.5h1.4v1.4h-1.4zM437.3 700.5h1.4v1.4h-1.4zM467 701.5h1.4v1.4h-1.4zM467 702.4h1.4v1.4h-1.4zM467 703.4h1.4v1.4h-1.4zM467 704.4h1.4v1.4h-1.4zM467 705.4h1.4v1.4h-1.4zM467 706.4h1.4v1.4h-1.4zM467 707.4h1.4v1.4h-1.4z"/><path fill="#fa0" d="M447.2 686.6h2.4v1.4h-2.4zM471.9 686.6h1.4v1.4h-1.4zM446.2 687.6h1.4v1.4h-1.4zM441.2 688.6h1.4v1.4h-1.4zM444.2 688.6h1.4v1.4h-1.4zM496.7 688.6h1.4v1.4h-1.4zM424.4 689.5h2.4v1.4h-2.4zM430.4 690.5h1.4v1.4h-1.4zM491.7 690.5h1.4v1.4h-1.4zM464 691.5h1.4v1.4h-1.4zM485.8 691.5h1.4v1.4h-1.4zM433.3 692.5h1.4v1.4h-1.4zM449.2 695.5h1.4v1.4h-1.4zM444.2 696.5h1.4v1.4h-1.4zM427.4 697.5h1.4v1.4h-1.4zM441.2 698.5h1.4v1.4h-1.4zM455.1 698.5h1.4v1.4h-1.4zM430.4 699.5h2.4v1.4h-2.4zM438.3 700.5h1.4v1.4h-1.4zM460.1 700.5h1.4v1.4h-1.4zM464 700.5h3.4v1.4h-3.4zM468 704.4h1.4v1.4h-1.4zM468 705.4h1.4v1.4h-1.4zM468 706.4h1.4v1.4h-1.4zM468 707.4h1.4v1.4h-1.4z"/><path fill="#fc0" d="M472.9 686.6h1.4v1.4h-1.4zM474.9 686.6h2.4v1.4h-2.4zM449.2 687.6h2.4v1.4h-2.4zM497.7 687.6h1.4v1.4h-1.4zM445.2 688.6h1.4v1.4h-1.4zM468 689.5h1.4v1.4h-1.4zM480.9 689.5h1.4v1.4h-1.4zM426.4 690.5h3.4v1.4h-3.4zM482.8 690.5h1.4v1.4h-1.4zM492.7 690.5h3.4v1.4h-3.4zM431.3 691.5h1.4v1.4h-1.4zM432.3 692.5h1.4v1.4h-1.4zM433.3 693.5h5.4v1.4h-5.4zM448.2 694.5h1.4v1.4h-1.4zM444.2 695.5h1.4v1.4h-1.4zM451.1 695.5h1.4v1.4h-1.4zM428.4 697.5h1.4v1.4h-1.4zM454.1 697.5h1.4v1.4h-1.4zM430.4 698.5h1.4v1.4h-1.4zM435.3 699.5h1.4v1.4h-1.4zM439.3 699.5h1.4v1.4h-1.4zM462 700.5h1.4v1.4h-1.4zM468 700.5h1.4v1.4h-1.4zM469 702.4h1.4v1.4h-1.4zM469 703.4h1.4v1.4h-1.4zM469 704.4h1.4v1.4h-1.4zM469 705.4h1.4v1.4h-1.4zM469 706.4h1.4v1.4h-1.4zM469 707.4h1.4v1.4h-1.4z"/><path fill="#fd0" d="M473.9 686.6h1.4v1.4h-1.4zM447.2 687.6h2.4v1.4h-2.4zM451.1 687.6h1.4v1.4h-1.4zM472.9 687.6h1.4v1.4h-1.4zM476.9 687.6h1.4v1.4h-1.4zM502.6 687.6h1.4v1.4h-1.4zM454.1 688.6h1.4v1.4h-1.4zM478.9 688.6h1.4v1.4h-1.4zM504.6 688.6h1.4v1.4h-1.4zM441.2 689.5h2.4v1.4h-2.4zM455.1 689.5h1.4v1.4h-1.4zM469 689.5h1.4v1.4h-1.4zM424.4 690.5h2.4v1.4h-2.4zM430.4 691.5h1.4v1.4h-1.4zM440.3 691.5h1.4v1.4h-1.4zM458.1 691.5h1.4v1.4h-1.4zM465 691.5h1.4v1.4h-1.4zM483.8 691.5h1.4v1.4h-1.4zM490.8 691.5h1.4v1.4h-1.4zM431.3 692.5h1.4v1.4h-1.4zM439.3 692.5h1.4v1.4h-1.4zM461 692.5h2.4v1.4h-2.4zM431.3 693.5h2.4v1.4h-2.4zM438.3 693.5h1.4v1.4h-1.4zM424.4 694.5h2.4v1.4h-2.4zM434.3 694.5h2.4v1.4h-2.4zM447.2 694.5h1.4v1.4h-1.4zM449.2 694.5h2.4v1.4h-2.4zM426.4 695.5h1.4v1.4h-1.4zM427.4 696.5h1.4v1.4h-1.4zM442.2 696.5h1.4v1.4h-1.4zM453.1 696.5h1.4v1.4h-1.4zM429.4 697.5h1.4v1.4h-1.4zM441.2 697.5h1.4v1.4h-1.4zM431.3 698.5h1.4v1.4h-1.4zM440.3 698.5h1.4v1.4h-1.4zM456.1 698.5h1.4v1.4h-1.4zM436.3 699.5h1.4v1.4h-1.4zM457.1 699.5h3.4v1.4h-3.4zM468 699.5h1.4v1.4h-1.4zM469 700.5h1.4v1.4h-1.4zM469 701.5h1.4v1.4h-1.4zM470 702.4h1.4v1.4h-1.4zM470 703.4h1.4v1.4h-1.4zM470 704.4h1.4v1.4h-1.4zM470 705.4h1.4v1.4h-1.4zM470 706.4h1.4v1.4h-1.4zM470 707.4h1.4v1.4h-1.4z"/><path fill="#fb0" d="M498.7 686.6h2.4v1.4h-2.4zM453.1 687.6h1.4v1.4h-1.4zM471.9 687.6h1.4v1.4h-1.4zM471 688.6h1.4v1.4h-1.4zM505.6 688.6h2.4v1.4h-2.4zM440.3 689.5h1.4v1.4h-1.4zM429.4 690.5h1.4v1.4h-1.4zM440.3 690.5h1.4v1.4h-1.4zM457.1 690.5h1.4v1.4h-1.4zM466 690.5h1.4v1.4h-1.4zM432.3 691.5h1.4v1.4h-1.4zM439.3 691.5h1.4v1.4h-1.4zM459.1 691.5h1.4v1.4h-1.4zM484.8 691.5h1.4v1.4h-1.4zM438.3 692.5h1.4v1.4h-1.4zM424.4 695.5h2.4v1.4h-2.4zM445.2 695.5h3.4v1.4h-3.4zM450.2 695.5h1.4v1.4h-1.4zM426.4 696.5h1.4v1.4h-1.4zM443.2 696.5h1.4v1.4h-1.4zM442.2 697.5h1.4v1.4h-1.4zM429.4 698.5h1.4v1.4h-1.4zM432.3 699.5h3.4v1.4h-3.4zM461 700.5h1.4v1.4h-1.4zM463 700.5h1.4v1.4h-1.4zM467 700.5h1.4v1.4h-1.4zM468 701.5h1.4v1.4h-1.4zM468 702.4h1.4v1.4h-1.4zM468 703.4h1.4v1.4h-1.4z"/><path fill="#fe0" d="M452.1 687.6h1.4v1.4h-1.4zM475.9 687.6h1.4v1.4h-1.4zM446.2 688.6h1.4v1.4h-1.4zM471.9 688.6h1.4v1.4h-1.4zM443.2 689.5h1.4v1.4h-1.4zM496.7 689.5h1.4v1.4h-1.4zM441.2 690.5h1.4v1.4h-1.4zM456.1 690.5h1.4v1.4h-1.4zM467 690.5h1.4v1.4h-1.4zM495.7 690.5h1.4v1.4h-1.4zM424.4 691.5h6.3v1.4h-6.3zM424.4 692.5h2.4v1.4h-2.4zM430.4 692.5h1.4v1.4h-1.4zM440.3 692.5h1.4v1.4h-1.4zM460.1 692.5h1.4v1.4h-1.4zM463 692.5h1.4v1.4h-1.4zM487.8 692.5h2.4v1.4h-2.4zM429.4 693.5h2.4v1.4h-2.4zM439.3 693.5h1.4v1.4h-1.4zM426.4 694.5h1.4v1.4h-1.4zM430.4 694.5h4.4v1.4h-4.4zM436.3 694.5h3.4v1.4h-3.4zM445.2 694.5h2.4v1.4h-2.4zM427.4 695.5h1.4v1.4h-1.4zM434.3 695.5h2.4v1.4h-2.4zM443.2 695.5h1.4v1.4h-1.4zM452.1 695.5h1.4v1.4h-1.4zM428.4 696.5h2.4v1.4h-2.4zM430.4 697.5h2.4v1.4h-2.4zM455.1 697.5h1.4v1.4h-1.4zM432.3 698.5h3.4v1.4h-3.4zM437.3 699.5h2.4v1.4h-2.4zM460.1 699.5h1.4v1.4h-1.4zM467 699.5h1.4v1.4h-1.4zM469 699.5h1.4v1.4h-1.4zM470 700.5h1.4v1.4h-1.4zM470 701.5h1.4v1.4h-1.4zM471 702.4h1.4v1.4h-1.4zM471 703.4h1.4v1.4h-1.4zM471 704.4h1.4v1.4h-1.4zM471 705.4h1.4v1.4h-1.4zM471 706.4h1.4v1.4h-1.4zM471 707.4h1.4v1.4h-1.4z"/><path fill="#ff0" d="M473.9 687.6h2.4v1.4h-2.4zM498.7 687.6h1.4v1.4h-1.4zM500.7 687.6h2.4v1.4h-2.4zM444.2 689.5h1.4v1.4h-1.4zM470 689.5h1.4v1.4h-1.4zM457.1 691.5h1.4v1.4h-1.4zM426.4 692.5h4.4v1.4h-4.4zM464 692.5h1.4v1.4h-1.4zM486.8 692.5h1.4v1.4h-1.4zM424.4 693.5h5.4v1.4h-5.4zM440.3 693.5h1.4v1.4h-1.4zM427.4 694.5h3.4v1.4h-3.4zM439.3 694.5h2.4v1.4h-2.4zM444.2 694.5h1.4v1.4h-1.4zM451.1 694.5h1.4v1.4h-1.4zM428.4 695.5h6.3v1.4h-6.3zM436.3 695.5h4.4v1.4h-4.4zM442.2 695.5h1.4v1.4h-1.4zM430.4 696.5h7.3v1.4h-7.3zM441.2 696.5h1.4v1.4h-1.4zM432.3 697.5h4.4v1.4h-4.4zM435.3 698.5h2.4v1.4h-2.4zM466 699.5h1.4v1.4h-1.4zM470 699.5h2.4v1.4h-2.4zM471 700.5h1.4v1.4h-1.4zM471 701.5h1.4v1.4h-1.4zM471.9 702.4h1.4v1.4h-1.4zM471.9 703.4h1.4v1.4h-1.4zM471.9 704.4h1.4v1.4h-1.4zM471.9 706.4h1.4v1.4h-1.4zM471.9 707.4h1.4v1.4h-1.4z"/><path fill="#ef1" d="M499.7 687.6h1.4v1.4h-1.4zM447.2 688.6h1.4v1.4h-1.4zM449.2 688.6h1.4v1.4h-1.4zM472.9 688.6h1.4v1.4h-1.4zM474.9 688.6h1.4v1.4h-1.4zM477.9 688.6h1.4v1.4h-1.4zM497.7 688.6h1.4v1.4h-1.4zM445.2 689.5h1.4v1.4h-1.4zM442.2 690.5h1.4v1.4h-1.4zM441.2 691.5h1.4v1.4h-1.4zM466 691.5h1.4v1.4h-1.4zM491.7 691.5h1.4v1.4h-1.4zM441.2 692.5h1.4v1.4h-1.4zM459.1 692.5h1.4v1.4h-1.4zM485.8 692.5h1.4v1.4h-1.4zM489.8 692.5h1.4v1.4h-1.4zM441.2 693.5h1.4v1.4h-1.4zM446.2 693.5h4.4v1.4h-4.4zM441.2 694.5h3.4v1.4h-3.4zM440.3 695.5h2.4v1.4h-2.4zM437.3 696.5h4.4v1.4h-4.4zM436.3 697.5h3.4v1.4h-3.4zM440.3 697.5h1.4v1.4h-1.4zM437.3 698.5h3.4v1.4h-3.4zM461 699.5h1.4v1.4h-1.4zM465 699.5h1.4v1.4h-1.4zM471.9 699.5h1.4v1.4h-1.4zM471.9 700.5h1.4v1.4h-1.4zM471.9 701.5h1.4v1.4h-1.4zM472.9 702.4h1.4v1.4h-1.4zM472.9 703.4h1.4v1.4h-1.4zM472.9 704.4h1.4v1.4h-1.4zM471.9 705.4h1.4v1.4h-1.4z"/><path fill="#df2" d="M448.2 688.6h1.4v1.4h-1.4zM450.2 688.6h1.4v1.4h-1.4zM453.1 688.6h1.4v1.4h-1.4zM473.9 688.6h1.4v1.4h-1.4zM475.9 688.6h2.4v1.4h-2.4zM446.2 689.5h1.4v1.4h-1.4zM454.1 689.5h1.4v1.4h-1.4zM471 689.5h1.4v1.4h-1.4zM479.9 689.5h1.4v1.4h-1.4zM505.6 689.5h2.4v1.4h-2.4zM443.2 690.5h2.4v1.4h-2.4zM481.8 690.5h1.4v1.4h-1.4zM442.2 691.5h1.4v1.4h-1.4zM442.2 692.5h1.4v1.4h-1.4zM465 692.5h1.4v1.4h-1.4zM484.8 692.5h1.4v1.4h-1.4zM442.2 693.5h4.4v1.4h-4.4zM450.2 693.5h1.4v1.4h-1.4zM453.1 695.5h1.4v1.4h-1.4zM454.1 696.5h1.4v1.4h-1.4zM439.3 697.5h1.4v1.4h-1.4zM456.1 697.5h1.4v1.4h-1.4zM457.1 698.5h1.4v1.4h-1.4zM471 698.5h2.4v1.4h-2.4zM462 699.5h1.4v1.4h-1.4zM464 699.5h1.4v1.4h-1.4zM472.9 699.5h1.4v1.4h-1.4zM472.9 700.5h1.4v1.4h-1.4zM472.9 701.5h1.4v1.4h-1.4zM473.9 702.4h1.4v1.4h-1.4zM473.9 703.4h1.4v1.4h-1.4zM473.9 704.4h1.4v1.4h-1.4zM472.9 705.4h2.4v1.4h-2.4zM472.9 706.4h2.4v1.4h-2.4zM472.9 707.4h2.4v1.4h-2.4z"/><path fill="#cf3" d="M451.1 688.6h1.4v1.4h-1.4zM503.6 688.6h1.4v1.4h-1.4zM447.2 689.5h1.4v1.4h-1.4zM445.2 690.5h1.4v1.4h-1.4zM455.1 690.5h1.4v1.4h-1.4zM468 690.5h1.4v1.4h-1.4zM443.2 691.5h3.4v1.4h-3.4zM482.8 691.5h1.4v1.4h-1.4zM492.7 691.5h3.4v1.4h-3.4zM443.2 692.5h5.4v1.4h-5.4zM458.1 692.5h1.4v1.4h-1.4zM451.1 693.5h1.4v1.4h-1.4zM461 693.5h1.4v1.4h-1.4zM452.1 694.5h1.4v1.4h-1.4zM468 698.5h3.4v1.4h-3.4zM463 699.5h1.4v1.4h-1.4zM473.9 700.5h1.4v1.4h-1.4zM473.9 701.5h1.4v1.4h-1.4zM474.9 702.4h1.4v1.4h-1.4zM474.9 703.4h1.4v1.4h-1.4zM474.9 704.4h1.4v1.4h-1.4zM474.9 705.4h1.4v1.4h-1.4zM474.9 706.4h1.4v1.4h-1.4zM474.9 707.4h1.4v1.4h-1.4z"/><path fill="#bf4" d="M452.1 688.6h1.4v1.4h-1.4zM448.2 689.5h2.4v1.4h-2.4zM446.2 690.5h2.4v1.4h-2.4zM446.2 691.5h2.4v1.4h-2.4zM456.1 691.5h1.4v1.4h-1.4zM467 691.5h1.4v1.4h-1.4zM448.2 692.5h2.4v1.4h-2.4zM466 692.5h1.4v1.4h-1.4zM483.8 692.5h1.4v1.4h-1.4zM490.8 692.5h1.4v1.4h-1.4zM460.1 693.5h1.4v1.4h-1.4zM462 693.5h1.4v1.4h-1.4zM455.1 696.5h1.4v1.4h-1.4zM458.1 698.5h1.4v1.4h-1.4zM467 698.5h1.4v1.4h-1.4zM472.9 698.5h1.4v1.4h-1.4zM473.9 699.5h1.4v1.4h-1.4zM474.9 701.5h1.4v1.4h-1.4zM475.9 703.4h1.4v1.4h-1.4zM475.9 704.4h1.4v1.4h-1.4zM475.9 705.4h1.4v1.4h-1.4zM475.9 706.4h1.4v1.4h-1.4zM475.9 707.4h1.4v1.4h-1.4z"/><path fill="#9f6" d="M498.7 688.6h1.4v1.4h-1.4zM451.1 689.5h1.4v1.4h-1.4zM453.1 689.5h1.4v1.4h-1.4zM478.9 689.5h1.4v1.4h-1.4zM497.7 689.5h1.4v1.4h-1.4zM504.6 689.5h1.4v1.4h-1.4zM450.2 690.5h1.4v1.4h-1.4zM454.1 690.5h1.4v1.4h-1.4zM450.2 691.5h1.4v1.4h-1.4zM455.1 691.5h1.4v1.4h-1.4zM495.7 691.5h1.4v1.4h-1.4zM452.1 692.5h1.4v1.4h-1.4zM453.1 693.5h1.4v1.4h-1.4zM459.1 693.5h1.4v1.4h-1.4zM463 693.5h2.4v1.4h-2.4zM454.1 694.5h1.4v1.4h-1.4zM455.1 695.5h1.4v1.4h-1.4zM456.1 696.5h1.4v1.4h-1.4zM457.1 697.5h1.4v1.4h-1.4zM460.1 698.5h1.4v1.4h-1.4zM466 698.5h1.4v1.4h-1.4zM473.9 698.5h1.4v1.4h-1.4zM474.9 699.5h1.4v1.4h-1.4zM475.9 700.5h1.4v1.4h-1.4zM476.9 702.4h1.4v1.4h-1.4zM476.9 703.4h1.4v1.4h-1.4zM476.9 704.4h1.4v1.4h-1.4zM477.9 706.4h1.4v1.4h-1.4zM477.9 707.4h1.4v1.4h-1.4z"/><path fill="#6f9" d="M499.7 688.6h1.4v1.4h-1.4zM502.6 688.6h1.4v1.4h-1.4zM471 690.5h1.4v1.4h-1.4zM482.8 692.5h1.4v1.4h-1.4zM467 693.5h1.4v1.4h-1.4zM486.8 693.5h1.4v1.4h-1.4zM489.8 693.5h1.4v1.4h-1.4zM457.1 694.5h3.4v1.4h-3.4zM463 694.5h1.4v1.4h-1.4zM457.1 695.5h1.4v1.4h-1.4zM457.1 696.5h1.4v1.4h-1.4zM471.9 696.5h1.4v1.4h-1.4zM458.1 697.5h1.4v1.4h-1.4zM473.9 697.5h1.4v1.4h-1.4zM463 698.5h1.4v1.4h-1.4zM475.9 698.5h1.4v1.4h-1.4zM477.9 699.5h1.4v1.4h-1.4zM478.9 700.5h1.4v1.4h-1.4zM478.9 701.5h2.4v1.4h-2.4zM478.9 702.4h1.4v1.4h-1.4zM478.9 703.4h2.4v1.4h-2.4zM478.9 704.4h2.4v1.4h-2.4zM479.9 705.4h2.4v1.4h-2.4zM480.9 706.4h3.4v1.4h-3.4zM480.9 707.4h3.4v1.4h-3.4z"/><path fill="#4fb" d="M500.7 688.6h1.4v1.4h-1.4zM471.9 690.5h1.4v1.4h-1.4zM496.7 691.5h1.4v1.4h-1.4zM493.7 692.5h1.4v1.4h-1.4zM483.8 693.5h1.4v1.4h-1.4zM487.8 693.5h1.4v1.4h-1.4zM491.7 693.5h1.4v1.4h-1.4zM466 694.5h1.4v1.4h-1.4zM463 695.5h2.4v1.4h-2.4zM460.1 696.5h5.4v1.4h-5.4zM471 696.5h1.4v1.4h-1.4zM460.1 697.5h2.4v1.4h-2.4zM464 697.5h3.4v1.4h-3.4zM475.9 697.5h1.4v1.4h-1.4zM477.9 698.5h1.4v1.4h-1.4zM478.9 699.5h1.4v1.4h-1.4zM480.9 700.5h2.4v1.4h-2.4zM482.8 701.5h2.4v1.4h-2.4zM481.8 702.4h3.4v1.4h-3.4zM481.8 703.4h3.4v1.4h-3.4zM491.7 703.4h2.4v1.4h-2.4zM482.8 704.4h6.3v1.4h-6.3zM490.8 704.4h3.4v1.4h-3.4zM484.8 705.4h4.4v1.4h-4.4zM490.8 705.4h5.4v1.4h-5.4zM485.8 706.4h3.4v1.4h-3.4zM490.8 706.4h7.3v1.4h-7.3zM485.8 707.4h3.4v1.4h-3.4zM490.8 707.4h7.3v1.4h-7.3z"/><path fill="#3fc" d="M501.6 688.6h1.4v1.4h-1.4zM498.7 689.5h1.4v1.4h-1.4zM503.6 689.5h1.4v1.4h-1.4zM472.9 690.5h1.4v1.4h-1.4zM479.9 690.5h1.4v1.4h-1.4zM470 691.5h1.4v1.4h-1.4zM468 693.5h1.4v1.4h-1.4zM467 694.5h1.4v1.4h-1.4zM465 695.5h2.4v1.4h-2.4zM465 696.5h2.4v1.4h-2.4zM468 696.5h3.4v1.4h-3.4zM473.9 696.5h1.4v1.4h-1.4zM462 697.5h2.4v1.4h-2.4zM476.9 697.5h1.4v1.4h-1.4zM502.6 698.5h1.4v1.4h-1.4zM479.9 699.5h1.4v1.4h-1.4zM502.6 699.5h1.4v1.4h-1.4zM482.8 700.5h1.4v1.4h-1.4zM484.8 702.4h1.4v1.4h-1.4zM492.7 702.4h4.4v1.4h-4.4zM484.8 703.4h4.4v1.4h-4.4zM490.8 703.4h1.4v1.4h-1.4zM493.7 703.4h2.4v1.4h-2.4zM502.6 703.4h1.4v1.4h-1.4zM488.8 704.4h2.4v1.4h-2.4zM493.7 704.4h3.4v1.4h-3.4zM501.6 704.4h2.4v1.4h-2.4zM488.8 705.4h2.4v1.4h-2.4zM495.7 705.4h3.4v1.4h-3.4zM500.7 705.4h2.4v1.4h-2.4zM488.8 706.4h2.4v1.4h-2.4zM497.7 706.4h7.3v1.4h-7.3zM505.6 706.4h2.4v1.4h-2.4zM488.8 707.4h2.4v1.4h-2.4zM497.7 707.4h7.3v1.4h-7.3zM505.6 707.4h2.4v1.4h-2.4z"/><path fill="#af5" d="M450.2 689.5h1.4v1.4h-1.4zM471.9 689.5h1.4v1.4h-1.4zM448.2 690.5h2.4v1.4h-2.4zM469 690.5h1.4v1.4h-1.4zM496.7 690.5h1.4v1.4h-1.4zM448.2 691.5h2.4v1.4h-2.4zM450.2 692.5h2.4v1.4h-2.4zM457.1 692.5h1.4v1.4h-1.4zM452.1 693.5h1.4v1.4h-1.4zM465 693.5h1.4v1.4h-1.4zM453.1 694.5h1.4v1.4h-1.4zM454.1 695.5h1.4v1.4h-1.4zM471.9 697.5h1.4v1.4h-1.4zM459.1 698.5h1.4v1.4h-1.4zM474.9 700.5h1.4v1.4h-1.4zM475.9 701.5h1.4v1.4h-1.4zM475.9 702.4h1.4v1.4h-1.4zM476.9 705.4h1.4v1.4h-1.4zM476.9 706.4h1.4v1.4h-1.4zM476.9 707.4h1.4v1.4h-1.4z"/><path fill="#8f7" d="M452.1 689.5h1.4v1.4h-1.4zM472.9 689.5h4.4v1.4h-4.4zM451.1 690.5h3.4v1.4h-3.4zM470 690.5h1.4v1.4h-1.4zM451.1 691.5h4.4v1.4h-4.4zM453.1 692.5h1.4v1.4h-1.4zM456.1 692.5h1.4v1.4h-1.4zM467 692.5h1.4v1.4h-1.4zM491.7 692.5h1.4v1.4h-1.4zM454.1 693.5h2.4v1.4h-2.4zM458.1 693.5h1.4v1.4h-1.4zM466 693.5h1.4v1.4h-1.4zM455.1 694.5h1.4v1.4h-1.4zM461 694.5h1.4v1.4h-1.4zM471 697.5h1.4v1.4h-1.4zM472.9 697.5h1.4v1.4h-1.4zM461 698.5h1.4v1.4h-1.4zM465 698.5h1.4v1.4h-1.4zM475.9 699.5h1.4v1.4h-1.4zM476.9 700.5h1.4v1.4h-1.4zM476.9 701.5h1.4v1.4h-1.4zM477.9 702.4h1.4v1.4h-1.4zM477.9 704.4h1.4v1.4h-1.4zM477.9 705.4h1.4v1.4h-1.4zM478.9 706.4h1.4v1.4h-1.4zM478.9 707.4h1.4v1.4h-1.4z"/><path fill="#7f8" d="M476.9 689.5h2.4v1.4h-2.4zM480.9 690.5h1.4v1.4h-1.4zM505.6 690.5h2.4v1.4h-2.4zM468 691.5h1.4v1.4h-1.4zM454.1 692.5h2.4v1.4h-2.4zM492.7 692.5h1.4v1.4h-1.4zM456.1 693.5h2.4v1.4h-2.4zM484.8 693.5h2.4v1.4h-2.4zM456.1 694.5h1.4v1.4h-1.4zM460.1 694.5h1.4v1.4h-1.4zM462 694.5h1.4v1.4h-1.4zM456.1 695.5h1.4v1.4h-1.4zM468 697.5h3.4v1.4h-3.4zM462 698.5h1.4v1.4h-1.4zM464 698.5h1.4v1.4h-1.4zM474.9 698.5h1.4v1.4h-1.4zM476.9 699.5h1.4v1.4h-1.4zM477.9 700.5h1.4v1.4h-1.4zM477.9 701.5h1.4v1.4h-1.4zM477.9 703.4h1.4v1.4h-1.4zM478.9 705.4h1.4v1.4h-1.4zM479.9 706.4h1.4v1.4h-1.4zM479.9 707.4h1.4v1.4h-1.4z"/><path fill="#0ff" d="M499.7 689.5h1.4v1.4h-1.4zM475.9 690.5h1.4v1.4h-1.4zM498.7 690.5h1.4v1.4h-1.4zM471 692.5h2.4v1.4h-2.4zM470 693.5h3.4v1.4h-3.4zM470 694.5h4.4v1.4h-4.4zM474.9 695.5h1.4v1.4h-1.4zM476.9 696.5h1.4v1.4h-1.4zM478.9 697.5h1.4v1.4h-1.4zM502.6 697.5h1.4v1.4h-1.4zM497.7 698.5h1.4v1.4h-1.4zM505.6 698.5h2.4v1.4h-2.4zM482.8 699.5h1.4v1.4h-1.4zM496.7 699.5h1.4v1.4h-1.4zM494.7 700.5h1.4v1.4h-1.4zM491.7 701.5h1.4v1.4h-1.4zM487.8 702.4h1.4v1.4h-1.4z"/><path fill="#0cf" d="M500.7 689.5h1.4v1.4h-1.4zM476.9 691.5h4.4v1.4h-4.4zM476.9 692.5h1.4v1.4h-1.4zM476.9 693.5h1.4v1.4h-1.4zM476.9 694.5h1.4v1.4h-1.4zM486.8 694.5h1.4v1.4h-1.4zM488.8 694.5h1.4v1.4h-1.4zM477.9 695.5h1.4v1.4h-1.4zM478.9 696.5h1.4v1.4h-1.4zM497.7 697.5h1.4v1.4h-1.4zM505.6 697.5h2.4v1.4h-2.4zM491.7 700.5h1.4v1.4h-1.4zM487.8 701.5h3.4v1.4h-3.4z"/><path fill="#0af" d="M501.6 689.5h1.4v1.4h-1.4zM498.7 691.5h1.4v1.4h-1.4zM478.9 692.5h2.4v1.4h-2.4zM478.9 693.5h1.4v1.4h-1.4zM477.9 694.5h2.4v1.4h-2.4zM482.8 694.5h1.4v1.4h-1.4zM478.9 695.5h1.4v1.4h-1.4zM480.9 696.5h1.4v1.4h-1.4zM498.7 696.5h1.4v1.4h-1.4zM500.7 696.5h5.4v1.4h-5.4zM481.8 697.5h1.4v1.4h-1.4zM496.7 697.5h1.4v1.4h-1.4zM483.8 698.5h1.4v1.4h-1.4zM495.7 698.5h1.4v1.4h-1.4zM484.8 699.5h1.4v1.4h-1.4zM491.7 699.5h2.4v1.4h-2.4zM486.8 700.5h4.4v1.4h-4.4z"/><path fill="#0df" d="M502.6 689.5h1.4v1.4h-1.4zM474.9 691.5h2.4v1.4h-2.4zM474.9 692.5h2.4v1.4h-2.4zM474.9 693.5h2.4v1.4h-2.4zM481.8 693.5h1.4v1.4h-1.4zM475.9 694.5h1.4v1.4h-1.4zM483.8 694.5h1.4v1.4h-1.4zM490.8 694.5h2.4v1.4h-2.4zM476.9 695.5h1.4v1.4h-1.4zM479.9 697.5h1.4v1.4h-1.4zM481.8 698.5h1.4v1.4h-1.4zM496.7 698.5h1.4v1.4h-1.4zM483.8 699.5h1.4v1.4h-1.4zM495.7 699.5h1.4v1.4h-1.4zM492.7 700.5h1.4v1.4h-1.4zM486.8 701.5h1.4v1.4h-1.4zM490.8 701.5h1.4v1.4h-1.4z"/><path fill="#1fe" d="M473.9 690.5h2.4v1.4h-2.4zM476.9 690.5h2.4v1.4h-2.4zM504.6 690.5h1.4v1.4h-1.4zM471 691.5h2.4v1.4h-2.4zM505.6 691.5h2.4v1.4h-2.4zM470 692.5h1.4v1.4h-1.4zM481.8 692.5h1.4v1.4h-1.4zM469 693.5h1.4v1.4h-1.4zM482.8 693.5h1.4v1.4h-1.4zM492.7 693.5h1.4v1.4h-1.4zM468 694.5h2.4v1.4h-2.4zM468 695.5h4.4v1.4h-4.4zM473.9 695.5h1.4v1.4h-1.4zM475.9 696.5h1.4v1.4h-1.4zM479.9 698.5h1.4v1.4h-1.4zM498.7 698.5h1.4v1.4h-1.4zM504.6 698.5h1.4v1.4h-1.4zM481.8 699.5h1.4v1.4h-1.4zM483.8 700.5h1.4v1.4h-1.4zM495.7 700.5h2.4v1.4h-2.4zM505.6 700.5h2.4v1.4h-2.4zM492.7 701.5h1.4v1.4h-1.4zM498.7 701.5h2.4v1.4h-2.4zM505.6 701.5h2.4v1.4h-2.4zM486.8 702.4h1.4v1.4h-1.4zM490.8 702.4h1.4v1.4h-1.4z"/><path fill="#2fd" d="M478.9 690.5h1.4v1.4h-1.4zM469 692.5h1.4v1.4h-1.4zM494.7 692.5h1.4v1.4h-1.4zM467 695.5h1.4v1.4h-1.4zM471.9 695.5h2.4v1.4h-2.4zM467 696.5h1.4v1.4h-1.4zM474.9 696.5h1.4v1.4h-1.4zM477.9 697.5h1.4v1.4h-1.4zM478.9 698.5h1.4v1.4h-1.4zM499.7 698.5h3.4v1.4h-3.4zM503.6 698.5h1.4v1.4h-1.4zM480.9 699.5h1.4v1.4h-1.4zM497.7 699.5h5.4v1.4h-5.4zM503.6 699.5h4.4v1.4h-4.4zM497.7 700.5h8.3v1.4h-8.3zM484.8 701.5h1.4v1.4h-1.4zM493.7 701.5h5.4v1.4h-5.4zM500.7 701.5h5.4v1.4h-5.4zM485.8 702.4h1.4v1.4h-1.4zM491.7 702.4h1.4v1.4h-1.4zM496.7 702.4h11.3v1.4h-11.3zM488.8 703.4h2.4v1.4h-2.4zM495.7 703.4h7.3v1.4h-7.3zM503.6 703.4h4.4v1.4h-4.4zM496.7 704.4h5.4v1.4h-5.4zM503.6 704.4h4.4v1.4h-4.4zM498.7 705.4h2.4v1.4h-2.4zM502.6 705.4h5.4v1.4h-5.4zM504.6 706.4h1.4v1.4h-1.4zM504.6 707.4h1.4v1.4h-1.4z"/><path fill="#5fa" d="M497.7 690.5h1.4v1.4h-1.4zM469 691.5h1.4v1.4h-1.4zM481.8 691.5h1.4v1.4h-1.4zM468 692.5h1.4v1.4h-1.4zM488.8 693.5h1.4v1.4h-1.4zM490.8 693.5h1.4v1.4h-1.4zM464 694.5h2.4v1.4h-2.4zM458.1 695.5h5.4v1.4h-5.4zM458.1 696.5h2.4v1.4h-2.4zM472.9 696.5h1.4v1.4h-1.4zM459.1 697.5h1.4v1.4h-1.4zM467 697.5h1.4v1.4h-1.4zM474.9 697.5h1.4v1.4h-1.4zM476.9 698.5h1.4v1.4h-1.4zM479.9 700.5h1.4v1.4h-1.4zM480.9 701.5h2.4v1.4h-2.4zM479.9 702.4h2.4v1.4h-2.4zM480.9 703.4h1.4v1.4h-1.4zM480.9 704.4h2.4v1.4h-2.4zM481.8 705.4h3.4v1.4h-3.4zM483.8 706.4h2.4v1.4h-2.4zM483.8 707.4h2.4v1.4h-2.4z"/><path fill="#0bf" d="M499.7 690.5h1.4v1.4h-1.4zM503.6 690.5h1.4v1.4h-1.4zM477.9 692.5h1.4v1.4h-1.4zM480.9 692.5h1.4v1.4h-1.4zM496.7 692.5h1.4v1.4h-1.4zM477.9 693.5h1.4v1.4h-1.4zM480.9 693.5h1.4v1.4h-1.4zM493.7 693.5h1.4v1.4h-1.4zM487.8 694.5h1.4v1.4h-1.4zM492.7 694.5h1.4v1.4h-1.4zM479.9 696.5h1.4v1.4h-1.4zM499.7 696.5h1.4v1.4h-1.4zM480.9 697.5h1.4v1.4h-1.4zM482.8 698.5h1.4v1.4h-1.4zM493.7 699.5h2.4v1.4h-2.4zM485.8 700.5h1.4v1.4h-1.4zM490.8 700.5h1.4v1.4h-1.4z"/><path fill="#08f" d="M500.7 690.5h1.4v1.4h-1.4zM502.6 690.5h1.4v1.4h-1.4zM497.7 692.5h1.4v1.4h-1.4zM505.6 692.5h2.4v1.4h-2.4zM494.7 693.5h1.4v1.4h-1.4zM481.8 695.5h2.4v1.4h-2.4zM486.8 695.5h4.4v1.4h-4.4zM482.8 696.5h3.4v1.4h-3.4zM496.7 696.5h1.4v1.4h-1.4zM505.6 696.5h2.4v1.4h-2.4zM483.8 697.5h1.4v1.4h-1.4zM495.7 697.5h1.4v1.4h-1.4zM484.8 698.5h1.4v1.4h-1.4zM490.8 698.5h1.4v1.4h-1.4zM493.7 698.5h2.4v1.4h-2.4zM486.8 699.5h3.4v1.4h-3.4z"/><path fill="#07f" d="M501.6 690.5h1.4v1.4h-1.4zM499.7 691.5h1.4v1.4h-1.4zM490.8 695.5h3.4v1.4h-3.4zM499.7 695.5h5.4v1.4h-5.4zM485.8 696.5h5.4v1.4h-5.4zM484.8 697.5h6.3v1.4h-6.3zM494.7 697.5h1.4v1.4h-1.4zM485.8 698.5h5.4v1.4h-5.4zM491.7 698.5h2.4v1.4h-2.4z"/><path fill="#0ef" d="M472.9 691.5h2.4v1.4h-2.4zM480.9 691.5h1.4v1.4h-1.4zM497.7 691.5h1.4v1.4h-1.4zM472.9 692.5h2.4v1.4h-2.4zM495.7 692.5h1.4v1.4h-1.4zM472.9 693.5h2.4v1.4h-2.4zM473.9 694.5h2.4v1.4h-2.4zM484.8 694.5h2.4v1.4h-2.4zM489.8 694.5h1.4v1.4h-1.4zM475.9 695.5h1.4v1.4h-1.4zM477.9 696.5h1.4v1.4h-1.4zM498.7 697.5h4.4v1.4h-4.4zM503.6 697.5h2.4v1.4h-2.4zM480.9 698.5h1.4v1.4h-1.4zM484.8 700.5h1.4v1.4h-1.4zM493.7 700.5h1.4v1.4h-1.4zM485.8 701.5h1.4v1.4h-1.4zM488.8 702.4h2.4v1.4h-2.4z"/><path fill="#05f" d="M500.7 691.5h4.4v1.4h-4.4zM498.7 692.5h1.4v1.4h-1.4zM496.7 693.5h1.4v1.4h-1.4zM494.7 694.5h2.4v1.4h-2.4zM499.7 694.5h5.4v1.4h-5.4zM493.7 695.5h4.4v1.4h-4.4zM493.7 696.5h2.4v1.4h-2.4z"/><path fill="#09f" d="M504.6 691.5h1.4v1.4h-1.4zM479.9 693.5h1.4v1.4h-1.4zM479.9 694.5h3.4v1.4h-3.4zM479.9 695.5h2.4v1.4h-2.4zM483.8 695.5h3.4v1.4h-3.4zM481.8 696.5h1.4v1.4h-1.4zM497.7 696.5h1.4v1.4h-1.4zM482.8 697.5h1.4v1.4h-1.4zM485.8 699.5h1.4v1.4h-1.4zM489.8 699.5h2.4v1.4h-2.4z"/><path fill="#04f" d="M499.7 692.5h6.3v1.4h-6.3zM497.7 693.5h6.3v1.4h-6.3zM496.7 694.5h3.4v1.4h-3.4zM504.6 694.5h1.4v1.4h-1.4zM505.6 695.5h2.4v1.4h-2.4z"/><path fill="#06f" d="M495.7 693.5h1.4v1.4h-1.4zM493.7 694.5h1.4v1.4h-1.4zM497.7 695.5h2.4v1.4h-2.4zM504.6 695.5h1.4v1.4h-1.4zM490.8 696.5h3.4v1.4h-3.4zM495.7 696.5h1.4v1.4h-1.4zM490.8 697.5h4.4v1.4h-4.4z"/><path fill="#03f" d="M503.6 693.5h4.4v1.4h-4.4zM505.6 694.5h2.4v1.4h-2.4z"/><path fill="#b00" d="M424.4 700.5h2.4v1.4h-2.4zM424.4 701.5h2.4v1.4h-2.4zM444.2 704.4h4.4v1.4h-4.4zM441.2 705.4h2.4v1.4h-2.4zM444.2 705.4h4.4v1.4h-4.4zM443.2 706.4h5.4v1.4h-5.4zM443.2 707.4h5.4v1.4h-5.4z"/><path fill="#c00" d="M426.4 700.5h1.4v1.4h-1.4zM450.2 700.5h3.4v1.4h-3.4zM426.4 701.5h2.4v1.4h-2.4zM450.2 701.5h3.4v1.4h-3.4zM424.4 702.4h4.4v1.4h-4.4zM440.3 702.4h13.3v1.4h-13.3zM424.4 703.4h4.4v1.4h-4.4zM435.3 703.4h1.4v1.4h-1.4zM439.3 703.4h15.3v1.4h-15.3zM434.3 704.4h10.3v1.4h-10.3zM448.2 704.4h7.3v1.4h-7.3zM434.3 705.4h7.3v1.4h-7.3zM443.2 705.4h1.4v1.4h-1.4zM448.2 705.4h6.3v1.4h-6.3zM435.3 706.4h8.3v1.4h-8.3zM448.2 706.4h5.4v1.4h-5.4zM435.3 707.4h8.3v1.4h-8.3zM448.2 707.4h5.4v1.4h-5.4z"/></g></g></g><rect x="642.5" y="639.5" width="89" height="88" fill="#fff" stroke="#5a5a5a" stroke-width="1.2"/><g clip-path="url(#c21)"><g filter="url(#bl0_6)"><g shape-rendering="crispEdges"><path fill="#0ff" d="M645.1 680.8h2.4v1.4h-2.4zM660.9 680.8h2.4v1.4h-2.4zM676.8 680.8h4.4v1.4h-4.4zM690.6 680.8h8.3v1.4h-8.3zM708.4 680.8h2.4v1.4h-2.4zM712.4 680.8h2.4v1.4h-2.4zM723.2 680.8h5.3v1.4h-5.3zM645.1 681.7h2.4v1.4h-2.4zM660.9 681.7h2.4v1.4h-2.4zM676.8 681.7h4.4v1.4h-4.4zM690.6 681.7h8.3v1.4h-8.3zM708.4 681.7h2.4v1.4h-2.4zM712.4 681.7h2.4v1.4h-2.4zM723.2 681.7h5.3v1.4h-5.3zM659.9 682.7h4.4v1.4h-4.4zM667.9 682.7h3.4v1.4h-3.4zM675.8 682.7h7.3v1.4h-7.3zM689.6 682.7h9.3v1.4h-9.3zM706.4 682.7h3.4v1.4h-3.4zM711.4 682.7h17.2v1.4h-17.2zM708.4 691.5h2.4v1.4h-2.4zM659.9 693.4h1.4v1.4h-1.4zM720.3 693.4h1.4v1.4h-1.4zM645.1 694.4h5.3v1.4h-5.3zM664.9 694.4h1.4v1.4h-1.4zM671.8 694.4h1.4v1.4h-1.4zM678.7 694.4h2.4v1.4h-2.4zM684.7 694.4h8.3v1.4h-8.3zM695.6 694.4h4.4v1.4h-4.4zM704.5 694.4h5.3v1.4h-5.3zM717.3 694.4h1.4v1.4h-1.4zM660.9 695.4h3.4v1.4h-3.4zM721.3 695.4h5.3v1.4h-5.3zM656 698.3h1.4v1.4h-1.4zM655 705.1h1.4v1.4h-1.4zM657 706.1h1.4v1.4h-1.4zM700.5 706.1h1.4v1.4h-1.4z"/><path fill="#1fe" d="M647.1 680.8h14.2v1.4h-14.2zM662.9 680.8h14.2v1.4h-14.2zM680.7 680.8h10.3v1.4h-10.3zM698.5 680.8h2.4v1.4h-2.4zM704.5 680.8h4.4v1.4h-4.4zM714.3 680.8h9.3v1.4h-9.3zM647.1 681.7h14.2v1.4h-14.2zM662.9 681.7h14.2v1.4h-14.2zM680.7 681.7h10.3v1.4h-10.3zM698.5 681.7h2.4v1.4h-2.4zM704.5 681.7h4.4v1.4h-4.4zM714.3 681.7h9.3v1.4h-9.3zM645.1 682.7h15.2v1.4h-15.2zM663.9 682.7h4.4v1.4h-4.4zM670.8 682.7h5.3v1.4h-5.3zM682.7 682.7h7.3v1.4h-7.3zM698.5 682.7h8.3v1.4h-8.3zM675.8 683.7h5.3v1.4h-5.3zM689.6 683.7h4.4v1.4h-4.4zM705.4 683.7h13.3v1.4h-13.3zM722.3 683.7h2.4v1.4h-2.4zM706.4 684.6h2.4v1.4h-2.4zM706.4 685.6h2.4v1.4h-2.4zM708.4 690.5h2.4v1.4h-2.4zM675.8 691.5h1.4v1.4h-1.4zM707.4 691.5h1.4v1.4h-1.4zM710.4 691.5h1.4v1.4h-1.4zM708.4 692.4h2.4v1.4h-2.4zM721.3 692.4h1.4v1.4h-1.4zM645.1 693.4h2.4v1.4h-2.4zM650.1 693.4h10.3v1.4h-10.3zM660.9 693.4h5.3v1.4h-5.3zM684.7 693.4h4.4v1.4h-4.4zM691.6 693.4h6.3v1.4h-6.3zM705.4 693.4h4.4v1.4h-4.4zM718.3 693.4h2.4v1.4h-2.4zM723.2 693.4h5.3v1.4h-5.3zM665.9 694.4h6.3v1.4h-6.3zM672.8 694.4h4.4v1.4h-4.4zM677.7 694.4h1.4v1.4h-1.4zM680.7 694.4h4.4v1.4h-4.4zM699.5 694.4h1.4v1.4h-1.4zM702.5 694.4h2.4v1.4h-2.4zM709.4 694.4h8.3v1.4h-8.3zM645.1 695.4h12.3v1.4h-12.3zM658 695.4h3.4v1.4h-3.4zM663.9 695.4h1.4v1.4h-1.4zM692.6 695.4h2.4v1.4h-2.4zM700.5 695.4h1.4v1.4h-1.4zM702.5 695.4h1.4v1.4h-1.4zM719.3 695.4h2.4v1.4h-2.4zM726.2 695.4h2.4v1.4h-2.4zM657 697.3h1.4v1.4h-1.4zM645.1 703.2h2.4v1.4h-2.4zM658 703.2h1.4v1.4h-1.4zM645.1 704.1h2.4v1.4h-2.4zM657 704.1h2.4v1.4h-2.4zM661.9 704.1h1.4v1.4h-1.4zM725.2 704.1h3.4v1.4h-3.4zM657 705.1h3.4v1.4h-3.4zM661.9 705.1h1.4v1.4h-1.4zM658 706.1h1.4v1.4h-1.4zM657 707.1h1.4v1.4h-1.4zM726.2 707.1h2.4v1.4h-2.4zM657 708h1.4v1.4h-1.4zM726.2 708h2.4v1.4h-2.4z"/><path fill="#2fd" d="M700.5 680.8h4.4v1.4h-4.4zM700.5 681.7h4.4v1.4h-4.4zM653 683.7h23.1v1.4h-23.1zM680.7 683.7h5.3v1.4h-5.3zM687.6 683.7h2.4v1.4h-2.4zM693.6 683.7h7.3v1.4h-7.3zM703.5 683.7h2.4v1.4h-2.4zM718.3 683.7h4.4v1.4h-4.4zM724.2 683.7h4.4v1.4h-4.4zM664.9 684.6h6.3v1.4h-6.3zM673.8 684.6h8.3v1.4h-8.3zM688.6 684.6h6.3v1.4h-6.3zM695.6 684.6h2.4v1.4h-2.4zM705.4 684.6h1.4v1.4h-1.4zM708.4 684.6h12.3v1.4h-12.3zM721.3 684.6h3.4v1.4h-3.4zM673.8 685.6h8.3v1.4h-8.3zM688.6 685.6h9.3v1.4h-9.3zM704.5 685.6h2.4v1.4h-2.4zM708.4 685.6h9.3v1.4h-9.3zM674.8 686.6h23.1v1.4h-23.1zM701.5 686.6h16.2v1.4h-16.2zM680.7 687.6h17.2v1.4h-17.2zM701.5 687.6h14.2v1.4h-14.2zM681.7 688.5h16.2v1.4h-16.2zM703.5 688.5h10.3v1.4h-10.3zM706.4 689.5h6.3v1.4h-6.3zM706.4 690.5h2.4v1.4h-2.4zM710.4 690.5h1.4v1.4h-1.4zM706.4 691.5h1.4v1.4h-1.4zM706.4 692.4h2.4v1.4h-2.4zM710.4 692.4h1.4v1.4h-1.4zM722.3 692.4h1.4v1.4h-1.4zM647.1 693.4h3.4v1.4h-3.4zM665.9 693.4h2.4v1.4h-2.4zM673.8 693.4h2.4v1.4h-2.4zM678.7 693.4h6.3v1.4h-6.3zM688.6 693.4h3.4v1.4h-3.4zM697.5 693.4h1.4v1.4h-1.4zM704.5 693.4h1.4v1.4h-1.4zM709.4 693.4h9.3v1.4h-9.3zM700.5 694.4h2.4v1.4h-2.4zM657 695.4h1.4v1.4h-1.4zM664.9 695.4h1.4v1.4h-1.4zM669.8 695.4h6.3v1.4h-6.3zM677.7 695.4h4.4v1.4h-4.4zM686.6 695.4h6.3v1.4h-6.3zM694.6 695.4h1.4v1.4h-1.4zM698.5 695.4h2.4v1.4h-2.4zM701.5 695.4h1.4v1.4h-1.4zM703.5 695.4h6.3v1.4h-6.3zM717.3 695.4h2.4v1.4h-2.4zM722.3 696.3h2.4v1.4h-2.4zM656 699.3h1.4v1.4h-1.4zM645.1 700.2h4.4v1.4h-4.4zM657 700.2h1.4v1.4h-1.4zM659.9 700.2h4.4v1.4h-4.4zM673.8 700.2h1.4v1.4h-1.4zM645.1 701.2h7.3v1.4h-7.3zM659 701.2h17.2v1.4h-17.2zM677.7 701.2h1.4v1.4h-1.4zM645.1 702.2h8.3v1.4h-8.3zM656 702.2h21.2v1.4h-21.2zM677.7 702.2h1.4v1.4h-1.4zM723.2 702.2h5.3v1.4h-5.3zM647.1 703.2h11.3v1.4h-11.3zM659 703.2h7.3v1.4h-7.3zM666.9 703.2h10.3v1.4h-10.3zM710.4 703.2h1.4v1.4h-1.4zM723.2 703.2h5.3v1.4h-5.3zM647.1 704.1h10.3v1.4h-10.3zM659 704.1h3.4v1.4h-3.4zM662.9 704.1h3.4v1.4h-3.4zM666.9 704.1h10.3v1.4h-10.3zM710.4 704.1h2.4v1.4h-2.4zM723.2 704.1h2.4v1.4h-2.4zM645.1 705.1h10.3v1.4h-10.3zM659.9 705.1h2.4v1.4h-2.4zM662.9 705.1h17.2v1.4h-17.2zM723.2 705.1h5.3v1.4h-5.3zM645.1 706.1h4.4v1.4h-4.4zM651 706.1h4.4v1.4h-4.4zM659 706.1h24.1v1.4h-24.1zM724.2 706.1h4.4v1.4h-4.4zM645.1 707.1h3.4v1.4h-3.4zM653 707.1h2.4v1.4h-2.4zM658 707.1h11.3v1.4h-11.3zM672.8 707.1h11.3v1.4h-11.3zM710.4 707.1h1.4v1.4h-1.4zM724.2 707.1h2.4v1.4h-2.4zM645.1 708h3.4v1.4h-3.4zM653 708h2.4v1.4h-2.4zM658 708h11.3v1.4h-11.3zM672.8 708h11.3v1.4h-11.3zM710.4 708h1.4v1.4h-1.4zM724.2 708h2.4v1.4h-2.4z"/><path fill="#0ef" d="M710.4 680.8h2.4v1.4h-2.4zM710.4 681.7h2.4v1.4h-2.4zM709.4 682.7h2.4v1.4h-2.4zM675.8 692.4h1.4v1.4h-1.4zM722.3 693.4h1.4v1.4h-1.4zM650.1 694.4h11.3v1.4h-11.3zM662.9 694.4h2.4v1.4h-2.4zM692.6 694.4h3.4v1.4h-3.4zM718.3 694.4h3.4v1.4h-3.4zM723.2 694.4h5.3v1.4h-5.3zM656 705.1h1.4v1.4h-1.4zM701.5 706.1h1.4v1.4h-1.4zM700.5 707.1h1.4v1.4h-1.4zM700.5 708h1.4v1.4h-1.4z"/><path fill="#3fc" d="M645.1 683.7h8.3v1.4h-8.3zM685.7 683.7h2.4v1.4h-2.4zM700.5 683.7h3.4v1.4h-3.4zM649.1 684.6h2.4v1.4h-2.4zM657 684.6h8.3v1.4h-8.3zM670.8 684.6h3.4v1.4h-3.4zM681.7 684.6h7.3v1.4h-7.3zM694.6 684.6h1.4v1.4h-1.4zM697.5 684.6h8.3v1.4h-8.3zM720.3 684.6h1.4v1.4h-1.4zM724.2 684.6h4.4v1.4h-4.4zM659.9 685.6h14.2v1.4h-14.2zM681.7 685.6h7.3v1.4h-7.3zM697.5 685.6h7.3v1.4h-7.3zM717.3 685.6h9.3v1.4h-9.3zM652 686.6h3.4v1.4h-3.4zM660.9 686.6h7.3v1.4h-7.3zM668.8 686.6h6.3v1.4h-6.3zM697.5 686.6h4.4v1.4h-4.4zM717.3 686.6h8.3v1.4h-8.3zM653 687.6h2.4v1.4h-2.4zM671.8 687.6h9.3v1.4h-9.3zM697.5 687.6h4.4v1.4h-4.4zM715.3 687.6h5.3v1.4h-5.3zM673.8 688.5h8.3v1.4h-8.3zM697.5 688.5h6.3v1.4h-6.3zM713.4 688.5h4.4v1.4h-4.4zM680.7 689.5h17.2v1.4h-17.2zM704.5 689.5h2.4v1.4h-2.4zM712.4 689.5h2.4v1.4h-2.4zM685.7 690.5h2.4v1.4h-2.4zM693.6 690.5h3.4v1.4h-3.4zM705.4 690.5h1.4v1.4h-1.4zM711.4 690.5h2.4v1.4h-2.4zM705.4 691.5h1.4v1.4h-1.4zM711.4 691.5h1.4v1.4h-1.4zM657 692.4h7.3v1.4h-7.3zM674.8 692.4h1.4v1.4h-1.4zM683.7 692.4h5.3v1.4h-5.3zM691.6 692.4h6.3v1.4h-6.3zM705.4 692.4h1.4v1.4h-1.4zM711.4 692.4h2.4v1.4h-2.4zM720.3 692.4h1.4v1.4h-1.4zM723.2 692.4h1.4v1.4h-1.4zM726.2 692.4h2.4v1.4h-2.4zM667.9 693.4h2.4v1.4h-2.4zM670.8 693.4h3.4v1.4h-3.4zM675.8 693.4h1.4v1.4h-1.4zM698.5 693.4h1.4v1.4h-1.4zM703.5 693.4h1.4v1.4h-1.4zM668.8 695.4h1.4v1.4h-1.4zM675.8 695.4h2.4v1.4h-2.4zM681.7 695.4h2.4v1.4h-2.4zM685.7 695.4h1.4v1.4h-1.4zM695.6 695.4h3.4v1.4h-3.4zM709.4 695.4h5.3v1.4h-5.3zM645.1 696.3h7.3v1.4h-7.3zM659.9 696.3h5.3v1.4h-5.3zM700.5 696.3h3.4v1.4h-3.4zM720.3 696.3h2.4v1.4h-2.4zM724.2 696.3h4.4v1.4h-4.4zM656 697.3h1.4v1.4h-1.4zM658 698.3h1.4v1.4h-1.4zM645.1 699.3h4.4v1.4h-4.4zM658 699.3h1.4v1.4h-1.4zM659.9 699.3h5.3v1.4h-5.3zM673.8 699.3h1.4v1.4h-1.4zM649.1 700.2h3.4v1.4h-3.4zM658 700.2h2.4v1.4h-2.4zM663.9 700.2h10.3v1.4h-10.3zM674.8 700.2h6.3v1.4h-6.3zM689.6 700.2h2.4v1.4h-2.4zM724.2 700.2h4.4v1.4h-4.4zM652 701.2h1.4v1.4h-1.4zM656 701.2h3.4v1.4h-3.4zM675.8 701.2h2.4v1.4h-2.4zM678.7 701.2h3.4v1.4h-3.4zM689.6 701.2h6.3v1.4h-6.3zM707.4 701.2h11.3v1.4h-11.3zM720.3 701.2h8.3v1.4h-8.3zM653 702.2h3.4v1.4h-3.4zM676.8 702.2h1.4v1.4h-1.4zM678.7 702.2h4.4v1.4h-4.4zM685.7 702.2h1.4v1.4h-1.4zM690.6 702.2h6.3v1.4h-6.3zM705.4 702.2h9.3v1.4h-9.3zM716.3 702.2h7.3v1.4h-7.3zM665.9 703.2h1.4v1.4h-1.4zM676.8 703.2h11.3v1.4h-11.3zM689.6 703.2h6.3v1.4h-6.3zM696.5 703.2h5.3v1.4h-5.3zM705.4 703.2h5.3v1.4h-5.3zM711.4 703.2h3.4v1.4h-3.4zM716.3 703.2h7.3v1.4h-7.3zM665.9 704.1h1.4v1.4h-1.4zM676.8 704.1h8.3v1.4h-8.3zM685.7 704.1h2.4v1.4h-2.4zM689.6 704.1h6.3v1.4h-6.3zM697.5 704.1h4.4v1.4h-4.4zM705.4 704.1h5.3v1.4h-5.3zM712.4 704.1h2.4v1.4h-2.4zM717.3 704.1h6.3v1.4h-6.3zM679.7 705.1h12.3v1.4h-12.3zM693.6 705.1h9.3v1.4h-9.3zM704.5 705.1h10.3v1.4h-10.3zM717.3 705.1h6.3v1.4h-6.3zM649.1 706.1h2.4v1.4h-2.4zM682.7 706.1h10.3v1.4h-10.3zM693.6 706.1h7.3v1.4h-7.3zM702.5 706.1h1.4v1.4h-1.4zM706.4 706.1h8.3v1.4h-8.3zM720.3 706.1h4.4v1.4h-4.4zM648.1 707.1h5.3v1.4h-5.3zM668.8 707.1h4.4v1.4h-4.4zM683.7 707.1h17.2v1.4h-17.2zM702.5 707.1h1.4v1.4h-1.4zM706.4 707.1h4.4v1.4h-4.4zM711.4 707.1h3.4v1.4h-3.4zM721.3 707.1h3.4v1.4h-3.4zM648.1 708h5.3v1.4h-5.3zM668.8 708h4.4v1.4h-4.4zM683.7 708h17.2v1.4h-17.2zM702.5 708h1.4v1.4h-1.4zM706.4 708h4.4v1.4h-4.4zM711.4 708h3.4v1.4h-3.4zM721.3 708h3.4v1.4h-3.4z"/><path fill="#4fb" d="M645.1 684.6h4.4v1.4h-4.4zM651 684.6h6.3v1.4h-6.3zM645.1 685.6h15.2v1.4h-15.2zM726.2 685.6h2.4v1.4h-2.4zM645.1 686.6h7.3v1.4h-7.3zM655 686.6h6.3v1.4h-6.3zM667.9 686.6h1.4v1.4h-1.4zM725.2 686.6h3.4v1.4h-3.4zM645.1 687.6h8.3v1.4h-8.3zM655 687.6h17.2v1.4h-17.2zM720.3 687.6h8.3v1.4h-8.3zM645.1 688.5h23.1v1.4h-23.1zM670.8 688.5h3.4v1.4h-3.4zM717.3 688.5h6.3v1.4h-6.3zM726.2 688.5h2.4v1.4h-2.4zM653 689.5h6.3v1.4h-6.3zM660.9 689.5h2.4v1.4h-2.4zM673.8 689.5h7.3v1.4h-7.3zM697.5 689.5h2.4v1.4h-2.4zM703.5 689.5h1.4v1.4h-1.4zM714.3 689.5h4.4v1.4h-4.4zM675.8 690.5h1.4v1.4h-1.4zM677.7 690.5h8.3v1.4h-8.3zM687.6 690.5h6.3v1.4h-6.3zM696.5 690.5h2.4v1.4h-2.4zM704.5 690.5h1.4v1.4h-1.4zM713.4 690.5h3.4v1.4h-3.4zM657 691.5h6.3v1.4h-6.3zM674.8 691.5h1.4v1.4h-1.4zM678.7 691.5h19.2v1.4h-19.2zM712.4 691.5h3.4v1.4h-3.4zM721.3 691.5h2.4v1.4h-2.4zM645.1 692.4h12.3v1.4h-12.3zM663.9 692.4h3.4v1.4h-3.4zM678.7 692.4h5.3v1.4h-5.3zM688.6 692.4h3.4v1.4h-3.4zM697.5 692.4h1.4v1.4h-1.4zM704.5 692.4h1.4v1.4h-1.4zM713.4 692.4h7.3v1.4h-7.3zM724.2 692.4h2.4v1.4h-2.4zM669.8 693.4h1.4v1.4h-1.4zM677.7 693.4h1.4v1.4h-1.4zM699.5 693.4h1.4v1.4h-1.4zM676.8 694.4h1.4v1.4h-1.4zM665.9 695.4h3.4v1.4h-3.4zM683.7 695.4h2.4v1.4h-2.4zM714.3 695.4h3.4v1.4h-3.4zM652 696.3h8.3v1.4h-8.3zM669.8 696.3h4.4v1.4h-4.4zM677.7 696.3h3.4v1.4h-3.4zM687.6 696.3h7.3v1.4h-7.3zM699.5 696.3h1.4v1.4h-1.4zM703.5 696.3h4.4v1.4h-4.4zM718.3 696.3h2.4v1.4h-2.4zM645.1 697.3h7.3v1.4h-7.3zM658 697.3h1.4v1.4h-1.4zM659.9 697.3h5.3v1.4h-5.3zM702.5 697.3h1.4v1.4h-1.4zM720.3 697.3h8.3v1.4h-8.3zM645.1 698.3h6.3v1.4h-6.3zM659 698.3h6.3v1.4h-6.3zM723.2 698.3h5.3v1.4h-5.3zM649.1 699.3h3.4v1.4h-3.4zM659 699.3h1.4v1.4h-1.4zM664.9 699.3h9.3v1.4h-9.3zM674.8 699.3h6.3v1.4h-6.3zM688.6 699.3h6.3v1.4h-6.3zM719.3 699.3h3.4v1.4h-3.4zM723.2 699.3h5.3v1.4h-5.3zM652 700.2h1.4v1.4h-1.4zM656 700.2h1.4v1.4h-1.4zM680.7 700.2h3.4v1.4h-3.4zM687.6 700.2h2.4v1.4h-2.4zM691.6 700.2h6.3v1.4h-6.3zM699.5 700.2h25.1v1.4h-25.1zM653 701.2h3.4v1.4h-3.4zM681.7 701.2h8.3v1.4h-8.3zM695.6 701.2h12.3v1.4h-12.3zM718.3 701.2h2.4v1.4h-2.4zM682.7 702.2h3.4v1.4h-3.4zM686.6 702.2h4.4v1.4h-4.4zM696.5 702.2h9.3v1.4h-9.3zM714.3 702.2h2.4v1.4h-2.4zM687.6 703.2h2.4v1.4h-2.4zM695.6 703.2h1.4v1.4h-1.4zM701.5 703.2h4.4v1.4h-4.4zM714.3 703.2h2.4v1.4h-2.4zM684.7 704.1h1.4v1.4h-1.4zM687.6 704.1h2.4v1.4h-2.4zM695.6 704.1h2.4v1.4h-2.4zM701.5 704.1h4.4v1.4h-4.4zM714.3 704.1h3.4v1.4h-3.4zM691.6 705.1h2.4v1.4h-2.4zM702.5 705.1h2.4v1.4h-2.4zM714.3 705.1h3.4v1.4h-3.4zM692.6 706.1h1.4v1.4h-1.4zM703.5 706.1h3.4v1.4h-3.4zM714.3 706.1h6.3v1.4h-6.3zM703.5 707.1h3.4v1.4h-3.4zM714.3 707.1h7.3v1.4h-7.3zM703.5 708h3.4v1.4h-3.4zM714.3 708h7.3v1.4h-7.3z"/><path fill="#5fa" d="M667.9 688.5h3.4v1.4h-3.4zM723.2 688.5h3.4v1.4h-3.4zM645.1 689.5h8.3v1.4h-8.3zM659 689.5h2.4v1.4h-2.4zM662.9 689.5h6.3v1.4h-6.3zM671.8 689.5h2.4v1.4h-2.4zM699.5 689.5h4.4v1.4h-4.4zM718.3 689.5h10.3v1.4h-10.3zM645.1 690.5h20.2v1.4h-20.2zM673.8 690.5h2.4v1.4h-2.4zM676.8 690.5h1.4v1.4h-1.4zM698.5 690.5h1.4v1.4h-1.4zM716.3 690.5h12.3v1.4h-12.3zM645.1 691.5h12.3v1.4h-12.3zM662.9 691.5h3.4v1.4h-3.4zM677.7 691.5h1.4v1.4h-1.4zM697.5 691.5h1.4v1.4h-1.4zM704.5 691.5h1.4v1.4h-1.4zM715.3 691.5h6.3v1.4h-6.3zM723.2 691.5h5.3v1.4h-5.3zM666.9 692.4h2.4v1.4h-2.4zM671.8 692.4h3.4v1.4h-3.4zM677.7 692.4h1.4v1.4h-1.4zM698.5 692.4h1.4v1.4h-1.4zM700.5 693.4h1.4v1.4h-1.4zM702.5 693.4h1.4v1.4h-1.4zM664.9 696.3h1.4v1.4h-1.4zM668.8 696.3h1.4v1.4h-1.4zM673.8 696.3h4.4v1.4h-4.4zM680.7 696.3h2.4v1.4h-2.4zM686.6 696.3h1.4v1.4h-1.4zM694.6 696.3h1.4v1.4h-1.4zM698.5 696.3h1.4v1.4h-1.4zM707.4 696.3h6.3v1.4h-6.3zM717.3 696.3h1.4v1.4h-1.4zM652 697.3h1.4v1.4h-1.4zM659 697.3h1.4v1.4h-1.4zM664.9 697.3h1.4v1.4h-1.4zM669.8 697.3h11.3v1.4h-11.3zM687.6 697.3h7.3v1.4h-7.3zM699.5 697.3h3.4v1.4h-3.4zM703.5 697.3h5.3v1.4h-5.3zM718.3 697.3h2.4v1.4h-2.4zM651 698.3h1.4v1.4h-1.4zM664.9 698.3h1.4v1.4h-1.4zM668.8 698.3h13.3v1.4h-13.3zM687.6 698.3h7.3v1.4h-7.3zM699.5 698.3h9.3v1.4h-9.3zM718.3 698.3h5.3v1.4h-5.3zM652 699.3h1.4v1.4h-1.4zM680.7 699.3h3.4v1.4h-3.4zM687.6 699.3h1.4v1.4h-1.4zM694.6 699.3h2.4v1.4h-2.4zM698.5 699.3h16.2v1.4h-16.2zM716.3 699.3h3.4v1.4h-3.4zM722.3 699.3h1.4v1.4h-1.4zM683.7 700.2h4.4v1.4h-4.4zM697.5 700.2h2.4v1.4h-2.4z"/><path fill="#6f9" d="M668.8 689.5h3.4v1.4h-3.4zM664.9 690.5h5.3v1.4h-5.3zM671.8 690.5h2.4v1.4h-2.4zM703.5 690.5h1.4v1.4h-1.4zM665.9 691.5h3.4v1.4h-3.4zM671.8 691.5h3.4v1.4h-3.4zM676.8 691.5h1.4v1.4h-1.4zM698.5 691.5h1.4v1.4h-1.4zM703.5 691.5h1.4v1.4h-1.4zM668.8 692.4h3.4v1.4h-3.4zM703.5 692.4h1.4v1.4h-1.4zM701.5 693.4h1.4v1.4h-1.4zM665.9 696.3h1.4v1.4h-1.4zM667.9 696.3h1.4v1.4h-1.4zM682.7 696.3h4.4v1.4h-4.4zM695.6 696.3h3.4v1.4h-3.4zM713.4 696.3h2.4v1.4h-2.4zM716.3 696.3h1.4v1.4h-1.4zM653 697.3h1.4v1.4h-1.4zM655 697.3h1.4v1.4h-1.4zM668.8 697.3h1.4v1.4h-1.4zM680.7 697.3h3.4v1.4h-3.4zM686.6 697.3h1.4v1.4h-1.4zM694.6 697.3h1.4v1.4h-1.4zM698.5 697.3h1.4v1.4h-1.4zM708.4 697.3h6.3v1.4h-6.3zM717.3 697.3h1.4v1.4h-1.4zM652 698.3h1.4v1.4h-1.4zM665.9 698.3h3.4v1.4h-3.4zM681.7 698.3h2.4v1.4h-2.4zM686.6 698.3h1.4v1.4h-1.4zM694.6 698.3h1.4v1.4h-1.4zM698.5 698.3h1.4v1.4h-1.4zM708.4 698.3h6.3v1.4h-6.3zM717.3 698.3h1.4v1.4h-1.4zM683.7 699.3h4.4v1.4h-4.4zM696.5 699.3h2.4v1.4h-2.4zM714.3 699.3h2.4v1.4h-2.4zM653 700.2h1.4v1.4h-1.4z"/><path fill="#7f8" d="M669.8 690.5h2.4v1.4h-2.4zM699.5 690.5h1.4v1.4h-1.4zM702.5 690.5h1.4v1.4h-1.4zM668.8 691.5h3.4v1.4h-3.4zM699.5 692.4h1.4v1.4h-1.4zM666.9 696.3h1.4v1.4h-1.4zM715.3 696.3h1.4v1.4h-1.4zM654 697.3h1.4v1.4h-1.4zM665.9 697.3h3.4v1.4h-3.4zM683.7 697.3h3.4v1.4h-3.4zM695.6 697.3h3.4v1.4h-3.4zM714.3 697.3h3.4v1.4h-3.4zM683.7 698.3h3.4v1.4h-3.4zM695.6 698.3h3.4v1.4h-3.4zM714.3 698.3h3.4v1.4h-3.4zM655 700.2h1.4v1.4h-1.4z"/><path fill="#8f7" d="M700.5 690.5h2.4v1.4h-2.4zM699.5 691.5h1.4v1.4h-1.4zM702.5 691.5h1.4v1.4h-1.4zM676.8 692.4h1.4v1.4h-1.4zM700.5 692.4h1.4v1.4h-1.4zM702.5 692.4h1.4v1.4h-1.4zM676.8 693.4h1.4v1.4h-1.4zM653 698.3h1.4v1.4h-1.4zM655 698.3h1.4v1.4h-1.4zM653 699.3h1.4v1.4h-1.4zM654 700.2h1.4v1.4h-1.4z"/><path fill="#9f6" d="M700.5 691.5h2.4v1.4h-2.4zM701.5 692.4h1.4v1.4h-1.4zM654 698.3h1.4v1.4h-1.4zM655 699.3h1.4v1.4h-1.4z"/><path fill="#0df" d="M721.3 693.4h1.4v1.4h-1.4zM660.9 694.4h2.4v1.4h-2.4zM721.3 694.4h2.4v1.4h-2.4zM657 699.3h1.4v1.4h-1.4zM655 707.1h1.4v1.4h-1.4zM655 708h1.4v1.4h-1.4z"/><path fill="#0bf" d="M657 698.3h1.4v1.4h-1.4zM656 707.1h1.4v1.4h-1.4zM656 708h1.4v1.4h-1.4z"/><path fill="#af5" d="M654 699.3h1.4v1.4h-1.4z"/><path fill="#0cf" d="M655 706.1h1.4v1.4h-1.4zM701.5 707.1h1.4v1.4h-1.4zM701.5 708h1.4v1.4h-1.4z"/><path fill="#0af" d="M656 706.1h1.4v1.4h-1.4z"/></g></g></g><path d="M155.9 683.1 V598" fill="none" stroke="#e028e0" stroke-width="3" stroke-linecap="round" stroke-dasharray="2.5 10.8" stroke-dashoffset="8.55"/><path d="M155.9 683.1 H421" fill="none" stroke="#e028e0" stroke-width="3" stroke-linecap="round" stroke-dasharray="2.5 10.9" stroke-dashoffset="12.75"/><path d="M156 587.4 L151.2 597.8 L160.8 597.8 Z" fill="#e028e0"/><rect x="15.7" y="755.6" width="33.8" height="34.1" fill="#a2a2fe"/><rect x="15.9" y="805.9" width="34.1" height="34.1" fill="#00ffff"/><rect x="16.2" y="856.2" width="34.5" height="33.8" fill="#a0dffe"/><g clip-path="url(#c22)"><g filter="url(#bl1_0)"><g shape-rendering="crispEdges"><path fill="#0ef" d="M351.4 742.8h13.1v3.6h-13.1zM351.4 746h13.1v3.6h-13.1zM351.4 749.2h22.6v3.6h-22.6zM659 790.7h3.6v3.6h-3.6zM662.2 793.9h3.6v3.6h-3.6zM408.5 797.1h22.6v3.6h-22.6zM456.1 797.1h6.7v3.6h-6.7zM605.1 797.1h25.8v3.6h-25.8zM649.5 797.1h6.7v3.6h-6.7zM668.5 797.1h16.3v3.6h-16.3zM655.8 800.3h9.9v3.6h-9.9zM395.8 816.3h3.6v3.6h-3.6zM395.8 841.8h3.6v3.6h-3.6zM389.5 845h3.6v3.6h-3.6z"/><path fill="#0ff" d="M364.1 742.8h19.4v3.6h-19.4zM636.8 742.8h3.6v3.6h-3.6zM364.1 746h19.4v3.6h-19.4zM636.8 746h3.6v3.6h-3.6zM373.6 749.2h35.3v3.6h-35.3zM443.4 749.2h25.8v3.6h-25.8zM579.7 749.2h9.9v3.6h-9.9zM630.5 749.2h32.1v3.6h-32.1zM605.1 784.3h6.7v3.6h-6.7zM471.9 787.5h3.6v3.6h-3.6zM608.3 787.5h3.6v3.6h-3.6zM655.8 790.7h3.6v3.6h-3.6zM411.7 793.9h19.4v3.6h-19.4zM611.4 793.9h19.4v3.6h-19.4zM652.7 793.9h3.6v3.6h-3.6zM665.3 793.9h19.4v3.6h-19.4zM351.4 797.1h57.5v3.6h-57.5zM430.7 797.1h3.6v3.6h-3.6zM443.4 797.1h13.1v3.6h-13.1zM462.4 797.1h13.1v3.6h-13.1zM490.9 797.1h6.7v3.6h-6.7zM532.2 797.1h25.8v3.6h-25.8zM589.2 797.1h16.3v3.6h-16.3zM630.5 797.1h19.4v3.6h-19.4zM411.7 800.3h16.3v3.6h-16.3zM452.9 800.3h13.1v3.6h-13.1zM605.1 800.3h22.6v3.6h-22.6zM649.5 800.3h6.7v3.6h-6.7zM665.3 800.3h19.4v3.6h-19.4zM395.8 809.9h6.7v3.6h-6.7zM389.5 841.8h3.6v3.6h-3.6zM573.4 845h3.6v3.6h-3.6zM579.7 845h3.6v3.6h-3.6zM389.5 848.2h3.6v3.6h-3.6zM573.4 848.2h3.6v3.6h-3.6zM579.7 848.2h3.6v3.6h-3.6zM389.5 851.4h3.6v3.6h-3.6zM573.4 851.4h3.6v3.6h-3.6zM579.7 851.4h3.6v3.6h-3.6z"/><path fill="#1fe" d="M383.1 742.8h28.9v3.6h-28.9zM433.9 742.8h38.5v3.6h-38.5zM576.6 742.8h19.4v3.6h-19.4zM627.3 742.8h9.9v3.6h-9.9zM640 742.8h44.8v3.6h-44.8zM383.1 746h28.9v3.6h-28.9zM433.9 746h38.5v3.6h-38.5zM576.6 746h19.4v3.6h-19.4zM627.3 746h9.9v3.6h-9.9zM640 746h44.8v3.6h-44.8zM408.5 749.2h9.9v3.6h-9.9zM427.5 749.2h16.3v3.6h-16.3zM468.8 749.2h6.7v3.6h-6.7zM513.1 749.2h25.8v3.6h-25.8zM544.9 749.2h35.3v3.6h-35.3zM589.2 749.2h19.4v3.6h-19.4zM624.1 749.2h6.7v3.6h-6.7zM662.2 749.2h22.6v3.6h-22.6zM351.4 752.4h60.6v3.6h-60.6zM433.9 752.4h35.3v3.6h-35.3zM576.6 752.4h13.1v3.6h-13.1zM630.5 752.4h22.6v3.6h-22.6zM655.8 752.4h3.6v3.6h-3.6zM678 752.4h6.7v3.6h-6.7zM611.4 784.3h3.6v3.6h-3.6zM475.1 787.5h3.6v3.6h-3.6zM605.1 787.5h3.6v3.6h-3.6zM611.4 787.5h3.6v3.6h-3.6zM471.9 790.7h3.6v3.6h-3.6zM662.2 790.7h3.6v3.6h-3.6zM357.8 793.9h19.4v3.6h-19.4zM402.2 793.9h9.9v3.6h-9.9zM430.7 793.9h16.3v3.6h-16.3zM471.9 793.9h3.6v3.6h-3.6zM532.2 793.9h28.9v3.6h-28.9zM595.6 793.9h16.3v3.6h-16.3zM630.5 793.9h22.6v3.6h-22.6zM433.9 797.1h9.9v3.6h-9.9zM484.6 797.1h6.7v3.6h-6.7zM497.3 797.1h35.3v3.6h-35.3zM557.5 797.1h13.1v3.6h-13.1zM586.1 797.1h3.6v3.6h-3.6zM373.6 800.3h38.5v3.6h-38.5zM427.5 800.3h3.6v3.6h-3.6zM446.6 800.3h6.7v3.6h-6.7zM465.6 800.3h9.9v3.6h-9.9zM586.1 800.3h19.4v3.6h-19.4zM627.3 800.3h3.6v3.6h-3.6zM640 800.3h9.9v3.6h-9.9zM659 803.5h3.6v3.6h-3.6zM376.8 835.4h13.1v3.6h-13.1zM380 838.6h3.6v3.6h-3.6zM389.5 838.6h9.9v3.6h-9.9zM576.6 841.8h3.6v3.6h-3.6zM399 845h3.6v3.6h-3.6zM399 848.2h3.6v3.6h-3.6zM399 851.4h3.6v3.6h-3.6z"/><path fill="#2fd" d="M411.7 742.8h22.6v3.6h-22.6zM471.9 742.8h6.7v3.6h-6.7zM490.9 742.8h86v3.6h-86zM595.6 742.8h32.1v3.6h-32.1zM411.7 746h22.6v3.6h-22.6zM471.9 746h6.7v3.6h-6.7zM490.9 746h86v3.6h-86zM595.6 746h32.1v3.6h-32.1zM418 749.2h9.9v3.6h-9.9zM475.1 749.2h38.5v3.6h-38.5zM538.5 749.2h6.7v3.6h-6.7zM608.3 749.2h16.3v3.6h-16.3zM411.7 752.4h22.6v3.6h-22.6zM468.8 752.4h9.9v3.6h-9.9zM510 752.4h28.9v3.6h-28.9zM544.9 752.4h32.1v3.6h-32.1zM589.2 752.4h22.6v3.6h-22.6zM621 752.4h9.9v3.6h-9.9zM652.7 752.4h3.6v3.6h-3.6zM659 752.4h19.4v3.6h-19.4zM351.4 755.6h51.1v3.6h-51.1zM433.9 755.6h38.5v3.6h-38.5zM560.7 755.6h38.5v3.6h-38.5zM633.6 755.6h6.7v3.6h-6.7zM671.7 755.6h13.1v3.6h-13.1zM446.6 758.8h22.6v3.6h-22.6zM560.7 758.8h16.3v3.6h-16.3zM586.1 758.8h6.7v3.6h-6.7zM557.5 762h38.5v3.6h-38.5zM674.9 762h9.9v3.6h-9.9zM418 765.2h6.7v3.6h-6.7zM557.5 765.2h38.5v3.6h-38.5zM674.9 765.2h9.9v3.6h-9.9zM418 768.4h3.6v3.6h-3.6zM557.5 768.4h35.3v3.6h-35.3zM671.7 768.4h13.1v3.6h-13.1zM557.5 771.6h3.6v3.6h-3.6zM579.7 771.6h9.9v3.6h-9.9zM671.7 771.6h13.1v3.6h-13.1zM605.1 781.1h6.7v3.6h-6.7zM601.9 784.3h3.6v3.6h-3.6zM614.6 784.3h3.6v3.6h-3.6zM601.9 787.5h3.6v3.6h-3.6zM614.6 787.5h3.6v3.6h-3.6zM659 787.5h3.6v3.6h-3.6zM411.7 790.7h16.3v3.6h-16.3zM601.9 790.7h19.4v3.6h-19.4zM652.7 790.7h3.6v3.6h-3.6zM665.3 790.7h6.7v3.6h-6.7zM351.4 793.9h6.7v3.6h-6.7zM376.8 793.9h25.8v3.6h-25.8zM446.6 793.9h25.8v3.6h-25.8zM484.6 793.9h48v3.6h-48zM560.7 793.9h6.7v3.6h-6.7zM589.2 793.9h6.7v3.6h-6.7zM475.1 797.1h3.6v3.6h-3.6zM570.2 797.1h16.3v3.6h-16.3zM351.4 800.3h22.6v3.6h-22.6zM430.7 800.3h3.6v3.6h-3.6zM443.4 800.3h3.6v3.6h-3.6zM475.1 800.3h3.6v3.6h-3.6zM484.6 800.3h19.4v3.6h-19.4zM522.7 800.3h32.1v3.6h-32.1zM567 800.3h19.4v3.6h-19.4zM630.5 800.3h9.9v3.6h-9.9zM411.7 803.5h13.1v3.6h-13.1zM452.9 803.5h13.1v3.6h-13.1zM598.8 803.5h25.8v3.6h-25.8zM646.3 803.5h13.1v3.6h-13.1zM662.2 803.5h22.6v3.6h-22.6zM395.8 819.5h6.7v3.6h-6.7zM627.3 822.7h3.6v3.6h-3.6zM636.8 822.7h16.3v3.6h-16.3zM608.3 825.9h44.8v3.6h-44.8zM360.9 829h28.9v3.6h-28.9zM478.3 829h19.4v3.6h-19.4zM548 829h6.7v3.6h-6.7zM605.1 829h25.8v3.6h-25.8zM633.6 829h16.3v3.6h-16.3zM357.8 832.2h38.5v3.6h-38.5zM471.9 832.2h25.8v3.6h-25.8zM548 832.2h6.7v3.6h-6.7zM605.1 832.2h25.8v3.6h-25.8zM633.6 832.2h9.9v3.6h-9.9zM351.4 835.4h25.8v3.6h-25.8zM389.5 835.4h9.9v3.6h-9.9zM471.9 835.4h25.8v3.6h-25.8zM548 835.4h6.7v3.6h-6.7zM608.3 835.4h22.6v3.6h-22.6zM636.8 835.4h6.7v3.6h-6.7zM351.4 838.6h28.9v3.6h-28.9zM383.1 838.6h6.7v3.6h-6.7zM399 838.6h3.6v3.6h-3.6zM471.9 838.6h25.8v3.6h-25.8zM548 838.6h6.7v3.6h-6.7zM605.1 838.6h38.5v3.6h-38.5zM357.8 841.8h32.1v3.6h-32.1zM399 841.8h3.6v3.6h-3.6zM471.9 841.8h25.8v3.6h-25.8zM579.7 841.8h3.6v3.6h-3.6zM608.3 841.8h35.3v3.6h-35.3zM360.9 845h28.9v3.6h-28.9zM471.9 845h25.8v3.6h-25.8zM624.1 845h3.6v3.6h-3.6zM367.3 848.2h16.3v3.6h-16.3zM386.3 848.2h3.6v3.6h-3.6zM402.2 848.2h16.3v3.6h-16.3zM421.2 848.2h6.7v3.6h-6.7zM475.1 848.2h22.6v3.6h-22.6zM532.2 848.2h9.9v3.6h-9.9zM662.2 848.2h3.6v3.6h-3.6zM367.3 851.4h16.3v3.6h-16.3zM386.3 851.4h3.6v3.6h-3.6zM402.2 851.4h16.3v3.6h-16.3zM421.2 851.4h6.7v3.6h-6.7zM475.1 851.4h22.6v3.6h-22.6zM532.2 851.4h9.9v3.6h-9.9zM662.2 851.4h3.6v3.6h-3.6z"/><path fill="#3fc" d="M478.3 742.8h13.1v3.6h-13.1zM478.3 746h13.1v3.6h-13.1zM478.3 752.4h32.1v3.6h-32.1zM538.5 752.4h6.7v3.6h-6.7zM611.4 752.4h9.9v3.6h-9.9zM402.2 755.6h32.1v3.6h-32.1zM471.9 755.6h6.7v3.6h-6.7zM506.8 755.6h22.6v3.6h-22.6zM541.7 755.6h19.4v3.6h-19.4zM598.8 755.6h35.3v3.6h-35.3zM640 755.6h32.1v3.6h-32.1zM351.4 758.8h95.5v3.6h-95.5zM468.8 758.8h6.7v3.6h-6.7zM510 758.8h16.3v3.6h-16.3zM548 758.8h13.1v3.6h-13.1zM576.6 758.8h9.9v3.6h-9.9zM592.4 758.8h13.1v3.6h-13.1zM624.1 758.8h19.4v3.6h-19.4zM652.7 758.8h32.1v3.6h-32.1zM351.4 762h16.3v3.6h-16.3zM373.6 762h101.9v3.6h-101.9zM506.8 762h19.4v3.6h-19.4zM541.7 762h16.3v3.6h-16.3zM595.6 762h9.9v3.6h-9.9zM624.1 762h13.1v3.6h-13.1zM659 762h16.3v3.6h-16.3zM351.4 765.2h13.1v3.6h-13.1zM383.1 765.2h35.3v3.6h-35.3zM424.4 765.2h54.3v3.6h-54.3zM484.6 765.2h13.1v3.6h-13.1zM506.8 765.2h22.6v3.6h-22.6zM538.5 765.2h19.4v3.6h-19.4zM595.6 765.2h6.7v3.6h-6.7zM659 765.2h16.3v3.6h-16.3zM386.3 768.4h3.6v3.6h-3.6zM395.8 768.4h22.6v3.6h-22.6zM421.2 768.4h79.7v3.6h-79.7zM503.6 768.4h25.8v3.6h-25.8zM535.3 768.4h22.6v3.6h-22.6zM592.4 768.4h6.7v3.6h-6.7zM659 768.4h13.1v3.6h-13.1zM399 771.6h38.5v3.6h-38.5zM465.6 771.6h92.4v3.6h-92.4zM560.7 771.6h19.4v3.6h-19.4zM589.2 771.6h6.7v3.6h-6.7zM659 771.6h13.1v3.6h-13.1zM399 774.8h32.1v3.6h-32.1zM475.1 774.8h48v3.6h-48zM532.2 774.8h38.5v3.6h-38.5zM579.7 774.8h13.1v3.6h-13.1zM662.2 774.8h22.6v3.6h-22.6zM544.9 777.9h13.1v3.6h-13.1zM665.3 777.9h19.4v3.6h-19.4zM601.9 781.1h3.6v3.6h-3.6zM611.4 781.1h6.7v3.6h-6.7zM475.1 784.3h3.6v3.6h-3.6zM598.8 784.3h3.6v3.6h-3.6zM617.8 784.3h3.6v3.6h-3.6zM414.8 787.5h9.9v3.6h-9.9zM598.8 787.5h3.6v3.6h-3.6zM617.8 787.5h3.6v3.6h-3.6zM655.8 787.5h3.6v3.6h-3.6zM662.2 787.5h6.7v3.6h-6.7zM357.8 790.7h16.3v3.6h-16.3zM405.3 790.7h6.7v3.6h-6.7zM427.5 790.7h13.1v3.6h-13.1zM475.1 790.7h3.6v3.6h-3.6zM487.8 790.7h3.6v3.6h-3.6zM529 790.7h32.1v3.6h-32.1zM595.6 790.7h6.7v3.6h-6.7zM621 790.7h22.6v3.6h-22.6zM671.7 790.7h13.1v3.6h-13.1zM567 793.9h3.6v3.6h-3.6zM586.1 793.9h3.6v3.6h-3.6zM481.4 797.1h3.6v3.6h-3.6zM433.9 800.3h3.6v3.6h-3.6zM440.2 800.3h3.6v3.6h-3.6zM478.3 800.3h6.7v3.6h-6.7zM503.6 800.3h19.4v3.6h-19.4zM554.4 800.3h13.1v3.6h-13.1zM376.8 803.5h6.7v3.6h-6.7zM392.7 803.5h19.4v3.6h-19.4zM424.4 803.5h6.7v3.6h-6.7zM446.6 803.5h6.7v3.6h-6.7zM465.6 803.5h13.1v3.6h-13.1zM576.6 803.5h22.6v3.6h-22.6zM624.1 803.5h3.6v3.6h-3.6zM643.1 803.5h3.6v3.6h-3.6zM395.8 806.7h6.7v3.6h-6.7zM418 806.7h3.6v3.6h-3.6zM456.1 806.7h6.7v3.6h-6.7zM608.3 806.7h16.3v3.6h-16.3zM655.8 806.7h28.9v3.6h-28.9zM614.6 809.9h3.6v3.6h-3.6zM402.2 813.1h3.6v3.6h-3.6zM402.2 816.3h3.6v3.6h-3.6zM367.3 819.5h6.7v3.6h-6.7zM402.2 819.5h3.6v3.6h-3.6zM408.5 819.5h9.9v3.6h-9.9zM494.1 819.5h3.6v3.6h-3.6zM605.1 819.5h28.9v3.6h-28.9zM640 819.5h44.8v3.6h-44.8zM360.9 822.7h16.3v3.6h-16.3zM399 822.7h28.9v3.6h-28.9zM475.1 822.7h28.9v3.6h-28.9zM541.7 822.7h19.4v3.6h-19.4zM601.9 822.7h25.8v3.6h-25.8zM630.5 822.7h6.7v3.6h-6.7zM652.7 822.7h32.1v3.6h-32.1zM351.4 825.9h32.1v3.6h-32.1zM395.8 825.9h32.1v3.6h-32.1zM465.6 825.9h44.8v3.6h-44.8zM535.3 825.9h32.1v3.6h-32.1zM601.9 825.9h6.7v3.6h-6.7zM652.7 825.9h32.1v3.6h-32.1zM351.4 829h9.9v3.6h-9.9zM389.5 829h38.5v3.6h-38.5zM462.4 829h16.3v3.6h-16.3zM497.3 829h13.1v3.6h-13.1zM529 829h19.4v3.6h-19.4zM554.4 829h13.1v3.6h-13.1zM601.9 829h3.6v3.6h-3.6zM630.5 829h3.6v3.6h-3.6zM649.5 829h16.3v3.6h-16.3zM351.4 832.2h6.7v3.6h-6.7zM395.8 832.2h32.1v3.6h-32.1zM462.4 832.2h9.9v3.6h-9.9zM497.3 832.2h13.1v3.6h-13.1zM529 832.2h19.4v3.6h-19.4zM554.4 832.2h13.1v3.6h-13.1zM598.8 832.2h6.7v3.6h-6.7zM630.5 832.2h3.6v3.6h-3.6zM643.1 832.2h22.6v3.6h-22.6zM399 835.4h32.1v3.6h-32.1zM459.2 835.4h13.1v3.6h-13.1zM497.3 835.4h13.1v3.6h-13.1zM529 835.4h19.4v3.6h-19.4zM554.4 835.4h13.1v3.6h-13.1zM598.8 835.4h9.9v3.6h-9.9zM630.5 835.4h6.7v3.6h-6.7zM643.1 835.4h22.6v3.6h-22.6zM402.2 838.6h28.9v3.6h-28.9zM459.2 838.6h13.1v3.6h-13.1zM497.3 838.6h13.1v3.6h-13.1zM525.8 838.6h22.6v3.6h-22.6zM554.4 838.6h13.1v3.6h-13.1zM598.8 838.6h6.7v3.6h-6.7zM643.1 838.6h22.6v3.6h-22.6zM351.4 841.8h6.7v3.6h-6.7zM402.2 841.8h35.3v3.6h-35.3zM459.2 841.8h13.1v3.6h-13.1zM497.3 841.8h9.9v3.6h-9.9zM525.8 841.8h44.8v3.6h-44.8zM573.4 841.8h3.6v3.6h-3.6zM601.9 841.8h6.7v3.6h-6.7zM643.1 841.8h25.8v3.6h-25.8zM351.4 845h9.9v3.6h-9.9zM402.2 845h70.2v3.6h-70.2zM497.3 845h13.1v3.6h-13.1zM525.8 845h48v3.6h-48zM582.9 845h3.6v3.6h-3.6zM601.9 845h22.6v3.6h-22.6zM627.3 845h44.8v3.6h-44.8zM351.4 848.2h16.3v3.6h-16.3zM383.1 848.2h3.6v3.6h-3.6zM418 848.2h3.6v3.6h-3.6zM427.5 848.2h48v3.6h-48zM497.3 848.2h13.1v3.6h-13.1zM522.7 848.2h9.9v3.6h-9.9zM541.7 848.2h32.1v3.6h-32.1zM582.9 848.2h3.6v3.6h-3.6zM611.4 848.2h51.1v3.6h-51.1zM665.3 848.2h9.9v3.6h-9.9zM351.4 851.4h16.3v3.6h-16.3zM383.1 851.4h3.6v3.6h-3.6zM418 851.4h3.6v3.6h-3.6zM427.5 851.4h48v3.6h-48zM497.3 851.4h13.1v3.6h-13.1zM522.7 851.4h9.9v3.6h-9.9zM541.7 851.4h32.1v3.6h-32.1zM582.9 851.4h3.6v3.6h-3.6zM611.4 851.4h51.1v3.6h-51.1zM665.3 851.4h9.9v3.6h-9.9z"/><path fill="#4fb" d="M478.3 755.6h28.9v3.6h-28.9zM529 755.6h13.1v3.6h-13.1zM475.1 758.8h35.3v3.6h-35.3zM525.8 758.8h22.6v3.6h-22.6zM605.1 758.8h19.4v3.6h-19.4zM643.1 758.8h9.9v3.6h-9.9zM367.3 762h6.7v3.6h-6.7zM475.1 762h32.1v3.6h-32.1zM525.8 762h16.3v3.6h-16.3zM605.1 762h19.4v3.6h-19.4zM636.8 762h22.6v3.6h-22.6zM364.1 765.2h19.4v3.6h-19.4zM478.3 765.2h6.7v3.6h-6.7zM497.3 765.2h9.9v3.6h-9.9zM529 765.2h9.9v3.6h-9.9zM601.9 765.2h57.5v3.6h-57.5zM351.4 768.4h35.3v3.6h-35.3zM389.5 768.4h6.7v3.6h-6.7zM500.5 768.4h3.6v3.6h-3.6zM529 768.4h6.7v3.6h-6.7zM598.8 768.4h60.6v3.6h-60.6zM351.4 771.6h48v3.6h-48zM437 771.6h28.9v3.6h-28.9zM595.6 771.6h63.8v3.6h-63.8zM364.1 774.8h35.3v3.6h-35.3zM430.7 774.8h13.1v3.6h-13.1zM459.2 774.8h16.3v3.6h-16.3zM522.7 774.8h9.9v3.6h-9.9zM570.2 774.8h9.9v3.6h-9.9zM592.4 774.8h70.2v3.6h-70.2zM399 777.9h38.5v3.6h-38.5zM465.6 777.9h79.7v3.6h-79.7zM557.5 777.9h13.1v3.6h-13.1zM586.1 777.9h32.1v3.6h-32.1zM636.8 777.9h6.7v3.6h-6.7zM655.8 777.9h9.9v3.6h-9.9zM408.5 781.1h25.8v3.6h-25.8zM487.8 781.1h16.3v3.6h-16.3zM538.5 781.1h25.8v3.6h-25.8zM595.6 781.1h6.7v3.6h-6.7zM617.8 781.1h6.7v3.6h-6.7zM659 781.1h25.8v3.6h-25.8zM411.7 784.3h19.4v3.6h-19.4zM471.9 784.3h3.6v3.6h-3.6zM538.5 784.3h19.4v3.6h-19.4zM595.6 784.3h3.6v3.6h-3.6zM621 784.3h3.6v3.6h-3.6zM659 784.3h25.8v3.6h-25.8zM408.5 787.5h6.7v3.6h-6.7zM424.4 787.5h9.9v3.6h-9.9zM487.8 787.5h3.6v3.6h-3.6zM532.2 787.5h28.9v3.6h-28.9zM595.6 787.5h3.6v3.6h-3.6zM621 787.5h19.4v3.6h-19.4zM652.7 787.5h3.6v3.6h-3.6zM668.5 787.5h16.3v3.6h-16.3zM351.4 790.7h6.7v3.6h-6.7zM373.6 790.7h32.1v3.6h-32.1zM440.2 790.7h9.9v3.6h-9.9zM459.2 790.7h13.1v3.6h-13.1zM484.6 790.7h3.6v3.6h-3.6zM490.9 790.7h38.5v3.6h-38.5zM560.7 790.7h6.7v3.6h-6.7zM592.4 790.7h3.6v3.6h-3.6zM643.1 790.7h9.9v3.6h-9.9zM475.1 793.9h3.6v3.6h-3.6zM570.2 793.9h3.6v3.6h-3.6zM582.9 793.9h3.6v3.6h-3.6zM478.3 797.1h3.6v3.6h-3.6zM437 800.3h3.6v3.6h-3.6zM351.4 803.5h25.8v3.6h-25.8zM383.1 803.5h9.9v3.6h-9.9zM430.7 803.5h3.6v3.6h-3.6zM478.3 803.5h25.8v3.6h-25.8zM522.7 803.5h28.9v3.6h-28.9zM570.2 803.5h6.7v3.6h-6.7zM627.3 803.5h3.6v3.6h-3.6zM640 803.5h3.6v3.6h-3.6zM402.2 806.7h16.3v3.6h-16.3zM421.2 806.7h6.7v3.6h-6.7zM449.7 806.7h6.7v3.6h-6.7zM462.4 806.7h13.1v3.6h-13.1zM582.9 806.7h25.8v3.6h-25.8zM624.1 806.7h3.6v3.6h-3.6zM643.1 806.7h13.1v3.6h-13.1zM402.2 809.9h3.6v3.6h-3.6zM408.5 809.9h19.4v3.6h-19.4zM452.9 809.9h16.3v3.6h-16.3zM598.8 809.9h16.3v3.6h-16.3zM617.8 809.9h6.7v3.6h-6.7zM649.5 809.9h35.3v3.6h-35.3zM408.5 813.1h19.4v3.6h-19.4zM456.1 813.1h13.1v3.6h-13.1zM598.8 813.1h25.8v3.6h-25.8zM649.5 813.1h35.3v3.6h-35.3zM367.3 816.3h6.7v3.6h-6.7zM405.3 816.3h25.8v3.6h-25.8zM456.1 816.3h16.3v3.6h-16.3zM490.9 816.3h9.9v3.6h-9.9zM573.4 816.3h13.1v3.6h-13.1zM595.6 816.3h35.3v3.6h-35.3zM643.1 816.3h41.6v3.6h-41.6zM351.4 819.5h16.3v3.6h-16.3zM373.6 819.5h3.6v3.6h-3.6zM405.3 819.5h3.6v3.6h-3.6zM418 819.5h16.3v3.6h-16.3zM440.2 819.5h54.3v3.6h-54.3zM497.3 819.5h9.9v3.6h-9.9zM525.8 819.5h35.3v3.6h-35.3zM567 819.5h38.5v3.6h-38.5zM633.6 819.5h6.7v3.6h-6.7zM351.4 822.7h9.9v3.6h-9.9zM376.8 822.7h6.7v3.6h-6.7zM395.8 822.7h3.6v3.6h-3.6zM427.5 822.7h48v3.6h-48zM503.6 822.7h6.7v3.6h-6.7zM522.7 822.7h19.4v3.6h-19.4zM560.7 822.7h41.6v3.6h-41.6zM383.1 825.9h13.1v3.6h-13.1zM427.5 825.9h38.5v3.6h-38.5zM510 825.9h25.8v3.6h-25.8zM567 825.9h35.3v3.6h-35.3zM427.5 829h35.3v3.6h-35.3zM510 829h19.4v3.6h-19.4zM567 829h35.3v3.6h-35.3zM665.3 829h19.4v3.6h-19.4zM427.5 832.2h35.3v3.6h-35.3zM510 832.2h19.4v3.6h-19.4zM567 832.2h32.1v3.6h-32.1zM665.3 832.2h19.4v3.6h-19.4zM430.7 835.4h28.9v3.6h-28.9zM510 835.4h19.4v3.6h-19.4zM567 835.4h13.1v3.6h-13.1zM586.1 835.4h13.1v3.6h-13.1zM665.3 835.4h19.4v3.6h-19.4zM430.7 838.6h28.9v3.6h-28.9zM510 838.6h16.3v3.6h-16.3zM567 838.6h32.1v3.6h-32.1zM665.3 838.6h19.4v3.6h-19.4zM437 841.8h22.6v3.6h-22.6zM506.8 841.8h19.4v3.6h-19.4zM570.2 841.8h3.6v3.6h-3.6zM582.9 841.8h19.4v3.6h-19.4zM668.5 841.8h16.3v3.6h-16.3zM510 845h16.3v3.6h-16.3zM586.1 845h16.3v3.6h-16.3zM671.7 845h13.1v3.6h-13.1zM510 848.2h13.1v3.6h-13.1zM586.1 848.2h25.8v3.6h-25.8zM674.9 848.2h9.9v3.6h-9.9zM510 851.4h13.1v3.6h-13.1zM586.1 851.4h25.8v3.6h-25.8zM674.9 851.4h9.9v3.6h-9.9z"/><path fill="#5fa" d="M351.4 774.8h13.1v3.6h-13.1zM443.4 774.8h16.3v3.6h-16.3zM351.4 777.9h48v3.6h-48zM437 777.9h13.1v3.6h-13.1zM456.1 777.9h9.9v3.6h-9.9zM570.2 777.9h3.6v3.6h-3.6zM579.7 777.9h6.7v3.6h-6.7zM617.8 777.9h19.4v3.6h-19.4zM643.1 777.9h13.1v3.6h-13.1zM357.8 781.1h16.3v3.6h-16.3zM383.1 781.1h9.9v3.6h-9.9zM395.8 781.1h13.1v3.6h-13.1zM433.9 781.1h9.9v3.6h-9.9zM462.4 781.1h25.8v3.6h-25.8zM503.6 781.1h35.3v3.6h-35.3zM563.9 781.1h3.6v3.6h-3.6zM589.2 781.1h6.7v3.6h-6.7zM624.1 781.1h35.3v3.6h-35.3zM357.8 784.3h16.3v3.6h-16.3zM402.2 784.3h9.9v3.6h-9.9zM430.7 784.3h9.9v3.6h-9.9zM465.6 784.3h6.7v3.6h-6.7zM481.4 784.3h57.5v3.6h-57.5zM557.5 784.3h9.9v3.6h-9.9zM592.4 784.3h3.6v3.6h-3.6zM624.1 784.3h35.3v3.6h-35.3zM351.4 787.5h41.6v3.6h-41.6zM395.8 787.5h13.1v3.6h-13.1zM433.9 787.5h13.1v3.6h-13.1zM462.4 787.5h9.9v3.6h-9.9zM484.6 787.5h3.6v3.6h-3.6zM490.9 787.5h41.6v3.6h-41.6zM560.7 787.5h3.6v3.6h-3.6zM592.4 787.5h3.6v3.6h-3.6zM640 787.5h13.1v3.6h-13.1zM449.7 790.7h9.9v3.6h-9.9zM567 790.7h3.6v3.6h-3.6zM589.2 790.7h3.6v3.6h-3.6zM481.4 793.9h3.6v3.6h-3.6zM573.4 793.9h9.9v3.6h-9.9zM443.4 803.5h3.6v3.6h-3.6zM503.6 803.5h3.6v3.6h-3.6zM516.3 803.5h6.7v3.6h-6.7zM551.2 803.5h6.7v3.6h-6.7zM563.9 803.5h6.7v3.6h-6.7zM630.5 803.5h9.9v3.6h-9.9zM364.1 806.7h22.6v3.6h-22.6zM389.5 806.7h6.7v3.6h-6.7zM427.5 806.7h3.6v3.6h-3.6zM446.6 806.7h3.6v3.6h-3.6zM475.1 806.7h6.7v3.6h-6.7zM487.8 806.7h13.1v3.6h-13.1zM525.8 806.7h3.6v3.6h-3.6zM538.5 806.7h13.1v3.6h-13.1zM570.2 806.7h13.1v3.6h-13.1zM627.3 806.7h3.6v3.6h-3.6zM370.5 809.9h6.7v3.6h-6.7zM392.7 809.9h3.6v3.6h-3.6zM405.3 809.9h3.6v3.6h-3.6zM427.5 809.9h3.6v3.6h-3.6zM446.6 809.9h6.7v3.6h-6.7zM468.8 809.9h9.9v3.6h-9.9zM541.7 809.9h6.7v3.6h-6.7zM573.4 809.9h25.8v3.6h-25.8zM624.1 809.9h3.6v3.6h-3.6zM643.1 809.9h6.7v3.6h-6.7zM351.4 813.1h6.7v3.6h-6.7zM364.1 813.1h13.1v3.6h-13.1zM405.3 813.1h3.6v3.6h-3.6zM427.5 813.1h6.7v3.6h-6.7zM446.6 813.1h9.9v3.6h-9.9zM468.8 813.1h9.9v3.6h-9.9zM490.9 813.1h9.9v3.6h-9.9zM532.2 813.1h19.4v3.6h-19.4zM573.4 813.1h25.8v3.6h-25.8zM624.1 813.1h3.6v3.6h-3.6zM643.1 813.1h6.7v3.6h-6.7zM351.4 816.3h16.3v3.6h-16.3zM373.6 816.3h6.7v3.6h-6.7zM430.7 816.3h25.8v3.6h-25.8zM471.9 816.3h19.4v3.6h-19.4zM500.5 816.3h6.7v3.6h-6.7zM522.7 816.3h32.1v3.6h-32.1zM567 816.3h6.7v3.6h-6.7zM586.1 816.3h9.9v3.6h-9.9zM630.5 816.3h3.6v3.6h-3.6zM636.8 816.3h6.7v3.6h-6.7zM376.8 819.5h3.6v3.6h-3.6zM433.9 819.5h6.7v3.6h-6.7zM506.8 819.5h6.7v3.6h-6.7zM519.5 819.5h6.7v3.6h-6.7zM560.7 819.5h6.7v3.6h-6.7zM383.1 822.7h3.6v3.6h-3.6zM392.7 822.7h3.6v3.6h-3.6zM510 822.7h13.1v3.6h-13.1zM579.7 835.4h6.7v3.6h-6.7z"/><path fill="#6f9" d="M449.7 777.9h6.7v3.6h-6.7zM573.4 777.9h6.7v3.6h-6.7zM351.4 781.1h6.7v3.6h-6.7zM373.6 781.1h9.9v3.6h-9.9zM392.7 781.1h3.6v3.6h-3.6zM443.4 781.1h6.7v3.6h-6.7zM452.9 781.1h9.9v3.6h-9.9zM567 781.1h3.6v3.6h-3.6zM586.1 781.1h3.6v3.6h-3.6zM351.4 784.3h6.7v3.6h-6.7zM373.6 784.3h28.9v3.6h-28.9zM440.2 784.3h9.9v3.6h-9.9zM456.1 784.3h9.9v3.6h-9.9zM478.3 784.3h3.6v3.6h-3.6zM567 784.3h3.6v3.6h-3.6zM589.2 784.3h3.6v3.6h-3.6zM392.7 787.5h3.6v3.6h-3.6zM446.6 787.5h16.3v3.6h-16.3zM481.4 787.5h3.6v3.6h-3.6zM563.9 787.5h3.6v3.6h-3.6zM589.2 787.5h3.6v3.6h-3.6zM586.1 790.7h3.6v3.6h-3.6zM433.9 803.5h9.9v3.6h-9.9zM506.8 803.5h9.9v3.6h-9.9zM557.5 803.5h6.7v3.6h-6.7zM351.4 806.7h13.1v3.6h-13.1zM386.3 806.7h3.6v3.6h-3.6zM430.7 806.7h3.6v3.6h-3.6zM443.4 806.7h3.6v3.6h-3.6zM481.4 806.7h6.7v3.6h-6.7zM500.5 806.7h6.7v3.6h-6.7zM516.3 806.7h9.9v3.6h-9.9zM529 806.7h9.9v3.6h-9.9zM551.2 806.7h3.6v3.6h-3.6zM567 806.7h3.6v3.6h-3.6zM640 806.7h3.6v3.6h-3.6zM351.4 809.9h19.4v3.6h-19.4zM376.8 809.9h6.7v3.6h-6.7zM430.7 809.9h3.6v3.6h-3.6zM443.4 809.9h3.6v3.6h-3.6zM478.3 809.9h25.8v3.6h-25.8zM519.5 809.9h22.6v3.6h-22.6zM548 809.9h6.7v3.6h-6.7zM567 809.9h6.7v3.6h-6.7zM627.3 809.9h3.6v3.6h-3.6zM640 809.9h3.6v3.6h-3.6zM357.8 813.1h6.7v3.6h-6.7zM376.8 813.1h3.6v3.6h-3.6zM392.7 813.1h3.6v3.6h-3.6zM433.9 813.1h13.1v3.6h-13.1zM478.3 813.1h13.1v3.6h-13.1zM500.5 813.1h6.7v3.6h-6.7zM519.5 813.1h13.1v3.6h-13.1zM551.2 813.1h3.6v3.6h-3.6zM567 813.1h6.7v3.6h-6.7zM627.3 813.1h3.6v3.6h-3.6zM640 813.1h3.6v3.6h-3.6zM506.8 816.3h16.3v3.6h-16.3zM554.4 816.3h13.1v3.6h-13.1zM633.6 816.3h3.6v3.6h-3.6zM380 819.5h3.6v3.6h-3.6zM392.7 819.5h3.6v3.6h-3.6zM513.1 819.5h6.7v3.6h-6.7zM386.3 822.7h6.7v3.6h-6.7z"/><path fill="#7f8" d="M449.7 781.1h3.6v3.6h-3.6zM570.2 781.1h6.7v3.6h-6.7zM579.7 781.1h6.7v3.6h-6.7zM449.7 784.3h6.7v3.6h-6.7zM586.1 784.3h3.6v3.6h-3.6zM478.3 787.5h3.6v3.6h-3.6zM567 787.5h3.6v3.6h-3.6zM586.1 787.5h3.6v3.6h-3.6zM481.4 790.7h3.6v3.6h-3.6zM570.2 790.7h3.6v3.6h-3.6zM582.9 790.7h3.6v3.6h-3.6zM433.9 806.7h9.9v3.6h-9.9zM506.8 806.7h9.9v3.6h-9.9zM554.4 806.7h13.1v3.6h-13.1zM630.5 806.7h9.9v3.6h-9.9zM383.1 809.9h9.9v3.6h-9.9zM433.9 809.9h9.9v3.6h-9.9zM503.6 809.9h16.3v3.6h-16.3zM554.4 809.9h13.1v3.6h-13.1zM630.5 809.9h9.9v3.6h-9.9zM380 813.1h3.6v3.6h-3.6zM506.8 813.1h13.1v3.6h-13.1zM554.4 813.1h13.1v3.6h-13.1zM630.5 813.1h9.9v3.6h-9.9zM380 816.3h3.6v3.6h-3.6zM392.7 816.3h3.6v3.6h-3.6z"/><path fill="#8f7" d="M576.6 781.1h3.6v3.6h-3.6zM570.2 784.3h3.6v3.6h-3.6zM582.9 784.3h3.6v3.6h-3.6zM570.2 787.5h3.6v3.6h-3.6zM582.9 787.5h3.6v3.6h-3.6zM478.3 790.7h3.6v3.6h-3.6zM573.4 790.7h9.9v3.6h-9.9zM478.3 793.9h3.6v3.6h-3.6zM383.1 813.1h3.6v3.6h-3.6zM383.1 819.5h3.6v3.6h-3.6z"/><path fill="#9f6" d="M573.4 784.3h9.9v3.6h-9.9zM573.4 787.5h9.9v3.6h-9.9zM386.3 813.1h6.7v3.6h-6.7zM383.1 816.3h3.6v3.6h-3.6zM386.3 819.5h6.7v3.6h-6.7z"/><path fill="#0df" d="M655.8 793.9h3.6v3.6h-3.6zM655.8 797.1h3.6v3.6h-3.6zM662.2 797.1h6.7v3.6h-6.7zM399 816.3h3.6v3.6h-3.6z"/><path fill="#0cf" d="M659 793.9h3.6v3.6h-3.6zM659 797.1h3.6v3.6h-3.6zM395.8 813.1h3.6v3.6h-3.6zM392.7 841.8h3.6v3.6h-3.6zM395.8 848.2h3.6v3.6h-3.6zM395.8 851.4h3.6v3.6h-3.6z"/><path fill="#0bf" d="M399 813.1h3.6v3.6h-3.6zM395.8 845h3.6v3.6h-3.6zM576.6 845h3.6v3.6h-3.6zM392.7 848.2h3.6v3.6h-3.6zM576.6 848.2h3.6v3.6h-3.6zM392.7 851.4h3.6v3.6h-3.6zM576.6 851.4h3.6v3.6h-3.6z"/><path fill="#af5" d="M386.3 816.3h6.7v3.6h-6.7z"/><path fill="#09f" d="M392.7 845h3.6v3.6h-3.6z"/></g></g></g><rect x="354.5" y="749.1" width="326.8" height="105.6" fill="none" stroke="#333" stroke-width="0.6"/><path d="M354.6 774.2 H681.2 M354.6 801.8 H681.2 M354.6 829.6 H681.2 M418 749.2 V854.6 M484.5 749.2 V854.6 M551 749.2 V854.6 M617.5 749.2 V854.6" stroke="#2a7a60" stroke-width="0.6" opacity="0.4" fill="none"/><rect x="351.5" y="746.2" width="332.9" height="111.6" fill="none" stroke="#666" stroke-width="0.7"/><rect x="351.5" y="854.6" width="33.3" height="3.2" fill="#000"/><rect x="384.8" y="746.2" width="33.3" height="3" fill="#000"/><rect x="418.1" y="854.6" width="33.3" height="3.2" fill="#000"/><rect x="451.4" y="746.2" width="33.3" height="3" fill="#000"/><rect x="484.7" y="854.6" width="33.3" height="3.2" fill="#000"/><rect x="518" y="746.2" width="33.3" height="3" fill="#000"/><rect x="551.2" y="854.6" width="33.3" height="3.2" fill="#000"/><rect x="584.5" y="746.2" width="33.3" height="3" fill="#000"/><rect x="617.8" y="854.6" width="33.3" height="3.2" fill="#000"/><rect x="651.1" y="746.2" width="33.3" height="3" fill="#000"/><rect x="681.2" y="746.2" width="3.2" height="13.9" fill="#000"/><rect x="351.5" y="760.2" width="3" height="13.9" fill="#000"/><rect x="681.2" y="774.1" width="3.2" height="13.9" fill="#000"/><rect x="351.5" y="788" width="3" height="13.9" fill="#000"/><rect x="681.2" y="802" width="3.2" height="13.9" fill="#000"/><rect x="351.5" y="816" width="3" height="13.9" fill="#000"/><rect x="681.2" y="829.9" width="3.2" height="13.9" fill="#000"/><rect x="351.5" y="843.8" width="3" height="13.9" fill="#000"/><rect x="351.3" y="877.6" width="333.1" height="14.7" fill="url(#jetg)" stroke="#222" stroke-width="0.8"/><path d="M385 892.3 V889.8 M451.5 892.3 V889.8 M518 892.3 V889.8 M584.5 892.3 V889.8 M651.3 892.3 V889.8" stroke="#222" stroke-width="0.8"/><text x="179" y="41" font-size="16.3" fill="#111" text-anchor="middle">An example of a composite layer</text><text x="52.6" y="113.5" font-size="16.05" fill="#111" text-anchor="start">Layer</text><text x="52.6" y="131.1" font-size="16.05" fill="#111" text-anchor="start">input</text><text x="282.2" y="103.1" font-size="16.05" fill="#111" text-anchor="start">Layer</text><text x="282.2" y="121.3" font-size="16.05" fill="#111" text-anchor="start">output</text><text x="552" y="41.7" font-size="23.3" fill="#111" text-anchor="middle">DNN of DL model</text><text x="392.6" y="74.7" font-size="16.05" fill="#111" text-anchor="start">Stack level 4</text><text x="392.5" y="160.2" font-size="16" fill="#111" text-anchor="start">Stack level 3</text><text x="286.6" y="316" font-size="16.05" fill="#111" text-anchor="start">Stack level 2</text><text x="48.4" y="620" font-size="16.05" fill="#111" text-anchor="start">Stack level 1</text><text x="644.6" y="65.8" font-size="16.05" fill="#111" text-anchor="start">Output</text><text x="644.6" y="83.3" font-size="16.05" fill="#111" text-anchor="start">at level 4</text><text x="644.6" y="133.8" font-size="16.05" fill="#111" text-anchor="start">Output</text><text x="644.6" y="151.5" font-size="16.05" fill="#111" text-anchor="start">at level 3</text><text x="644.2" y="265.7" font-size="16.05" fill="#111" text-anchor="start">Output</text><text x="644.2" y="284" font-size="16.05" fill="#111" text-anchor="start">at level 2</text><text x="644.6" y="522.3" font-size="16.05" fill="#111" text-anchor="start">Output</text><text x="644.6" y="539.9" font-size="16.05" fill="#111" text-anchor="start">of DNN</text><text x="644.6" y="557.3" font-size="16.05" fill="#111" text-anchor="start">(at level 1)</text><text x="136.3" y="416.2" font-size="16" fill="#111" text-anchor="start">Previous SST maps</text><text x="28.6" y="539.9" font-size="16.05" fill="#111" text-anchor="start">Input</text><text x="129.4" y="530.2" font-size="16.05" fill="#111" text-anchor="start">Current</text><text x="129.4" y="548.2" font-size="16.05" fill="#111" text-anchor="start">SST map</text><text x="425.2" y="657.5" font-size="16.05" fill="#111" text-anchor="start">Forecasted</text><text x="425.2" y="674.9" font-size="16.05" fill="#111" text-anchor="start">SST map</text><text x="646" y="657.1" font-size="16.2" fill="#111" text-anchor="start">Bias corre-</text><text x="646" y="675.1" font-size="16.2" fill="#111" text-anchor="start">ction map</text><text x="191.2" y="672.6" font-size="15.8" fill="#e028e0" text-anchor="start">Recursive manner (optional)</text><text x="13" y="722" font-size="37.3" fill="#0000e0" text-anchor="start">DL model</text><text x="63.2" y="776.5" font-size="16.3" fill="#111" text-anchor="start">Pooling layer</text><text x="64" y="827.5" font-size="16.3" fill="#111" text-anchor="start">Convolutional layer</text><text x="64" y="877.2" font-size="16.3" fill="#111" text-anchor="start">Up-sampling layer</text><text x="364" y="768.8" font-size="16.3" fill="#0c2010" text-anchor="start">Bias correction map</text><text x="347.4" y="751.8" font-size="11.6" fill="#222" text-anchor="end">10<tspan font-size="8" dy="-5">o</tspan><tspan dy="5">N</tspan></text><text x="347.4" y="779.8" font-size="11.6" fill="#222" text-anchor="end">5<tspan font-size="8" dy="-5">o</tspan><tspan dy="5">N</tspan></text><text x="341" y="807.5" font-size="11.6" fill="#222" text-anchor="end">0<tspan font-size="8" dy="-5">o</tspan><tspan dy="5"></tspan></text><text x="347.4" y="835.7" font-size="11.6" fill="#222" text-anchor="end">5<tspan font-size="8" dy="-5">o</tspan><tspan dy="5">S</tspan></text><text x="347.4" y="863.7" font-size="11.6" fill="#222" text-anchor="end">10<tspan font-size="8" dy="-5">o</tspan><tspan dy="5">S</tspan></text><text x="351.5" y="872.3" font-size="11.6" fill="#222" text-anchor="middle">180<tspan font-size="8" dy="-5">o</tspan><tspan dy="5">W</tspan></text><text x="418" y="872.3" font-size="11.6" fill="#222" text-anchor="middle">168<tspan font-size="8" dy="-5">o</tspan><tspan dy="5">W</tspan></text><text x="484.5" y="872.3" font-size="11.6" fill="#222" text-anchor="middle">156<tspan font-size="8" dy="-5">o</tspan><tspan dy="5">W</tspan></text><text x="551" y="872.3" font-size="11.6" fill="#222" text-anchor="middle">144<tspan font-size="8" dy="-5">o</tspan><tspan dy="5">W</tspan></text><text x="617.5" y="872.3" font-size="11.6" fill="#222" text-anchor="middle">132<tspan font-size="8" dy="-5">o</tspan><tspan dy="5">W</tspan></text><text x="684.2" y="872.3" font-size="11.6" fill="#222" text-anchor="middle">120<tspan font-size="8" dy="-5">o</tspan><tspan dy="5">W</tspan></text><text x="383.8" y="906.8" font-size="11.6" fill="#222" text-anchor="middle">−0.2</text><text x="450.3" y="906.8" font-size="11.6" fill="#222" text-anchor="middle">−0.1</text><text x="518" y="906.8" font-size="11.6" fill="#222" text-anchor="middle">0</text><text x="584.5" y="906.8" font-size="11.6" fill="#222" text-anchor="middle">0.1</text><text x="651.3" y="906.8" font-size="11.6" fill="#222" text-anchor="middle">0.2</text><text x="685.5" y="889.5" font-size="12" fill="#222" text-anchor="start"><tspan font-size="8" dy="-5">o</tspan><tspan dy="5">C</tspan></text>
</svg></body></html>
